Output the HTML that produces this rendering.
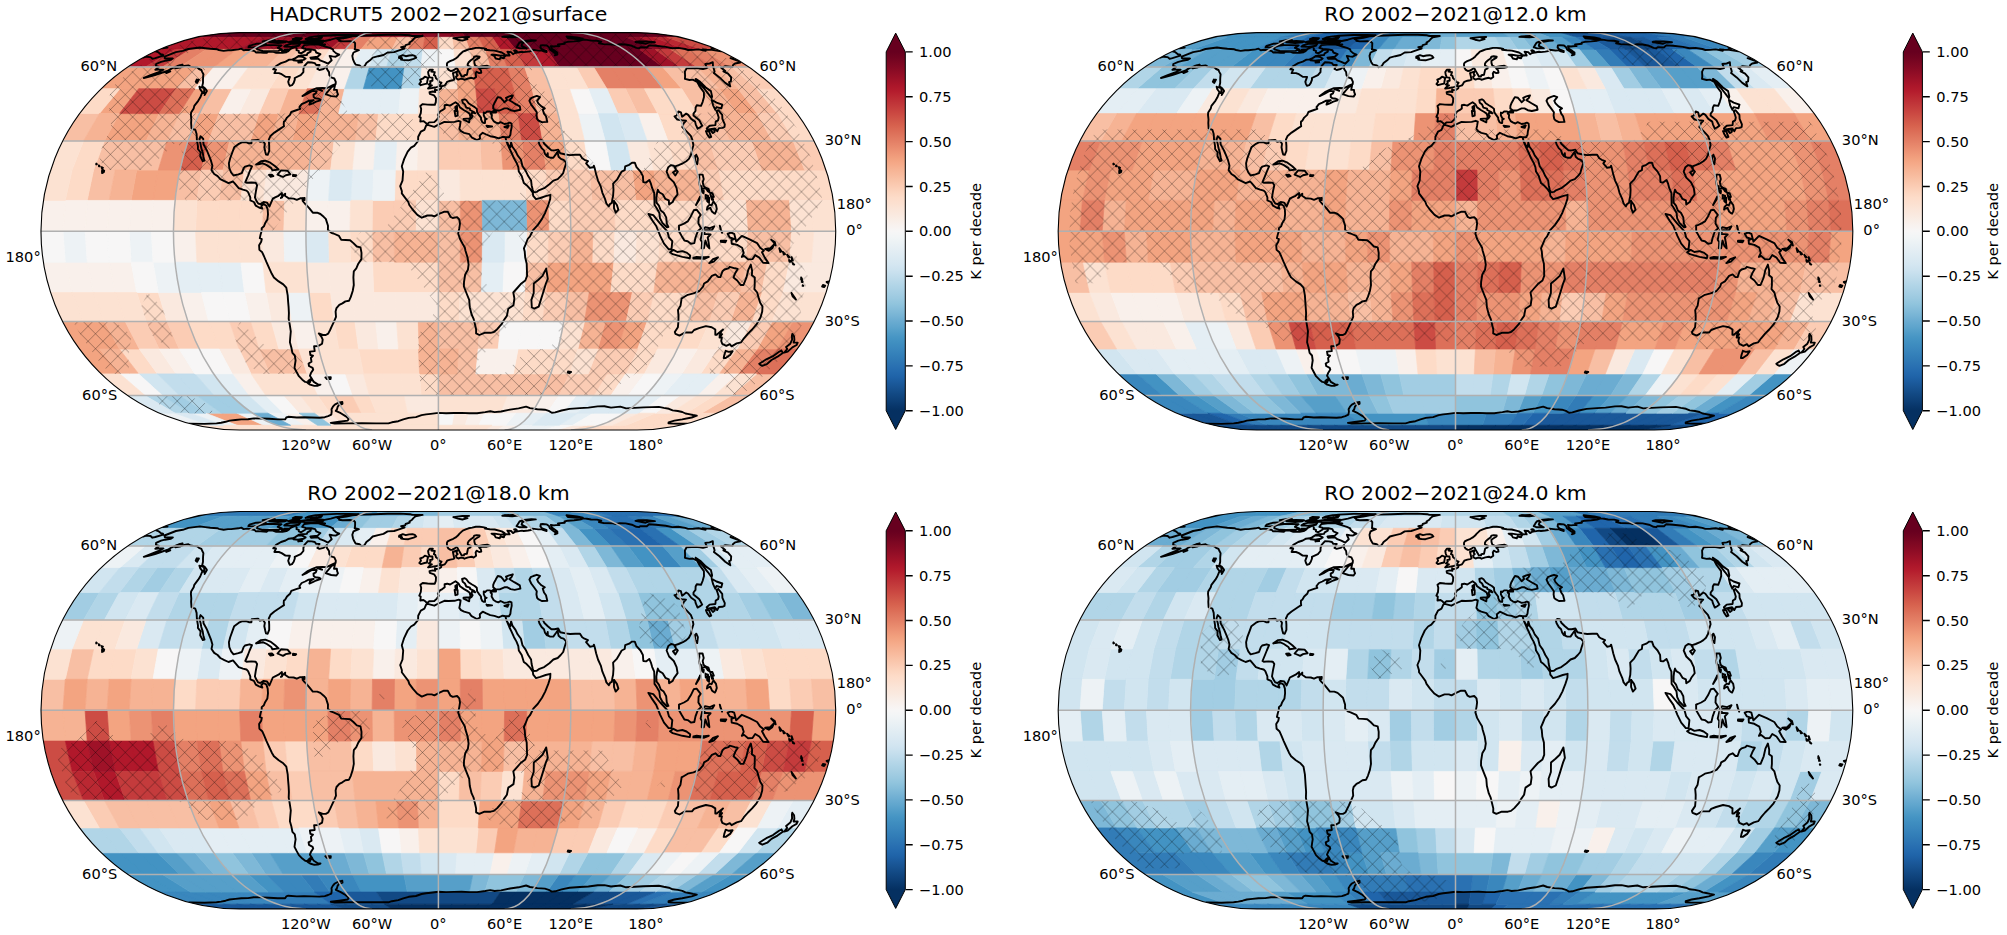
<!DOCTYPE html><html><head><meta charset="utf-8"><title>Temperature trends</title><style>html,body{margin:0;padding:0;background:#fff}svg{display:block}text{font-family:'DejaVu Sans','Liberation Sans',sans-serif;fill:#000}</style></head><body>
<svg width="2007" height="935" viewBox="0 0 2007 935">
<rect width="2007" height="935" fill="#fff"/>
<defs>
<pattern id="hxL" patternUnits="userSpaceOnUse" width="14.862" height="14.952" x="13.77" y="12.32"><path d="M-1.49 -1.5L16.35 16.45M-1.49 16.45L16.35 -1.5" stroke="#000" stroke-opacity="0.68" stroke-width="0.48" fill="none"/></pattern>
<pattern id="hxR" patternUnits="userSpaceOnUse" width="14.862" height="14.952" x="12.63" y="4.38"><path d="M-1.49 -1.5L16.35 16.45M-1.49 16.45L16.35 -1.5" stroke="#000" stroke-opacity="0.68" stroke-width="0.48" fill="none"/></pattern>
<linearGradient id="cb0" gradientUnits="userSpaceOnUse" x1="0" y1="32.6" x2="0" y2="430"><stop offset="0" stop-color="#67001f"/><stop offset="0.0486" stop-color="#67001f"/><stop offset="0.0627" stop-color="#700320"/><stop offset="0.0768" stop-color="#7c0722"/><stop offset="0.0909" stop-color="#870a24"/><stop offset="0.1050" stop-color="#930e26"/><stop offset="0.1192" stop-color="#9f1228"/><stop offset="0.1333" stop-color="#ab162a"/><stop offset="0.1474" stop-color="#b41c2d"/><stop offset="0.1615" stop-color="#ba2832"/><stop offset="0.1756" stop-color="#bf3338"/><stop offset="0.1897" stop-color="#c53e3d"/><stop offset="0.2038" stop-color="#cb4942"/><stop offset="0.2179" stop-color="#d05548"/><stop offset="0.2320" stop-color="#d6604d"/><stop offset="0.2461" stop-color="#db6b55"/><stop offset="0.2602" stop-color="#df765e"/><stop offset="0.2743" stop-color="#e48066"/><stop offset="0.2884" stop-color="#e98b6e"/><stop offset="0.3025" stop-color="#ee9677"/><stop offset="0.3166" stop-color="#f2a17f"/><stop offset="0.3307" stop-color="#f5aa89"/><stop offset="0.3448" stop-color="#f6b394"/><stop offset="0.3589" stop-color="#f8bb9e"/><stop offset="0.3731" stop-color="#f9c4a9"/><stop offset="0.3872" stop-color="#fbccb4"/><stop offset="0.4013" stop-color="#fcd5bf"/><stop offset="0.4154" stop-color="#fddcc9"/><stop offset="0.4295" stop-color="#fce0d0"/><stop offset="0.4436" stop-color="#fbe5d8"/><stop offset="0.4577" stop-color="#fae9df"/><stop offset="0.4718" stop-color="#f9eee7"/><stop offset="0.4859" stop-color="#f8f2ef"/><stop offset="0.5000" stop-color="#f7f6f6"/><stop offset="0.5141" stop-color="#f2f5f6"/><stop offset="0.5282" stop-color="#ecf2f5"/><stop offset="0.5423" stop-color="#e6eff4"/><stop offset="0.5564" stop-color="#e0ecf3"/><stop offset="0.5705" stop-color="#dae9f2"/><stop offset="0.5846" stop-color="#d4e6f1"/><stop offset="0.5987" stop-color="#cce2ef"/><stop offset="0.6128" stop-color="#c2ddec"/><stop offset="0.6269" stop-color="#b8d8e9"/><stop offset="0.6411" stop-color="#aed3e6"/><stop offset="0.6552" stop-color="#a5cee3"/><stop offset="0.6693" stop-color="#9bc9e0"/><stop offset="0.6834" stop-color="#90c4dd"/><stop offset="0.6975" stop-color="#84bcd9"/><stop offset="0.7116" stop-color="#78b4d5"/><stop offset="0.7257" stop-color="#6bacd1"/><stop offset="0.7398" stop-color="#5fa5cd"/><stop offset="0.7539" stop-color="#529dc8"/><stop offset="0.7680" stop-color="#4695c4"/><stop offset="0.7821" stop-color="#3f8ec0"/><stop offset="0.7962" stop-color="#3a87bd"/><stop offset="0.8103" stop-color="#3480b9"/><stop offset="0.8244" stop-color="#2f79b5"/><stop offset="0.8385" stop-color="#2a71b2"/><stop offset="0.8526" stop-color="#246aae"/><stop offset="0.8667" stop-color="#1f63a8"/><stop offset="0.8808" stop-color="#1b5a9c"/><stop offset="0.8950" stop-color="#175290"/><stop offset="0.9091" stop-color="#124984"/><stop offset="0.9232" stop-color="#0e4179"/><stop offset="0.9373" stop-color="#09386d"/><stop offset="0.9514" stop-color="#053061"/><stop offset="1" stop-color="#053061"/></linearGradient>
<linearGradient id="cb1" gradientUnits="userSpaceOnUse" x1="0" y1="32.6" x2="0" y2="430"><stop offset="0" stop-color="#67001f"/><stop offset="0.0486" stop-color="#67001f"/><stop offset="0.0627" stop-color="#700320"/><stop offset="0.0768" stop-color="#7c0722"/><stop offset="0.0909" stop-color="#870a24"/><stop offset="0.1050" stop-color="#930e26"/><stop offset="0.1192" stop-color="#9f1228"/><stop offset="0.1333" stop-color="#ab162a"/><stop offset="0.1474" stop-color="#b41c2d"/><stop offset="0.1615" stop-color="#ba2832"/><stop offset="0.1756" stop-color="#bf3338"/><stop offset="0.1897" stop-color="#c53e3d"/><stop offset="0.2038" stop-color="#cb4942"/><stop offset="0.2179" stop-color="#d05548"/><stop offset="0.2320" stop-color="#d6604d"/><stop offset="0.2461" stop-color="#db6b55"/><stop offset="0.2602" stop-color="#df765e"/><stop offset="0.2743" stop-color="#e48066"/><stop offset="0.2884" stop-color="#e98b6e"/><stop offset="0.3025" stop-color="#ee9677"/><stop offset="0.3166" stop-color="#f2a17f"/><stop offset="0.3307" stop-color="#f5aa89"/><stop offset="0.3448" stop-color="#f6b394"/><stop offset="0.3589" stop-color="#f8bb9e"/><stop offset="0.3731" stop-color="#f9c4a9"/><stop offset="0.3872" stop-color="#fbccb4"/><stop offset="0.4013" stop-color="#fcd5bf"/><stop offset="0.4154" stop-color="#fddcc9"/><stop offset="0.4295" stop-color="#fce0d0"/><stop offset="0.4436" stop-color="#fbe5d8"/><stop offset="0.4577" stop-color="#fae9df"/><stop offset="0.4718" stop-color="#f9eee7"/><stop offset="0.4859" stop-color="#f8f2ef"/><stop offset="0.5000" stop-color="#f7f6f6"/><stop offset="0.5141" stop-color="#f2f5f6"/><stop offset="0.5282" stop-color="#ecf2f5"/><stop offset="0.5423" stop-color="#e6eff4"/><stop offset="0.5564" stop-color="#e0ecf3"/><stop offset="0.5705" stop-color="#dae9f2"/><stop offset="0.5846" stop-color="#d4e6f1"/><stop offset="0.5987" stop-color="#cce2ef"/><stop offset="0.6128" stop-color="#c2ddec"/><stop offset="0.6269" stop-color="#b8d8e9"/><stop offset="0.6411" stop-color="#aed3e6"/><stop offset="0.6552" stop-color="#a5cee3"/><stop offset="0.6693" stop-color="#9bc9e0"/><stop offset="0.6834" stop-color="#90c4dd"/><stop offset="0.6975" stop-color="#84bcd9"/><stop offset="0.7116" stop-color="#78b4d5"/><stop offset="0.7257" stop-color="#6bacd1"/><stop offset="0.7398" stop-color="#5fa5cd"/><stop offset="0.7539" stop-color="#529dc8"/><stop offset="0.7680" stop-color="#4695c4"/><stop offset="0.7821" stop-color="#3f8ec0"/><stop offset="0.7962" stop-color="#3a87bd"/><stop offset="0.8103" stop-color="#3480b9"/><stop offset="0.8244" stop-color="#2f79b5"/><stop offset="0.8385" stop-color="#2a71b2"/><stop offset="0.8526" stop-color="#246aae"/><stop offset="0.8667" stop-color="#1f63a8"/><stop offset="0.8808" stop-color="#1b5a9c"/><stop offset="0.8950" stop-color="#175290"/><stop offset="0.9091" stop-color="#124984"/><stop offset="0.9232" stop-color="#0e4179"/><stop offset="0.9373" stop-color="#09386d"/><stop offset="0.9514" stop-color="#053061"/><stop offset="1" stop-color="#053061"/></linearGradient>
<linearGradient id="cb2" gradientUnits="userSpaceOnUse" x1="0" y1="511.5" x2="0" y2="908.9"><stop offset="0" stop-color="#67001f"/><stop offset="0.0486" stop-color="#67001f"/><stop offset="0.0627" stop-color="#700320"/><stop offset="0.0768" stop-color="#7c0722"/><stop offset="0.0909" stop-color="#870a24"/><stop offset="0.1050" stop-color="#930e26"/><stop offset="0.1192" stop-color="#9f1228"/><stop offset="0.1333" stop-color="#ab162a"/><stop offset="0.1474" stop-color="#b41c2d"/><stop offset="0.1615" stop-color="#ba2832"/><stop offset="0.1756" stop-color="#bf3338"/><stop offset="0.1897" stop-color="#c53e3d"/><stop offset="0.2038" stop-color="#cb4942"/><stop offset="0.2179" stop-color="#d05548"/><stop offset="0.2320" stop-color="#d6604d"/><stop offset="0.2461" stop-color="#db6b55"/><stop offset="0.2602" stop-color="#df765e"/><stop offset="0.2743" stop-color="#e48066"/><stop offset="0.2884" stop-color="#e98b6e"/><stop offset="0.3025" stop-color="#ee9677"/><stop offset="0.3166" stop-color="#f2a17f"/><stop offset="0.3307" stop-color="#f5aa89"/><stop offset="0.3448" stop-color="#f6b394"/><stop offset="0.3589" stop-color="#f8bb9e"/><stop offset="0.3731" stop-color="#f9c4a9"/><stop offset="0.3872" stop-color="#fbccb4"/><stop offset="0.4013" stop-color="#fcd5bf"/><stop offset="0.4154" stop-color="#fddcc9"/><stop offset="0.4295" stop-color="#fce0d0"/><stop offset="0.4436" stop-color="#fbe5d8"/><stop offset="0.4577" stop-color="#fae9df"/><stop offset="0.4718" stop-color="#f9eee7"/><stop offset="0.4859" stop-color="#f8f2ef"/><stop offset="0.5000" stop-color="#f7f6f6"/><stop offset="0.5141" stop-color="#f2f5f6"/><stop offset="0.5282" stop-color="#ecf2f5"/><stop offset="0.5423" stop-color="#e6eff4"/><stop offset="0.5564" stop-color="#e0ecf3"/><stop offset="0.5705" stop-color="#dae9f2"/><stop offset="0.5846" stop-color="#d4e6f1"/><stop offset="0.5987" stop-color="#cce2ef"/><stop offset="0.6128" stop-color="#c2ddec"/><stop offset="0.6269" stop-color="#b8d8e9"/><stop offset="0.6411" stop-color="#aed3e6"/><stop offset="0.6552" stop-color="#a5cee3"/><stop offset="0.6693" stop-color="#9bc9e0"/><stop offset="0.6834" stop-color="#90c4dd"/><stop offset="0.6975" stop-color="#84bcd9"/><stop offset="0.7116" stop-color="#78b4d5"/><stop offset="0.7257" stop-color="#6bacd1"/><stop offset="0.7398" stop-color="#5fa5cd"/><stop offset="0.7539" stop-color="#529dc8"/><stop offset="0.7680" stop-color="#4695c4"/><stop offset="0.7821" stop-color="#3f8ec0"/><stop offset="0.7962" stop-color="#3a87bd"/><stop offset="0.8103" stop-color="#3480b9"/><stop offset="0.8244" stop-color="#2f79b5"/><stop offset="0.8385" stop-color="#2a71b2"/><stop offset="0.8526" stop-color="#246aae"/><stop offset="0.8667" stop-color="#1f63a8"/><stop offset="0.8808" stop-color="#1b5a9c"/><stop offset="0.8950" stop-color="#175290"/><stop offset="0.9091" stop-color="#124984"/><stop offset="0.9232" stop-color="#0e4179"/><stop offset="0.9373" stop-color="#09386d"/><stop offset="0.9514" stop-color="#053061"/><stop offset="1" stop-color="#053061"/></linearGradient>
<linearGradient id="cb3" gradientUnits="userSpaceOnUse" x1="0" y1="511.5" x2="0" y2="908.9"><stop offset="0" stop-color="#67001f"/><stop offset="0.0486" stop-color="#67001f"/><stop offset="0.0627" stop-color="#700320"/><stop offset="0.0768" stop-color="#7c0722"/><stop offset="0.0909" stop-color="#870a24"/><stop offset="0.1050" stop-color="#930e26"/><stop offset="0.1192" stop-color="#9f1228"/><stop offset="0.1333" stop-color="#ab162a"/><stop offset="0.1474" stop-color="#b41c2d"/><stop offset="0.1615" stop-color="#ba2832"/><stop offset="0.1756" stop-color="#bf3338"/><stop offset="0.1897" stop-color="#c53e3d"/><stop offset="0.2038" stop-color="#cb4942"/><stop offset="0.2179" stop-color="#d05548"/><stop offset="0.2320" stop-color="#d6604d"/><stop offset="0.2461" stop-color="#db6b55"/><stop offset="0.2602" stop-color="#df765e"/><stop offset="0.2743" stop-color="#e48066"/><stop offset="0.2884" stop-color="#e98b6e"/><stop offset="0.3025" stop-color="#ee9677"/><stop offset="0.3166" stop-color="#f2a17f"/><stop offset="0.3307" stop-color="#f5aa89"/><stop offset="0.3448" stop-color="#f6b394"/><stop offset="0.3589" stop-color="#f8bb9e"/><stop offset="0.3731" stop-color="#f9c4a9"/><stop offset="0.3872" stop-color="#fbccb4"/><stop offset="0.4013" stop-color="#fcd5bf"/><stop offset="0.4154" stop-color="#fddcc9"/><stop offset="0.4295" stop-color="#fce0d0"/><stop offset="0.4436" stop-color="#fbe5d8"/><stop offset="0.4577" stop-color="#fae9df"/><stop offset="0.4718" stop-color="#f9eee7"/><stop offset="0.4859" stop-color="#f8f2ef"/><stop offset="0.5000" stop-color="#f7f6f6"/><stop offset="0.5141" stop-color="#f2f5f6"/><stop offset="0.5282" stop-color="#ecf2f5"/><stop offset="0.5423" stop-color="#e6eff4"/><stop offset="0.5564" stop-color="#e0ecf3"/><stop offset="0.5705" stop-color="#dae9f2"/><stop offset="0.5846" stop-color="#d4e6f1"/><stop offset="0.5987" stop-color="#cce2ef"/><stop offset="0.6128" stop-color="#c2ddec"/><stop offset="0.6269" stop-color="#b8d8e9"/><stop offset="0.6411" stop-color="#aed3e6"/><stop offset="0.6552" stop-color="#a5cee3"/><stop offset="0.6693" stop-color="#9bc9e0"/><stop offset="0.6834" stop-color="#90c4dd"/><stop offset="0.6975" stop-color="#84bcd9"/><stop offset="0.7116" stop-color="#78b4d5"/><stop offset="0.7257" stop-color="#6bacd1"/><stop offset="0.7398" stop-color="#5fa5cd"/><stop offset="0.7539" stop-color="#529dc8"/><stop offset="0.7680" stop-color="#4695c4"/><stop offset="0.7821" stop-color="#3f8ec0"/><stop offset="0.7962" stop-color="#3a87bd"/><stop offset="0.8103" stop-color="#3480b9"/><stop offset="0.8244" stop-color="#2f79b5"/><stop offset="0.8385" stop-color="#2a71b2"/><stop offset="0.8526" stop-color="#246aae"/><stop offset="0.8667" stop-color="#1f63a8"/><stop offset="0.8808" stop-color="#1b5a9c"/><stop offset="0.8950" stop-color="#175290"/><stop offset="0.9091" stop-color="#124984"/><stop offset="0.9232" stop-color="#0e4179"/><stop offset="0.9373" stop-color="#09386d"/><stop offset="0.9514" stop-color="#053061"/><stop offset="1" stop-color="#053061"/></linearGradient>
</defs>
<clipPath id="c0"><path d="M239.6 32.6L637.1 32.6A198.7 198.7 0 0 1 637.1 430L239.6 430A198.7 198.7 0 0 1 239.6 32.6Z"/></clipPath>
<g clip-path="url(#c0)">
<path fill="#67001f" stroke="#67001f" stroke-width="0.7" d="M236.3 30.6L250.7 30.6L210 37.3L192.6 37.3ZM250.7 30.6L261.7 30.6L223.5 37.3L210 37.3ZM261.7 30.6L272.7 30.6L236.9 37.3L223.5 37.3ZM272.7 30.6L283.8 30.6L250.3 37.3L236.9 37.3ZM283.8 30.6L294.8 30.6L263.8 37.3L250.3 37.3ZM294.8 30.6L305.9 30.6L277.2 37.3L263.8 37.3ZM305.9 30.6L316.9 30.6L290.6 37.3L277.2 37.3ZM316.9 30.6L327.9 30.6L304.1 37.3L290.6 37.3ZM327.9 30.6L339 30.6L317.5 37.3L304.1 37.3ZM339 30.6L350 30.6L330.9 37.3L317.5 37.3ZM350 30.6L361.1 30.6L344.3 37.3L330.9 37.3ZM361.1 30.6L372.1 30.6L357.8 37.3L344.3 37.3ZM460.4 30.6L471.5 30.6L478.6 37.3L465.2 37.3ZM471.5 30.6L482.5 30.6L492.1 37.3L478.6 37.3ZM482.5 30.6L493.6 30.6L505.5 37.3L492.1 37.3ZM493.6 30.6L504.6 30.6L518.9 37.3L505.5 37.3ZM504.6 30.6L515.6 30.6L532.4 37.3L518.9 37.3ZM515.6 30.6L526.7 30.6L545.8 37.3L532.4 37.3ZM526.7 30.6L537.7 30.6L559.2 37.3L545.8 37.3ZM537.7 30.6L548.8 30.6L572.6 37.3L559.2 37.3ZM548.8 30.6L559.8 30.6L586.1 37.3L572.6 37.3ZM559.8 30.6L570.8 30.6L599.5 37.3L586.1 37.3ZM570.8 30.6L581.9 30.6L612.9 37.3L599.5 37.3ZM581.9 30.6L592.9 30.6L626.4 37.3L612.9 37.3ZM592.9 30.6L604 30.6L639.8 37.3L626.4 37.3ZM604 30.6L615 30.6L653.2 37.3L639.8 37.3ZM615 30.6L626 30.6L666.7 37.3L653.2 37.3ZM626 30.6L640.4 30.6L684.1 37.3L666.7 37.3ZM505.5 37.3L518.9 37.3L531.3 49.4L515.8 49.4ZM518.9 37.3L532.4 37.3L546.8 49.4L531.3 49.4ZM532.4 37.3L545.8 37.3L562.3 49.4L546.8 49.4ZM545.8 37.3L559.2 37.3L577.7 49.4L562.3 49.4ZM559.2 37.3L572.6 37.3L593.2 49.4L577.7 49.4ZM572.6 37.3L586.1 37.3L608.7 49.4L593.2 49.4ZM586.1 37.3L599.5 37.3L624.2 49.4L608.7 49.4ZM599.5 37.3L612.9 37.3L639.7 49.4L624.2 49.4ZM612.9 37.3L626.4 37.3L655.2 49.4L639.7 49.4ZM546.8 49.4L562.3 49.4L576.3 67L559.1 67ZM562.3 49.4L577.7 49.4L593.6 67L576.3 67ZM577.7 49.4L593.2 49.4L610.8 67L593.6 67ZM593.2 49.4L608.7 49.4L628.1 67L610.8 67ZM608.7 49.4L624.2 49.4L645.3 67L628.1 67ZM624.2 49.4L639.7 49.4L662.6 67L645.3 67Z"/>
<path fill="#8a0b25" stroke="#8a0b25" stroke-width="0.7" d="M372.1 30.6L383.1 30.6L371.2 37.3L357.8 37.3ZM383.1 30.6L394.2 30.6L384.6 37.3L371.2 37.3ZM394.2 30.6L405.2 30.6L398.1 37.3L384.6 37.3ZM405.2 30.6L416.3 30.6L411.5 37.3L398.1 37.3ZM416.3 30.6L427.3 30.6L424.9 37.3L411.5 37.3ZM427.3 30.6L438.4 30.6L438.4 37.3L424.9 37.3ZM438.4 30.6L449.4 30.6L451.8 37.3L438.4 37.3ZM449.4 30.6L460.4 30.6L465.2 37.3L451.8 37.3ZM626.4 37.3L639.8 37.3L670.7 49.4L655.2 49.4Z"/>
<path fill="#b1182b" stroke="#b1182b" stroke-width="0.7" d="M192.6 37.3L210 37.3L175.1 49.4L154.9 49.4ZM210 37.3L223.5 37.3L190.5 49.4L175.1 49.4ZM223.5 37.3L236.9 37.3L206 49.4L190.5 49.4ZM236.9 37.3L250.3 37.3L221.5 49.4L206 49.4ZM250.3 37.3L263.8 37.3L237 49.4L221.5 49.4ZM492.1 37.3L505.5 37.3L515.8 49.4L500.3 49.4ZM639.8 37.3L653.2 37.3L686.2 49.4L670.7 49.4ZM154.9 49.4L175.1 49.4L145.1 67L122.7 67ZM531.3 49.4L546.8 49.4L559.1 67L541.8 67Z"/>
<path fill="#9f1228" stroke="#9f1228" stroke-width="0.7" d="M263.8 37.3L277.2 37.3L252.5 49.4L237 49.4ZM277.2 37.3L290.6 37.3L268 49.4L252.5 49.4ZM290.6 37.3L304.1 37.3L283.5 49.4L268 49.4ZM304.1 37.3L317.5 37.3L299 49.4L283.5 49.4ZM317.5 37.3L330.9 37.3L314.4 49.4L299 49.4ZM330.9 37.3L344.3 37.3L329.9 49.4L314.4 49.4ZM639.7 49.4L655.2 49.4L679.8 67L662.6 67Z"/>
<path fill="#c43b3c" stroke="#c43b3c" stroke-width="0.7" d="M344.3 37.3L357.8 37.3L345.4 49.4L329.9 49.4ZM175.1 49.4L190.5 49.4L162.4 67L145.1 67ZM515.8 49.4L531.3 49.4L541.8 67L524.6 67ZM655.2 49.4L670.7 49.4L697.1 67L679.8 67Z"/>
<path fill="#e48066" stroke="#e48066" stroke-width="0.7" d="M357.8 37.3L371.2 37.3L360.9 49.4L345.4 49.4ZM411.5 37.3L424.9 37.3L422.9 49.4L407.4 49.4ZM465.2 37.3L478.6 37.3L484.8 49.4L469.3 49.4ZM190.5 49.4L206 49.4L179.6 67L162.4 67ZM484.8 49.4L500.3 49.4L507.3 67L490.1 67ZM686.2 49.4L701.6 49.4L731.6 67L714.3 67ZM507.3 67L524.6 67L532 88.7L513.3 88.7ZM593.6 67L610.8 67L625.6 88.7L606.9 88.7ZM610.8 67L628.1 67L644.4 88.7L625.6 88.7ZM628.1 67L645.3 67L663.1 88.7L644.4 88.7ZM513.3 88.7L532 88.7L538 113.6L518.1 113.6ZM498.2 113.6L518.1 113.6L521.8 141L501 141ZM521.8 141L542.7 141L546.1 170.1L524.5 170.1ZM757.3 349L777.3 349L756.7 373.9L738 373.9Z"/>
<path fill="#f3a481" stroke="#f3a481" stroke-width="0.7" d="M371.2 37.3L384.6 37.3L376.4 49.4L360.9 49.4ZM384.6 37.3L398.1 37.3L391.9 49.4L376.4 49.4ZM237 49.4L252.5 49.4L231.4 67L214.1 67ZM122.7 67L145.1 67L120 88.7L95.6 88.7ZM145.1 67L162.4 67L138.7 88.7L120 88.7ZM162.4 67L179.6 67L157.4 88.7L138.7 88.7ZM179.6 67L196.9 67L176.1 88.7L157.4 88.7ZM455.6 67L472.8 67L475.8 88.7L457.1 88.7ZM645.3 67L662.6 67L681.8 88.7L663.1 88.7ZM120 88.7L138.7 88.7L119.4 113.6L99.4 113.6ZM194.9 88.7L213.6 88.7L199.1 113.6L179.2 113.6ZM457.1 88.7L475.8 88.7L478.2 113.6L458.3 113.6ZM719.3 88.7L738 88.7L757.3 113.6L737.4 113.6ZM119.4 113.6L139.3 113.6L125.2 141L104.4 141ZM139.3 113.6L159.2 113.6L146.1 141L125.2 141ZM199.1 113.6L219 113.6L208.7 141L187.9 141ZM258.9 113.6L278.9 113.6L271.4 141L250.5 141ZM298.8 113.6L318.7 113.6L313.1 141L292.2 141ZM542.7 141L563.6 141L567.6 170.1L546.1 170.1ZM136.7 170.1L158.3 170.1L153 200.4L131.1 200.4ZM158.3 170.1L179.8 170.1L175 200.4L153 200.4ZM632.3 170.1L653.8 170.1L657.8 200.4L635.9 200.4ZM548.1 262.2L570 262.2L567.6 292.5L546.1 292.5ZM570 262.2L592 262.2L589.2 292.5L567.6 292.5ZM592 262.2L613.9 262.2L610.7 292.5L589.2 292.5ZM56.3 321.6L83.5 321.6L99.4 349L73.5 349ZM83.5 321.6L104.4 321.6L119.4 349L99.4 349ZM626.2 321.6L647.1 321.6L637.7 349L617.8 349ZM772.3 321.6L793.2 321.6L777.3 349L757.3 349ZM73.5 349L99.4 349L120 373.9L95.6 373.9ZM206 413.2L221.5 413.2L250.3 425.3L236.9 425.3ZM221.5 413.2L237 413.2L263.8 425.3L250.3 425.3Z"/>
<path fill="#f8bfa4" stroke="#f8bfa4" stroke-width="0.7" d="M398.1 37.3L411.5 37.3L407.4 49.4L391.9 49.4ZM451.8 37.3L465.2 37.3L469.3 49.4L453.8 49.4ZM283.5 49.4L299 49.4L283.1 67L265.9 67ZM469.3 49.4L484.8 49.4L490.1 67L472.8 67ZM196.9 67L214.1 67L194.9 88.7L176.1 88.7ZM524.6 67L541.8 67L550.7 88.7L532 88.7ZM662.6 67L679.8 67L700.6 88.7L681.8 88.7ZM679.8 67L697.1 67L719.3 88.7L700.6 88.7ZM714.3 67L731.6 67L756.7 88.7L738 88.7ZM213.6 88.7L232.3 88.7L219 113.6L199.1 113.6ZM532 88.7L550.7 88.7L558 113.6L538 113.6ZM625.6 88.7L644.4 88.7L657.7 113.6L637.7 113.6ZM681.8 88.7L700.6 88.7L717.5 113.6L697.5 113.6ZM738 88.7L756.7 88.7L777.3 113.6L757.3 113.6ZM73.5 113.6L99.4 113.6L83.5 141L56.3 141ZM179.2 113.6L199.1 113.6L187.9 141L167 141ZM219 113.6L239 113.6L229.6 141L208.7 141ZM239 113.6L258.9 113.6L250.5 141L229.6 141ZM358.6 113.6L378.5 113.6L375.7 141L354.9 141ZM438.4 113.6L458.3 113.6L459.2 141L438.4 141ZM677.6 113.6L697.5 113.6L709.7 141L688.8 141ZM697.5 113.6L717.5 113.6L730.6 141L709.7 141ZM104.4 141L125.2 141L115.2 170.1L93.6 170.1ZM125.2 141L146.1 141L136.7 170.1L115.2 170.1ZM146.1 141L167 141L158.3 170.1L136.7 170.1ZM313.1 141L334 141L330.6 170.1L309.1 170.1ZM480.1 141L501 141L503 170.1L481.4 170.1ZM688.8 141L709.7 141L718.4 170.1L696.9 170.1ZM93.6 170.1L115.2 170.1L109.2 200.4L87.2 200.4ZM179.8 170.1L201.4 170.1L196.9 200.4L175 200.4ZM222.9 170.1L244.4 170.1L240.8 200.4L218.9 200.4ZM589.2 170.1L610.7 170.1L613.9 200.4L592 200.4ZM610.7 170.1L632.3 170.1L635.9 200.4L613.9 200.4ZM262.8 200.4L284.7 200.4L283.8 231.3L261.7 231.3ZM438.4 200.4L460.3 200.4L460.4 231.3L438.4 231.3ZM372.1 231.3L394.2 231.3L394.5 262.2L372.5 262.2ZM438.4 231.3L460.4 231.3L460.3 262.2L438.4 262.2ZM747.5 231.3L769.6 231.3L767.5 262.2L745.6 262.2ZM769.6 231.3L791.6 231.3L789.5 262.2L767.5 262.2ZM438.4 262.2L460.3 262.2L459.9 292.5L438.4 292.5ZM460.3 262.2L482.2 262.2L481.4 292.5L459.9 292.5ZM526.1 262.2L548.1 262.2L546.1 292.5L524.5 292.5ZM745.6 262.2L767.5 262.2L761.5 292.5L740 292.5ZM567.6 292.5L589.2 292.5L584.5 321.6L563.6 321.6ZM696.9 292.5L718.4 292.5L709.7 321.6L688.8 321.6ZM146.1 321.6L167 321.6L179.2 349L159.2 349ZM438.4 321.6L459.2 321.6L458.3 349L438.4 349ZM459.2 321.6L480.1 321.6L478.2 349L458.3 349ZM258.9 349L278.9 349L288.5 373.9L269.8 373.9ZM278.9 349L298.8 349L307.2 373.9L288.5 373.9ZM458.3 349L478.2 349L475.8 373.9L457.1 373.9ZM438.4 373.9L457.1 373.9L455.6 395.6L438.4 395.6ZM457.1 373.9L475.8 373.9L472.8 395.6L455.6 395.6ZM475.8 373.9L494.5 373.9L490.1 395.6L472.8 395.6ZM494.5 373.9L513.3 373.9L507.3 395.6L490.1 395.6ZM513.3 373.9L532 373.9L524.6 395.6L507.3 395.6ZM532 373.9L550.7 373.9L541.8 395.6L524.6 395.6ZM550.7 373.9L569.5 373.9L559.1 395.6L541.8 395.6ZM756.7 373.9L781.1 373.9L754 395.6L731.6 395.6ZM731.6 395.6L754 395.6L721.8 413.2L701.6 413.2Z"/>
<path fill="#d6604d" stroke="#d6604d" stroke-width="0.7" d="M424.9 37.3L438.4 37.3L438.4 49.4L422.9 49.4ZM478.6 37.3L492.1 37.3L500.3 49.4L484.8 49.4ZM500.3 49.4L515.8 49.4L524.6 67L507.3 67ZM472.8 67L490.1 67L494.5 88.7L475.8 88.7ZM490.1 67L507.3 67L513.3 88.7L494.5 88.7ZM494.5 88.7L513.3 88.7L518.1 113.6L498.2 113.6ZM187.9 141L208.7 141L201.4 170.1L179.8 170.1Z"/>
<path fill="#fddbc7" stroke="#fddbc7" stroke-width="0.7" d="M438.4 37.3L451.8 37.3L453.8 49.4L438.4 49.4ZM314.4 49.4L329.9 49.4L317.6 67L300.4 67ZM283.1 67L300.4 67L288.5 88.7L269.8 88.7ZM95.6 88.7L120 88.7L99.4 113.6L73.5 113.6ZM644.4 88.7L663.1 88.7L677.6 113.6L657.7 113.6ZM663.1 88.7L681.8 88.7L697.5 113.6L677.6 113.6ZM756.7 88.7L781.1 88.7L803.2 113.6L777.3 113.6ZM378.5 113.6L398.5 113.6L396.6 141L375.7 141ZM398.5 113.6L418.4 113.6L417.5 141L396.6 141ZM418.4 113.6L438.4 113.6L438.4 141L417.5 141ZM657.7 113.6L677.6 113.6L688.8 141L668 141ZM777.3 113.6L803.2 113.6L820.4 141L793.2 141ZM83.5 141L104.4 141L93.6 170.1L72.1 170.1ZM563.6 141L584.5 141L589.2 170.1L567.6 170.1ZM668 141L688.8 141L696.9 170.1L675.3 170.1ZM72.1 170.1L93.6 170.1L87.2 200.4L65.3 200.4ZM395.3 170.1L416.8 170.1L416.4 200.4L394.5 200.4ZM416.8 170.1L438.4 170.1L438.4 200.4L416.4 200.4ZM524.5 170.1L546.1 170.1L548.1 200.4L526.1 200.4ZM718.4 170.1L740 170.1L745.6 200.4L723.7 200.4ZM740 170.1L761.5 170.1L767.5 200.4L745.6 200.4ZM761.5 170.1L783.1 170.1L789.5 200.4L767.5 200.4ZM783.1 170.1L804.6 170.1L811.4 200.4L789.5 200.4ZM804.6 170.1L832.6 170.1L840 200.4L811.4 200.4ZM196.9 200.4L218.9 200.4L217.5 231.3L195.5 231.3ZM218.9 200.4L240.8 200.4L239.6 231.3L217.5 231.3ZM240.8 200.4L262.8 200.4L261.7 231.3L239.6 231.3ZM548.1 200.4L570 200.4L570.8 231.3L548.8 231.3ZM613.9 200.4L635.9 200.4L637.1 231.3L615 231.3ZM635.9 200.4L657.8 200.4L659.2 231.3L637.1 231.3ZM657.8 200.4L679.8 200.4L681.2 231.3L659.2 231.3ZM679.8 200.4L701.7 200.4L703.3 231.3L681.2 231.3ZM350 231.3L372.1 231.3L372.5 262.2L350.6 262.2ZM526.7 231.3L548.8 231.3L548.1 262.2L526.1 262.2ZM592.9 231.3L615 231.3L613.9 262.2L592 262.2ZM659.2 231.3L681.2 231.3L679.8 262.2L657.8 262.2ZM681.2 231.3L703.3 231.3L701.7 262.2L679.8 262.2ZM703.3 231.3L725.4 231.3L723.7 262.2L701.7 262.2ZM725.4 231.3L747.5 231.3L745.6 262.2L723.7 262.2ZM372.5 262.2L394.5 262.2L395.3 292.5L373.7 292.5ZM394.5 262.2L416.4 262.2L416.8 292.5L395.3 292.5ZM416.4 262.2L438.4 262.2L438.4 292.5L416.8 292.5ZM613.9 262.2L635.9 262.2L632.3 292.5L610.7 292.5ZM635.9 262.2L657.8 262.2L653.8 292.5L632.3 292.5ZM767.5 262.2L789.5 262.2L783.1 292.5L761.5 292.5ZM136.7 292.5L158.3 292.5L167 321.6L146.1 321.6ZM309.1 292.5L330.6 292.5L334 321.6L313.1 321.6ZM438.4 292.5L459.9 292.5L459.2 321.6L438.4 321.6ZM524.5 292.5L546.1 292.5L542.7 321.6L521.8 321.6ZM653.8 292.5L675.3 292.5L668 321.6L647.1 321.6ZM675.3 292.5L696.9 292.5L688.8 321.6L668 321.6ZM761.5 292.5L783.1 292.5L772.3 321.6L751.5 321.6ZM187.9 321.6L208.7 321.6L219 349L199.1 349ZM208.7 321.6L229.6 321.6L239 349L219 349ZM250.5 321.6L271.4 321.6L278.9 349L258.9 349ZM334 321.6L354.9 321.6L358.6 349L338.7 349ZM647.1 321.6L668 321.6L657.7 349L637.7 349ZM668 321.6L688.8 321.6L677.6 349L657.7 349ZM688.8 321.6L709.7 321.6L697.5 349L677.6 349ZM119.4 349L139.3 349L157.4 373.9L138.7 373.9ZM358.6 349L378.5 349L382.2 373.9L363.4 373.9ZM378.5 349L398.5 349L400.9 373.9L382.2 373.9ZM398.5 349L418.4 349L419.6 373.9L400.9 373.9ZM518.1 349L538 349L532 373.9L513.3 373.9ZM538 349L558 349L550.7 373.9L532 373.9ZM558 349L577.9 349L569.5 373.9L550.7 373.9ZM637.7 349L657.7 349L644.4 373.9L625.6 373.9ZM717.5 349L737.4 349L719.3 373.9L700.6 373.9ZM419.6 373.9L438.4 373.9L438.4 395.6L421.1 395.6ZM606.9 373.9L625.6 373.9L610.8 395.6L593.6 395.6ZM317.6 395.6L334.9 395.6L345.4 413.2L329.9 413.2ZM352.1 395.6L369.4 395.6L376.4 413.2L360.9 413.2ZM714.3 395.6L731.6 395.6L701.6 413.2L686.2 413.2ZM655.2 413.2L670.7 413.2L639.8 425.3L626.4 425.3ZM670.7 413.2L686.2 413.2L653.2 425.3L639.8 425.3ZM686.2 413.2L701.6 413.2L666.7 425.3L653.2 425.3ZM701.6 413.2L721.8 413.2L684.1 425.3L666.7 425.3ZM586.1 425.3L599.5 425.3L570.8 432L559.8 432ZM599.5 425.3L612.9 425.3L581.9 432L570.8 432ZM612.9 425.3L626.4 425.3L592.9 432L581.9 432ZM626.4 425.3L639.8 425.3L604 432L592.9 432ZM639.8 425.3L653.2 425.3L615 432L604 432ZM653.2 425.3L666.7 425.3L626 432L615 432ZM666.7 425.3L684.1 425.3L640.4 432L626 432Z"/>
<path fill="#ba2832" stroke="#ba2832" stroke-width="0.7" d="M653.2 37.3L666.7 37.3L701.6 49.4L686.2 49.4Z"/>
<path fill="#cc4c44" stroke="#cc4c44" stroke-width="0.7" d="M666.7 37.3L684.1 37.3L721.8 49.4L701.6 49.4ZM138.7 88.7L157.4 88.7L139.3 113.6L119.4 113.6ZM157.4 88.7L176.1 88.7L159.2 113.6L139.3 113.6ZM475.8 88.7L494.5 88.7L498.2 113.6L478.2 113.6ZM518.1 113.6L538 113.6L542.7 141L521.8 141Z"/>
<path fill="#ec9374" stroke="#ec9374" stroke-width="0.7" d="M206 49.4L221.5 49.4L196.9 67L179.6 67ZM221.5 49.4L237 49.4L214.1 67L196.9 67ZM701.6 49.4L721.8 49.4L754 67L731.6 67ZM167 141L187.9 141L179.8 170.1L158.3 170.1ZM208.7 141L229.6 141L222.9 170.1L201.4 170.1ZM501 141L521.8 141L524.5 170.1L503 170.1ZM460.3 200.4L482.2 200.4L482.5 231.3L460.4 231.3ZM526.1 200.4L548.1 200.4L548.8 231.3L526.7 231.3ZM460.4 231.3L482.5 231.3L482.2 262.2L460.3 262.2ZM589.2 292.5L610.7 292.5L605.3 321.6L584.5 321.6ZM610.7 292.5L632.3 292.5L626.2 321.6L605.3 321.6ZM605.3 321.6L626.2 321.6L617.8 349L597.8 349ZM793.2 321.6L820.4 321.6L803.2 349L777.3 349Z"/>
<path fill="#f6b394" stroke="#f6b394" stroke-width="0.7" d="M252.5 49.4L268 49.4L248.6 67L231.4 67ZM268 49.4L283.5 49.4L265.9 67L248.6 67ZM697.1 67L714.3 67L738 88.7L719.3 88.7ZM288.5 88.7L307.2 88.7L298.8 113.6L278.9 113.6ZM326 88.7L344.7 88.7L338.7 113.6L318.7 113.6ZM438.4 88.7L457.1 88.7L458.3 113.6L438.4 113.6ZM700.6 88.7L719.3 88.7L737.4 113.6L717.5 113.6ZM99.4 113.6L119.4 113.6L104.4 141L83.5 141ZM159.2 113.6L179.2 113.6L167 141L146.1 141ZM278.9 113.6L298.8 113.6L292.2 141L271.4 141ZM318.7 113.6L338.7 113.6L334 141L313.1 141ZM338.7 113.6L358.6 113.6L354.9 141L334 141ZM458.3 113.6L478.2 113.6L480.1 141L459.2 141ZM478.2 113.6L498.2 113.6L501 141L480.1 141ZM538 113.6L558 113.6L563.6 141L542.7 141ZM717.5 113.6L737.4 113.6L751.5 141L730.6 141ZM737.4 113.6L757.3 113.6L772.3 141L751.5 141ZM229.6 141L250.5 141L244.4 170.1L222.9 170.1ZM250.5 141L271.4 141L266 170.1L244.4 170.1ZM271.4 141L292.2 141L287.5 170.1L266 170.1ZM292.2 141L313.1 141L309.1 170.1L287.5 170.1ZM751.5 141L772.3 141L783.1 170.1L761.5 170.1ZM772.3 141L793.2 141L804.6 170.1L783.1 170.1ZM115.2 170.1L136.7 170.1L131.1 200.4L109.2 200.4ZM653.8 170.1L675.3 170.1L679.8 200.4L657.8 200.4ZM675.3 170.1L696.9 170.1L701.7 200.4L679.8 200.4ZM745.6 200.4L767.5 200.4L769.6 231.3L747.5 231.3ZM767.5 200.4L789.5 200.4L791.6 231.3L769.6 231.3ZM394.2 231.3L416.3 231.3L416.4 262.2L394.5 262.2ZM416.3 231.3L438.4 231.3L438.4 262.2L416.4 262.2ZM570.8 231.3L592.9 231.3L592 262.2L570 262.2ZM657.8 262.2L679.8 262.2L675.3 292.5L653.8 292.5ZM679.8 262.2L701.7 262.2L696.9 292.5L675.3 292.5ZM701.7 262.2L723.7 262.2L718.4 292.5L696.9 292.5ZM723.7 262.2L745.6 262.2L740 292.5L718.4 292.5ZM740 292.5L761.5 292.5L751.5 321.6L730.6 321.6ZM104.4 321.6L125.2 321.6L139.3 349L119.4 349ZM417.5 321.6L438.4 321.6L438.4 349L418.4 349ZM584.5 321.6L605.3 321.6L597.8 349L577.9 349ZM99.4 349L119.4 349L138.7 373.9L120 373.9ZM418.4 349L438.4 349L438.4 373.9L419.6 373.9ZM438.4 349L458.3 349L457.1 373.9L438.4 373.9ZM737.4 349L757.3 349L738 373.9L719.3 373.9Z"/>
<path fill="#fbccb4" stroke="#fbccb4" stroke-width="0.7" d="M299 49.4L314.4 49.4L300.4 67L283.1 67ZM576.3 67L593.6 67L606.9 88.7L588.2 88.7ZM731.6 67L754 67L781.1 88.7L756.7 88.7ZM269.8 88.7L288.5 88.7L278.9 113.6L258.9 113.6ZM606.9 88.7L625.6 88.7L637.7 113.6L617.8 113.6ZM757.3 113.6L777.3 113.6L793.2 141L772.3 141ZM438.4 141L459.2 141L459.9 170.1L438.4 170.1ZM459.2 141L480.1 141L481.4 170.1L459.9 170.1ZM709.7 141L730.6 141L740 170.1L718.4 170.1ZM730.6 141L751.5 141L761.5 170.1L740 170.1ZM793.2 141L820.4 141L832.6 170.1L804.6 170.1ZM201.4 170.1L222.9 170.1L218.9 200.4L196.9 200.4ZM546.1 170.1L567.6 170.1L570 200.4L548.1 200.4ZM567.6 170.1L589.2 170.1L592 200.4L570 200.4ZM696.9 170.1L718.4 170.1L723.7 200.4L701.7 200.4ZM372.5 200.4L394.5 200.4L394.2 231.3L372.1 231.3ZM394.5 200.4L416.4 200.4L416.3 231.3L394.2 231.3ZM570 200.4L592 200.4L592.9 231.3L570.8 231.3ZM592 200.4L613.9 200.4L615 231.3L592.9 231.3ZM548.8 231.3L570.8 231.3L570 262.2L548.1 262.2ZM546.1 292.5L567.6 292.5L563.6 321.6L542.7 321.6ZM632.3 292.5L653.8 292.5L647.1 321.6L626.2 321.6ZM718.4 292.5L740 292.5L730.6 321.6L709.7 321.6ZM125.2 321.6L146.1 321.6L159.2 349L139.3 349ZM167 321.6L187.9 321.6L199.1 349L179.2 349ZM229.6 321.6L250.5 321.6L258.9 349L239 349ZM480.1 321.6L501 321.6L498.2 349L478.2 349ZM751.5 321.6L772.3 321.6L757.3 349L737.4 349ZM239 349L258.9 349L269.8 373.9L251.1 373.9ZM597.8 349L617.8 349L606.9 373.9L588.2 373.9ZM617.8 349L637.7 349L625.6 373.9L606.9 373.9ZM569.5 373.9L588.2 373.9L576.3 395.6L559.1 395.6ZM588.2 373.9L606.9 373.9L593.6 395.6L576.3 395.6ZM334.9 395.6L352.1 395.6L360.9 413.2L345.4 413.2Z"/>
<path fill="#fae9df" stroke="#fae9df" stroke-width="0.7" d="M329.9 49.4L345.4 49.4L334.9 67L317.6 67ZM317.6 67L334.9 67L326 88.7L307.2 88.7ZM421.1 67L438.4 67L438.4 88.7L419.6 88.7ZM251.1 88.7L269.8 88.7L258.9 113.6L239 113.6ZM417.5 141L438.4 141L438.4 170.1L416.8 170.1ZM626.2 141L647.1 141L653.8 170.1L632.3 170.1ZM266 170.1L287.5 170.1L284.7 200.4L262.8 200.4ZM287.5 170.1L309.1 170.1L306.7 200.4L284.7 200.4ZM438.4 170.1L459.9 170.1L460.3 200.4L438.4 200.4ZM261.7 231.3L283.8 231.3L284.7 262.2L262.8 262.2ZM615 231.3L637.1 231.3L635.9 262.2L613.9 262.2ZM813.7 231.3L842.4 231.3L840 262.2L811.4 262.2ZM306.7 262.2L328.6 262.2L330.6 292.5L309.1 292.5ZM328.6 262.2L350.6 262.2L352.2 292.5L330.6 292.5ZM350.6 262.2L372.5 262.2L373.7 292.5L352.2 292.5ZM789.5 262.2L811.4 262.2L804.6 292.5L783.1 292.5ZM811.4 262.2L840 262.2L832.6 292.5L804.6 292.5ZM158.3 292.5L179.8 292.5L187.9 321.6L167 321.6ZM266 292.5L287.5 292.5L292.2 321.6L271.4 321.6ZM330.6 292.5L352.2 292.5L354.9 321.6L334 321.6ZM352.2 292.5L373.7 292.5L375.7 321.6L354.9 321.6ZM373.7 292.5L395.3 292.5L396.6 321.6L375.7 321.6ZM395.3 292.5L416.8 292.5L417.5 321.6L396.6 321.6ZM416.8 292.5L438.4 292.5L438.4 321.6L417.5 321.6ZM271.4 321.6L292.2 321.6L298.8 349L278.9 349ZM354.9 321.6L375.7 321.6L378.5 349L358.6 349ZM730.6 321.6L751.5 321.6L737.4 349L717.5 349ZM139.3 349L159.2 349L176.1 373.9L157.4 373.9ZM219 349L239 349L251.1 373.9L232.3 373.9ZM657.7 349L677.6 349L663.1 373.9L644.4 373.9ZM697.5 349L717.5 349L700.6 373.9L681.8 373.9ZM344.7 373.9L363.4 373.9L369.4 395.6L352.1 395.6ZM283.1 395.6L300.4 395.6L314.4 413.2L299 413.2ZM403.9 395.6L421.1 395.6L422.9 413.2L407.4 413.2ZM421.1 395.6L438.4 395.6L438.4 413.2L422.9 413.2ZM507.3 395.6L524.6 395.6L515.8 413.2L500.3 413.2ZM524.6 395.6L541.8 395.6L531.3 413.2L515.8 413.2ZM679.8 395.6L697.1 395.6L670.7 413.2L655.2 413.2ZM314.4 413.2L329.9 413.2L344.3 425.3L330.9 425.3ZM453.8 413.2L469.3 413.2L465.2 425.3L451.8 425.3ZM624.2 413.2L639.7 413.2L612.9 425.3L599.5 425.3ZM492.1 425.3L505.5 425.3L493.6 432L482.5 432ZM572.6 425.3L586.1 425.3L559.8 432L548.8 432Z"/>
<path fill="#f9f0eb" stroke="#f9f0eb" stroke-width="0.7" d="M345.4 49.4L360.9 49.4L352.1 67L334.9 67ZM214.1 67L231.4 67L213.6 88.7L194.9 88.7ZM231.4 67L248.6 67L232.3 88.7L213.6 88.7ZM334.9 67L352.1 67L344.7 88.7L326 88.7ZM232.3 88.7L251.1 88.7L239 113.6L219 113.6ZM637.7 113.6L657.7 113.6L668 141L647.1 141ZM354.9 141L375.7 141L373.7 170.1L352.2 170.1ZM396.6 141L417.5 141L416.8 170.1L395.3 170.1ZM36.7 200.4L65.3 200.4L63 231.3L34.3 231.3ZM65.3 200.4L87.2 200.4L85.1 231.3L63 231.3ZM87.2 200.4L109.2 200.4L107.1 231.3L85.1 231.3ZM109.2 200.4L131.1 200.4L129.2 231.3L107.1 231.3ZM131.1 200.4L153 200.4L151.3 231.3L129.2 231.3ZM153 200.4L175 200.4L173.4 231.3L151.3 231.3ZM306.7 200.4L328.6 200.4L327.9 231.3L305.9 231.3ZM328.6 200.4L350.6 200.4L350 231.3L327.9 231.3ZM173.4 231.3L195.5 231.3L196.9 262.2L175 262.2ZM36.7 262.2L65.3 262.2L72.1 292.5L44.1 292.5ZM65.3 262.2L87.2 262.2L93.6 292.5L72.1 292.5ZM87.2 262.2L109.2 262.2L115.2 292.5L93.6 292.5ZM109.2 262.2L131.1 262.2L136.7 292.5L115.2 292.5ZM179.8 292.5L201.4 292.5L208.7 321.6L187.9 321.6ZM244.4 292.5L266 292.5L271.4 321.6L250.5 321.6ZM292.2 321.6L313.1 321.6L318.7 349L298.8 349ZM375.7 321.6L396.6 321.6L398.5 349L378.5 349ZM159.2 349L179.2 349L194.9 373.9L176.1 373.9ZM478.2 349L498.2 349L494.5 373.9L475.8 373.9ZM498.2 349L518.1 349L513.3 373.9L494.5 373.9ZM677.6 349L697.5 349L681.8 373.9L663.1 373.9ZM232.3 373.9L251.1 373.9L265.9 395.6L248.6 395.6ZM307.2 373.9L326 373.9L334.9 395.6L317.6 395.6ZM625.6 373.9L644.4 373.9L628.1 395.6L610.8 395.6ZM719.3 373.9L738 373.9L714.3 395.6L697.1 395.6ZM541.8 395.6L559.1 395.6L546.8 413.2L531.3 413.2ZM283.5 413.2L299 413.2L317.5 425.3L304.1 425.3ZM469.3 413.2L484.8 413.2L478.6 425.3L465.2 425.3ZM505.5 425.3L518.9 425.3L504.6 432L493.6 432Z"/>
<path fill="#e4eef4" stroke="#e4eef4" stroke-width="0.7" d="M360.9 49.4L376.4 49.4L369.4 67L352.1 67ZM344.7 88.7L363.4 88.7L358.6 113.6L338.7 113.6ZM363.4 88.7L382.2 88.7L378.5 113.6L358.6 113.6ZM382.2 88.7L400.9 88.7L398.5 113.6L378.5 113.6ZM588.2 88.7L606.9 88.7L617.8 113.6L597.8 113.6ZM375.7 141L396.6 141L395.3 170.1L373.7 170.1ZM352.2 170.1L373.7 170.1L372.5 200.4L350.6 200.4ZM175 262.2L196.9 262.2L201.4 292.5L179.8 292.5ZM196.9 262.2L218.9 262.2L222.9 292.5L201.4 292.5ZM218.9 262.2L240.8 262.2L244.4 292.5L222.9 292.5ZM482.2 262.2L504.2 262.2L503 292.5L481.4 292.5ZM213.6 373.9L232.3 373.9L248.6 395.6L231.4 395.6ZM681.8 373.9L700.6 373.9L679.8 395.6L662.6 395.6ZM700.6 373.9L719.3 373.9L697.1 395.6L679.8 395.6ZM248.6 395.6L265.9 395.6L283.5 413.2L268 413.2ZM576.3 395.6L593.6 395.6L577.7 413.2L562.3 413.2ZM645.3 395.6L662.6 395.6L639.7 413.2L624.2 413.2ZM531.3 413.2L546.8 413.2L532.4 425.3L518.9 425.3ZM577.7 413.2L593.2 413.2L572.6 425.3L559.2 425.3Z"/>
<path fill="#d1e5f0" stroke="#d1e5f0" stroke-width="0.7" d="M376.4 49.4L391.9 49.4L386.6 67L369.4 67ZM597.8 113.6L617.8 113.6L626.2 141L605.3 141ZM605.3 141L626.2 141L632.3 170.1L610.7 170.1ZM138.7 373.9L157.4 373.9L179.6 395.6L162.4 395.6ZM194.9 373.9L213.6 373.9L231.4 395.6L214.1 395.6ZM231.4 395.6L248.6 395.6L268 413.2L252.5 413.2Z"/>
<path fill="#b1d5e7" stroke="#b1d5e7" stroke-width="0.7" d="M391.9 49.4L407.4 49.4L403.9 67L386.6 67ZM352.1 67L369.4 67L363.4 88.7L344.7 88.7ZM403.9 67L421.1 67L419.6 88.7L400.9 88.7ZM145.1 395.6L162.4 395.6L190.5 413.2L175.1 413.2ZM179.6 395.6L196.9 395.6L221.5 413.2L206 413.2Z"/>
<path fill="#c2ddec" stroke="#c2ddec" stroke-width="0.7" d="M407.4 49.4L422.9 49.4L421.1 67L403.9 67ZM157.4 373.9L176.1 373.9L196.9 395.6L179.6 395.6ZM176.1 373.9L194.9 373.9L214.1 395.6L196.9 395.6Z"/>
<path fill="#edf2f5" stroke="#edf2f5" stroke-width="0.7" d="M422.9 49.4L438.4 49.4L438.4 67L421.1 67ZM400.9 88.7L419.6 88.7L418.4 113.6L398.5 113.6ZM577.9 113.6L597.8 113.6L605.3 141L584.5 141ZM309.1 170.1L330.6 170.1L328.6 200.4L306.7 200.4ZM373.7 170.1L395.3 170.1L394.5 200.4L372.5 200.4ZM63 231.3L85.1 231.3L87.2 262.2L65.3 262.2ZM129.2 231.3L151.3 231.3L153 262.2L131.1 262.2ZM283.8 231.3L305.9 231.3L306.7 262.2L284.7 262.2ZM504.6 231.3L526.7 231.3L526.1 262.2L504.2 262.2ZM153 262.2L175 262.2L179.8 292.5L158.3 292.5ZM287.5 292.5L309.1 292.5L313.1 321.6L292.2 321.6ZM663.1 373.9L681.8 373.9L662.6 395.6L645.3 395.6ZM154.9 413.2L175.1 413.2L210 425.3L192.6 425.3ZM190.5 413.2L206 413.2L236.9 425.3L223.5 425.3ZM237 413.2L252.5 413.2L277.2 425.3L263.8 425.3ZM268 413.2L283.5 413.2L304.1 425.3L290.6 425.3ZM515.8 413.2L531.3 413.2L518.9 425.3L505.5 425.3ZM518.9 425.3L532.4 425.3L515.6 432L504.6 432ZM532.4 425.3L545.8 425.3L526.7 432L515.6 432ZM545.8 425.3L559.2 425.3L537.7 432L526.7 432Z"/>
<path fill="#f7f6f6" stroke="#f7f6f6" stroke-width="0.7" d="M438.4 49.4L453.8 49.4L455.6 67L438.4 67ZM569.5 88.7L588.2 88.7L597.8 113.6L577.9 113.6ZM584.5 141L605.3 141L610.7 170.1L589.2 170.1ZM34.3 231.3L63 231.3L65.3 262.2L36.7 262.2ZM85.1 231.3L107.1 231.3L109.2 262.2L87.2 262.2ZM107.1 231.3L129.2 231.3L131.1 262.2L109.2 262.2ZM151.3 231.3L173.4 231.3L175 262.2L153 262.2ZM131.1 262.2L153 262.2L158.3 292.5L136.7 292.5ZM240.8 262.2L262.8 262.2L266 292.5L244.4 292.5ZM504.2 262.2L526.1 262.2L524.5 292.5L503 292.5ZM201.4 292.5L222.9 292.5L229.6 321.6L208.7 321.6ZM222.9 292.5L244.4 292.5L250.5 321.6L229.6 321.6ZM501 321.6L521.8 321.6L518.1 349L498.2 349ZM521.8 321.6L542.7 321.6L538 349L518.1 349ZM542.7 321.6L563.6 321.6L558 349L538 349ZM179.2 349L199.1 349L213.6 373.9L194.9 373.9ZM199.1 349L219 349L232.3 373.9L213.6 373.9ZM120 373.9L138.7 373.9L162.4 395.6L145.1 395.6ZM326 373.9L344.7 373.9L352.1 395.6L334.9 395.6ZM644.4 373.9L663.1 373.9L645.3 395.6L628.1 395.6ZM265.9 395.6L283.1 395.6L299 413.2L283.5 413.2ZM559.1 395.6L576.3 395.6L562.3 413.2L546.8 413.2ZM662.6 395.6L679.8 395.6L655.2 413.2L639.7 413.2ZM438.4 413.2L453.8 413.2L451.8 425.3L438.4 425.3ZM484.8 413.2L500.3 413.2L492.1 425.3L478.6 425.3ZM500.3 413.2L515.8 413.2L505.5 425.3L492.1 425.3ZM593.2 413.2L608.7 413.2L586.1 425.3L572.6 425.3ZM608.7 413.2L624.2 413.2L599.5 425.3L586.1 425.3ZM559.2 425.3L572.6 425.3L548.8 432L537.7 432Z"/>
<path fill="#fce2d2" stroke="#fce2d2" stroke-width="0.7" d="M453.8 49.4L469.3 49.4L472.8 67L455.6 67ZM248.6 67L265.9 67L251.1 88.7L232.3 88.7ZM265.9 67L283.1 67L269.8 88.7L251.1 88.7ZM300.4 67L317.6 67L307.2 88.7L288.5 88.7ZM438.4 67L455.6 67L457.1 88.7L438.4 88.7ZM541.8 67L559.1 67L569.5 88.7L550.7 88.7ZM559.1 67L576.3 67L588.2 88.7L569.5 88.7ZM419.6 88.7L438.4 88.7L438.4 113.6L418.4 113.6ZM550.7 88.7L569.5 88.7L577.9 113.6L558 113.6ZM558 113.6L577.9 113.6L584.5 141L563.6 141ZM56.3 141L83.5 141L72.1 170.1L44.1 170.1ZM334 141L354.9 141L352.2 170.1L330.6 170.1ZM647.1 141L668 141L675.3 170.1L653.8 170.1ZM44.1 170.1L72.1 170.1L65.3 200.4L36.7 200.4ZM244.4 170.1L266 170.1L262.8 200.4L240.8 200.4ZM459.9 170.1L481.4 170.1L482.2 200.4L460.3 200.4ZM481.4 170.1L503 170.1L504.2 200.4L482.2 200.4ZM503 170.1L524.5 170.1L526.1 200.4L504.2 200.4ZM175 200.4L196.9 200.4L195.5 231.3L173.4 231.3ZM284.7 200.4L306.7 200.4L305.9 231.3L283.8 231.3ZM350.6 200.4L372.5 200.4L372.1 231.3L350 231.3ZM416.4 200.4L438.4 200.4L438.4 231.3L416.3 231.3ZM701.7 200.4L723.7 200.4L725.4 231.3L703.3 231.3ZM723.7 200.4L745.6 200.4L747.5 231.3L725.4 231.3ZM789.5 200.4L811.4 200.4L813.7 231.3L791.6 231.3ZM811.4 200.4L840 200.4L842.4 231.3L813.7 231.3ZM195.5 231.3L217.5 231.3L218.9 262.2L196.9 262.2ZM217.5 231.3L239.6 231.3L240.8 262.2L218.9 262.2ZM239.6 231.3L261.7 231.3L262.8 262.2L240.8 262.2ZM327.9 231.3L350 231.3L350.6 262.2L328.6 262.2ZM637.1 231.3L659.2 231.3L657.8 262.2L635.9 262.2ZM791.6 231.3L813.7 231.3L811.4 262.2L789.5 262.2ZM262.8 262.2L284.7 262.2L287.5 292.5L266 292.5ZM284.7 262.2L306.7 262.2L309.1 292.5L287.5 292.5ZM44.1 292.5L72.1 292.5L83.5 321.6L56.3 321.6ZM72.1 292.5L93.6 292.5L104.4 321.6L83.5 321.6ZM93.6 292.5L115.2 292.5L125.2 321.6L104.4 321.6ZM115.2 292.5L136.7 292.5L146.1 321.6L125.2 321.6ZM459.9 292.5L481.4 292.5L480.1 321.6L459.2 321.6ZM481.4 292.5L503 292.5L501 321.6L480.1 321.6ZM503 292.5L524.5 292.5L521.8 321.6L501 321.6ZM783.1 292.5L804.6 292.5L793.2 321.6L772.3 321.6ZM804.6 292.5L832.6 292.5L820.4 321.6L793.2 321.6ZM313.1 321.6L334 321.6L338.7 349L318.7 349ZM396.6 321.6L417.5 321.6L418.4 349L398.5 349ZM563.6 321.6L584.5 321.6L577.9 349L558 349ZM709.7 321.6L730.6 321.6L717.5 349L697.5 349ZM298.8 349L318.7 349L326 373.9L307.2 373.9ZM318.7 349L338.7 349L344.7 373.9L326 373.9ZM338.7 349L358.6 349L363.4 373.9L344.7 373.9ZM577.9 349L597.8 349L588.2 373.9L569.5 373.9ZM95.6 373.9L120 373.9L145.1 395.6L122.7 395.6ZM251.1 373.9L269.8 373.9L283.1 395.6L265.9 395.6ZM269.8 373.9L288.5 373.9L300.4 395.6L283.1 395.6ZM288.5 373.9L307.2 373.9L317.6 395.6L300.4 395.6ZM363.4 373.9L382.2 373.9L386.6 395.6L369.4 395.6ZM382.2 373.9L400.9 373.9L403.9 395.6L386.6 395.6ZM400.9 373.9L419.6 373.9L421.1 395.6L403.9 395.6ZM738 373.9L756.7 373.9L731.6 395.6L714.3 395.6ZM300.4 395.6L317.6 395.6L329.9 413.2L314.4 413.2ZM369.4 395.6L386.6 395.6L391.9 413.2L376.4 413.2ZM386.6 395.6L403.9 395.6L407.4 413.2L391.9 413.2ZM438.4 395.6L455.6 395.6L453.8 413.2L438.4 413.2ZM455.6 395.6L472.8 395.6L469.3 413.2L453.8 413.2ZM472.8 395.6L490.1 395.6L484.8 413.2L469.3 413.2ZM490.1 395.6L507.3 395.6L500.3 413.2L484.8 413.2ZM697.1 395.6L714.3 395.6L686.2 413.2L670.7 413.2ZM329.9 413.2L345.4 413.2L357.8 425.3L344.3 425.3ZM345.4 413.2L360.9 413.2L371.2 425.3L357.8 425.3ZM360.9 413.2L376.4 413.2L384.6 425.3L371.2 425.3ZM376.4 413.2L391.9 413.2L398.1 425.3L384.6 425.3ZM391.9 413.2L407.4 413.2L411.5 425.3L398.1 425.3ZM407.4 413.2L422.9 413.2L424.9 425.3L411.5 425.3ZM422.9 413.2L438.4 413.2L438.4 425.3L424.9 425.3ZM639.7 413.2L655.2 413.2L626.4 425.3L612.9 425.3ZM192.6 425.3L210 425.3L250.7 432L236.3 432ZM210 425.3L223.5 425.3L261.7 432L250.7 432ZM223.5 425.3L236.9 425.3L272.7 432L261.7 432ZM236.9 425.3L250.3 425.3L283.8 432L272.7 432ZM250.3 425.3L263.8 425.3L294.8 432L283.8 432ZM263.8 425.3L277.2 425.3L305.9 432L294.8 432ZM277.2 425.3L290.6 425.3L316.9 432L305.9 432ZM290.6 425.3L304.1 425.3L327.9 432L316.9 432ZM304.1 425.3L317.5 425.3L339 432L327.9 432ZM317.5 425.3L330.9 425.3L350 432L339 432ZM330.9 425.3L344.3 425.3L361.1 432L350 432ZM344.3 425.3L357.8 425.3L372.1 432L361.1 432ZM357.8 425.3L371.2 425.3L383.1 432L372.1 432ZM371.2 425.3L384.6 425.3L394.2 432L383.1 432ZM384.6 425.3L398.1 425.3L405.2 432L394.2 432ZM398.1 425.3L411.5 425.3L416.3 432L405.2 432ZM411.5 425.3L424.9 425.3L427.3 432L416.3 432ZM424.9 425.3L438.4 425.3L438.4 432L427.3 432ZM438.4 425.3L451.8 425.3L449.4 432L438.4 432ZM451.8 425.3L465.2 425.3L460.4 432L449.4 432ZM465.2 425.3L478.6 425.3L471.5 432L460.4 432ZM478.6 425.3L492.1 425.3L482.5 432L471.5 432Z"/>
<path fill="#dd7059" stroke="#dd7059" stroke-width="0.7" d="M670.7 49.4L686.2 49.4L714.3 67L697.1 67ZM176.1 88.7L194.9 88.7L179.2 113.6L159.2 113.6ZM307.2 88.7L326 88.7L318.7 113.6L298.8 113.6ZM777.3 349L803.2 349L781.1 373.9L756.7 373.9Z"/>
<path fill="#4393c3" stroke="#4393c3" stroke-width="0.7" d="M369.4 67L386.6 67L382.2 88.7L363.4 88.7ZM386.6 67L403.9 67L400.9 88.7L382.2 88.7Z"/>
<path fill="#dae9f2" stroke="#dae9f2" stroke-width="0.7" d="M617.8 113.6L637.7 113.6L647.1 141L626.2 141ZM330.6 170.1L352.2 170.1L350.6 200.4L328.6 200.4ZM305.9 231.3L327.9 231.3L328.6 262.2L306.7 262.2ZM482.5 231.3L504.6 231.3L504.2 262.2L482.2 262.2ZM122.7 395.6L145.1 395.6L175.1 413.2L154.9 413.2ZM593.6 395.6L610.8 395.6L593.2 413.2L577.7 413.2ZM610.8 395.6L628.1 395.6L608.7 413.2L593.2 413.2ZM628.1 395.6L645.3 395.6L624.2 413.2L608.7 413.2ZM175.1 413.2L190.5 413.2L223.5 425.3L210 425.3ZM546.8 413.2L562.3 413.2L545.8 425.3L532.4 425.3ZM562.3 413.2L577.7 413.2L559.2 425.3L545.8 425.3Z"/>
<path fill="#7eb8d7" stroke="#7eb8d7" stroke-width="0.7" d="M482.2 200.4L504.2 200.4L504.6 231.3L482.5 231.3ZM504.2 200.4L526.1 200.4L526.7 231.3L504.6 231.3Z"/>
<path fill="#a2cde3" stroke="#a2cde3" stroke-width="0.7" d="M162.4 395.6L179.6 395.6L206 413.2L190.5 413.2ZM196.9 395.6L214.1 395.6L237 413.2L221.5 413.2ZM214.1 395.6L231.4 395.6L252.5 413.2L237 413.2Z"/>
<path fill="#6bacd1" stroke="#6bacd1" stroke-width="0.7" d="M252.5 413.2L268 413.2L290.6 425.3L277.2 425.3Z"/>
<path fill="#90c4dd" stroke="#90c4dd" stroke-width="0.7" d="M299 413.2L314.4 413.2L330.9 425.3L317.5 425.3Z"/>
<path fill="url(#hxL)" fill-rule="evenodd" d="M223.5 33.8L235.7 33.8L248 33.8L260.3 33.8L272.6 33.8L284.9 33.8L297.1 33.8L309.4 33.8L321.7 33.8L334 33.8L346.3 33.8L358.5 33.8L364.7 33.8L351.4 42.6L337.7 49.4L322.2 49.4L306.7 49.4L291.2 49.4L275.7 49.4L260.2 49.4L244.8 49.4L229.3 49.4L213.8 49.4L198.3 49.4L175.9 57.6L171 67L188.2 67L205.5 67L204 77.4L186.6 100.8L189.1 113.6L209.1 113.6L229 113.6L249 113.6L268.9 113.6L288.8 113.6L302.8 100.8L316.6 88.7L335.3 88.7L341.5 100.8L348.6 113.6L368.6 113.6L388.5 113.6L408.4 113.6L417.9 127L407 141L386.2 141L365.3 141L344.4 141L332.1 155.4L319.9 170.1L307.7 185.2L295.7 200.4L284 215.8L272.7 231.3L262 215.8L251.8 200.4L229.9 200.4L207.9 200.4L186 200.4L177 185.2L183.4 155.4L177.4 141L162.2 155.4L147.5 170.1L126 170.1L104.4 170.1L98.5 155.4L111.3 127L109.4 113.6L109.1 100.8L110.6 88.7L122.9 77.4L151.3 57.6L184.6 42.6L223.5 33.8ZM377 33.8L383.1 33.8L395.4 33.8L407.7 33.8L419.9 33.8L432.2 33.8L444.5 33.8L456.8 33.8L469 33.8L481.3 33.8L493.6 33.8L505.9 33.8L518.2 33.8L530.4 33.8L542.7 33.8L555 33.8L567.3 33.8L579.6 33.8L591.8 33.8L604.1 33.8L616.4 33.8L628.7 33.8L641 33.8L653.2 33.8L692.1 42.6L725.4 57.6L753.8 77.4L777.3 100.8L796 127L810.1 155.4L819.5 185.2L822.4 200.4L813.1 215.8L802.7 231.3L791.1 246.8L800.5 262.2L808.6 277.4L799.5 307.2L803.7 321.6L796 335.6L777.3 361.8L753.8 385.2L740.2 395.6L723 395.6L726.7 385.2L728.7 373.9L709.9 373.9L709.5 361.8L724.5 335.6L720.2 321.6L699.3 321.6L678.4 321.6L663.2 335.6L651.4 361.8L635 373.9L618.6 385.2L602.2 395.6L585 395.6L567.7 395.6L550.5 395.6L533.2 395.6L516 395.6L498.7 395.6L481.5 395.6L464.2 395.6L447 395.6L429.7 395.6L420.3 385.2L419 361.8L417.9 335.6L427.9 321.6L438.4 307.2L427.6 292.5L416.6 277.4L405.4 262.2L383.5 262.2L361.5 262.2L350.2 246.8L361.1 231.3L383.1 231.3L394.3 215.8L405.4 200.4L416.6 185.2L427.6 170.1L438.4 185.2L449.3 200.4L471.3 200.4L493.2 200.4L515.2 200.4L525.5 185.2L513.8 170.1L502.1 155.4L490.5 141L469.7 141L448.8 141L438.4 127L438.4 100.8L438.4 77.4L447 67L464.2 67L471.2 57.6L461.6 49.4L446.1 49.4L438.4 57.6L429.7 67L420.3 77.4L410.3 88.7L391.5 88.7L372.8 88.7L366.3 77.4L372.7 57.6L368.7 49.4L365.9 42.6L377 33.8ZM533.2 67L528.5 77.4L541.4 88.7L554.6 100.8L561 127L574 141L587.1 155.4L599.9 170.1L621.5 170.1L643 170.1L650.8 155.4L657.5 141L678.4 141L683.6 127L687.6 113.6L707.5 113.6L709.5 100.8L690.7 77.4L671.2 67L654 67L636.7 67L619.5 67L602.2 67L585 67L567.7 67L550.5 67L533.2 67ZM493.6 231.3L482.4 246.8L481.9 277.4L492.2 292.5L513.8 292.5L525.5 277.4L526.5 246.8L515.6 231.3L493.6 231.3ZM511.4 321.6L499.7 335.6L488.2 349L477.1 361.8L485.2 373.9L503.9 373.9L515.8 361.8L528.1 349L548 349L561 335.6L553.2 321.6L532.3 321.6L511.4 321.6ZM140.9 307.2L147.5 292.5L162.2 307.2L172.6 335.6L169.2 349L152.2 335.6L140.9 307.2ZM80.7 335.6L73 321.6L93.9 321.6L114.8 321.6L131.8 335.6L129.3 349L128.5 361.8L129.3 373.9L110.6 373.9L99.4 361.8L80.7 335.6ZM234 335.6L240 321.6L254.4 335.6L268.9 349L288.8 349L302.8 361.8L297.9 373.9L279.2 373.9L260.4 373.9L244.7 361.8L234 335.6ZM159.5 405L153.7 395.6L171 395.6L188.2 395.6L208.7 405L213.8 413.2L198.3 413.2L182.8 413.2L159.5 405Z"/>
<path fill="none" stroke="#000" stroke-width="1.9" stroke-linejoin="round" stroke-linecap="round" d="M164.5 56.6L175.9 52.1L182.8 50.9L188.4 49L199.9 47.5L205.3 48.2L210.3 48.8L217.2 49.3L218.9 50L223.6 50.9L228 50.2L231.1 50.2L238.6 49.4L241.3 48.7L243.6 50.2L247.4 49.7L251.1 50.3L254.7 51.1L255.9 52.5L257.9 52.2L263.7 52.7L266.6 52.9L268.2 51.6L272.8 51.7L276.2 52.9L282.5 52.9L286.4 52.2L289.5 50.2L289.7 49.4L295.7 46.5L296.7 48.7L296.5 50.2L298.8 50.9L298.8 52.5L301.1 53.4L305.1 50.9L306.4 49.7L310.9 49.9L310.6 51.7L307.5 53.4L306.8 55L302.5 55.4L298.8 55.9L294.9 58.5L292.5 59.4L288.8 59.8L285.6 61.6L281 63.1L276.1 66L273.2 69.4L276 69.6L274.4 73.1L278.9 73.1L281.7 74.2L285.5 76.7L289.9 76.9L288.2 81.8L288.9 84.1L289.8 85.9L292 85.2L293.7 82.9L294.8 79.6L294.7 78L300.7 75.2L303.4 72.1L303.4 69L304.4 66L307.9 62.2L311.8 62.5L314.8 63.1L316.2 65L319.6 65L317.4 69L319.4 70L323.4 69L327 66.2L326.9 69L329 72.1L329.3 75.2L331.1 77.4L334.3 78.5L335.8 81.8L335.6 84.1L332.8 85.2L328.2 87.5L326.1 88.2L322.5 88L316.8 88.2L312.4 89.9L307.7 92.2L302.5 96.1L307.1 93.9L312 91.1L316.7 91.1L315.8 93.4L313.5 94.7L313.7 97.1L315.2 98.3L318.9 98.8L320.6 99.6L320.4 100.3L316.1 101.6L312.7 103.3L309.4 104.6L310.1 102.1L313.7 100.1L308.6 100.8L305.1 102.6L301.7 104.1L299.4 107.1L300.2 108.9L296.9 110L291.3 112L290 114.9L287 117.6L285.1 120.8L283.9 121.6L283.7 124.3L284 126.2L281.1 128.1L278.1 130.1L274.4 132.6L270.5 135.9L268.8 139.6L269.2 145.8L269.2 151L267.7 154.8L266 154.5L265.3 151.9L264.3 147.3L264.9 143.8L263 141L260.1 141.8L258.1 139.9L254.9 140.1L251.7 140.4L251.4 143.3L248.9 143.3L246 142.1L241.8 142.4L238.9 143.8L234.2 147.3L232.3 152.5L230.2 158.3L228.9 163.3L229.3 168.1L231.1 172.5L233.5 175.5L238.4 174.3L241.8 173.1L243.7 168.1L245 166.6L249.5 165.4L252 166.3L249.6 171.6L247.9 176.1L245.3 182.1L246.5 182.8L251.4 182.5L255.7 182.8L257.1 185.2L255.9 191.3L254.9 197.4L256.2 200.4L258.2 203.5L260.3 204.1L263.6 202L267 202.6L268.4 204.7L269.4 206.6L272.8 198.6L275.1 197.4L278.5 195.8L281.9 193.1L282.1 197.4L280.9 198L285.2 193.7L285 195.8L288.6 198.3L293.6 198.6L296.8 199.8L300.2 198.3L302.4 198.3L302.7 201L304.8 203.5L306.4 205L309.6 208.7L312.8 212.7L317.2 212.7L320.4 214L323.7 216.8L325.8 218.9L328 225.7L327.9 229.8L331.3 232.8L333.5 233.5L339 235.9L341.2 239.7L345.7 240L350.1 240.3L353.4 243.1L356.8 246.5L360.5 247.4L361.5 252.9L361.4 259.1L358.3 263.7L356.3 268.3L353.8 271.3L353.4 277.4L353.8 285L352.7 291L350.8 296.9L349 300.8L345.4 301.4L342.4 303.4L339.3 304.9L336.5 308.1L335.6 311.6L336 316.8L334 321.6L331.6 326.7L330.1 330L328.2 333.6L325.8 335L322.8 335L318.8 333.4L321.5 336.9L322.7 339.6L322.1 343.7L318 346.1L314.1 346.3L314.7 351.1L309.9 351.6L310.4 355L313 355.7L310.9 358L311.5 361.8L308.6 363.5L309 366L312.6 367.9L313.2 369.6L311.1 372.7L309.9 375.8L312.2 379.2L310.4 379.2L308.3 380.8L309.3 382.6L305.2 381.9L302.3 379.7L298.9 376.2L296.3 371.5L294.5 367.9L295 364.3L295.6 360.5L294.8 355.5L292.4 352.9L291.4 347.7L289.9 342.3L290.2 338.3L290.8 331.4L289.7 324.4L288.7 318.8L288.9 313L288.6 307.2L288.1 301.4L287.7 295.4L286.3 287.7L283.3 284.4L278.7 281.4L273.9 277.4L271.8 273.8L269.4 268.6L266.5 262.2L263.9 256L262.2 252.3L259.4 249.9L259.1 245.2L261.2 241.8L261.8 239L259.8 238.1L260.6 234.4L261.7 230.7L261.7 228.2L263.9 226.3L265.1 223.3L267.4 219.5L268 214.3L267.7 209.7L266.4 205.7L263.6 204.1L261.3 206L262.3 208.7L259 207.5L255.8 205.7L253.9 202L250.3 200.4L250.3 197.4L248.1 192.2L246.5 190.6L242.9 189.7L238.7 188.2L234.9 183.7L233 181.5L228.5 183.1L224.4 181.2L220.3 179.1L217.6 176.1L214.2 174L211.5 170.1L212.4 165.7L210.9 160.4L208.9 155.4L207.1 151L205.6 148.1L203.5 144.4L203.2 138.7L200.5 136.2L199.4 139.6L200.5 143.8L201.3 148.1L202.7 152.5L203.5 157.4L204.5 160.7L202.8 161.2L200.2 156.3L200.6 152.5L197.9 149L198 146.7L196.9 140.1L196.6 134L195.3 129.8L191.5 128.4L191.1 123L191.3 119.5L190.9 114.9L191.1 112.6L193.7 108.4L194.3 105.9L198.2 100.8L200.2 97.6L202.2 92.7L205.1 93L204.6 95.1L206.9 91.1L206.2 89.9L204.7 88L202.2 86.4L203 82.9L203 79.6L203.1 77.4L203.4 74.2L202.3 72.1L201.4 70L199 69L197.3 67.4L193.4 67L190.4 66.6L188.4 65.4L184.3 66L179.8 67.6L175.3 68.4L179 65.4L182.6 64.6L177.4 66L171.9 68.4L168.5 70.4L161 73.1L155 75.2L148.7 76.9L143.8 78L150.6 75.2L158.7 72.1L163.4 69.6L159 69.6L155.3 69.8L158.9 67L155.9 66L156.1 64L161.1 61.8L165 60.8L170.9 59.8L172.8 58.5L169.5 58.5L164.9 58.3L164.5 56.6M312.6 380.1L313.8 381.9L318.2 384.6L320.5 384.6L317.8 385.7L314.3 385.9L310.1 384.6L307.5 383L309.9 382.4L311 379.9L312.6 380.1M325.4 377.4L330.8 377.2L330.6 379L326.9 379L325.4 377.4M337.4 39L346.3 37.7L352.5 36.4L360.5 35.7L374 35.3L387.6 34.8L400.4 34.7L410 35.3L412.2 36L422.6 36L415.5 37.3L413.4 39.2L412.1 40.8L409.4 42.6L409.7 43.8L405.6 45.1L405.1 46.5L401.1 47.2L404.5 48.7L402 49.4L397.6 50.9L394.1 52.1L387.6 52.5L383.5 55L378.2 56.2L372.7 57.6L370 60.3L366.4 63.1L364.4 66.4L361.5 67.2L359.6 65.4L355.6 64.6L354.2 62.2L353 59.4L352.3 55.9L353.5 52.5L358.9 50.2L354.7 49.4L355 47.9L355.1 45.8L355.1 43.2L354.1 42L350 41.1L342.6 41.4L339.1 40.8L339.1 39.7L337.4 39M399.2 56.7L402.8 55.2L405.8 56.2L409.2 55.5L412.5 55.2L414.8 55.9L416.2 57.6L413.6 58.8L408.4 60.3L404.2 60.1L401 59.6L402.1 58.5L398.9 57.8L401.5 57.3L399.2 56.7M328 63.7L324.1 61.8L320 60.3L318 58.5L311.1 58.8L310.4 57.6L317.6 56.7L320.4 54.2L316.2 52.5L315.2 50.2L311.4 49.4L305.7 49L302.2 47.9L304.2 45.1L312.9 44.2L318.5 44.5L321.8 45.4L325.1 46.5L329.8 47.9L333 49.4L333.3 50.9L336.2 53.4L339.3 54.7L335.6 56.7L332.5 56.4L329.6 55.9L331.7 60.3L328 63.7M257.1 49.4L262.8 50.9L268.8 51.1L278.4 50.9L281.9 49.4L277.7 47.9L281.5 45.4L274.4 45.1L267 45.1L261.3 45.8L257.5 47.2L257.1 49.4M248.4 47.2L254 47.5L258.7 46.5L266.2 44.7L265.6 43.4L256.1 43.8L249.3 45.8L248.4 47.2M310.7 40.8L318.7 40.3L324.5 41L330.8 39.7L336 38.2L345.1 36.9L353.2 36L358.6 35.3L349.1 35L336.4 35L321.5 35.7L316.9 36.4L320.2 37.3L321 38.2L313.6 39.2L310.7 40.8M300.2 42L304.2 43.1L312.8 43.2L321.9 42.9L323.4 41.8L316.9 41.4L307.5 41L300.2 42M269.2 42.3L278 43.1L285.1 42.3L286.9 41.4L279 41L271.2 41.4L269.2 42.3M284.3 46.5L291.3 46.9L298.8 45.8L300.2 43.8L291.3 43.8L286.3 45.1L284.3 46.5M305.6 39L316.9 38.9L322.1 37L315.5 36.4L309 37.5L305.6 39M293.4 60.3L297.9 60.8L303.6 59.9L305.6 58.5L302.1 56.7L298.3 56.4L294.9 58.5L293.4 60.3M325.5 94.2L331.2 96.1L336.4 96.6L338 94.4L337.1 92.2L336.9 89.9L334 89.9L335 85.2L331.6 87.1L327.9 91.5L325.5 94.2M199.4 86.8L204 88.2L204.4 92.5L202.1 91.8L200.1 89.2L199.4 86.8M196.7 79.6L198.9 79.6L197.1 82.9L195.7 81.8L196.7 79.6M166.5 71.4L170.3 71.4L166.3 73.1L166.5 71.4M256.1 164.5L261 161.2L265.3 160.7L270.3 162.7L275.2 166.3L278.6 169.5L272.4 170.4L271.2 168.1L266.8 165.1L262.8 163.3L258.3 164.2L256.1 164.5M277.5 174.6L281 170.4L287.5 170.7L290.5 174.3L285.8 175.2L283 177L277.5 174.6M269 174.9L271.9 174.6L273.4 176.1L270.5 176.7L269 174.9M293 174.9L296.2 175.2L295.5 176.1L292.9 176.1L293 174.9M302.8 198.3L304.6 198L304.5 200.1L302.7 200.1L302.8 198.3M102.4 169.5L104.2 170.7L103.8 172.2L102.1 173.1L102 171L102.4 169.5M101.6 167.2L102.9 167.8L101.9 168.3L101.6 167.2M98.9 165.4L99.7 166.3L98.9 166.3L98.9 165.4M96.3 163.6L96.9 164.2L96.2 164.5L96.3 163.6M427 124.3L425.6 122.7L423.4 121.1L420.3 121.6L420.7 117.6L419.3 116.8L420.8 113.1L421.2 108.9L420.3 105.9L422.7 104.1L427.6 104.6L431.5 104.8L434.8 104.8L435.8 102.1L436 98.3L434.1 95.4L429.8 93.9L429.5 92.2L432.7 91.5L435.3 92L435 89.4L436.5 90.1L438.7 89.9L441.2 88.2L441.5 86.4L444.8 85.4L446.1 83.6L447.1 81.8L450.2 80.7L452.9 80.2L454.3 79.6L453.6 76.3L452.9 73.1L455.6 72.1L457 71.6L456.7 74.2L457.7 75.2L456 76.7L456.4 78.5L458.3 79.6L461 78.7L463.4 79.1L464.4 79.8L468.2 78.5L471.7 77.8L473.7 78.7L476.1 76.9L475.6 73.5L476.6 71.8L479.1 73.1L481.3 72.7L480.9 70.4L479.2 68.6L481.7 68L486.8 67.8L490.1 67L487.2 65.8L483 66.2L478.1 67.2L475.2 65.6L474.4 63.1L474.3 60.8L476.5 59.4L479.4 57.6L479.6 56.6L476.6 56.2L474.2 56.7L473.5 58.5L470.8 60.3L468.7 62.2L467.8 64L467.8 65.6L470.8 67L470.5 68.4L468 69.6L467.5 72.1L466.9 74.8L464.3 75.2L463.9 76.5L461.7 76.5L460.6 74.6L458.6 71L457.5 69L456.5 68L454.9 69.4L452.4 70.8L450.6 71L448.3 69.6L447 67L446.9 64L447.6 62.5L450.1 61.2L453.3 59.9L455.7 58.5L457.9 56.7L459.3 55L461.4 53L462.8 51.7L465.7 50.5L468.6 49.4L472.2 48.7L475.8 47.9L479.6 47.9L482.8 48.2L486.2 49L484.9 49.7L489.8 50.3L494.7 50.6L501.8 52.5L504.6 54.2L504.3 55.4L500.8 55.7L494.7 54.7L491.5 54.7L494.5 56.2L495.7 58.5L499.7 59.4L500.4 57.6L503.9 58.3L504.4 56.7L506.2 55.2L509.6 55.5L508.8 53.8L507.4 51.7L511.1 52.1L513 54.2L514.8 53L517.7 52.5L521.9 51.7L523.7 52.1L528.1 51.6L532.4 50.9L532.3 49.7L538.3 50.5L541.2 50.2L543.6 51.3L546.6 52.1L546.5 50.9L542.1 49.4L540.4 47.5L540.7 45.4L542.7 45.1L546.8 45.5L549 47.2L549.9 49.4L553.4 52.1L556.6 54.2L554.8 55.4L557.4 54.5L557.3 52.5L555.1 50.9L551.8 48.7L550.9 46.1L553.9 46.5L555.8 46.2L559.4 46.1L558 44.5L564.8 43.8L564.5 42.6L567.7 41.8L574.1 41.4L580 40.7L583.6 39.5L586.9 39.9L591.1 40.6L597 40.7L601.3 41.7L598.9 43.2L603.5 44.1L613 44.5L615.7 45.1L619.9 44.2L625.6 44.5L631.9 45.8L636.4 47.9L639.2 48.2L640.5 47.2L646.8 47.4L648.2 46.1L649 45.4L655.9 45.8L665.7 46.9L672.2 48.2L678.5 47.9L685.2 49L688.1 50L693.3 49.9L698.5 49.4L705.6 50.9L702.4 49.4L706.9 49.7L711.9 49.9L721.2 51.3M155.5 51.3L158.2 52.2L160.8 54.2L163 54.7L163.3 55.7L155.3 58.1L152.4 58.8L150.6 57.1L146.3 56.7L143.1 57.6M733.6 57.6L732.7 58.5L730.5 58.1L738.7 61.2L740.3 62.5L735 63.5L733.1 65L732.4 67L725.3 66.2L723.2 67.2L720.9 67.4L725.2 71L723.4 71.4L728 73.7L731.2 77.4L730.9 81.4L729.1 82.2L730.3 86.4L725.2 82.9L719.5 77.4L713.9 73.1L714.6 71.4L713 66L712.8 62.2L709.6 63.5L705.3 64L707 68L703 69L696.6 68L686.6 68.4L684.9 71.6L685.1 76.3L684.9 78.9L689.5 80L692.7 79.6L697.1 81.8L699.6 86.4L703.9 92.2L704 97.1L702.6 102.1L701 105.9L696.8 105.3L695.6 107.6L695.5 111L693.5 113.6L693.5 115.5L699.3 120.3L702.2 125.7L700.1 127.3L697.6 128.7L695.7 124.3L695.1 121.6L691.2 118.9L688.2 114.9L686.2 113.6L682.9 116.3L682.1 116.8L680.9 112.3L678.5 111.5L676.6 115.7L674.5 116.3L677.3 119.5L681.7 120.3L686 120.8L683.9 123L682.2 127L686.3 131.2L690.8 135.9L692.3 139.6L693.4 145.3L691.9 150.4L691 154.8L688.9 158.9L686.3 161.2L682.9 163.3L678.6 165.1L675.2 166.3L675.8 169.2L673.8 165.7L671.1 165.1L668.3 167.2L666.6 171.6L669.1 177.6L673.8 182.1L676.6 188.2L677.6 194.3L674.1 198.9L672.7 202L669.1 204.4L668.8 200.4L665.4 198.9L662.7 194.3L659.2 192.2L657.8 189.7L657.1 192.8L656.4 197.4L656.5 202.6L658.9 205.7L660.8 210.6L663.7 212.7L666.2 217.4L666.8 223.6L668.4 227L666.9 227.3L662.4 222.9L660 218.3L659.3 212.7L656.1 207.2L654.5 205L654.4 198.9L654.2 192.8L652.2 188.2L650.9 183.7L649.3 180L646 182.5L643.3 182.1L642.9 176.1L640.5 171.6L636.5 167.2L634.8 162.7L632 162.7L629.2 164.8L625.2 166.3L624.7 170.1L621.7 171.6L619.1 176.1L617 179.7L613.1 183.7L613.5 189.7L613.1 195.8L612.3 199.5L611.9 202.9L610.2 203.8L608.8 206.3L606.4 203.5L605 198.9L602.4 192.8L600.8 186.7L598 180.6L596.2 174.6L594.8 168.6L593.9 165.7L593.1 167.2L589.9 167.8L586.1 163.3L588 161.2L584.5 159.8L582.2 158.3L580 154.8L575.3 154.8L570 155.1L565.7 154.5L560.2 153.3L558.2 149.6L554.5 150.4L551.4 150.4L547.8 147.3L544.2 143.8L542.6 140.4L540.1 140.1L538.6 141.6L539.4 144.4L541.6 148.1L544 150.4L545 153.9L546.8 156.3L547.7 153.1L547.9 156.8L550.2 157.7L553.3 157.7L556.1 153.9L557.5 151.9L558.6 156.8L560.9 158.9L563.6 159.8L566.3 162.7L564.6 168.1L563.2 173.1L560.7 176.1L557.7 179.1L553.4 180.6L549.4 184.3L544.2 188.2L538.8 190.3L536.7 191.9L533.5 192.2L532.7 189.7L531.6 185.2L531.1 180.6L528.2 176.1L525.6 170.7L522.5 166.3L520.9 159.8L517.6 155.4L515.5 151L512.4 146.7L511.1 142.4L510.6 146.1L510.3 147.3L508.7 145.3L506.4 141.3L505.4 137.3L509 137.3L510.4 134.8L510.8 131.2L511.7 127L511.5 123.5L509.8 122.7L507.4 123.5L504.4 124L500.6 122.1L498.3 123.5L495.5 122.4L493.6 121.1L491.6 117.6L491.9 114.9L490.6 113.6L492.1 112.6L496 112.6L496 110.7L493.8 110.7L491 112.3L490 111.5L487 111.5L485.2 113.1L483.7 112.6L483.8 115.5L485.2 118.4L486.7 118.9L485.1 119.5L485 123L483.8 123L482.3 122.1L481.1 119.5L481 117.6L478.9 114.9L477.1 112.3L476.8 108.9L474.7 107.1L471.6 105.3L468.6 103.3L466.4 100.3L464.8 99.3L462.1 100.1L462.7 102.8L464.9 104.6L466.3 107.6L469.9 108.7L470 110L474.1 112L475.2 113.4L472.2 112.3L471.5 114.4L472.6 116.3L471.5 118.1L470 119.2L470.4 116.5L469.5 113.6L467.2 112L464.1 110.2L460 107.4L458.5 104.6L455.5 102.3L453 103.8L450.1 105.6L447.2 104.8L444.6 105.3L444.7 108.4L442.3 110.2L439.9 111.5L437.8 114.9L438.8 116.8L436.9 119.7L434.3 122.1L429.2 122.4L427 124.3M495.8 110.5L499.7 110.5L504.4 108.4L507.4 108.4L510.6 110.2L514.7 111L520.4 109.7L519.8 106.4L514.3 103.3L511.1 101.3L509.3 100.1L511.5 98.3L512.8 95.4L509.2 96.4L506 97.8L507 100.1L504.4 102.3L503 100.3L500.8 97.8L497.8 97.1L496.3 99.6L495.7 100.8L494.3 103.3L493.2 105.9L493.2 108.4L495.8 110.5M538.3 120.3L541.7 122.1L547.3 121.9L546 116.3L544 113.6L542.8 109.7L544.8 108.4L541.4 106.4L538.3 103.3L537.1 100.8L540 97.1L536.8 95.9L533.3 97.1L530.7 98.3L529.4 100.8L531.2 104.6L534 108.4L536.8 112.3L536.4 115.5L537.1 118.9L538.3 120.3M505.4 137.3L502.7 136.8L498.7 138.4L494.4 137L490.2 136.2L486.3 134.5L482.7 132.8L479.8 135.4L480 138.7L476.9 140.1L471.6 137.3L469.4 134.2L464.1 132.8L461 131.2L459.3 129L460 125.7L460.6 121.6L458.6 120.8L454.6 121.9L448.5 122.1L444.4 121.9L438.4 124.6L434.3 126.8L427.6 124.9L426.1 125.7L424.4 129.8L420.8 131.7L418.2 136.8L418.1 141L414.2 145.8L411 147.6L407.7 151.6L404.2 158.9L401.8 166.3L403.2 171.6L402.5 180.6L400.2 186.1L401.9 191.3L401.8 193.4L404.8 197.4L408.3 202L409.3 205L413 210L417.4 214.9L421.8 217.7L427.3 215.5L431.7 215.5L434.4 216.4L439.5 213.7L443.9 211.8L447.8 211.8L450.5 216.8L452.7 218L457.1 217.1L459.3 219.5L460 223.6L459.3 228.2L458.2 233.5L460 239L462.6 243.7L464.8 247.4L465.4 250.5L467.6 257.6L468.6 264.6L467.9 269.8L465.2 274.4L464 282L463.9 286.5L466.8 294L469.2 299.9L469.8 307.2L471.6 314.5L473.6 318.8L475.3 325.8L476.1 329.5L476.1 333.4L479.3 335L484.5 332.8L490.7 332.8L493.9 332L497.2 329.2L501.8 323.9L503.8 320.2L506.9 315.9L508 310.1L508.3 308.7L513.5 305.2L514.4 298.4L513.3 292.5L517.3 288L520.7 284.1L525.3 280.5L527.1 275.9L526.9 269.8L526.7 263.7L525.2 257.6L524.7 251.4L523.9 248.3L525.5 244.6L527.7 239L530 236.3L533.3 229.8L537.7 225.1L542 218.9L545.2 212.7L548.3 205L550.2 198.9L550.4 194.9L545.7 196.1L540.3 198L536 199.2L533.2 195.8L532.8 192.8L530 188.8L526.6 185.2L523.8 183.1L521.7 176.1L518.8 171.6L518.3 167.2L516.5 162.7L514 158.3L511.4 152.5L509.3 148.1L506.4 141.3M546.2 268.6L547.8 278.9L545.9 283.5L542.7 294L538.7 306.6L534.2 308.7L531.8 307.2L531.4 299.9L533.7 293.1L533.8 283.5L538.4 279.8L542.5 275.9L546.2 268.6M428.1 88.5L431.8 88L436.5 87.1L440.8 85.9L439.8 85.2L441.5 82.7L438.9 81.8L438.4 80.2L436 78.3L435.3 75.9L433.9 75.2L434.8 72.1L431.3 71.6L432.8 69.8L429.6 69.8L428.1 72.1L428.5 74.6L429.7 77.4L432.4 77.6L432.5 80.7L430.1 81.1L430.6 82.9L428.7 84.5L431.9 85.4L430 86.4L428.1 88.5M426.9 83.6L427.4 80.7L428.1 78L424.9 76.7L423 78.5L420.2 79.6L421 81.8L419.3 84.1L420.8 85.2L424.5 84.1L426.9 83.6M463.5 118.9L469.5 118.4L469.2 122.4L463.6 119.7L463.5 118.9M454.6 111L457.6 111L457.6 115.7L455.4 116.3L454.6 111M455.3 107.1L457 105.9L457.1 109.7L455.5 109.2L455.3 107.1M486.5 125.7L492.1 126.5L487.4 127L486.5 125.7M504.4 127L508.7 125.4L507.5 127.9L504.4 127M516.6 47.2L519.7 48.4L526.6 48.4L521.6 45.8L522.1 43.8L524.7 42L532 40.8L535.8 40.5L531.3 40.3L523.7 41L519.5 42.6L518.3 44.5L516.6 47.2M453.4 38.2L457.9 39.7L462.4 40.6L467.5 39.2L464.1 37.7L469.1 37L462.4 37.1L453.4 38.2M568 38.2L576.6 39L582.8 38.7L577.1 37.5L566.5 36.4L568 38.2M635.5 42L645.6 43.8L648.6 42.6L654.9 42.2L647 41.4L638.4 41.4L635.5 42M711.4 47.9L711.9 47.2M164.8 47.2L167.5 47.6L162.3 48.2M714.4 48.2L711.4 47.9M695.7 78.9L700.2 81.8L705.8 87.5L710.9 91.1L712.1 96.4L711.6 98.3L708 93.4L703.3 87.5L695.7 78.9M715.2 109.7L713.1 105.3L711.7 99.8L716.5 102.6L722.3 104.6L721.3 108.4L716.5 107.1L715.2 109.7M718.3 110.2L722.2 114.9L722.4 118.9L724.8 124.3L724.5 127L722.4 127.9L718.9 128.1L717.2 131.2L714.9 128.4L710.2 129.2L707.3 129.8L706.7 128.4L709.6 125.7L715.4 125.1L715.7 121.6L718.1 120.3L718.7 117.6L717.5 113.6L716.5 111L718.3 110.2M705.9 131.2L708.9 131.2L711.2 136.8L709.5 137.6L707 134L705.9 131.2M710.5 130.1L714.3 129.2L714.7 131.7L712.9 133.1L710.5 130.1M696.3 154.8L697.9 158.3L697.2 164.2L695.2 161.2L695.1 156L696.3 154.8M673 172.5L676.4 170.1L677.8 171.6L675.3 175.5L673 172.5M614 201L616.9 205L618.4 209.7L615.7 212.7L614 208.1L614 201M699.1 174.6L702.6 174.6L703.7 179.1L702.7 182.1L703.5 185.8L705.5 187.6L708.5 188.8L709.7 192.5L707.8 191.3L706.1 188.5L703.9 188.5L701.6 188.8L701.4 186.4L699.7 185.2L698.9 181.5L699.4 178.2L699.1 174.6M701.3 190L703.8 191L703.5 193.4L702 191.9L701.3 190M710.2 192.8L712.4 193.1L713.8 196.8L712.3 197.4L710.8 195.5L710.2 192.8M710.9 196.1L712.3 197.1L713.1 199.8L712 199.8L710.9 196.1M706.9 198L709.1 197.7L709 202.9L707.3 201.4L706.9 198M705.5 194.9L708 195.8L707.2 198.9L705.7 198.6L705.5 194.9M706.9 209.7L707.4 206.9L709.6 204.7L711.6 205.3L713.4 201.4L716 205L716.8 209L715.9 211.8L714.9 213.7L713.8 213.1L711.9 211.5L710.3 207.8L708 208.7L706.9 209.7M696 205L700.2 196.4L699.4 199.5L696 205M648.4 214L653.3 215.2L660.2 223.6L667.3 231.3L669 237.5L672.3 241.2L671.5 249.2L668.6 249.2L664 243.7L660.2 235.9L656.2 226L652.4 220.5L648.4 214M670 252.3L673.4 249.9L677.3 252L682.4 251.1L686.5 252.6L690.2 255.4L689.8 258.2L682.4 256.9L677 255.4L672.7 254.2L670 252.3M679 225.7L680.5 225.1L684 223.6L687.7 221.4L690.8 216.4L693.8 210.3L696.6 209.7L700.7 214.9L698.6 218L698.4 223.6L701.1 228.2L697.8 231.3L695.5 237.5L694.3 243.1L690.9 243.7L687.7 241.2L684.4 240.6L681.6 235.9L679 231.3L679 225.7M702.9 229.8L705.1 227.3L709.9 228.2L714.3 226.3L712.1 230.1L705.5 230.1L703.7 234.1L706.6 234.1L710.6 234.4L707.7 237.5L708.6 242.1L709.4 248.3L707.4 246.2L705.4 240.6L703.9 248.3L701.7 248.3L702 242.1L700.6 239.7L702.9 229.8M727.6 233.8L730.9 232.5L734.2 233.8L736.2 241.5L741.9 235.9L749.6 239.3L757.1 243.1L760.2 247.7L763.9 250.5L762 252.3L764.8 257.6L768.5 263.1L763.1 262.8L759.3 257.6L755.2 255.1L752.5 259.1L748.1 259.4L744.1 256L741.8 256.9L743.7 252.9L742.1 247.7L737.2 244.9L731.7 243.7L731.4 240L734.1 239L729.7 237.5L727.6 233.8M709.3 263.1L713 259.1L718 257.3L713.8 261.6L709.3 263.1M693.4 257.6L696.7 256.9L700 257.3L704.4 257.3L708.8 256.9L704.2 258.8L698.8 258.5L693.3 258.5L693.4 257.6M719.8 225.7L721 229.8L722.1 232.8L720.5 228.8L719.8 225.7M720.8 240.6L726.3 240.6L725.2 242.4L720.8 241.8L720.8 240.6M765.2 248.9L770.1 248.3L774.1 244.3L772.3 248.3L768.8 250.8L765.2 248.9M771.2 239.7L774.8 242.1L775.7 245.5L773.7 242.4L771.2 239.7M779.3 248.3L781.5 251.4L780.3 252L779.3 248.3M783 252L785 254.2L783.8 254.5L783 252M787.1 254.8L789.7 257.3L788.6 257.6L787.1 254.8M789.1 260L791.3 261.6L789.5 261.9L789.1 260M791.7 257.3L792.8 260.6L792 260L791.7 257.3M792.7 263.1L794.2 264.6L793.1 264.3L792.7 263.1M801.2 277.4L802.1 279.2L801.1 279.5L801.2 277.4M802 280.5L802.7 282L801.9 282L802 280.5M802.8 285.3L803.3 285.9L802.6 285.9L802.8 285.3M791.5 293.1L795.2 298.4L795.9 299.6L792.6 296.3L791.5 293.1M823 285L825.2 285.6L824.1 287.1L822.1 286.5L823 285M826.6 282L829.2 281.4L827.5 282.9L826.6 282M681.6 298.4L682.8 297.8L687.8 294.8L693.5 293.4L699.4 291L703.1 286.5L704.1 283.5L707.7 281.4L711.9 275.9L715.4 274.4L718.3 277.1L720.4 277.1L722.5 271.3L724.5 269.5L728.4 268.3L729.7 266.8L734.9 268.3L737.7 268.9L735.3 272.9L733.5 277.4L737.2 280.5L740.6 285L743.5 285L746.5 277.4L748.3 269.8L750.8 264.6L752.1 270.7L751.9 275.3L754.8 277.4L754.7 285L754.4 289.2L757.2 292.5L758.8 298.4L760.2 302.8L762.5 306.6L762.2 311.6L760.6 317.3L756.5 324.4L752.1 329.5L748 333.6L743.9 338.3L741.1 342.3L736.7 343.4L731.6 346.3L729.8 344.2L726.3 345.8L722.3 343.9L721.2 341L721.9 337.5L719.5 337.5L722.1 334.2L719.5 336.1L721.3 331.4L723 329.5L716.7 334.7L715.3 334.7L715.3 329.5L711.7 327.2L705.9 326.1L699 328.1L694.1 330L692 332.5L684.8 332.5L679.5 335.6L675.5 333.9L674.8 332L677.9 327.2L678.4 321.6L678.5 315.9L678 310.1L680.5 305.8L681.6 298.4M725.7 350.8L728.7 351.9L732.6 351.3L730.1 355L725.7 358L723.7 358L724.3 355L725.7 350.8M792.3 333.9L794.1 336.4L794.4 339.9L793.6 342.6L797.7 342.6L796.6 345L792.4 347.4L787.7 351.6L784.2 352.6L787.2 349L786.1 347.1L790.3 343.7L792.1 339.6L791.9 335.6L792.3 333.9M781.5 350.6L782.8 352.9L777.5 356.7L771.5 360L767.3 363.8L762.3 365.8L760.3 364.8L759.2 363.8L766.3 359.3L773 356.2L779.4 351.6L781.5 350.6M568.1 371.5L571.1 372L569.4 373.2L567.7 372.7L568.1 371.5M189.5 423.6L204.5 423.9L216.5 423.4L221.1 422.7L225.6 421.8L229.6 420.6L235.4 420L241.3 419.4L248 419.2L253.8 418.4L261.4 418.5L269.3 418.8L277.8 419.4L285.1 419.4L286.3 417.5L288.3 416.8L296.8 417.5L303.9 417.2L311.7 417.5L319.5 417.7L324.8 417.2L328.1 416.1L331.3 414.7L331.7 411.7L331.5 409.2L332.9 406.7L334.8 404.6L338.6 402.7L342.3 401.9L342.5 403.8L339.1 405L337.7 406.7L337 409.2L335.8 410.9L340.8 413.2L345.5 416.1L348.7 418.8L347.7 420.6L339.1 421.8L330.8 422.9L334.7 423.6L348.2 423.4L361.9 423.2L376 423.4L388.4 423.4L391.9 422.3L398.3 421.2L403.3 419.4L408.7 417.9L415.9 417.1L421.6 415.1L426.1 414.4L430.7 413.9L438.4 412.9L446.1 413.2L453.9 413L461.6 412.9L469.3 413.2L477.1 413.2L485.2 412.1L490.3 411.2L494.6 412.1L501.1 411.5L510 409.6L518.6 408.4L526.1 406.6L530 408.1L537.3 409.2L544.9 409.7L548.7 410.9L551.8 412.7L555.2 412.4L561.6 410.5L569.5 408.9L579.9 408.1L588.4 407.6L597.7 406.4L604.4 406.2L611 407.6L620.3 406.6L626.1 408.4L634.8 407.9L643.5 407.4L652.1 407.1L658.8 406.9L663.8 407.9L668.9 408.8L672.6 410.4L677.8 411L682.3 412L685.5 413.5L688.9 414.1L693.1 415L696.8 415.7L691.7 417.5L682.2 419.4L674.4 420.6L668.6 422.3L668.5 423.4L673.3 423.6L679.9 423.7L686.8 423.7M262.6 41.4L267.8 41.6L275 40.3L271.8 39.8L262.6 41.4M288.2 42.2L296.9 42.2L299.3 40.8L294.1 40.6L288.2 42.2M298.1 42.8L302.2 42.9L303.6 42.1L299.4 42L298.1 42.8M282 51.3L288.1 51.4L289.3 49.7L284.6 49.7L282 51.3M292.8 39.2L300.7 39.4L301.9 38.2L295.5 38L292.8 39.2M318.5 44.5L323.3 45.4L325.1 44.5L320.6 43.9L318.5 44.5M298.3 62.5L302 62.2L301.8 61.2L299 61.6L298.3 62.5M317.4 89.2L321.6 90.6L322.1 90.8L318.4 88.9L317.4 89.2M502.3 36.9L512.2 37.3L518 36.7L513 36L504.4 36.4L502.3 36.9M514.4 50.9L516.9 51.3L515.5 50.2L514.1 50.5L514.4 50.9"/>
<path fill="none" stroke="#b0b0b0" stroke-width="1.5" d="M127.9 395.6L748.8 395.6M62.6 321.6L814.1 321.6M40.9 231.3L835.8 231.3M62.6 141L814.1 141M127.9 67L748.8 67M305.9 32.6A132.5 198.7 0 0 0 305.9 430M372.1 32.6A66.2 198.7 0 0 0 372.1 430M504.6 32.6A66.2 198.7 0 0 1 504.6 430M570.8 32.6A132.5 198.7 0 0 1 570.8 430M438.4 32.6L438.4 430"/>
</g>
<path fill="none" stroke="#000" stroke-width="1.1" d="M239.6 32.6L637.1 32.6A198.7 198.7 0 0 1 637.1 430L239.6 430A198.7 198.7 0 0 1 239.6 32.6Z"/>
<path fill="url(#cb0)" stroke="#000" stroke-width="1" stroke-linejoin="miter" d="M886.2 51.9L895.7 33.1L905.3 51.9L905.3 410.7L895.7 429.5L886.2 410.7Z"/>
<path stroke="#000" stroke-width="1.4" fill="none" d="M905.8 51.9h6.9M905.8 96.8h6.9M905.8 141.6h6.9M905.8 186.5h6.9M905.8 231.3h6.9M905.8 276.2h6.9M905.8 321h6.9M905.8 365.9h6.9M905.8 410.7h6.9"/>
<text transform="translate(981.25 231.3) rotate(-90) scale(1.053 1)" font-size="13.89" text-anchor="middle">K per decade</text>
<text transform="translate(438.35 20.7) scale(1.053 1)" font-size="19.44" text-anchor="middle">HADCRUT5 2002−2021@surface</text>
<text transform="translate(305.87 450) scale(1.053 1)" font-size="13.89" text-anchor="middle">120°W</text>
<text transform="translate(372.11 450) scale(1.053 1)" font-size="13.89" text-anchor="middle">60°W</text>
<text transform="translate(438.35 450) scale(1.053 1)" font-size="13.89" text-anchor="middle">0°</text>
<text transform="translate(504.59 450) scale(1.053 1)" font-size="13.89" text-anchor="middle">60°E</text>
<text transform="translate(570.83 450) scale(1.053 1)" font-size="13.89" text-anchor="middle">120°E</text>
<text transform="translate(645.9 450) scale(1.053 1)" font-size="13.89" text-anchor="middle">180°</text>
<text transform="translate(759.43 71.27) scale(1.053 1)" font-size="13.89" text-anchor="start">60°N</text>
<text transform="translate(117.27 71.27) scale(1.053 1)" font-size="13.89" text-anchor="end">60°N</text>
<text transform="translate(824.7 145.29) scale(1.053 1)" font-size="13.89" text-anchor="start">30°N</text>
<text transform="translate(824.7 325.91) scale(1.053 1)" font-size="13.89" text-anchor="start">30°S</text>
<text transform="translate(759.43 399.93) scale(1.053 1)" font-size="13.89" text-anchor="start">60°S</text>
<text transform="translate(117.27 399.93) scale(1.053 1)" font-size="13.89" text-anchor="end">60°S</text>
<text transform="translate(846.2 235.2) scale(1.053 1)" font-size="13.89" text-anchor="start">0°</text>
<text transform="translate(836.7 208.7) scale(1.053 1)" font-size="13.89" text-anchor="start">180°</text>
<text transform="translate(40.7 262) scale(1.053 1)" font-size="13.89" text-anchor="end">180°</text>
<text transform="translate(919.05 57) scale(1.053 1)" font-size="13.89" text-anchor="start">1.00</text>
<text transform="translate(919.05 101.85) scale(1.053 1)" font-size="13.89" text-anchor="start">0.75</text>
<text transform="translate(919.05 146.7) scale(1.053 1)" font-size="13.89" text-anchor="start">0.50</text>
<text transform="translate(919.05 191.55) scale(1.053 1)" font-size="13.89" text-anchor="start">0.25</text>
<text transform="translate(919.05 236.4) scale(1.053 1)" font-size="13.89" text-anchor="start">0.00</text>
<text transform="translate(919.05 281.25) scale(1.053 1)" font-size="13.89" text-anchor="start">−0.25</text>
<text transform="translate(919.05 326.1) scale(1.053 1)" font-size="13.89" text-anchor="start">−0.50</text>
<text transform="translate(919.05 370.95) scale(1.053 1)" font-size="13.89" text-anchor="start">−0.75</text>
<text transform="translate(919.05 415.8) scale(1.053 1)" font-size="13.89" text-anchor="start">−1.00</text>
<clipPath id="c1"><path d="M1256.8 32.6L1654.2 32.6A198.7 198.7 0 0 1 1654.2 430L1256.8 430A198.7 198.7 0 0 1 1256.8 32.6Z"/></clipPath>
<g clip-path="url(#c1)">
<path fill="#4393c3" stroke="#4393c3" stroke-width="0.7" d="M1253.5 30.6L1267.8 30.6L1227.2 37.3L1209.7 37.3ZM1267.8 30.6L1278.9 30.6L1240.6 37.3L1227.2 37.3ZM1278.9 30.6L1289.9 30.6L1254.1 37.3L1240.6 37.3ZM1289.9 30.6L1300.9 30.6L1267.5 37.3L1254.1 37.3ZM1300.9 30.6L1312 30.6L1280.9 37.3L1267.5 37.3ZM1400.3 30.6L1411.3 30.6L1401.8 37.3L1388.4 37.3ZM1411.3 30.6L1422.4 30.6L1415.2 37.3L1401.8 37.3ZM1422.4 30.6L1433.4 30.6L1428.6 37.3L1415.2 37.3ZM1532.8 30.6L1543.8 30.6L1562.9 37.3L1549.5 37.3ZM1543.8 30.6L1554.9 30.6L1576.4 37.3L1562.9 37.3ZM1227.2 37.3L1240.6 37.3L1207.7 49.4L1192.2 49.4ZM1240.6 37.3L1254.1 37.3L1223.2 49.4L1207.7 49.4ZM1254.1 37.3L1267.5 37.3L1238.7 49.4L1223.2 49.4ZM1267.5 37.3L1280.9 37.3L1254.2 49.4L1238.7 49.4ZM1254.2 49.4L1269.6 49.4L1248.5 67L1231.3 67ZM1137.1 373.9L1155.8 373.9L1179.5 395.6L1162.3 395.6ZM1773.9 373.9L1798.2 373.9L1771.2 395.6L1748.7 395.6ZM1179.5 395.6L1196.8 395.6L1223.2 413.2L1207.7 413.2ZM1541.7 395.6L1559 395.6L1548.4 413.2L1532.9 413.2ZM1593.5 395.6L1610.7 395.6L1594.9 413.2L1579.4 413.2ZM1731.5 395.6L1748.7 395.6L1718.8 413.2L1703.3 413.2ZM1347.1 413.2L1362.6 413.2L1374.9 425.3L1361.5 425.3ZM1362.6 413.2L1378.1 413.2L1388.4 425.3L1374.9 425.3ZM1378.1 413.2L1393.5 413.2L1401.8 425.3L1388.4 425.3ZM1393.5 413.2L1409 413.2L1415.2 425.3L1401.8 425.3ZM1409 413.2L1424.5 413.2L1428.6 425.3L1415.2 425.3Z"/>
<path fill="#327cb7" stroke="#327cb7" stroke-width="0.7" d="M1312 30.6L1323 30.6L1294.3 37.3L1280.9 37.3ZM1323 30.6L1334.1 30.6L1307.8 37.3L1294.3 37.3ZM1389.3 30.6L1400.3 30.6L1388.4 37.3L1374.9 37.3ZM1632.1 30.6L1643.2 30.6L1683.8 37.3L1670.4 37.3ZM1643.2 30.6L1657.5 30.6L1701.3 37.3L1683.8 37.3ZM1294.3 37.3L1307.8 37.3L1285.1 49.4L1269.6 49.4ZM1670.4 37.3L1683.8 37.3L1718.8 49.4L1703.3 49.4ZM1300.6 49.4L1316.1 49.4L1300.3 67L1283 67ZM1594.9 49.4L1610.4 49.4L1628 67L1610.7 67ZM1576.2 395.6L1593.5 395.6L1579.4 413.2L1563.9 413.2ZM1223.2 413.2L1238.7 413.2L1267.5 425.3L1254.1 425.3ZM1486.5 413.2L1502 413.2L1495.8 425.3L1482.4 425.3ZM1502 413.2L1517.5 413.2L1509.2 425.3L1495.8 425.3Z"/>
<path fill="#2065ab" stroke="#2065ab" stroke-width="0.7" d="M1334.1 30.6L1345.1 30.6L1321.2 37.3L1307.8 37.3ZM1345.1 30.6L1356.1 30.6L1334.6 37.3L1321.2 37.3ZM1356.1 30.6L1367.2 30.6L1348.1 37.3L1334.6 37.3ZM1367.2 30.6L1378.2 30.6L1361.5 37.3L1348.1 37.3ZM1378.2 30.6L1389.3 30.6L1374.9 37.3L1361.5 37.3ZM1599 30.6L1610.1 30.6L1643.5 37.3L1630.1 37.3ZM1610.1 30.6L1621.1 30.6L1656.9 37.3L1643.5 37.3ZM1621.1 30.6L1632.1 30.6L1670.4 37.3L1656.9 37.3ZM1307.8 37.3L1321.2 37.3L1300.6 49.4L1285.1 49.4ZM1361.5 37.3L1374.9 37.3L1362.6 49.4L1347.1 49.4ZM1643.5 37.3L1656.9 37.3L1687.8 49.4L1672.3 49.4ZM1610.4 49.4L1625.9 49.4L1645.2 67L1628 67ZM1656.8 49.4L1672.3 49.4L1697 67L1679.7 67ZM1207.7 413.2L1223.2 413.2L1254.1 425.3L1240.6 425.3ZM1532.9 413.2L1548.4 413.2L1536.1 425.3L1522.6 425.3ZM1703.3 413.2L1718.8 413.2L1683.8 425.3L1670.4 425.3ZM1718.8 413.2L1738.9 413.2L1701.3 425.3L1683.8 425.3Z"/>
<path fill="#6bacd1" stroke="#6bacd1" stroke-width="0.7" d="M1433.4 30.6L1444.5 30.6L1442.1 37.3L1428.6 37.3ZM1444.5 30.6L1455.5 30.6L1455.5 37.3L1442.1 37.3ZM1499.7 30.6L1510.7 30.6L1522.6 37.3L1509.2 37.3ZM1510.7 30.6L1521.7 30.6L1536.1 37.3L1522.6 37.3ZM1521.7 30.6L1532.8 30.6L1549.5 37.3L1536.1 37.3ZM1401.8 37.3L1415.2 37.3L1409 49.4L1393.5 49.4ZM1415.2 37.3L1428.6 37.3L1424.5 49.4L1409 49.4ZM1536.1 37.3L1549.5 37.3L1563.9 49.4L1548.4 49.4ZM1192.2 49.4L1207.7 49.4L1179.5 67L1162.3 67ZM1687.8 49.4L1703.3 49.4L1731.5 67L1714.2 67ZM1645.2 67L1662.5 67L1680.2 88.7L1661.5 88.7ZM1343.1 373.9L1361.9 373.9L1369.3 395.6L1352 395.6ZM1586.6 373.9L1605.3 373.9L1593.5 395.6L1576.2 395.6ZM1605.3 373.9L1624.1 373.9L1610.7 395.6L1593.5 395.6ZM1283 395.6L1300.3 395.6L1316.1 413.2L1300.6 413.2ZM1334.8 395.6L1352 395.6L1362.6 413.2L1347.1 413.2ZM1628 395.6L1645.2 395.6L1625.9 413.2L1610.4 413.2ZM1714.2 395.6L1731.5 395.6L1703.3 413.2L1687.8 413.2Z"/>
<path fill="#569fc9" stroke="#569fc9" stroke-width="0.7" d="M1455.5 30.6L1466.5 30.6L1468.9 37.3L1455.5 37.3ZM1466.5 30.6L1477.6 30.6L1482.4 37.3L1468.9 37.3ZM1477.6 30.6L1488.6 30.6L1495.8 37.3L1482.4 37.3ZM1488.6 30.6L1499.7 30.6L1509.2 37.3L1495.8 37.3ZM1209.7 37.3L1227.2 37.3L1192.2 49.4L1172.1 49.4ZM1388.4 37.3L1401.8 37.3L1393.5 49.4L1378.1 49.4ZM1549.5 37.3L1562.9 37.3L1579.4 49.4L1563.9 49.4ZM1207.7 49.4L1223.2 49.4L1196.8 67L1179.5 67ZM1223.2 49.4L1238.7 49.4L1214 67L1196.8 67ZM1238.7 49.4L1254.2 49.4L1231.3 67L1214 67ZM1579.4 49.4L1594.9 49.4L1610.7 67L1593.5 67ZM1662.5 67L1679.7 67L1699 88.7L1680.2 88.7ZM1679.7 67L1697 67L1717.7 88.7L1699 88.7ZM1196.8 395.6L1214 395.6L1238.7 413.2L1223.2 413.2ZM1300.3 395.6L1317.5 395.6L1331.6 413.2L1316.1 413.2ZM1317.5 395.6L1334.8 395.6L1347.1 413.2L1331.6 413.2ZM1524.5 395.6L1541.7 395.6L1532.9 413.2L1517.5 413.2ZM1610.7 395.6L1628 395.6L1610.4 413.2L1594.9 413.2Z"/>
<path fill="#1a5899" stroke="#1a5899" stroke-width="0.7" d="M1554.9 30.6L1565.9 30.6L1589.8 37.3L1576.4 37.3ZM1565.9 30.6L1576.9 30.6L1603.2 37.3L1589.8 37.3ZM1576.9 30.6L1588 30.6L1616.7 37.3L1603.2 37.3ZM1588 30.6L1599 30.6L1630.1 37.3L1616.7 37.3ZM1321.2 37.3L1334.6 37.3L1316.1 49.4L1300.6 49.4ZM1334.6 37.3L1348.1 37.3L1331.6 49.4L1316.1 49.4ZM1348.1 37.3L1361.5 37.3L1347.1 49.4L1331.6 49.4ZM1589.8 37.3L1603.2 37.3L1625.9 49.4L1610.4 49.4ZM1630.1 37.3L1643.5 37.3L1672.3 49.4L1656.8 49.4ZM1625.9 49.4L1641.4 49.4L1662.5 67L1645.2 67ZM1641.4 49.4L1656.8 49.4L1679.7 67L1662.5 67ZM1172.1 413.2L1192.2 413.2L1227.2 425.3L1209.7 425.3ZM1192.2 413.2L1207.7 413.2L1240.6 425.3L1227.2 425.3ZM1548.4 413.2L1563.9 413.2L1549.5 425.3L1536.1 425.3ZM1563.9 413.2L1579.4 413.2L1562.9 425.3L1549.5 425.3ZM1579.4 413.2L1594.9 413.2L1576.4 425.3L1562.9 425.3ZM1594.9 413.2L1610.4 413.2L1589.8 425.3L1576.4 425.3ZM1610.4 413.2L1625.9 413.2L1603.2 425.3L1589.8 425.3ZM1625.9 413.2L1641.4 413.2L1616.7 425.3L1603.2 425.3ZM1641.4 413.2L1656.8 413.2L1630.1 425.3L1616.7 425.3ZM1656.8 413.2L1672.3 413.2L1643.5 425.3L1630.1 425.3ZM1672.3 413.2L1687.8 413.2L1656.9 425.3L1643.5 425.3ZM1687.8 413.2L1703.3 413.2L1670.4 425.3L1656.9 425.3Z"/>
<path fill="#3a87bd" stroke="#3a87bd" stroke-width="0.7" d="M1280.9 37.3L1294.3 37.3L1269.6 49.4L1254.2 49.4ZM1374.9 37.3L1388.4 37.3L1378.1 49.4L1362.6 49.4ZM1562.9 37.3L1576.4 37.3L1594.9 49.4L1579.4 49.4ZM1683.8 37.3L1701.3 37.3L1738.9 49.4L1718.8 49.4ZM1269.6 49.4L1285.1 49.4L1265.8 67L1248.5 67ZM1285.1 49.4L1300.6 49.4L1283 67L1265.8 67ZM1347.1 49.4L1362.6 49.4L1352 67L1334.8 67ZM1672.3 49.4L1687.8 49.4L1714.2 67L1697 67ZM1112.8 373.9L1137.1 373.9L1162.3 395.6L1139.8 395.6ZM1139.8 395.6L1162.3 395.6L1192.2 413.2L1172.1 413.2ZM1162.3 395.6L1179.5 395.6L1207.7 413.2L1192.2 413.2ZM1559 395.6L1576.2 395.6L1563.9 413.2L1548.4 413.2ZM1748.7 395.6L1771.2 395.6L1738.9 413.2L1718.8 413.2ZM1238.7 413.2L1254.2 413.2L1280.9 425.3L1267.5 425.3ZM1254.2 413.2L1269.6 413.2L1294.3 425.3L1280.9 425.3ZM1269.6 413.2L1285.1 413.2L1307.8 425.3L1294.3 425.3ZM1285.1 413.2L1300.6 413.2L1321.2 425.3L1307.8 425.3ZM1300.6 413.2L1316.1 413.2L1334.6 425.3L1321.2 425.3ZM1316.1 413.2L1331.6 413.2L1348.1 425.3L1334.6 425.3ZM1331.6 413.2L1347.1 413.2L1361.5 425.3L1348.1 425.3ZM1424.5 413.2L1440 413.2L1442.1 425.3L1428.6 425.3ZM1440 413.2L1455.5 413.2L1455.5 425.3L1442.1 425.3ZM1455.5 413.2L1471 413.2L1468.9 425.3L1455.5 425.3ZM1471 413.2L1486.5 413.2L1482.4 425.3L1468.9 425.3Z"/>
<path fill="#7eb8d7" stroke="#7eb8d7" stroke-width="0.7" d="M1428.6 37.3L1442.1 37.3L1440 49.4L1424.5 49.4ZM1522.6 37.3L1536.1 37.3L1548.4 49.4L1532.9 49.4ZM1172.1 49.4L1192.2 49.4L1162.3 67L1139.8 67ZM1362.6 49.4L1378.1 49.4L1369.3 67L1352 67ZM1628 67L1645.2 67L1661.5 88.7L1642.8 88.7ZM1697 67L1714.2 67L1736.4 88.7L1717.7 88.7ZM1155.8 373.9L1174.6 373.9L1196.8 395.6L1179.5 395.6ZM1305.7 373.9L1324.4 373.9L1334.8 395.6L1317.5 395.6ZM1324.4 373.9L1343.1 373.9L1352 395.6L1334.8 395.6ZM1361.9 373.9L1380.6 373.9L1386.5 395.6L1369.3 395.6ZM1567.9 373.9L1586.6 373.9L1576.2 395.6L1559 395.6ZM1624.1 373.9L1642.8 373.9L1628 395.6L1610.7 395.6ZM1214 395.6L1231.3 395.6L1254.2 413.2L1238.7 413.2ZM1265.8 395.6L1283 395.6L1300.6 413.2L1285.1 413.2ZM1352 395.6L1369.3 395.6L1378.1 413.2L1362.6 413.2ZM1507.2 395.6L1524.5 395.6L1517.5 413.2L1502 413.2ZM1645.2 395.6L1662.5 395.6L1641.4 413.2L1625.9 413.2Z"/>
<path fill="#90c4dd" stroke="#90c4dd" stroke-width="0.7" d="M1442.1 37.3L1455.5 37.3L1455.5 49.4L1440 49.4ZM1509.2 37.3L1522.6 37.3L1532.9 49.4L1517.5 49.4ZM1703.3 49.4L1718.8 49.4L1748.7 67L1731.5 67ZM1162.3 67L1179.5 67L1155.8 88.7L1137.1 88.7ZM1179.5 67L1196.8 67L1174.6 88.7L1155.8 88.7ZM1286.9 373.9L1305.7 373.9L1317.5 395.6L1300.3 395.6ZM1380.6 373.9L1399.3 373.9L1403.8 395.6L1386.5 395.6ZM1549.1 373.9L1567.9 373.9L1559 395.6L1541.7 395.6ZM1231.3 395.6L1248.5 395.6L1269.6 413.2L1254.2 413.2ZM1248.5 395.6L1265.8 395.6L1285.1 413.2L1269.6 413.2ZM1369.3 395.6L1386.5 395.6L1393.5 413.2L1378.1 413.2ZM1455.5 395.6L1472.7 395.6L1471 413.2L1455.5 413.2ZM1472.7 395.6L1490 395.6L1486.5 413.2L1471 413.2ZM1490 395.6L1507.2 395.6L1502 413.2L1486.5 413.2ZM1662.5 395.6L1679.7 395.6L1656.8 413.2L1641.4 413.2ZM1697 395.6L1714.2 395.6L1687.8 413.2L1672.3 413.2Z"/>
<path fill="#b1d5e7" stroke="#b1d5e7" stroke-width="0.7" d="M1455.5 37.3L1468.9 37.3L1471 49.4L1455.5 49.4ZM1468.9 37.3L1482.4 37.3L1486.5 49.4L1471 49.4ZM1482.4 37.3L1495.8 37.3L1502 49.4L1486.5 49.4ZM1139.8 67L1162.3 67L1137.1 88.7L1112.8 88.7ZM1265.8 67L1283 67L1268.2 88.7L1249.5 88.7ZM1283 67L1300.3 67L1286.9 88.7L1268.2 88.7ZM1300.3 67L1317.5 67L1305.7 88.7L1286.9 88.7ZM1193.3 373.9L1212 373.9L1231.3 395.6L1214 395.6ZM1249.5 373.9L1268.2 373.9L1283 395.6L1265.8 395.6ZM1493 373.9L1511.7 373.9L1507.2 395.6L1490 395.6ZM1530.4 373.9L1549.1 373.9L1541.7 395.6L1524.5 395.6ZM1642.8 373.9L1661.5 373.9L1645.2 395.6L1628 395.6Z"/>
<path fill="#a2cde3" stroke="#a2cde3" stroke-width="0.7" d="M1495.8 37.3L1509.2 37.3L1517.5 49.4L1502 49.4ZM1563.9 49.4L1579.4 49.4L1593.5 67L1576.2 67ZM1718.8 49.4L1738.9 49.4L1771.2 67L1748.7 67ZM1196.8 67L1214 67L1193.3 88.7L1174.6 88.7ZM1610.7 67L1628 67L1642.8 88.7L1624.1 88.7ZM1174.6 373.9L1193.3 373.9L1214 395.6L1196.8 395.6ZM1268.2 373.9L1286.9 373.9L1300.3 395.6L1283 395.6ZM1399.3 373.9L1418 373.9L1421 395.6L1403.8 395.6ZM1418 373.9L1436.8 373.9L1438.3 395.6L1421 395.6ZM1436.8 373.9L1455.5 373.9L1455.5 395.6L1438.3 395.6ZM1755.2 373.9L1773.9 373.9L1748.7 395.6L1731.5 395.6ZM1386.5 395.6L1403.8 395.6L1409 413.2L1393.5 413.2ZM1403.8 395.6L1421 395.6L1424.5 413.2L1409 413.2ZM1421 395.6L1438.3 395.6L1440 413.2L1424.5 413.2ZM1438.3 395.6L1455.5 395.6L1455.5 413.2L1440 413.2ZM1679.7 395.6L1697 395.6L1672.3 413.2L1656.8 413.2Z"/>
<path fill="#2a71b2" stroke="#2a71b2" stroke-width="0.7" d="M1576.4 37.3L1589.8 37.3L1610.4 49.4L1594.9 49.4ZM1656.9 37.3L1670.4 37.3L1703.3 49.4L1687.8 49.4ZM1316.1 49.4L1331.6 49.4L1317.5 67L1300.3 67ZM1331.6 49.4L1347.1 49.4L1334.8 67L1317.5 67ZM1517.5 413.2L1532.9 413.2L1522.6 425.3L1509.2 425.3Z"/>
<path fill="#124984" stroke="#124984" stroke-width="0.7" d="M1603.2 37.3L1616.7 37.3L1641.4 49.4L1625.9 49.4ZM1616.7 37.3L1630.1 37.3L1656.8 49.4L1641.4 49.4ZM1209.7 425.3L1227.2 425.3L1267.8 432L1253.5 432ZM1227.2 425.3L1240.6 425.3L1278.9 432L1267.8 432ZM1240.6 425.3L1254.1 425.3L1289.9 432L1278.9 432ZM1254.1 425.3L1267.5 425.3L1300.9 432L1289.9 432ZM1267.5 425.3L1280.9 425.3L1312 432L1300.9 432ZM1280.9 425.3L1294.3 425.3L1323 432L1312 432ZM1294.3 425.3L1307.8 425.3L1334.1 432L1323 432ZM1307.8 425.3L1321.2 425.3L1345.1 432L1334.1 432ZM1321.2 425.3L1334.6 425.3L1356.1 432L1345.1 432ZM1334.6 425.3L1348.1 425.3L1367.2 432L1356.1 432ZM1348.1 425.3L1361.5 425.3L1378.2 432L1367.2 432ZM1361.5 425.3L1374.9 425.3L1389.3 432L1378.2 432ZM1374.9 425.3L1388.4 425.3L1400.3 432L1389.3 432ZM1388.4 425.3L1401.8 425.3L1411.3 432L1400.3 432ZM1401.8 425.3L1415.2 425.3L1422.4 432L1411.3 432ZM1415.2 425.3L1428.6 425.3L1433.4 432L1422.4 432ZM1428.6 425.3L1442.1 425.3L1444.5 432L1433.4 432ZM1442.1 425.3L1455.5 425.3L1455.5 432L1444.5 432ZM1670.4 425.3L1683.8 425.3L1643.2 432L1632.1 432ZM1683.8 425.3L1701.3 425.3L1657.5 432L1643.2 432Z"/>
<path fill="#c2ddec" stroke="#c2ddec" stroke-width="0.7" d="M1378.1 49.4L1393.5 49.4L1386.5 67L1369.3 67ZM1214 67L1231.3 67L1212 88.7L1193.3 88.7ZM1317.5 67L1334.8 67L1324.4 88.7L1305.7 88.7ZM1714.2 67L1731.5 67L1755.2 88.7L1736.4 88.7ZM1212 373.9L1230.8 373.9L1248.5 395.6L1231.3 395.6ZM1230.8 373.9L1249.5 373.9L1265.8 395.6L1248.5 395.6ZM1455.5 373.9L1474.2 373.9L1472.7 395.6L1455.5 395.6ZM1474.2 373.9L1493 373.9L1490 395.6L1472.7 395.6Z"/>
<path fill="#d1e5f0" stroke="#d1e5f0" stroke-width="0.7" d="M1393.5 49.4L1409 49.4L1403.8 67L1386.5 67ZM1548.4 49.4L1563.9 49.4L1576.2 67L1559 67ZM1231.3 67L1248.5 67L1230.8 88.7L1212 88.7ZM1248.5 67L1265.8 67L1249.5 88.7L1230.8 88.7ZM1090.7 349L1116.6 349L1137.1 373.9L1112.8 373.9ZM1511.7 373.9L1530.4 373.9L1524.5 395.6L1507.2 395.6Z"/>
<path fill="#dae9f2" stroke="#dae9f2" stroke-width="0.7" d="M1409 49.4L1424.5 49.4L1421 67L1403.8 67ZM1532.9 49.4L1548.4 49.4L1559 67L1541.7 67ZM1334.8 67L1352 67L1343.1 88.7L1324.4 88.7ZM1593.5 67L1610.7 67L1624.1 88.7L1605.3 88.7ZM1731.5 67L1748.7 67L1773.9 88.7L1755.2 88.7ZM1155.8 88.7L1174.6 88.7L1156.4 113.6L1136.5 113.6ZM1174.6 88.7L1193.3 88.7L1176.4 113.6L1156.4 113.6ZM1605.3 88.7L1624.1 88.7L1634.9 113.6L1615 113.6ZM1624.1 88.7L1642.8 88.7L1654.9 113.6L1634.9 113.6ZM1642.8 88.7L1661.5 88.7L1674.8 113.6L1654.9 113.6ZM1680.2 88.7L1699 88.7L1714.7 113.6L1694.7 113.6ZM1116.6 349L1136.5 349L1155.8 373.9L1137.1 373.9ZM1136.5 349L1156.4 349L1174.6 373.9L1155.8 373.9ZM1236.2 349L1256.1 349L1268.2 373.9L1249.5 373.9ZM1256.1 349L1276.1 349L1286.9 373.9L1268.2 373.9ZM1634.9 349L1654.9 349L1642.8 373.9L1624.1 373.9Z"/>
<path fill="#e4eef4" stroke="#e4eef4" stroke-width="0.7" d="M1424.5 49.4L1440 49.4L1438.3 67L1421 67ZM1440 49.4L1455.5 49.4L1455.5 67L1438.3 67ZM1517.5 49.4L1532.9 49.4L1541.7 67L1524.5 67ZM1748.7 67L1771.2 67L1798.2 88.7L1773.9 88.7ZM1112.8 88.7L1137.1 88.7L1116.6 113.6L1090.7 113.6ZM1137.1 88.7L1155.8 88.7L1136.5 113.6L1116.6 113.6ZM1567.9 88.7L1586.6 88.7L1595.1 113.6L1575.1 113.6ZM1586.6 88.7L1605.3 88.7L1615 113.6L1595.1 113.6ZM1661.5 88.7L1680.2 88.7L1694.7 113.6L1674.8 113.6ZM1699 88.7L1717.7 88.7L1734.6 113.6L1714.7 113.6ZM1184.1 321.6L1205 321.6L1216.3 349L1196.3 349ZM1156.4 349L1176.4 349L1193.3 373.9L1174.6 373.9ZM1176.4 349L1196.3 349L1212 373.9L1193.3 373.9ZM1196.3 349L1216.3 349L1230.8 373.9L1212 373.9ZM1216.3 349L1236.2 349L1249.5 373.9L1230.8 373.9ZM1736.4 373.9L1755.2 373.9L1731.5 395.6L1714.2 395.6Z"/>
<path fill="#f7f6f6" stroke="#f7f6f6" stroke-width="0.7" d="M1455.5 49.4L1471 49.4L1472.7 67L1455.5 67ZM1502 49.4L1517.5 49.4L1524.5 67L1507.2 67ZM1507.2 67L1524.5 67L1530.4 88.7L1511.7 88.7ZM1541.7 67L1559 67L1567.9 88.7L1549.1 88.7ZM1549.1 88.7L1567.9 88.7L1575.1 113.6L1555.2 113.6ZM1315.9 349L1335.9 349L1343.1 373.9L1324.4 373.9ZM1335.9 349L1355.8 349L1361.9 373.9L1343.1 373.9ZM1654.9 349L1674.8 349L1661.5 373.9L1642.8 373.9Z"/>
<path fill="#fae9df" stroke="#fae9df" stroke-width="0.7" d="M1471 49.4L1486.5 49.4L1490 67L1472.7 67ZM1486.5 49.4L1502 49.4L1507.2 67L1490 67ZM1386.5 67L1403.8 67L1399.3 88.7L1380.6 88.7ZM1472.7 67L1490 67L1493 88.7L1474.2 88.7ZM1576.2 67L1593.5 67L1605.3 88.7L1586.6 88.7ZM1212 88.7L1230.8 88.7L1216.3 113.6L1196.3 113.6ZM1249.5 88.7L1268.2 88.7L1256.1 113.6L1236.2 113.6ZM1343.1 88.7L1361.9 88.7L1355.8 113.6L1335.9 113.6ZM1530.4 88.7L1549.1 88.7L1555.2 113.6L1535.2 113.6ZM1089.2 292.5L1110.8 292.5L1121.5 321.6L1100.6 321.6ZM1175.4 292.5L1197 292.5L1205 321.6L1184.1 321.6ZM1121.5 321.6L1142.4 321.6L1156.4 349L1136.5 349ZM1142.4 321.6L1163.3 321.6L1176.4 349L1156.4 349ZM1225.9 321.6L1246.8 321.6L1256.1 349L1236.2 349ZM1615 349L1634.9 349L1624.1 373.9L1605.3 373.9Z"/>
<path fill="#edf2f5" stroke="#edf2f5" stroke-width="0.7" d="M1352 67L1369.3 67L1361.9 88.7L1343.1 88.7ZM1524.5 67L1541.7 67L1549.1 88.7L1530.4 88.7ZM1193.3 88.7L1212 88.7L1196.3 113.6L1176.4 113.6ZM1205 321.6L1225.9 321.6L1236.2 349L1216.3 349ZM1276.1 349L1296 349L1305.7 373.9L1286.9 373.9ZM1355.8 349L1375.8 349L1380.6 373.9L1361.9 373.9ZM1375.8 349L1395.7 349L1399.3 373.9L1380.6 373.9ZM1794.4 349L1820.3 349L1798.2 373.9L1773.9 373.9ZM1661.5 373.9L1680.2 373.9L1662.5 395.6L1645.2 395.6Z"/>
<path fill="#f9f0eb" stroke="#f9f0eb" stroke-width="0.7" d="M1369.3 67L1386.5 67L1380.6 88.7L1361.9 88.7ZM1490 67L1507.2 67L1511.7 88.7L1493 88.7ZM1268.2 88.7L1286.9 88.7L1276.1 113.6L1256.1 113.6ZM1286.9 88.7L1305.7 88.7L1296 113.6L1276.1 113.6ZM1305.7 88.7L1324.4 88.7L1315.9 113.6L1296 113.6ZM1324.4 88.7L1343.1 88.7L1335.9 113.6L1315.9 113.6ZM1717.7 88.7L1736.4 88.7L1754.6 113.6L1734.6 113.6ZM1773.9 88.7L1798.2 88.7L1820.3 113.6L1794.4 113.6ZM1110.8 292.5L1132.3 292.5L1142.4 321.6L1121.5 321.6ZM1132.3 292.5L1153.9 292.5L1163.3 321.6L1142.4 321.6ZM1153.9 292.5L1175.4 292.5L1184.1 321.6L1163.3 321.6ZM1163.3 321.6L1184.1 321.6L1196.3 349L1176.4 349ZM1296 349L1315.9 349L1324.4 373.9L1305.7 373.9ZM1395.7 349L1415.6 349L1418 373.9L1399.3 373.9Z"/>
<path fill="#fce2d2" stroke="#fce2d2" stroke-width="0.7" d="M1403.8 67L1421 67L1418 88.7L1399.3 88.7ZM1559 67L1576.2 67L1586.6 88.7L1567.9 88.7ZM1230.8 88.7L1249.5 88.7L1236.2 113.6L1216.3 113.6ZM1361.9 88.7L1380.6 88.7L1375.8 113.6L1355.8 113.6ZM1380.6 88.7L1399.3 88.7L1395.7 113.6L1375.8 113.6ZM1399.3 88.7L1418 88.7L1415.6 113.6L1395.7 113.6ZM1511.7 88.7L1530.4 88.7L1535.2 113.6L1515.3 113.6ZM1736.4 88.7L1755.2 88.7L1774.5 113.6L1754.6 113.6ZM1755.2 88.7L1773.9 88.7L1794.4 113.6L1774.5 113.6ZM1296 113.6L1315.9 113.6L1309.4 141L1288.5 141ZM1315.9 113.6L1335.9 113.6L1330.3 141L1309.4 141ZM1335.9 113.6L1355.8 113.6L1351.1 141L1330.3 141ZM1355.8 113.6L1375.8 113.6L1372 141L1351.1 141ZM1309.4 141L1330.3 141L1326.2 170.1L1304.7 170.1ZM1330.3 141L1351.1 141L1347.8 170.1L1326.2 170.1ZM1082.4 262.2L1104.4 262.2L1110.8 292.5L1089.2 292.5ZM1061.2 292.5L1089.2 292.5L1100.6 321.6L1073.5 321.6ZM1197 292.5L1218.5 292.5L1225.9 321.6L1205 321.6ZM1800.2 292.5L1821.8 292.5L1810.4 321.6L1789.5 321.6ZM1821.8 292.5L1849.8 292.5L1837.5 321.6L1810.4 321.6ZM1100.6 321.6L1121.5 321.6L1136.5 349L1116.6 349ZM1435.6 349L1455.5 349L1455.5 373.9L1436.8 373.9ZM1455.5 349L1475.4 349L1474.2 373.9L1455.5 373.9ZM1674.8 349L1694.7 349L1680.2 373.9L1661.5 373.9ZM1774.5 349L1794.4 349L1773.9 373.9L1755.2 373.9ZM1680.2 373.9L1699 373.9L1679.7 395.6L1662.5 395.6ZM1717.7 373.9L1736.4 373.9L1714.2 395.6L1697 395.6Z"/>
<path fill="#fddbc7" stroke="#fddbc7" stroke-width="0.7" d="M1421 67L1438.3 67L1436.8 88.7L1418 88.7ZM1438.3 67L1455.5 67L1455.5 88.7L1436.8 88.7ZM1455.5 67L1472.7 67L1474.2 88.7L1455.5 88.7ZM1418 88.7L1436.8 88.7L1435.6 113.6L1415.6 113.6ZM1493 88.7L1511.7 88.7L1515.3 113.6L1495.4 113.6ZM1276.1 113.6L1296 113.6L1288.5 141L1267.6 141ZM1375.8 113.6L1395.7 113.6L1392.9 141L1372 141ZM1395.7 113.6L1415.6 113.6L1413.8 141L1392.9 141ZM1288.5 141L1309.4 141L1304.7 170.1L1283.1 170.1ZM1351.1 141L1372 141L1369.3 170.1L1347.8 170.1ZM1104.4 262.2L1126.3 262.2L1132.3 292.5L1110.8 292.5ZM1126.3 262.2L1148.2 262.2L1153.9 292.5L1132.3 292.5ZM1148.2 262.2L1170.2 262.2L1175.4 292.5L1153.9 292.5ZM1218.5 292.5L1240.1 292.5L1246.8 321.6L1225.9 321.6ZM1415.6 349L1435.6 349L1436.8 373.9L1418 373.9ZM1699 373.9L1717.7 373.9L1697 395.6L1679.7 395.6Z"/>
<path fill="#f6b394" stroke="#f6b394" stroke-width="0.7" d="M1436.8 88.7L1455.5 88.7L1455.5 113.6L1435.6 113.6ZM1116.6 113.6L1136.5 113.6L1121.5 141L1100.6 141ZM1495.4 113.6L1515.3 113.6L1518.1 141L1497.2 141ZM1575.1 113.6L1595.1 113.6L1601.6 141L1580.7 141ZM1615 113.6L1634.9 113.6L1643.4 141L1622.5 141ZM1205 141L1225.9 141L1218.5 170.1L1197 170.1ZM1225.9 141L1246.8 141L1240.1 170.1L1218.5 170.1ZM1153.9 170.1L1175.4 170.1L1170.2 200.4L1148.2 200.4ZM1175.4 170.1L1197 170.1L1192.1 200.4L1170.2 200.4ZM1240.1 170.1L1261.6 170.1L1258 200.4L1236 200.4ZM1261.6 170.1L1283.1 170.1L1279.9 200.4L1258 200.4ZM1283.1 170.1L1304.7 170.1L1301.9 200.4L1279.9 200.4ZM1304.7 170.1L1326.2 170.1L1323.8 200.4L1301.9 200.4ZM1347.8 170.1L1369.3 170.1L1367.7 200.4L1345.8 200.4ZM1369.3 170.1L1390.9 170.1L1389.7 200.4L1367.7 200.4ZM1104.4 200.4L1126.3 200.4L1124.3 231.3L1102.2 231.3ZM1214.1 200.4L1236 200.4L1234.7 231.3L1212.6 231.3ZM1279.9 200.4L1301.9 200.4L1300.9 231.3L1278.9 231.3ZM1301.9 200.4L1323.8 200.4L1323 231.3L1300.9 231.3ZM1345.8 200.4L1367.7 200.4L1367.2 231.3L1345.1 231.3ZM1367.7 200.4L1389.7 200.4L1389.3 231.3L1367.2 231.3ZM1455.5 200.4L1477.4 200.4L1477.6 231.3L1455.5 231.3ZM1565.2 200.4L1587.2 200.4L1588 231.3L1565.9 231.3ZM1124.3 231.3L1146.4 231.3L1148.2 262.2L1126.3 262.2ZM1190.5 231.3L1212.6 231.3L1214.1 262.2L1192.1 262.2ZM1212.6 231.3L1234.7 231.3L1236 262.2L1214.1 262.2ZM1300.9 231.3L1323 231.3L1323.8 262.2L1301.9 262.2ZM1323 231.3L1345.1 231.3L1345.8 262.2L1323.8 262.2ZM1389.3 231.3L1411.3 231.3L1411.6 262.2L1389.7 262.2ZM1411.3 231.3L1433.4 231.3L1433.6 262.2L1411.6 262.2ZM1543.8 231.3L1565.9 231.3L1565.2 262.2L1543.3 262.2ZM1279.9 262.2L1301.9 262.2L1304.7 292.5L1283.1 292.5ZM1345.8 262.2L1367.7 262.2L1369.3 292.5L1347.8 292.5ZM1367.7 262.2L1389.7 262.2L1390.9 292.5L1369.3 292.5ZM1740.8 262.2L1762.8 262.2L1757.1 292.5L1735.6 292.5ZM1762.8 262.2L1784.7 262.2L1778.7 292.5L1757.1 292.5ZM1784.7 262.2L1806.6 262.2L1800.2 292.5L1778.7 292.5ZM1304.7 292.5L1326.2 292.5L1330.3 321.6L1309.4 321.6ZM1326.2 292.5L1347.8 292.5L1351.1 321.6L1330.3 321.6ZM1369.3 292.5L1390.9 292.5L1392.9 321.6L1372 321.6ZM1541.7 292.5L1563.2 292.5L1559.9 321.6L1539 321.6ZM1757.1 292.5L1778.7 292.5L1768.6 321.6L1747.7 321.6ZM1789.5 321.6L1810.4 321.6L1794.4 349L1774.5 349ZM1495.4 349L1515.3 349L1511.7 373.9L1493 373.9Z"/>
<path fill="#fbccb4" stroke="#fbccb4" stroke-width="0.7" d="M1455.5 88.7L1474.2 88.7L1475.4 113.6L1455.5 113.6ZM1474.2 88.7L1493 88.7L1495.4 113.6L1475.4 113.6ZM1267.6 141L1288.5 141L1283.1 170.1L1261.6 170.1ZM1170.2 262.2L1192.1 262.2L1197 292.5L1175.4 292.5ZM1563.2 292.5L1584.8 292.5L1580.7 321.6L1559.9 321.6ZM1073.5 321.6L1100.6 321.6L1116.6 349L1090.7 349ZM1246.8 321.6L1267.6 321.6L1276.1 349L1256.1 349ZM1810.4 321.6L1837.5 321.6L1820.3 349L1794.4 349Z"/>
<path fill="#f8bfa4" stroke="#f8bfa4" stroke-width="0.7" d="M1090.7 113.6L1116.6 113.6L1100.6 141L1073.5 141ZM1256.1 113.6L1276.1 113.6L1267.6 141L1246.8 141ZM1455.5 113.6L1475.4 113.6L1476.4 141L1455.5 141ZM1475.4 113.6L1495.4 113.6L1497.2 141L1476.4 141ZM1595.1 113.6L1615 113.6L1622.5 141L1601.6 141ZM1246.8 141L1267.6 141L1261.6 170.1L1240.1 170.1ZM1372 141L1392.9 141L1390.9 170.1L1369.3 170.1ZM1053.9 262.2L1082.4 262.2L1089.2 292.5L1061.2 292.5ZM1192.1 262.2L1214.1 262.2L1218.5 292.5L1197 292.5ZM1214.1 262.2L1236 262.2L1240.1 292.5L1218.5 292.5ZM1236 262.2L1258 262.2L1261.6 292.5L1240.1 292.5ZM1258 262.2L1279.9 262.2L1283.1 292.5L1261.6 292.5ZM1806.6 262.2L1828.6 262.2L1821.8 292.5L1800.2 292.5ZM1828.6 262.2L1857.1 262.2L1849.8 292.5L1821.8 292.5ZM1240.1 292.5L1261.6 292.5L1267.6 321.6L1246.8 321.6ZM1347.8 292.5L1369.3 292.5L1372 321.6L1351.1 321.6ZM1584.8 292.5L1606.3 292.5L1601.6 321.6L1580.7 321.6ZM1778.7 292.5L1800.2 292.5L1789.5 321.6L1768.6 321.6ZM1475.4 349L1495.4 349L1493 373.9L1474.2 373.9ZM1595.1 349L1615 349L1605.3 373.9L1586.6 373.9ZM1694.7 349L1714.7 349L1699 373.9L1680.2 373.9ZM1754.6 349L1774.5 349L1755.2 373.9L1736.4 373.9Z"/>
<path fill="#f3a481" stroke="#f3a481" stroke-width="0.7" d="M1136.5 113.6L1156.4 113.6L1142.4 141L1121.5 141ZM1156.4 113.6L1176.4 113.6L1163.3 141L1142.4 141ZM1176.4 113.6L1196.3 113.6L1184.1 141L1163.3 141ZM1196.3 113.6L1216.3 113.6L1205 141L1184.1 141ZM1216.3 113.6L1236.2 113.6L1225.9 141L1205 141ZM1236.2 113.6L1256.1 113.6L1246.8 141L1225.9 141ZM1515.3 113.6L1535.2 113.6L1539 141L1518.1 141ZM1535.2 113.6L1555.2 113.6L1559.9 141L1539 141ZM1555.2 113.6L1575.1 113.6L1580.7 141L1559.9 141ZM1634.9 113.6L1654.9 113.6L1664.2 141L1643.4 141ZM1654.9 113.6L1674.8 113.6L1685.1 141L1664.2 141ZM1674.8 113.6L1694.7 113.6L1706 141L1685.1 141ZM1694.7 113.6L1714.7 113.6L1726.9 141L1706 141ZM1714.7 113.6L1734.6 113.6L1747.7 141L1726.9 141ZM1734.6 113.6L1754.6 113.6L1768.6 141L1747.7 141ZM1794.4 113.6L1820.3 113.6L1837.5 141L1810.4 141ZM1142.4 141L1163.3 141L1153.9 170.1L1132.3 170.1ZM1163.3 141L1184.1 141L1175.4 170.1L1153.9 170.1ZM1184.1 141L1205 141L1197 170.1L1175.4 170.1ZM1726.9 141L1747.7 141L1757.1 170.1L1735.6 170.1ZM1747.7 141L1768.6 141L1778.7 170.1L1757.1 170.1ZM1768.6 141L1789.5 141L1800.2 170.1L1778.7 170.1ZM1061.2 170.1L1089.2 170.1L1082.4 200.4L1053.9 200.4ZM1110.8 170.1L1132.3 170.1L1126.3 200.4L1104.4 200.4ZM1132.3 170.1L1153.9 170.1L1148.2 200.4L1126.3 200.4ZM1197 170.1L1218.5 170.1L1214.1 200.4L1192.1 200.4ZM1218.5 170.1L1240.1 170.1L1236 200.4L1214.1 200.4ZM1326.2 170.1L1347.8 170.1L1345.8 200.4L1323.8 200.4ZM1390.9 170.1L1412.4 170.1L1411.6 200.4L1389.7 200.4ZM1714 170.1L1735.6 170.1L1740.8 200.4L1718.9 200.4ZM1735.6 170.1L1757.1 170.1L1762.8 200.4L1740.8 200.4ZM1757.1 170.1L1778.7 170.1L1784.7 200.4L1762.8 200.4ZM1778.7 170.1L1800.2 170.1L1806.6 200.4L1784.7 200.4ZM1053.9 200.4L1082.4 200.4L1080.1 231.3L1051.4 231.3ZM1126.3 200.4L1148.2 200.4L1146.4 231.3L1124.3 231.3ZM1148.2 200.4L1170.2 200.4L1168.5 231.3L1146.4 231.3ZM1170.2 200.4L1192.1 200.4L1190.5 231.3L1168.5 231.3ZM1192.1 200.4L1214.1 200.4L1212.6 231.3L1190.5 231.3ZM1236 200.4L1258 200.4L1256.8 231.3L1234.7 231.3ZM1258 200.4L1279.9 200.4L1278.9 231.3L1256.8 231.3ZM1323.8 200.4L1345.8 200.4L1345.1 231.3L1323 231.3ZM1411.6 200.4L1433.6 200.4L1433.4 231.3L1411.3 231.3ZM1433.6 200.4L1455.5 200.4L1455.5 231.3L1433.4 231.3ZM1718.9 200.4L1740.8 200.4L1742.5 231.3L1720.5 231.3ZM1740.8 200.4L1762.8 200.4L1764.6 231.3L1742.5 231.3ZM1762.8 200.4L1784.7 200.4L1786.7 231.3L1764.6 231.3ZM1051.4 231.3L1080.1 231.3L1082.4 262.2L1053.9 262.2ZM1080.1 231.3L1102.2 231.3L1104.4 262.2L1082.4 262.2ZM1146.4 231.3L1168.5 231.3L1170.2 262.2L1148.2 262.2ZM1168.5 231.3L1190.5 231.3L1192.1 262.2L1170.2 262.2ZM1234.7 231.3L1256.8 231.3L1258 262.2L1236 262.2ZM1256.8 231.3L1278.9 231.3L1279.9 262.2L1258 262.2ZM1278.9 231.3L1300.9 231.3L1301.9 262.2L1279.9 262.2ZM1345.1 231.3L1367.2 231.3L1367.7 262.2L1345.8 262.2ZM1433.4 231.3L1455.5 231.3L1455.5 262.2L1433.6 262.2ZM1477.6 231.3L1499.7 231.3L1499.4 262.2L1477.4 262.2ZM1499.7 231.3L1521.7 231.3L1521.3 262.2L1499.4 262.2ZM1521.7 231.3L1543.8 231.3L1543.3 262.2L1521.3 262.2ZM1565.9 231.3L1588 231.3L1587.2 262.2L1565.2 262.2ZM1588 231.3L1610.1 231.3L1609.1 262.2L1587.2 262.2ZM1610.1 231.3L1632.1 231.3L1631.1 262.2L1609.1 262.2ZM1830.9 231.3L1859.6 231.3L1857.1 262.2L1828.6 262.2ZM1301.9 262.2L1323.8 262.2L1326.2 292.5L1304.7 292.5ZM1323.8 262.2L1345.8 262.2L1347.8 292.5L1326.2 292.5ZM1389.7 262.2L1411.6 262.2L1412.4 292.5L1390.9 292.5ZM1261.6 292.5L1283.1 292.5L1288.5 321.6L1267.6 321.6ZM1283.1 292.5L1304.7 292.5L1309.4 321.6L1288.5 321.6ZM1520.1 292.5L1541.7 292.5L1539 321.6L1518.1 321.6ZM1606.3 292.5L1627.9 292.5L1622.5 321.6L1601.6 321.6ZM1735.6 292.5L1757.1 292.5L1747.7 321.6L1726.9 321.6ZM1622.5 321.6L1643.4 321.6L1634.9 349L1615 349ZM1643.4 321.6L1664.2 321.6L1654.9 349L1634.9 349ZM1685.1 321.6L1706 321.6L1694.7 349L1674.8 349ZM1706 321.6L1726.9 321.6L1714.7 349L1694.7 349ZM1726.9 321.6L1747.7 321.6L1734.6 349L1714.7 349ZM1747.7 321.6L1768.6 321.6L1754.6 349L1734.6 349ZM1768.6 321.6L1789.5 321.6L1774.5 349L1754.6 349ZM1575.1 349L1595.1 349L1586.6 373.9L1567.9 373.9Z"/>
<path fill="#ec9374" stroke="#ec9374" stroke-width="0.7" d="M1415.6 113.6L1435.6 113.6L1434.6 141L1413.8 141ZM1754.6 113.6L1774.5 113.6L1789.5 141L1768.6 141ZM1774.5 113.6L1794.4 113.6L1810.4 141L1789.5 141ZM1100.6 141L1121.5 141L1110.8 170.1L1089.2 170.1ZM1121.5 141L1142.4 141L1132.3 170.1L1110.8 170.1ZM1392.9 141L1413.8 141L1412.4 170.1L1390.9 170.1ZM1413.8 141L1434.6 141L1434 170.1L1412.4 170.1ZM1580.7 141L1601.6 141L1606.3 170.1L1584.8 170.1ZM1601.6 141L1622.5 141L1627.9 170.1L1606.3 170.1ZM1789.5 141L1810.4 141L1821.8 170.1L1800.2 170.1ZM1089.2 170.1L1110.8 170.1L1104.4 200.4L1082.4 200.4ZM1498.6 170.1L1520.1 170.1L1521.3 200.4L1499.4 200.4ZM1584.8 170.1L1606.3 170.1L1609.1 200.4L1587.2 200.4ZM1606.3 170.1L1627.9 170.1L1631.1 200.4L1609.1 200.4ZM1692.5 170.1L1714 170.1L1718.9 200.4L1696.9 200.4ZM1800.2 170.1L1821.8 170.1L1828.6 200.4L1806.6 200.4ZM1389.7 200.4L1411.6 200.4L1411.3 231.3L1389.3 231.3ZM1477.4 200.4L1499.4 200.4L1499.7 231.3L1477.6 231.3ZM1499.4 200.4L1521.3 200.4L1521.7 231.3L1499.7 231.3ZM1521.3 200.4L1543.3 200.4L1543.8 231.3L1521.7 231.3ZM1543.3 200.4L1565.2 200.4L1565.9 231.3L1543.8 231.3ZM1587.2 200.4L1609.1 200.4L1610.1 231.3L1588 231.3ZM1609.1 200.4L1631.1 200.4L1632.1 231.3L1610.1 231.3ZM1631.1 200.4L1653 200.4L1654.2 231.3L1632.1 231.3ZM1653 200.4L1675 200.4L1676.3 231.3L1654.2 231.3ZM1675 200.4L1696.9 200.4L1698.4 231.3L1676.3 231.3ZM1696.9 200.4L1718.9 200.4L1720.5 231.3L1698.4 231.3ZM1784.7 200.4L1806.6 200.4L1808.8 231.3L1786.7 231.3ZM1102.2 231.3L1124.3 231.3L1126.3 262.2L1104.4 262.2ZM1367.2 231.3L1389.3 231.3L1389.7 262.2L1367.7 262.2ZM1455.5 231.3L1477.6 231.3L1477.4 262.2L1455.5 262.2ZM1632.1 231.3L1654.2 231.3L1653 262.2L1631.1 262.2ZM1654.2 231.3L1676.3 231.3L1675 262.2L1653 262.2ZM1676.3 231.3L1698.4 231.3L1696.9 262.2L1675 262.2ZM1698.4 231.3L1720.5 231.3L1718.9 262.2L1696.9 262.2ZM1720.5 231.3L1742.5 231.3L1740.8 262.2L1718.9 262.2ZM1742.5 231.3L1764.6 231.3L1762.8 262.2L1740.8 262.2ZM1764.6 231.3L1786.7 231.3L1784.7 262.2L1762.8 262.2ZM1786.7 231.3L1808.8 231.3L1806.6 262.2L1784.7 262.2ZM1521.3 262.2L1543.3 262.2L1541.7 292.5L1520.1 292.5ZM1543.3 262.2L1565.2 262.2L1563.2 292.5L1541.7 292.5ZM1718.9 262.2L1740.8 262.2L1735.6 292.5L1714 292.5ZM1390.9 292.5L1412.4 292.5L1413.8 321.6L1392.9 321.6ZM1477 292.5L1498.6 292.5L1497.2 321.6L1476.4 321.6ZM1498.6 292.5L1520.1 292.5L1518.1 321.6L1497.2 321.6ZM1627.9 292.5L1649.4 292.5L1643.4 321.6L1622.5 321.6ZM1649.4 292.5L1670.9 292.5L1664.2 321.6L1643.4 321.6ZM1670.9 292.5L1692.5 292.5L1685.1 321.6L1664.2 321.6ZM1692.5 292.5L1714 292.5L1706 321.6L1685.1 321.6ZM1714 292.5L1735.6 292.5L1726.9 321.6L1706 321.6ZM1267.6 321.6L1288.5 321.6L1296 349L1276.1 349ZM1559.9 321.6L1580.7 321.6L1575.1 349L1555.2 349ZM1664.2 321.6L1685.1 321.6L1674.8 349L1654.9 349ZM1515.3 349L1535.2 349L1530.4 373.9L1511.7 373.9ZM1714.7 349L1734.6 349L1717.7 373.9L1699 373.9ZM1734.6 349L1754.6 349L1736.4 373.9L1717.7 373.9Z"/>
<path fill="#e48066" stroke="#e48066" stroke-width="0.7" d="M1435.6 113.6L1455.5 113.6L1455.5 141L1434.6 141ZM1073.5 141L1100.6 141L1089.2 170.1L1061.2 170.1ZM1434.6 141L1455.5 141L1455.5 170.1L1434 170.1ZM1455.5 141L1476.4 141L1477 170.1L1455.5 170.1ZM1476.4 141L1497.2 141L1498.6 170.1L1477 170.1ZM1497.2 141L1518.1 141L1520.1 170.1L1498.6 170.1ZM1622.5 141L1643.4 141L1649.4 170.1L1627.9 170.1ZM1706 141L1726.9 141L1735.6 170.1L1714 170.1ZM1810.4 141L1837.5 141L1849.8 170.1L1821.8 170.1ZM1412.4 170.1L1434 170.1L1433.6 200.4L1411.6 200.4ZM1434 170.1L1455.5 170.1L1455.5 200.4L1433.6 200.4ZM1477 170.1L1498.6 170.1L1499.4 200.4L1477.4 200.4ZM1563.2 170.1L1584.8 170.1L1587.2 200.4L1565.2 200.4ZM1627.9 170.1L1649.4 170.1L1653 200.4L1631.1 200.4ZM1649.4 170.1L1670.9 170.1L1675 200.4L1653 200.4ZM1821.8 170.1L1849.8 170.1L1857.1 200.4L1828.6 200.4ZM1082.4 200.4L1104.4 200.4L1102.2 231.3L1080.1 231.3ZM1806.6 200.4L1828.6 200.4L1830.9 231.3L1808.8 231.3ZM1808.8 231.3L1830.9 231.3L1828.6 262.2L1806.6 262.2ZM1411.6 262.2L1433.6 262.2L1434 292.5L1412.4 292.5ZM1455.5 262.2L1477.4 262.2L1477 292.5L1455.5 292.5ZM1565.2 262.2L1587.2 262.2L1584.8 292.5L1563.2 292.5ZM1587.2 262.2L1609.1 262.2L1606.3 292.5L1584.8 292.5ZM1609.1 262.2L1631.1 262.2L1627.9 292.5L1606.3 292.5ZM1631.1 262.2L1653 262.2L1649.4 292.5L1627.9 292.5ZM1653 262.2L1675 262.2L1670.9 292.5L1649.4 292.5ZM1675 262.2L1696.9 262.2L1692.5 292.5L1670.9 292.5ZM1696.9 262.2L1718.9 262.2L1714 292.5L1692.5 292.5ZM1455.5 292.5L1477 292.5L1476.4 321.6L1455.5 321.6ZM1455.5 321.6L1476.4 321.6L1475.4 349L1455.5 349ZM1539 321.6L1559.9 321.6L1555.2 349L1535.2 349ZM1580.7 321.6L1601.6 321.6L1595.1 349L1575.1 349ZM1601.6 321.6L1622.5 321.6L1615 349L1595.1 349ZM1535.2 349L1555.2 349L1549.1 373.9L1530.4 373.9ZM1555.2 349L1575.1 349L1567.9 373.9L1549.1 373.9Z"/>
<path fill="#dd7059" stroke="#dd7059" stroke-width="0.7" d="M1518.1 141L1539 141L1541.7 170.1L1520.1 170.1ZM1559.9 141L1580.7 141L1584.8 170.1L1563.2 170.1ZM1643.4 141L1664.2 141L1670.9 170.1L1649.4 170.1ZM1685.1 141L1706 141L1714 170.1L1692.5 170.1ZM1520.1 170.1L1541.7 170.1L1543.3 200.4L1521.3 200.4ZM1541.7 170.1L1563.2 170.1L1565.2 200.4L1543.3 200.4ZM1670.9 170.1L1692.5 170.1L1696.9 200.4L1675 200.4ZM1828.6 200.4L1857.1 200.4L1859.6 231.3L1830.9 231.3ZM1477.4 262.2L1499.4 262.2L1498.6 292.5L1477 292.5ZM1412.4 292.5L1434 292.5L1434.6 321.6L1413.8 321.6ZM1351.1 321.6L1372 321.6L1375.8 349L1355.8 349ZM1372 321.6L1392.9 321.6L1395.7 349L1375.8 349ZM1392.9 321.6L1413.8 321.6L1415.6 349L1395.7 349ZM1434.6 321.6L1455.5 321.6L1455.5 349L1435.6 349ZM1476.4 321.6L1497.2 321.6L1495.4 349L1475.4 349ZM1518.1 321.6L1539 321.6L1535.2 349L1515.3 349Z"/>
<path fill="#d6604d" stroke="#d6604d" stroke-width="0.7" d="M1539 141L1559.9 141L1563.2 170.1L1541.7 170.1ZM1664.2 141L1685.1 141L1692.5 170.1L1670.9 170.1ZM1433.6 262.2L1455.5 262.2L1455.5 292.5L1434 292.5ZM1499.4 262.2L1521.3 262.2L1520.1 292.5L1498.6 292.5ZM1434 292.5L1455.5 292.5L1455.5 321.6L1434.6 321.6ZM1309.4 321.6L1330.3 321.6L1335.9 349L1315.9 349ZM1330.3 321.6L1351.1 321.6L1355.8 349L1335.9 349ZM1497.2 321.6L1518.1 321.6L1515.3 349L1495.4 349Z"/>
<path fill="#c43b3c" stroke="#c43b3c" stroke-width="0.7" d="M1455.5 170.1L1477 170.1L1477.4 200.4L1455.5 200.4Z"/>
<path fill="#cc4c44" stroke="#cc4c44" stroke-width="0.7" d="M1288.5 321.6L1309.4 321.6L1315.9 349L1296 349ZM1413.8 321.6L1434.6 321.6L1435.6 349L1415.6 349Z"/>
<path fill="#053061" stroke="#053061" stroke-width="0.7" d="M1455.5 425.3L1468.9 425.3L1466.5 432L1455.5 432ZM1468.9 425.3L1482.4 425.3L1477.6 432L1466.5 432ZM1482.4 425.3L1495.8 425.3L1488.6 432L1477.6 432ZM1495.8 425.3L1509.2 425.3L1499.7 432L1488.6 432ZM1509.2 425.3L1522.6 425.3L1510.7 432L1499.7 432ZM1522.6 425.3L1536.1 425.3L1521.7 432L1510.7 432ZM1536.1 425.3L1549.5 425.3L1532.8 432L1521.7 432ZM1549.5 425.3L1562.9 425.3L1543.8 432L1532.8 432ZM1562.9 425.3L1576.4 425.3L1554.9 432L1543.8 432ZM1576.4 425.3L1589.8 425.3L1565.9 432L1554.9 432ZM1589.8 425.3L1603.2 425.3L1576.9 432L1565.9 432ZM1603.2 425.3L1616.7 425.3L1588 432L1576.9 432ZM1616.7 425.3L1630.1 425.3L1599 432L1588 432ZM1630.1 425.3L1643.5 425.3L1610.1 432L1599 432ZM1643.5 425.3L1656.9 425.3L1621.1 432L1610.1 432ZM1656.9 425.3L1670.4 425.3L1632.1 432L1621.1 432Z"/>
<path fill="url(#hxR)" fill-rule="evenodd" d="M1619.4 42.6L1617.6 40.3L1631.7 40.3L1645.8 40.3L1659.9 40.3L1668.5 42.6L1671.4 45L1685.2 57.6L1688.4 67L1671.1 67L1653.9 67L1636.6 67L1619.5 57.6L1618.1 49.4L1619.4 42.6ZM1426.7 127L1445.5 113.6L1463.9 127L1465.8 129.5L1486.3 129.5L1506.8 129.5L1527.3 129.5L1547.9 129.5L1570.3 141L1591.2 141L1612.1 141L1632.9 141L1645.7 127L1647.9 121.8L1668.2 121.8L1688.4 121.8L1708.7 121.8L1728.9 121.8L1749.2 121.8L1769.4 121.8L1789.7 121.8L1809.9 121.8L1813.2 127L1827.3 155.4L1836.6 185.2L1841.3 215.8L1841.3 246.8L1836.6 277.4L1832.5 292.5L1810.1 307.2L1816.3 330.2L1813.2 335.6L1809.9 340.8L1789.7 340.8L1764.5 349L1744.6 349L1724.6 349L1704.7 349L1688.4 340.8L1668.2 340.8L1647.9 340.8L1627.6 340.8L1607.4 340.8L1587.1 340.8L1565.8 361.8L1560.7 366.6L1541.6 366.6L1522.4 366.6L1519.5 361.8L1505.3 349L1485.4 349L1465.5 349L1445.4 340.8L1425.1 340.8L1404.9 340.8L1384.6 340.8L1364.4 340.8L1344.1 340.8L1323.9 340.8L1303.6 340.8L1283.4 340.8L1277.8 335.6L1257.2 321.6L1233.9 312.8L1228.3 307.2L1207.7 292.5L1186.2 292.5L1172.4 277.4L1159.2 262.2L1137.3 262.2L1115.3 262.2L1100.4 277.4L1097.5 283.3L1075.8 283.3L1074.4 277.4L1069.7 246.8L1069.7 215.8L1074.4 185.2L1083.7 155.4L1096.3 129.5L1116.9 129.5L1137.4 129.5L1157.9 129.5L1178.4 129.5L1199 129.5L1219.5 129.5L1240 129.5L1260.5 129.5L1276.1 149.8L1279 155.4L1293.9 170.1L1315.5 170.1L1337 170.1L1358.5 170.1L1377 155.4L1381.6 149.8L1403.3 141L1424.7 129.5L1426.7 127Z"/>
<path fill="none" stroke="#000" stroke-width="1.9" stroke-linejoin="round" stroke-linecap="round" d="M1181.7 56.6L1193.1 52.1L1200 50.9L1205.5 49L1217 47.5L1222.4 48.2L1227.4 48.8L1234.3 49.3L1236.1 50L1240.7 50.9L1245.1 50.2L1248.3 50.2L1255.7 49.4L1258.5 48.7L1260.7 50.2L1264.5 49.7L1268.3 50.3L1271.9 51.1L1273.1 52.5L1275.1 52.2L1280.8 52.7L1283.8 52.9L1285.4 51.6L1289.9 51.7L1293.3 52.9L1299.7 52.9L1303.6 52.2L1306.7 50.2L1306.8 49.4L1312.8 46.5L1313.9 48.7L1313.7 50.2L1316 50.9L1315.9 52.5L1318.3 53.4L1322.2 50.9L1323.5 49.7L1328 49.9L1327.8 51.7L1324.7 53.4L1324 55L1319.6 55.4L1316 55.9L1312 58.5L1309.6 59.4L1306 59.8L1302.8 61.6L1298.2 63.1L1293.3 66L1290.3 69.4L1293.2 69.6L1291.6 73.1L1296 73.1L1298.9 74.2L1302.7 76.7L1307.1 76.9L1305.3 81.8L1306 84.1L1307 85.9L1309.2 85.2L1310.8 82.9L1312 79.6L1311.9 78L1317.9 75.2L1320.5 72.1L1320.6 69L1321.6 66L1325 62.2L1329 62.5L1332 63.1L1333.3 65L1336.8 65L1334.5 69L1336.6 70L1340.6 69L1344.1 66.2L1344.1 69L1346.1 72.1L1346.5 75.2L1348.3 77.4L1351.4 78.5L1352.9 81.8L1352.7 84.1L1349.9 85.2L1345.4 87.5L1343.3 88.2L1339.6 88L1333.9 88.2L1329.6 89.9L1324.9 92.2L1319.7 96.1L1324.3 93.9L1329.1 91.1L1333.8 91.1L1333 93.4L1330.7 94.7L1330.8 97.1L1332.3 98.3L1336 98.8L1337.7 99.6L1337.5 100.3L1333.3 101.6L1329.8 103.3L1326.5 104.6L1327.3 102.1L1330.8 100.1L1325.7 100.8L1322.3 102.6L1318.9 104.1L1316.5 107.1L1317.3 108.9L1314 110L1308.4 112L1307.2 114.9L1304.2 117.6L1302.3 120.8L1301 121.6L1300.9 124.3L1301.2 126.2L1298.2 128.1L1295.3 130.1L1291.6 132.6L1287.6 135.9L1285.9 139.6L1286.4 145.8L1286.4 151L1284.8 154.8L1283.2 154.5L1282.4 151.9L1281.5 147.3L1282 143.8L1280.2 141L1277.2 141.8L1275.2 139.9L1272 140.1L1268.8 140.4L1268.5 143.3L1266 143.3L1263.2 142.1L1258.9 142.4L1256 143.8L1251.4 147.3L1249.5 152.5L1247.3 158.3L1246.1 163.3L1246.5 168.1L1248.3 172.5L1250.6 175.5L1255.5 174.3L1259 173.1L1260.9 168.1L1262.2 166.6L1266.7 165.4L1269.1 166.3L1266.8 171.6L1265 176.1L1262.5 182.1L1263.7 182.8L1268.5 182.5L1272.8 182.8L1274.3 185.2L1273 191.3L1272 197.4L1273.3 200.4L1275.3 203.5L1277.5 204.1L1280.7 202L1284.2 202.6L1285.6 204.7L1286.6 206.6L1289.9 198.6L1292.2 197.4L1295.6 195.8L1299.1 193.1L1299.2 197.4L1298.1 198L1302.3 193.7L1302.2 195.8L1305.7 198.3L1310.8 198.6L1314 199.8L1317.4 198.3L1319.6 198.3L1319.8 201L1321.9 203.5L1323.6 205L1326.7 208.7L1329.9 212.7L1334.3 212.7L1337.6 214L1340.8 216.8L1343 218.9L1345.1 225.7L1345.1 229.8L1348.4 232.8L1350.6 233.5L1356.2 235.9L1358.4 239.7L1362.8 240L1367.2 240.3L1370.6 243.1L1373.9 246.5L1377.7 247.4L1378.7 252.9L1378.6 259.1L1375.4 263.7L1373.4 268.3L1370.9 271.3L1370.6 277.4L1371 285L1369.9 291L1367.9 296.9L1366.1 300.8L1362.5 301.4L1359.5 303.4L1356.5 304.9L1353.6 308.1L1352.8 311.6L1353.2 316.8L1351.1 321.6L1348.8 326.7L1347.2 330L1345.4 333.6L1343 335L1339.9 335L1335.9 333.4L1338.7 336.9L1339.8 339.6L1339.3 343.7L1335.2 346.1L1331.2 346.3L1331.8 351.1L1327 351.6L1327.6 355L1330.1 355.7L1328.1 358L1328.6 361.8L1325.7 363.5L1326.2 366L1329.7 367.9L1330.3 369.6L1328.3 372.7L1327 375.8L1329.4 379.2L1327.5 379.2L1325.5 380.8L1326.5 382.6L1322.3 381.9L1319.5 379.7L1316 376.2L1313.5 371.5L1311.6 367.9L1312.1 364.3L1312.7 360.5L1312 355.5L1309.6 352.9L1308.6 347.7L1307.1 342.3L1307.4 338.3L1308 331.4L1306.8 324.4L1305.9 318.8L1306.1 313L1305.7 307.2L1305.3 301.4L1304.9 295.4L1303.5 287.7L1300.5 284.4L1295.8 281.4L1291.1 277.4L1289 273.8L1286.6 268.6L1283.7 262.2L1281.1 256L1279.4 252.3L1276.6 249.9L1276.2 245.2L1278.3 241.8L1278.9 239L1276.9 238.1L1277.8 234.4L1278.9 230.7L1278.9 228.2L1281.1 226.3L1282.2 223.3L1284.5 219.5L1285.1 214.3L1284.9 209.7L1283.6 205.7L1280.8 204.1L1278.5 206L1279.4 208.7L1276.2 207.5L1273 205.7L1271 202L1267.4 200.4L1267.4 197.4L1265.3 192.2L1263.7 190.6L1260.1 189.7L1255.9 188.2L1252.1 183.7L1250.2 181.5L1245.6 183.1L1241.5 181.2L1237.5 179.1L1234.7 176.1L1231.4 174L1228.6 170.1L1229.5 165.7L1228.1 160.4L1226.1 155.4L1224.2 151L1222.7 148.1L1220.6 144.4L1220.4 138.7L1217.7 136.2L1216.5 139.6L1217.7 143.8L1218.5 148.1L1219.8 152.5L1220.7 157.4L1221.6 160.7L1220 161.2L1217.4 156.3L1217.7 152.5L1215.1 149L1215.1 146.7L1214.1 140.1L1213.7 134L1212.4 129.8L1208.6 128.4L1208.3 123L1208.5 119.5L1208 114.9L1208.2 112.6L1210.8 108.4L1211.4 105.9L1215.4 100.8L1217.3 97.6L1219.3 92.7L1222.2 93L1221.7 95.1L1224.1 91.1L1223.4 89.9L1221.9 88L1219.4 86.4L1220.2 82.9L1220.2 79.6L1220.3 77.4L1220.6 74.2L1219.4 72.1L1218.5 70L1216.1 69L1214.4 67.4L1210.6 67L1207.6 66.6L1205.6 65.4L1201.4 66L1196.9 67.6L1192.5 68.4L1196.2 65.4L1199.7 64.6L1194.6 66L1189 68.4L1185.7 70.4L1178.2 73.1L1172.2 75.2L1165.8 76.9L1161 78L1167.7 75.2L1175.8 72.1L1180.6 69.6L1176.2 69.6L1172.4 69.8L1176.1 67L1173.1 66L1173.3 64L1178.3 61.8L1182.2 60.8L1188 59.8L1190 58.5L1186.7 58.5L1182 58.3L1181.7 56.6M1329.8 380.1L1330.9 381.9L1335.4 384.6L1337.7 384.6L1334.9 385.7L1331.4 385.9L1327.2 384.6L1324.7 383L1327.1 382.4L1328.2 379.9L1329.8 380.1M1342.5 377.4L1348 377.2L1347.7 379L1344 379L1342.5 377.4M1354.6 39L1363.4 37.7L1369.7 36.4L1377.6 35.7L1391.2 35.3L1404.8 34.8L1417.6 34.7L1427.2 35.3L1429.3 36L1439.8 36L1432.7 37.3L1430.5 39.2L1429.3 40.8L1426.5 42.6L1426.8 43.8L1422.7 45.1L1422.3 46.5L1418.3 47.2L1421.6 48.7L1419.1 49.4L1414.7 50.9L1411.2 52.1L1404.7 52.5L1400.6 55L1395.3 56.2L1389.9 57.6L1387.2 60.3L1383.6 63.1L1381.5 66.4L1378.7 67.2L1376.8 65.4L1372.8 64.6L1371.3 62.2L1370.1 59.4L1369.5 55.9L1370.6 52.5L1376 50.2L1371.9 49.4L1372.1 47.9L1372.2 45.8L1372.3 43.2L1371.3 42L1367.2 41.1L1359.8 41.4L1356.2 40.8L1356.3 39.7L1354.6 39M1416.3 56.7L1420 55.2L1423 56.2L1426.4 55.5L1429.7 55.2L1432 55.9L1433.4 57.6L1430.7 58.8L1425.5 60.3L1421.4 60.1L1418.2 59.6L1419.2 58.5L1416.1 57.8L1418.7 57.3L1416.3 56.7M1345.2 63.7L1341.3 61.8L1337.2 60.3L1335.1 58.5L1328.2 58.8L1327.5 57.6L1334.8 56.7L1337.6 54.2L1333.4 52.5L1332.4 50.2L1328.5 49.4L1322.8 49L1319.4 47.9L1321.4 45.1L1330 44.2L1335.6 44.5L1339 45.4L1342.2 46.5L1346.9 47.9L1350.2 49.4L1350.5 50.9L1353.4 53.4L1356.5 54.7L1352.7 56.7L1349.7 56.4L1346.8 55.9L1348.8 60.3L1345.2 63.7M1274.3 49.4L1279.9 50.9L1286 51.1L1295.6 50.9L1299.1 49.4L1294.9 47.9L1298.6 45.4L1291.6 45.1L1284.1 45.1L1278.5 45.8L1274.6 47.2L1274.3 49.4M1265.5 47.2L1271.1 47.5L1275.8 46.5L1283.3 44.7L1282.7 43.4L1273.2 43.8L1266.5 45.8L1265.5 47.2M1327.8 40.8L1335.8 40.3L1341.7 41L1347.9 39.7L1353.1 38.2L1362.3 36.9L1370.4 36L1375.7 35.3L1366.3 35L1353.5 35L1338.7 35.7L1334 36.4L1337.3 37.3L1338.1 38.2L1330.7 39.2L1327.8 40.8M1317.3 42L1321.4 43.1L1329.9 43.2L1339 42.9L1340.5 41.8L1334 41.4L1324.6 41L1317.3 42M1286.4 42.3L1295.1 43.1L1302.3 42.3L1304 41.4L1296.2 41L1288.3 41.4L1286.4 42.3M1301.5 46.5L1308.5 46.9L1316 45.8L1317.3 43.8L1308.5 43.8L1303.5 45.1L1301.5 46.5M1322.8 39L1334 38.9L1339.2 37L1332.7 36.4L1326.2 37.5L1322.8 39M1310.5 60.3L1315.1 60.8L1320.8 59.9L1322.7 58.5L1319.3 56.7L1315.5 56.4L1312 58.5L1310.5 60.3M1342.6 94.2L1348.4 96.1L1353.6 96.6L1355.1 94.4L1354.2 92.2L1354 89.9L1351.2 89.9L1352.1 85.2L1348.7 87.1L1345 91.5L1342.6 94.2M1216.6 86.8L1221.2 88.2L1221.6 92.5L1219.2 91.8L1217.3 89.2L1216.6 86.8M1213.8 79.6L1216 79.6L1214.3 82.9L1212.8 81.8L1213.8 79.6M1183.6 71.4L1187.5 71.4L1183.5 73.1L1183.6 71.4M1273.3 164.5L1278.1 161.2L1282.5 160.7L1287.5 162.7L1292.3 166.3L1295.7 169.5L1289.6 170.4L1288.4 168.1L1283.9 165.1L1279.9 163.3L1275.5 164.2L1273.3 164.5M1294.6 174.6L1298.2 170.4L1304.6 170.7L1307.6 174.3L1303 175.2L1300.2 177L1294.6 174.6M1286.2 174.9L1289 174.6L1290.6 176.1L1287.7 176.7L1286.2 174.9M1310.2 174.9L1313.4 175.2L1312.6 176.1L1310 176.1L1310.2 174.9M1320 198.3L1321.8 198L1321.6 200.1L1319.9 200.1L1320 198.3M1119.6 169.5L1121.4 170.7L1121 172.2L1119.2 173.1L1119.2 171L1119.6 169.5M1118.8 167.2L1120.1 167.8L1119.1 168.3L1118.8 167.2M1116.1 165.4L1116.9 166.3L1116 166.3L1116.1 165.4M1113.4 163.6L1114.1 164.2L1113.4 164.5L1113.4 163.6M1444.1 124.3L1442.7 122.7L1440.5 121.1L1437.5 121.6L1437.8 117.6L1436.4 116.8L1438 113.1L1438.3 108.9L1437.5 105.9L1439.9 104.1L1444.8 104.6L1448.7 104.8L1452 104.8L1453 102.1L1453.2 98.3L1451.3 95.4L1446.9 93.9L1446.6 92.2L1449.8 91.5L1452.5 92L1452.1 89.4L1453.6 90.1L1455.9 89.9L1458.3 88.2L1458.7 86.4L1462 85.4L1463.2 83.6L1464.3 81.8L1467.4 80.7L1470.1 80.2L1471.5 79.6L1470.8 76.3L1470 73.1L1472.8 72.1L1474.2 71.6L1473.8 74.2L1474.8 75.2L1473.1 76.7L1473.6 78.5L1475.5 79.6L1478.1 78.7L1480.5 79.1L1481.5 79.8L1485.4 78.5L1488.9 77.8L1490.8 78.7L1493.3 76.9L1492.8 73.5L1493.8 71.8L1496.3 73.1L1498.5 72.7L1498.1 70.4L1496.3 68.6L1498.8 68L1504 67.8L1507.2 67L1504.4 65.8L1500.2 66.2L1495.2 67.2L1492.3 65.6L1491.5 63.1L1491.4 60.8L1493.6 59.4L1496.5 57.6L1496.7 56.6L1493.7 56.2L1491.4 56.7L1490.6 58.5L1488 60.3L1485.8 62.2L1484.9 64L1485 65.6L1487.9 67L1487.6 68.4L1485.2 69.6L1484.6 72.1L1484 74.8L1481.4 75.2L1481 76.5L1478.9 76.5L1477.8 74.6L1475.7 71L1474.7 69L1473.7 68L1472.1 69.4L1469.5 70.8L1467.8 71L1465.5 69.6L1464.1 67L1464 64L1464.8 62.5L1467.2 61.2L1470.5 59.9L1472.8 58.5L1475.1 56.7L1476.5 55L1478.6 53L1479.9 51.7L1482.8 50.5L1485.7 49.4L1489.4 48.7L1493 47.9L1496.8 47.9L1500 48.2L1503.3 49L1502.1 49.7L1507 50.3L1511.8 50.6L1519 52.5L1521.8 54.2L1521.5 55.4L1517.9 55.7L1511.9 54.7L1508.6 54.7L1511.6 56.2L1512.9 58.5L1516.8 59.4L1517.5 57.6L1521.1 58.3L1521.6 56.7L1523.3 55.2L1526.7 55.5L1525.9 53.8L1524.6 51.7L1528.2 52.1L1530.1 54.2L1531.9 53L1534.8 52.5L1539.1 51.7L1540.9 52.1L1545.3 51.6L1549.6 50.9L1549.4 49.7L1555.5 50.5L1558.3 50.2L1560.8 51.3L1563.8 52.1L1563.7 50.9L1559.3 49.4L1557.6 47.5L1557.9 45.4L1559.8 45.1L1564 45.5L1566.1 47.2L1567 49.4L1570.6 52.1L1573.8 54.2L1571.9 55.4L1574.5 54.5L1574.5 52.5L1572.3 50.9L1568.9 48.7L1568 46.1L1571 46.5L1573 46.2L1576.6 46.1L1575.1 44.5L1581.9 43.8L1581.6 42.6L1584.9 41.8L1591.3 41.4L1597.1 40.7L1600.8 39.5L1604.1 39.9L1608.2 40.6L1614.1 40.7L1618.4 41.7L1616.1 43.2L1620.6 44.1L1630.2 44.5L1632.8 45.1L1637.1 44.2L1642.7 44.5L1649 45.8L1653.6 47.9L1656.4 48.2L1657.6 47.2L1664 47.4L1665.3 46.1L1666.2 45.4L1673 45.8L1682.9 46.9L1689.3 48.2L1695.6 47.9L1702.4 49L1705.3 50L1710.4 49.9L1715.7 49.4L1722.8 50.9L1719.6 49.4L1724.1 49.7L1729.1 49.9L1738.4 51.3M1172.6 51.3L1175.4 52.2L1177.9 54.2L1180.2 54.7L1180.4 55.7L1172.4 58.1L1169.6 58.8L1167.7 57.1L1163.5 56.7L1160.2 57.6M1750.8 57.6L1749.9 58.5L1747.6 58.1L1755.8 61.2L1757.5 62.5L1752.2 63.5L1750.2 65L1749.6 67L1742.5 66.2L1740.4 67.2L1738 67.4L1742.4 71L1740.6 71.4L1745.1 73.7L1748.4 77.4L1748.1 81.4L1746.2 82.2L1747.4 86.4L1742.3 82.9L1736.7 77.4L1731.1 73.1L1731.8 71.4L1730.2 66L1729.9 62.2L1726.7 63.5L1722.4 64L1724.1 68L1720.1 69L1713.7 68L1703.8 68.4L1702.1 71.6L1702.3 76.3L1702 78.9L1706.6 80L1709.9 79.6L1714.3 81.8L1716.7 86.4L1721.1 92.2L1721.2 97.1L1719.7 102.1L1718.2 105.9L1714 105.3L1712.8 107.6L1712.7 111L1710.7 113.6L1710.6 115.5L1716.4 120.3L1719.4 125.7L1717.2 127.3L1714.8 128.7L1712.9 124.3L1712.2 121.6L1708.3 118.9L1705.4 114.9L1703.3 113.6L1700 116.3L1699.3 116.8L1698.1 112.3L1695.7 111.5L1693.8 115.7L1691.6 116.3L1694.5 119.5L1698.9 120.3L1703.2 120.8L1701.1 123L1699.3 127L1703.5 131.2L1707.9 135.9L1709.5 139.6L1710.6 145.3L1709 150.4L1708.1 154.8L1706 158.9L1703.4 161.2L1700.1 163.3L1695.7 165.1L1692.3 166.3L1693 169.2L1690.9 165.7L1688.2 165.1L1685.4 167.2L1683.7 171.6L1686.3 177.6L1690.9 182.1L1693.8 188.2L1694.7 194.3L1691.3 198.9L1689.8 202L1686.3 204.4L1685.9 200.4L1682.5 198.9L1679.8 194.3L1676.3 192.2L1675 189.7L1674.2 192.8L1673.6 197.4L1673.6 202.6L1676 205.7L1677.9 210.6L1680.9 212.7L1683.3 217.4L1683.9 223.6L1685.6 227L1684 227.3L1679.5 222.9L1677.2 218.3L1676.5 212.7L1673.3 207.2L1671.6 205L1671.5 198.9L1671.4 192.8L1669.3 188.2L1668.1 183.7L1666.5 180L1663.1 182.5L1660.5 182.1L1660.1 176.1L1657.6 171.6L1653.6 167.2L1652 162.7L1649.2 162.7L1646.3 164.8L1642.3 166.3L1641.9 170.1L1638.9 171.6L1636.2 176.1L1634.1 179.7L1630.2 183.7L1630.6 189.7L1630.3 195.8L1629.5 199.5L1629 202.9L1627.3 203.8L1625.9 206.3L1623.6 203.5L1622.2 198.9L1619.5 192.8L1617.9 186.7L1615.1 180.6L1613.3 174.6L1611.9 168.6L1611.1 165.7L1610.2 167.2L1607.1 167.8L1603.3 163.3L1605.1 161.2L1601.7 159.8L1599.3 158.3L1597.1 154.8L1592.4 154.8L1587.2 155.1L1582.8 154.5L1577.4 153.3L1575.4 149.6L1571.7 150.4L1568.5 150.4L1564.9 147.3L1561.3 143.8L1559.8 140.4L1557.3 140.1L1555.8 141.6L1556.6 144.4L1558.7 148.1L1561.1 150.4L1562.2 153.9L1563.9 156.3L1564.8 153.1L1565.1 156.8L1567.3 157.7L1570.5 157.7L1573.2 153.9L1574.6 151.9L1575.7 156.8L1578.1 158.9L1580.8 159.8L1583.5 162.7L1581.7 168.1L1580.3 173.1L1577.8 176.1L1574.8 179.1L1570.6 180.6L1566.5 184.3L1561.3 188.2L1556 190.3L1553.9 191.9L1550.6 192.2L1549.8 189.7L1548.7 185.2L1548.2 180.6L1545.3 176.1L1542.8 170.7L1539.7 166.3L1538.1 159.8L1534.7 155.4L1532.7 151L1529.5 146.7L1528.3 142.4L1527.8 146.1L1527.5 147.3L1525.8 145.3L1523.6 141.3L1522.6 137.3L1526.1 137.3L1527.5 134.8L1527.9 131.2L1528.9 127L1528.6 123.5L1526.9 122.7L1524.6 123.5L1521.6 124L1517.7 122.1L1515.4 123.5L1512.7 122.4L1510.7 121.1L1508.8 117.6L1509.1 114.9L1507.7 113.6L1509.2 112.6L1513.2 112.6L1513.2 110.7L1511 110.7L1508.2 112.3L1507.1 111.5L1504.1 111.5L1502.3 113.1L1500.9 112.6L1500.9 115.5L1502.4 118.4L1503.8 118.9L1502.3 119.5L1502.2 123L1501 123L1499.5 122.1L1498.3 119.5L1498.1 117.6L1496.1 114.9L1494.3 112.3L1494 108.9L1491.9 107.1L1488.8 105.3L1485.7 103.3L1483.5 100.3L1481.9 99.3L1479.3 100.1L1479.8 102.8L1482.1 104.6L1483.4 107.6L1487.1 108.7L1487.2 110L1491.3 112L1492.4 113.4L1489.3 112.3L1488.6 114.4L1489.8 116.3L1488.7 118.1L1487.1 119.2L1487.6 116.5L1486.6 113.6L1484.3 112L1481.2 110.2L1477.1 107.4L1475.6 104.6L1472.6 102.3L1470.1 103.8L1467.3 105.6L1464.3 104.8L1461.8 105.3L1461.8 108.4L1459.5 110.2L1457.1 111.5L1454.9 114.9L1455.9 116.8L1454.1 119.7L1451.4 122.1L1446.4 122.4L1444.1 124.3M1512.9 110.5L1516.9 110.5L1521.6 108.4L1524.5 108.4L1527.8 110.2L1531.8 111L1537.6 109.7L1536.9 106.4L1531.5 103.3L1528.2 101.3L1526.4 100.1L1528.6 98.3L1530 95.4L1526.3 96.4L1523.2 97.8L1524.1 100.1L1521.6 102.3L1520.1 100.3L1518 97.8L1515 97.1L1513.4 99.6L1512.8 100.8L1511.4 103.3L1510.4 105.9L1510.3 108.4L1512.9 110.5M1555.5 120.3L1558.9 122.1L1564.5 121.9L1563.1 116.3L1561.2 113.6L1559.9 109.7L1562 108.4L1558.5 106.4L1555.5 103.3L1554.3 100.8L1557.2 97.1L1554 95.9L1550.5 97.1L1547.9 98.3L1546.5 100.8L1548.3 104.6L1551.1 108.4L1553.9 112.3L1553.6 115.5L1554.2 118.9L1555.5 120.3M1522.6 137.3L1519.8 136.8L1515.8 138.4L1511.6 137L1507.3 136.2L1503.5 134.5L1499.9 132.8L1496.9 135.4L1497.1 138.7L1494.1 140.1L1488.7 137.3L1486.5 134.2L1481.3 132.8L1478.1 131.2L1476.4 129L1477.1 125.7L1477.8 121.6L1475.7 120.8L1471.7 121.9L1465.6 122.1L1461.6 121.9L1455.5 124.6L1451.4 126.8L1444.7 124.9L1443.3 125.7L1441.5 129.8L1438 131.7L1435.4 136.8L1435.3 141L1431.3 145.8L1428.1 147.6L1424.8 151.6L1421.4 158.9L1419 166.3L1420.3 171.6L1419.7 180.6L1417.4 186.1L1419 191.3L1419 193.4L1422 197.4L1425.4 202L1426.5 205L1430.2 210L1434.6 214.9L1439 217.7L1444.5 215.5L1448.9 215.5L1451.5 216.4L1456.6 213.7L1461 211.8L1465 211.8L1467.6 216.8L1469.8 218L1474.2 217.1L1476.5 219.5L1477.1 223.6L1476.5 228.2L1475.4 233.5L1477.1 239L1479.8 243.7L1482 247.4L1482.6 250.5L1484.7 257.6L1485.8 264.6L1485 269.8L1482.3 274.4L1481.1 282L1481 286.5L1483.9 294L1486.3 299.9L1486.9 307.2L1488.8 314.5L1490.7 318.8L1492.4 325.8L1493.3 329.5L1493.2 333.4L1496.4 335L1501.7 332.8L1507.9 332.8L1511 332L1514.3 329.2L1519 323.9L1521 320.2L1524.1 315.9L1525.2 310.1L1525.5 308.7L1530.7 305.2L1531.6 298.4L1530.5 292.5L1534.4 288L1537.9 284.1L1542.5 280.5L1544.2 275.9L1544.1 269.8L1543.9 263.7L1542.3 257.6L1541.8 251.4L1541 248.3L1542.6 244.6L1544.9 239L1547.1 236.3L1550.4 229.8L1554.8 225.1L1559.2 218.9L1562.4 212.7L1565.4 205L1567.4 198.9L1567.6 194.9L1562.8 196.1L1557.4 198L1553.1 199.2L1550.3 195.8L1550 192.8L1547.2 188.8L1543.7 185.2L1541 183.1L1538.8 176.1L1536 171.6L1535.4 167.2L1533.6 162.7L1531.1 158.3L1528.6 152.5L1526.5 148.1L1523.6 141.3M1563.4 268.6L1564.9 278.9L1563.1 283.5L1559.9 294L1555.8 306.6L1551.4 308.7L1549 307.2L1548.6 299.9L1550.9 293.1L1551 283.5L1555.5 279.8L1559.7 275.9L1563.4 268.6M1445.2 88.5L1449 88L1453.6 87.1L1457.9 85.9L1457 85.2L1458.6 82.7L1456 81.8L1455.5 80.2L1453.1 78.3L1452.5 75.9L1451 75.2L1452 72.1L1448.5 71.6L1449.9 69.8L1446.8 69.8L1445.3 72.1L1445.7 74.6L1446.8 77.4L1449.5 77.6L1449.7 80.7L1447.3 81.1L1447.8 82.9L1445.9 84.5L1449 85.4L1447.1 86.4L1445.2 88.5M1444.1 83.6L1444.6 80.7L1445.2 78L1442 76.7L1440.1 78.5L1437.3 79.6L1438.1 81.8L1436.5 84.1L1437.9 85.2L1441.7 84.1L1444.1 83.6M1480.7 118.9L1486.7 118.4L1486.3 122.4L1480.7 119.7L1480.7 118.9M1471.8 111L1474.7 111L1474.7 115.7L1472.5 116.3L1471.8 111M1472.4 107.1L1474.1 105.9L1474.3 109.7L1472.7 109.2L1472.4 107.1M1503.6 125.7L1509.2 126.5L1504.6 127L1503.6 125.7M1521.5 127L1525.8 125.4L1524.7 127.9L1521.5 127M1533.8 47.2L1536.9 48.4L1543.8 48.4L1538.8 45.8L1539.3 43.8L1541.9 42L1549.1 40.8L1552.9 40.5L1548.4 40.3L1540.9 41L1536.7 42.6L1535.4 44.5L1533.8 47.2M1470.5 38.2L1475.1 39.7L1479.5 40.6L1484.6 39.2L1481.2 37.7L1486.2 37L1479.6 37.1L1470.5 38.2M1585.2 38.2L1593.7 39L1600 38.7L1594.3 37.5L1583.6 36.4L1585.2 38.2M1652.7 42L1662.8 43.8L1665.7 42.6L1672 42.2L1664.1 41.4L1655.6 41.4L1652.7 42M1728.5 47.9L1729.1 47.2M1181.9 47.2L1184.7 47.6L1179.5 48.2M1731.5 48.2L1728.5 47.9M1712.9 78.9L1717.4 81.8L1722.9 87.5L1728.1 91.1L1729.3 96.4L1728.8 98.3L1725.2 93.4L1720.5 87.5L1712.9 78.9M1732.3 109.7L1730.2 105.3L1728.9 99.8L1733.6 102.6L1739.5 104.6L1738.4 108.4L1733.7 107.1L1732.3 109.7M1735.4 110.2L1739.4 114.9L1739.6 118.9L1741.9 124.3L1741.7 127L1739.6 127.9L1736 128.1L1734.3 131.2L1732.1 128.4L1727.3 129.2L1724.5 129.8L1723.9 128.4L1726.7 125.7L1732.6 125.1L1732.9 121.6L1735.2 120.3L1735.8 117.6L1734.6 113.6L1733.7 111L1735.4 110.2M1723 131.2L1726.1 131.2L1728.4 136.8L1726.6 137.6L1724.2 134L1723 131.2M1727.7 130.1L1731.4 129.2L1731.9 131.7L1730 133.1L1727.7 130.1M1713.4 154.8L1715 158.3L1714.4 164.2L1712.4 161.2L1712.3 156L1713.4 154.8M1690.1 172.5L1693.6 170.1L1694.9 171.6L1692.4 175.5L1690.1 172.5M1631.1 201L1634 205L1635.6 209.7L1632.9 212.7L1631.1 208.1L1631.1 201M1716.3 174.6L1719.7 174.6L1720.8 179.1L1719.8 182.1L1720.6 185.8L1722.7 187.6L1725.7 188.8L1726.9 192.5L1725 191.3L1723.3 188.5L1721.1 188.5L1718.7 188.8L1718.6 186.4L1716.8 185.2L1716 181.5L1716.5 178.2L1716.3 174.6M1718.5 190L1721 191L1720.7 193.4L1719.1 191.9L1718.5 190M1727.4 192.8L1729.6 193.1L1730.9 196.8L1729.5 197.4L1727.9 195.5L1727.4 192.8M1728 196.1L1729.4 197.1L1730.2 199.8L1729.1 199.8L1728 196.1M1724.1 198L1726.2 197.7L1726.1 202.9L1724.4 201.4L1724.1 198M1722.6 194.9L1725.1 195.8L1724.4 198.9L1722.8 198.6L1722.6 194.9M1724.1 209.7L1724.5 206.9L1726.8 204.7L1728.8 205.3L1730.6 201.4L1733.2 205L1733.9 209L1733 211.8L1732.1 213.7L1730.9 213.1L1729.1 211.5L1727.5 207.8L1725.1 208.7L1724.1 209.7M1713.1 205L1717.3 196.4L1716.6 199.5L1713.1 205M1665.5 214L1670.4 215.2L1677.3 223.6L1684.5 231.3L1686.2 237.5L1689.4 241.2L1688.6 249.2L1685.8 249.2L1681.2 243.7L1677.4 235.9L1673.4 226L1669.5 220.5L1665.5 214M1687.1 252.3L1690.6 249.9L1694.4 252L1699.5 251.1L1703.6 252.6L1707.4 255.4L1706.9 258.2L1699.6 256.9L1694.2 255.4L1689.9 254.2L1687.1 252.3M1696.1 225.7L1697.7 225.1L1701.2 223.6L1704.9 221.4L1708 216.4L1710.9 210.3L1713.7 209.7L1717.8 214.9L1715.8 218L1715.5 223.6L1718.2 228.2L1714.9 231.3L1712.7 237.5L1711.4 243.1L1708.1 243.7L1704.9 241.2L1701.6 240.6L1698.8 235.9L1696.2 231.3L1696.1 225.7M1720 229.8L1722.2 227.3L1727.1 228.2L1731.5 226.3L1729.3 230.1L1722.7 230.1L1720.9 234.1L1723.8 234.1L1727.7 234.4L1724.8 237.5L1725.8 242.1L1726.6 248.3L1724.5 246.2L1722.5 240.6L1721.1 248.3L1718.9 248.3L1719.2 242.1L1717.7 239.7L1720 229.8M1744.7 233.8L1748.1 232.5L1751.4 233.8L1753.4 241.5L1759.1 235.9L1766.7 239.3L1774.3 243.1L1777.3 247.7L1781.1 250.5L1779.2 252.3L1782 257.6L1785.7 263.1L1780.2 262.8L1776.5 257.6L1772.3 255.1L1769.7 259.1L1765.3 259.4L1761.2 256L1758.9 256.9L1760.8 252.9L1759.3 247.7L1754.3 244.9L1748.9 243.7L1748.6 240L1751.3 239L1746.9 237.5L1744.7 233.8M1726.4 263.1L1730.2 259.1L1735.2 257.3L1731 261.6L1726.4 263.1M1710.5 257.6L1713.9 256.9L1717.1 257.3L1721.5 257.3L1726 256.9L1721.4 258.8L1715.9 258.5L1710.4 258.5L1710.5 257.6M1737 225.7L1738.1 229.8L1739.2 232.8L1737.7 228.8L1737 225.7M1738 240.6L1743.5 240.6L1742.3 242.4L1737.9 241.8L1738 240.6M1782.3 248.9L1787.2 248.3L1791.2 244.3L1789.4 248.3L1785.9 250.8L1782.3 248.9M1788.3 239.7L1792 242.1L1792.9 245.5L1790.9 242.4L1788.3 239.7M1796.5 248.3L1798.6 251.4L1797.5 252L1796.5 248.3M1800.1 252L1802.1 254.2L1801 254.5L1800.1 252M1804.3 254.8L1806.8 257.3L1805.7 257.6L1804.3 254.8M1806.3 260L1808.5 261.6L1806.7 261.9L1806.3 260M1808.8 257.3L1809.9 260.6L1809.1 260L1808.8 257.3M1809.8 263.1L1811.3 264.6L1810.3 264.3L1809.8 263.1M1818.3 277.4L1819.2 279.2L1818.3 279.5L1818.3 277.4M1819.2 280.5L1819.9 282L1819 282L1819.2 280.5M1819.9 285.3L1820.4 285.9L1819.8 285.9L1819.9 285.3M1808.7 293.1L1812.3 298.4L1813 299.6L1809.8 296.3L1808.7 293.1M1840.1 285L1842.4 285.6L1841.3 287.1L1839.3 286.5L1840.1 285M1843.8 282L1846.3 281.4L1844.6 282.9L1843.8 282M1698.8 298.4L1700 297.8L1704.9 294.8L1710.6 293.4L1716.5 291L1720.2 286.5L1721.2 283.5L1724.9 281.4L1729.1 275.9L1732.6 274.4L1735.4 277.1L1737.6 277.1L1739.6 271.3L1741.6 269.5L1745.5 268.3L1746.8 266.8L1752.1 268.3L1754.8 268.9L1752.5 272.9L1750.6 277.4L1754.4 280.5L1757.8 285L1760.6 285L1763.7 277.4L1765.4 269.8L1767.9 264.6L1769.2 270.7L1769.1 275.3L1771.9 277.4L1771.9 285L1771.5 289.2L1774.4 292.5L1775.9 298.4L1777.3 302.8L1779.7 306.6L1779.4 311.6L1777.7 317.3L1773.6 324.4L1769.2 329.5L1765.1 333.6L1761.1 338.3L1758.2 342.3L1753.8 343.4L1748.7 346.3L1746.9 344.2L1743.4 345.8L1739.4 343.9L1738.3 341L1739.1 337.5L1736.6 337.5L1739.2 334.2L1736.7 336.1L1738.4 331.4L1740.1 329.5L1733.9 334.7L1732.4 334.7L1732.5 329.5L1728.9 327.2L1723.1 326.1L1716.1 328.1L1711.2 330L1709.2 332.5L1702 332.5L1696.7 335.6L1692.6 333.9L1691.9 332L1695.1 327.2L1695.6 321.6L1695.7 315.9L1695.2 310.1L1697.6 305.8L1698.8 298.4M1742.9 350.8L1745.8 351.9L1749.7 351.3L1747.2 355L1742.8 358L1740.9 358L1741.5 355L1742.9 350.8M1809.5 333.9L1811.3 336.4L1811.5 339.9L1810.8 342.6L1814.8 342.6L1813.8 345L1809.5 347.4L1804.9 351.6L1801.3 352.6L1804.4 349L1803.3 347.1L1807.4 343.7L1809.3 339.6L1809.1 335.6L1809.5 333.9M1798.7 350.6L1799.9 352.9L1794.6 356.7L1788.7 360L1784.4 363.8L1779.5 365.8L1777.4 364.8L1776.3 363.8L1783.5 359.3L1790.1 356.2L1796.5 351.6L1798.7 350.6M1585.3 371.5L1588.3 372L1586.5 373.2L1584.8 372.7L1585.3 371.5M1206.7 423.6L1221.6 423.9L1233.6 423.4L1238.3 422.7L1242.7 421.8L1246.8 420.6L1252.5 420L1258.4 419.4L1265.2 419.2L1271 418.4L1278.6 418.5L1286.4 418.8L1294.9 419.4L1302.2 419.4L1303.5 417.5L1305.5 416.8L1313.9 417.5L1321 417.2L1328.8 417.5L1336.6 417.7L1341.9 417.2L1345.3 416.1L1348.4 414.7L1348.9 411.7L1348.6 409.2L1350 406.7L1351.9 404.6L1355.7 402.7L1359.5 401.9L1359.6 403.8L1356.3 405L1354.9 406.7L1354.2 409.2L1353 410.9L1357.9 413.2L1362.6 416.1L1365.8 418.8L1364.8 420.6L1356.2 421.8L1347.9 422.9L1351.8 423.6L1365.4 423.4L1379 423.2L1393.1 423.4L1405.6 423.4L1409 422.3L1415.5 421.2L1420.5 419.4L1425.8 417.9L1433.1 417.1L1438.7 415.1L1443.2 414.4L1447.8 413.9L1455.5 412.9L1463.2 413.2L1471 413L1478.8 412.9L1486.5 413.2L1494.2 413.2L1502.4 412.1L1507.4 411.2L1511.7 412.1L1518.3 411.5L1527.1 409.6L1535.7 408.4L1543.2 406.6L1547.2 408.1L1554.4 409.2L1562 409.7L1565.9 410.9L1569 412.7L1572.4 412.4L1578.8 410.5L1586.6 408.9L1597 408.1L1605.6 407.6L1614.9 406.4L1621.6 406.2L1628.2 407.6L1637.4 406.6L1643.2 408.4L1651.9 407.9L1660.7 407.4L1669.2 407.1L1675.9 406.9L1680.9 407.9L1686 408.8L1689.7 410.4L1694.9 411L1699.5 412L1702.7 413.5L1706.1 414.1L1710.3 415L1714 415.7L1708.8 417.5L1699.3 419.4L1691.6 420.6L1685.7 422.3L1685.7 423.4L1690.5 423.6L1697 423.7L1703.9 423.7M1279.7 41.4L1285 41.6L1292.2 40.3L1289 39.8L1279.7 41.4M1305.4 42.2L1314 42.2L1316.5 40.8L1311.2 40.6L1305.4 42.2M1315.2 42.8L1319.4 42.9L1320.7 42.1L1316.6 42L1315.2 42.8M1299.1 51.3L1305.3 51.4L1306.5 49.7L1301.8 49.7L1299.1 51.3M1309.9 39.2L1317.8 39.4L1319 38.2L1312.6 38L1309.9 39.2M1335.6 44.5L1340.4 45.4L1342.3 44.5L1337.7 43.9L1335.6 44.5M1315.5 62.5L1319.1 62.2L1319 61.2L1316.2 61.6L1315.5 62.5M1334.5 89.2L1338.7 90.6L1339.2 90.8L1335.5 88.9L1334.5 89.2M1519.4 36.9L1529.4 37.3L1535.1 36.7L1530.1 36L1521.5 36.4L1519.4 36.9M1531.5 50.9L1534.1 51.3L1532.6 50.2L1531.3 50.5L1531.5 50.9"/>
<path fill="none" stroke="#b0b0b0" stroke-width="1.5" d="M1145 395.6L1766 395.6M1079.8 321.6L1831.2 321.6M1058 231.3L1853 231.3M1079.8 141L1831.2 141M1145 67L1766 67M1323 32.6A132.5 198.7 0 0 0 1323 430M1389.3 32.6A66.2 198.7 0 0 0 1389.3 430M1521.7 32.6A66.2 198.7 0 0 1 1521.7 430M1588 32.6A132.5 198.7 0 0 1 1588 430M1455.5 32.6L1455.5 430"/>
</g>
<path fill="none" stroke="#000" stroke-width="1.1" d="M1256.8 32.6L1654.2 32.6A198.7 198.7 0 0 1 1654.2 430L1256.8 430A198.7 198.7 0 0 1 1256.8 32.6Z"/>
<path fill="url(#cb1)" stroke="#000" stroke-width="1" stroke-linejoin="miter" d="M1903.3 51.9L1912.8 33.1L1922.4 51.9L1922.4 410.7L1912.8 429.5L1903.3 410.7Z"/>
<path stroke="#000" stroke-width="1.4" fill="none" d="M1922.9 51.9h6.9M1922.9 96.8h6.9M1922.9 141.6h6.9M1922.9 186.5h6.9M1922.9 231.3h6.9M1922.9 276.2h6.9M1922.9 321h6.9M1922.9 365.9h6.9M1922.9 410.7h6.9"/>
<text transform="translate(1998.4 231.3) rotate(-90) scale(1.053 1)" font-size="13.89" text-anchor="middle">K per decade</text>
<text transform="translate(1455.5 20.7) scale(1.053 1)" font-size="19.44" text-anchor="middle">RO 2002−2021@12.0 km</text>
<text transform="translate(1323.02 450) scale(1.053 1)" font-size="13.89" text-anchor="middle">120°W</text>
<text transform="translate(1389.26 450) scale(1.053 1)" font-size="13.89" text-anchor="middle">60°W</text>
<text transform="translate(1455.5 450) scale(1.053 1)" font-size="13.89" text-anchor="middle">0°</text>
<text transform="translate(1521.74 450) scale(1.053 1)" font-size="13.89" text-anchor="middle">60°E</text>
<text transform="translate(1587.98 450) scale(1.053 1)" font-size="13.89" text-anchor="middle">120°E</text>
<text transform="translate(1663.05 450) scale(1.053 1)" font-size="13.89" text-anchor="middle">180°</text>
<text transform="translate(1776.58 71.27) scale(1.053 1)" font-size="13.89" text-anchor="start">60°N</text>
<text transform="translate(1134.42 71.27) scale(1.053 1)" font-size="13.89" text-anchor="end">60°N</text>
<text transform="translate(1841.85 145.29) scale(1.053 1)" font-size="13.89" text-anchor="start">30°N</text>
<text transform="translate(1841.85 325.91) scale(1.053 1)" font-size="13.89" text-anchor="start">30°S</text>
<text transform="translate(1776.58 399.93) scale(1.053 1)" font-size="13.89" text-anchor="start">60°S</text>
<text transform="translate(1134.42 399.93) scale(1.053 1)" font-size="13.89" text-anchor="end">60°S</text>
<text transform="translate(1863.35 235.2) scale(1.053 1)" font-size="13.89" text-anchor="start">0°</text>
<text transform="translate(1853.85 208.7) scale(1.053 1)" font-size="13.89" text-anchor="start">180°</text>
<text transform="translate(1057.85 262) scale(1.053 1)" font-size="13.89" text-anchor="end">180°</text>
<text transform="translate(1936.2 57) scale(1.053 1)" font-size="13.89" text-anchor="start">1.00</text>
<text transform="translate(1936.2 101.85) scale(1.053 1)" font-size="13.89" text-anchor="start">0.75</text>
<text transform="translate(1936.2 146.7) scale(1.053 1)" font-size="13.89" text-anchor="start">0.50</text>
<text transform="translate(1936.2 191.55) scale(1.053 1)" font-size="13.89" text-anchor="start">0.25</text>
<text transform="translate(1936.2 236.4) scale(1.053 1)" font-size="13.89" text-anchor="start">0.00</text>
<text transform="translate(1936.2 281.25) scale(1.053 1)" font-size="13.89" text-anchor="start">−0.25</text>
<text transform="translate(1936.2 326.1) scale(1.053 1)" font-size="13.89" text-anchor="start">−0.50</text>
<text transform="translate(1936.2 370.95) scale(1.053 1)" font-size="13.89" text-anchor="start">−0.75</text>
<text transform="translate(1936.2 415.8) scale(1.053 1)" font-size="13.89" text-anchor="start">−1.00</text>
<clipPath id="c2"><path d="M239.6 511.5L637.1 511.5A198.7 198.7 0 0 1 637.1 908.9L239.6 908.9A198.7 198.7 0 0 1 239.6 511.5Z"/></clipPath>
<g clip-path="url(#c2)">
<path fill="#327cb7" stroke="#327cb7" stroke-width="0.7" d="M236.3 509.5L250.7 509.5L210 516.2L192.6 516.2ZM250.7 509.5L261.7 509.5L223.5 516.2L210 516.2ZM261.7 509.5L272.7 509.5L236.9 516.2L223.5 516.2ZM272.7 509.5L283.8 509.5L250.3 516.2L236.9 516.2ZM283.8 509.5L294.8 509.5L263.8 516.2L250.3 516.2ZM294.8 509.5L305.9 509.5L277.2 516.2L263.8 516.2ZM305.9 509.5L316.9 509.5L290.6 516.2L277.2 516.2ZM586.1 516.2L599.5 516.2L624.2 528.3L608.7 528.3ZM626.4 516.2L639.8 516.2L670.7 528.3L655.2 528.3ZM593.2 528.3L608.7 528.3L628.1 545.9L610.8 545.9ZM300.4 874.5L317.6 874.5L329.9 892.1L314.4 892.1ZM252.5 892.1L268 892.1L290.6 904.2L277.2 904.2ZM268 892.1L283.5 892.1L304.1 904.2L290.6 904.2ZM283.5 892.1L299 892.1L317.5 904.2L304.1 904.2ZM299 892.1L314.4 892.1L330.9 904.2L317.5 904.2ZM670.7 892.1L686.2 892.1L653.2 904.2L639.8 904.2ZM686.2 892.1L701.6 892.1L666.7 904.2L653.2 904.2Z"/>
<path fill="#4393c3" stroke="#4393c3" stroke-width="0.7" d="M316.9 509.5L327.9 509.5L304.1 516.2L290.6 516.2ZM327.9 509.5L339 509.5L317.5 516.2L304.1 516.2ZM339 509.5L350 509.5L330.9 516.2L317.5 516.2ZM350 509.5L361.1 509.5L344.3 516.2L330.9 516.2ZM361.1 509.5L372.1 509.5L357.8 516.2L344.3 516.2ZM372.1 509.5L383.1 509.5L371.2 516.2L357.8 516.2ZM192.6 516.2L210 516.2L175.1 528.3L154.9 528.3ZM210 516.2L223.5 516.2L190.5 528.3L175.1 528.3ZM290.6 516.2L304.1 516.2L283.5 528.3L268 528.3ZM304.1 516.2L317.5 516.2L299 528.3L283.5 528.3ZM317.5 516.2L330.9 516.2L314.4 528.3L299 528.3ZM330.9 516.2L344.3 516.2L329.9 528.3L314.4 528.3ZM577.7 528.3L593.2 528.3L610.8 545.9L593.6 545.9ZM655.2 528.3L670.7 528.3L697.1 545.9L679.8 545.9ZM628.1 545.9L645.3 545.9L663.1 567.6L644.4 567.6ZM95.6 852.8L120 852.8L145.1 874.5L122.7 874.5ZM120 852.8L138.7 852.8L162.4 874.5L145.1 874.5ZM138.7 852.8L157.4 852.8L179.6 874.5L162.4 874.5ZM122.7 874.5L145.1 874.5L175.1 892.1L154.9 892.1ZM145.1 874.5L162.4 874.5L190.5 892.1L175.1 892.1ZM248.6 874.5L265.9 874.5L283.5 892.1L268 892.1ZM352.1 874.5L369.4 874.5L376.4 892.1L360.9 892.1ZM369.4 874.5L386.6 874.5L391.9 892.1L376.4 892.1ZM386.6 874.5L403.9 874.5L407.4 892.1L391.9 892.1ZM576.3 874.5L593.6 874.5L577.7 892.1L562.3 892.1ZM731.6 874.5L754 874.5L721.8 892.1L701.6 892.1Z"/>
<path fill="#6bacd1" stroke="#6bacd1" stroke-width="0.7" d="M383.1 509.5L394.2 509.5L384.6 516.2L371.2 516.2ZM394.2 509.5L405.2 509.5L398.1 516.2L384.6 516.2ZM405.2 509.5L416.3 509.5L411.5 516.2L398.1 516.2ZM344.3 516.2L357.8 516.2L345.4 528.3L329.9 528.3ZM666.7 516.2L684.1 516.2L721.8 528.3L701.6 528.3ZM647.1 619.9L668 619.9L675.3 649L653.8 649ZM176.1 852.8L194.9 852.8L214.1 874.5L196.9 874.5ZM251.1 852.8L269.8 852.8L283.1 874.5L265.9 874.5ZM326 852.8L344.7 852.8L352.1 874.5L334.9 874.5ZM610.8 874.5L628.1 874.5L608.7 892.1L593.2 892.1Z"/>
<path fill="#7eb8d7" stroke="#7eb8d7" stroke-width="0.7" d="M416.3 509.5L427.3 509.5L424.9 516.2L411.5 516.2ZM427.3 509.5L438.4 509.5L438.4 516.2L424.9 516.2ZM493.6 509.5L504.6 509.5L518.9 516.2L505.5 516.2ZM504.6 509.5L515.6 509.5L532.4 516.2L518.9 516.2ZM515.6 509.5L526.7 509.5L545.8 516.2L532.4 516.2ZM526.7 509.5L537.7 509.5L559.2 516.2L545.8 516.2ZM545.8 516.2L559.2 516.2L577.7 528.3L562.3 528.3ZM562.3 528.3L577.7 528.3L593.6 545.9L576.3 545.9ZM670.7 528.3L686.2 528.3L714.3 545.9L697.1 545.9ZM593.6 545.9L610.8 545.9L625.6 567.6L606.9 567.6ZM777.3 592.5L803.2 592.5L820.4 619.9L793.2 619.9ZM194.9 852.8L213.6 852.8L231.4 874.5L214.1 874.5ZM232.3 852.8L251.1 852.8L265.9 874.5L248.6 874.5ZM344.7 852.8L363.4 852.8L369.4 874.5L352.1 874.5ZM738 852.8L756.7 852.8L731.6 874.5L714.3 874.5ZM472.8 874.5L490.1 874.5L484.8 892.1L469.3 892.1ZM524.6 874.5L541.8 874.5L531.3 892.1L515.8 892.1ZM697.1 874.5L714.3 874.5L686.2 892.1L670.7 892.1Z"/>
<path fill="#a2cde3" stroke="#a2cde3" stroke-width="0.7" d="M438.4 509.5L449.4 509.5L451.8 516.2L438.4 516.2ZM449.4 509.5L460.4 509.5L465.2 516.2L451.8 516.2ZM460.4 509.5L471.5 509.5L478.6 516.2L465.2 516.2ZM471.5 509.5L482.5 509.5L492.1 516.2L478.6 516.2ZM482.5 509.5L493.6 509.5L505.5 516.2L492.1 516.2ZM371.2 516.2L384.6 516.2L376.4 528.3L360.9 528.3ZM384.6 516.2L398.1 516.2L391.9 528.3L376.4 528.3ZM532.4 516.2L545.8 516.2L562.3 528.3L546.8 528.3ZM221.5 528.3L237 528.3L214.1 545.9L196.9 545.9ZM237 528.3L252.5 528.3L231.4 545.9L214.1 545.9ZM252.5 528.3L268 528.3L248.6 545.9L231.4 545.9ZM268 528.3L283.5 528.3L265.9 545.9L248.6 545.9ZM314.4 528.3L329.9 528.3L317.6 545.9L300.4 545.9ZM686.2 528.3L701.6 528.3L731.6 545.9L714.3 545.9ZM679.8 545.9L697.1 545.9L719.3 567.6L700.6 567.6ZM157.4 567.6L176.1 567.6L159.2 592.5L139.3 592.5ZM73.5 592.5L99.4 592.5L83.5 619.9L56.3 619.9ZM677.6 592.5L697.5 592.5L709.7 619.9L688.8 619.9ZM737.4 592.5L757.3 592.5L772.3 619.9L751.5 619.9ZM521.8 619.9L542.7 619.9L546.1 649L524.5 649ZM668 619.9L688.8 619.9L696.9 649L675.3 649ZM645.3 874.5L662.6 874.5L639.7 892.1L624.2 892.1ZM679.8 874.5L697.1 874.5L670.7 892.1L655.2 892.1Z"/>
<path fill="#3a87bd" stroke="#3a87bd" stroke-width="0.7" d="M537.7 509.5L548.8 509.5L572.6 516.2L559.2 516.2ZM548.8 509.5L559.8 509.5L586.1 516.2L572.6 516.2ZM559.8 509.5L570.8 509.5L599.5 516.2L586.1 516.2ZM570.8 509.5L581.9 509.5L612.9 516.2L599.5 516.2ZM572.6 516.2L586.1 516.2L608.7 528.3L593.2 528.3ZM639.8 516.2L653.2 516.2L686.2 528.3L670.7 528.3ZM645.3 545.9L662.6 545.9L681.8 567.6L663.1 567.6ZM265.9 874.5L283.1 874.5L299 892.1L283.5 892.1ZM283.1 874.5L300.4 874.5L314.4 892.1L299 892.1ZM317.6 874.5L334.9 874.5L345.4 892.1L329.9 892.1ZM334.9 874.5L352.1 874.5L360.9 892.1L345.4 892.1ZM559.1 874.5L576.3 874.5L562.3 892.1L546.8 892.1ZM154.9 892.1L175.1 892.1L210 904.2L192.6 904.2ZM175.1 892.1L190.5 892.1L223.5 904.2L210 904.2ZM190.5 892.1L206 892.1L236.9 904.2L223.5 904.2ZM206 892.1L221.5 892.1L250.3 904.2L236.9 904.2ZM221.5 892.1L237 892.1L263.8 904.2L250.3 904.2ZM237 892.1L252.5 892.1L277.2 904.2L263.8 904.2ZM701.6 892.1L721.8 892.1L684.1 904.2L666.7 904.2Z"/>
<path fill="#2a71b2" stroke="#2a71b2" stroke-width="0.7" d="M581.9 509.5L592.9 509.5L626.4 516.2L612.9 516.2ZM592.9 509.5L604 509.5L639.8 516.2L626.4 516.2ZM604 509.5L615 509.5L653.2 516.2L639.8 516.2ZM615 509.5L626 509.5L666.7 516.2L653.2 516.2ZM626 509.5L640.4 509.5L684.1 516.2L666.7 516.2ZM599.5 516.2L612.9 516.2L639.7 528.3L624.2 528.3ZM612.9 516.2L626.4 516.2L655.2 528.3L639.7 528.3ZM608.7 528.3L624.2 528.3L645.3 545.9L628.1 545.9ZM639.7 528.3L655.2 528.3L679.8 545.9L662.6 545.9ZM655.2 892.1L670.7 892.1L639.8 904.2L626.4 904.2Z"/>
<path fill="#569fc9" stroke="#569fc9" stroke-width="0.7" d="M223.5 516.2L236.9 516.2L206 528.3L190.5 528.3ZM236.9 516.2L250.3 516.2L221.5 528.3L206 528.3ZM250.3 516.2L263.8 516.2L237 528.3L221.5 528.3ZM263.8 516.2L277.2 516.2L252.5 528.3L237 528.3ZM277.2 516.2L290.6 516.2L268 528.3L252.5 528.3ZM559.2 516.2L572.6 516.2L593.2 528.3L577.7 528.3ZM653.2 516.2L666.7 516.2L701.6 528.3L686.2 528.3ZM610.8 545.9L628.1 545.9L644.4 567.6L625.6 567.6ZM662.6 545.9L679.8 545.9L700.6 567.6L681.8 567.6ZM157.4 852.8L176.1 852.8L196.9 874.5L179.6 874.5ZM269.8 852.8L288.5 852.8L300.4 874.5L283.1 874.5ZM288.5 852.8L307.2 852.8L317.6 874.5L300.4 874.5ZM307.2 852.8L326 852.8L334.9 874.5L317.6 874.5ZM756.7 852.8L781.1 852.8L754 874.5L731.6 874.5ZM162.4 874.5L179.6 874.5L206 892.1L190.5 892.1ZM179.6 874.5L196.9 874.5L221.5 892.1L206 892.1ZM196.9 874.5L214.1 874.5L237 892.1L221.5 892.1ZM214.1 874.5L231.4 874.5L252.5 892.1L237 892.1ZM231.4 874.5L248.6 874.5L268 892.1L252.5 892.1ZM403.9 874.5L421.1 874.5L422.9 892.1L407.4 892.1ZM421.1 874.5L438.4 874.5L438.4 892.1L422.9 892.1ZM438.4 874.5L455.6 874.5L453.8 892.1L438.4 892.1ZM455.6 874.5L472.8 874.5L469.3 892.1L453.8 892.1ZM541.8 874.5L559.1 874.5L546.8 892.1L531.3 892.1ZM593.6 874.5L610.8 874.5L593.2 892.1L577.7 892.1ZM714.3 874.5L731.6 874.5L701.6 892.1L686.2 892.1Z"/>
<path fill="#90c4dd" stroke="#90c4dd" stroke-width="0.7" d="M357.8 516.2L371.2 516.2L360.9 528.3L345.4 528.3ZM283.5 528.3L299 528.3L283.1 545.9L265.9 545.9ZM299 528.3L314.4 528.3L300.4 545.9L283.1 545.9ZM637.7 592.5L657.7 592.5L668 619.9L647.1 619.9ZM657.7 592.5L677.6 592.5L688.8 619.9L668 619.9ZM757.3 592.5L777.3 592.5L793.2 619.9L772.3 619.9ZM626.2 619.9L647.1 619.9L653.8 649L632.3 649ZM213.6 852.8L232.3 852.8L248.6 874.5L231.4 874.5ZM363.4 852.8L382.2 852.8L386.6 874.5L369.4 874.5ZM588.2 852.8L606.9 852.8L593.6 874.5L576.3 874.5ZM606.9 852.8L625.6 852.8L610.8 874.5L593.6 874.5ZM490.1 874.5L507.3 874.5L500.3 892.1L484.8 892.1ZM507.3 874.5L524.6 874.5L515.8 892.1L500.3 892.1ZM628.1 874.5L645.3 874.5L624.2 892.1L608.7 892.1Z"/>
<path fill="#b1d5e7" stroke="#b1d5e7" stroke-width="0.7" d="M398.1 516.2L411.5 516.2L407.4 528.3L391.9 528.3ZM518.9 516.2L532.4 516.2L546.8 528.3L531.3 528.3ZM154.9 528.3L175.1 528.3L145.1 545.9L122.7 545.9ZM175.1 528.3L190.5 528.3L162.4 545.9L145.1 545.9ZM190.5 528.3L206 528.3L179.6 545.9L162.4 545.9ZM206 528.3L221.5 528.3L196.9 545.9L179.6 545.9ZM701.6 528.3L721.8 528.3L754 545.9L731.6 545.9ZM576.3 545.9L593.6 545.9L606.9 567.6L588.2 567.6ZM138.7 567.6L157.4 567.6L139.3 592.5L119.4 592.5ZM176.1 567.6L194.9 567.6L179.2 592.5L159.2 592.5ZM513.3 567.6L532 567.6L538 592.5L518.1 592.5ZM625.6 567.6L644.4 567.6L657.7 592.5L637.7 592.5ZM644.4 567.6L663.1 567.6L677.6 592.5L657.7 592.5ZM663.1 567.6L681.8 567.6L697.5 592.5L677.6 592.5ZM681.8 567.6L700.6 567.6L717.5 592.5L697.5 592.5ZM99.4 592.5L119.4 592.5L104.4 619.9L83.5 619.9ZM179.2 592.5L199.1 592.5L187.9 619.9L167 619.9ZM199.1 592.5L219 592.5L208.7 619.9L187.9 619.9ZM219 592.5L239 592.5L229.6 619.9L208.7 619.9ZM498.2 592.5L518.1 592.5L521.8 619.9L501 619.9ZM518.1 592.5L538 592.5L542.7 619.9L521.8 619.9ZM617.8 592.5L637.7 592.5L647.1 619.9L626.2 619.9ZM697.5 592.5L717.5 592.5L730.6 619.9L709.7 619.9ZM717.5 592.5L737.4 592.5L751.5 619.9L730.6 619.9ZM208.7 619.9L229.6 619.9L222.9 649L201.4 649ZM542.7 619.9L563.6 619.9L567.6 649L546.1 649ZM605.3 619.9L626.2 619.9L632.3 649L610.7 649ZM73.5 827.9L99.4 827.9L120 852.8L95.6 852.8ZM99.4 827.9L119.4 827.9L138.7 852.8L120 852.8ZM777.3 827.9L803.2 827.9L781.1 852.8L756.7 852.8ZM382.2 852.8L400.9 852.8L403.9 874.5L386.6 874.5ZM569.5 852.8L588.2 852.8L576.3 874.5L559.1 874.5ZM625.6 852.8L644.4 852.8L628.1 874.5L610.8 874.5ZM662.6 874.5L679.8 874.5L655.2 892.1L639.7 892.1Z"/>
<path fill="#d1e5f0" stroke="#d1e5f0" stroke-width="0.7" d="M411.5 516.2L424.9 516.2L422.9 528.3L407.4 528.3ZM492.1 516.2L505.5 516.2L515.8 528.3L500.3 528.3ZM196.9 545.9L214.1 545.9L194.9 567.6L176.1 567.6ZM697.1 545.9L714.3 545.9L738 567.6L719.3 567.6ZM95.6 567.6L120 567.6L99.4 592.5L73.5 592.5ZM194.9 567.6L213.6 567.6L199.1 592.5L179.2 592.5ZM119.4 592.5L139.3 592.5L125.2 619.9L104.4 619.9ZM298.8 592.5L318.7 592.5L313.1 619.9L292.2 619.9ZM478.2 592.5L498.2 592.5L501 619.9L480.1 619.9ZM597.8 592.5L617.8 592.5L626.2 619.9L605.3 619.9ZM187.9 619.9L208.7 619.9L201.4 649L179.8 649ZM229.6 619.9L250.5 619.9L244.4 649L222.9 649ZM501 619.9L521.8 619.9L524.5 649L503 649ZM709.7 619.9L730.6 619.9L740 649L718.4 649ZM730.6 619.9L751.5 619.9L761.5 649L740 649ZM751.5 619.9L772.3 619.9L783.1 649L761.5 649ZM139.3 827.9L159.2 827.9L176.1 852.8L157.4 852.8ZM757.3 827.9L777.3 827.9L756.7 852.8L738 852.8ZM419.6 852.8L438.4 852.8L438.4 874.5L421.1 874.5ZM550.7 852.8L569.5 852.8L559.1 874.5L541.8 874.5Z"/>
<path fill="#dae9f2" stroke="#dae9f2" stroke-width="0.7" d="M424.9 516.2L438.4 516.2L438.4 528.3L422.9 528.3ZM451.8 516.2L465.2 516.2L469.3 528.3L453.8 528.3ZM465.2 516.2L478.6 516.2L484.8 528.3L469.3 528.3ZM478.6 516.2L492.1 516.2L500.3 528.3L484.8 528.3ZM345.4 528.3L360.9 528.3L352.1 545.9L334.9 545.9ZM145.1 545.9L162.4 545.9L138.7 567.6L120 567.6ZM214.1 545.9L231.4 545.9L213.6 567.6L194.9 567.6ZM559.1 545.9L576.3 545.9L588.2 567.6L569.5 567.6ZM213.6 567.6L232.3 567.6L219 592.5L199.1 592.5ZM232.3 567.6L251.1 567.6L239 592.5L219 592.5ZM269.8 567.6L288.5 567.6L278.9 592.5L258.9 592.5ZM475.8 567.6L494.5 567.6L498.2 592.5L478.2 592.5ZM550.7 567.6L569.5 567.6L577.9 592.5L558 592.5ZM588.2 567.6L606.9 567.6L617.8 592.5L597.8 592.5ZM719.3 567.6L738 567.6L757.3 592.5L737.4 592.5ZM139.3 592.5L159.2 592.5L146.1 619.9L125.2 619.9ZM318.7 592.5L338.7 592.5L334 619.9L313.1 619.9ZM338.7 592.5L358.6 592.5L354.9 619.9L334 619.9ZM358.6 592.5L378.5 592.5L375.7 619.9L354.9 619.9ZM378.5 592.5L398.5 592.5L396.6 619.9L375.7 619.9ZM458.3 592.5L478.2 592.5L480.1 619.9L459.2 619.9ZM558 592.5L577.9 592.5L584.5 619.9L563.6 619.9ZM146.1 619.9L167 619.9L158.3 649L136.7 649ZM772.3 619.9L793.2 619.9L804.6 649L783.1 649ZM793.2 619.9L820.4 619.9L832.6 649L804.6 649ZM201.4 649L222.9 649L218.9 679.3L196.9 679.3ZM159.2 827.9L179.2 827.9L194.9 852.8L176.1 852.8ZM179.2 827.9L199.1 827.9L213.6 852.8L194.9 852.8ZM358.6 827.9L378.5 827.9L382.2 852.8L363.4 852.8ZM438.4 852.8L457.1 852.8L455.6 874.5L438.4 874.5ZM644.4 852.8L663.1 852.8L645.3 874.5L628.1 874.5Z"/>
<path fill="#e4eef4" stroke="#e4eef4" stroke-width="0.7" d="M438.4 516.2L451.8 516.2L453.8 528.3L438.4 528.3ZM360.9 528.3L376.4 528.3L369.4 545.9L352.1 545.9ZM531.3 528.3L546.8 528.3L559.1 545.9L541.8 545.9ZM231.4 545.9L248.6 545.9L232.3 567.6L213.6 567.6ZM248.6 545.9L265.9 545.9L251.1 567.6L232.3 567.6ZM265.9 545.9L283.1 545.9L269.8 567.6L251.1 567.6ZM541.8 545.9L559.1 545.9L569.5 567.6L550.7 567.6ZM714.3 545.9L731.6 545.9L756.7 567.6L738 567.6ZM731.6 545.9L754 545.9L781.1 567.6L756.7 567.6ZM251.1 567.6L269.8 567.6L258.9 592.5L239 592.5ZM288.5 567.6L307.2 567.6L298.8 592.5L278.9 592.5ZM569.5 567.6L588.2 567.6L597.8 592.5L577.9 592.5ZM738 567.6L756.7 567.6L777.3 592.5L757.3 592.5ZM398.5 592.5L418.4 592.5L417.5 619.9L396.6 619.9ZM438.4 592.5L458.3 592.5L459.2 619.9L438.4 619.9ZM577.9 592.5L597.8 592.5L605.3 619.9L584.5 619.9ZM250.5 619.9L271.4 619.9L266 649L244.4 649ZM396.6 619.9L417.5 619.9L416.8 649L395.3 649ZM653.8 649L675.3 649L679.8 679.3L657.8 679.3ZM675.3 649L696.9 649L701.7 679.3L679.8 679.3ZM793.2 800.5L820.4 800.5L803.2 827.9L777.3 827.9ZM199.1 827.9L219 827.9L232.3 852.8L213.6 852.8ZM219 827.9L239 827.9L251.1 852.8L232.3 852.8ZM239 827.9L258.9 827.9L269.8 852.8L251.1 852.8ZM258.9 827.9L278.9 827.9L288.5 852.8L269.8 852.8ZM278.9 827.9L298.8 827.9L307.2 852.8L288.5 852.8ZM338.7 827.9L358.6 827.9L363.4 852.8L344.7 852.8ZM457.1 852.8L475.8 852.8L472.8 874.5L455.6 874.5ZM475.8 852.8L494.5 852.8L490.1 874.5L472.8 874.5ZM532 852.8L550.7 852.8L541.8 874.5L524.6 874.5Z"/>
<path fill="#c2ddec" stroke="#c2ddec" stroke-width="0.7" d="M505.5 516.2L518.9 516.2L531.3 528.3L515.8 528.3ZM329.9 528.3L345.4 528.3L334.9 545.9L317.6 545.9ZM546.8 528.3L562.3 528.3L576.3 545.9L559.1 545.9ZM162.4 545.9L179.6 545.9L157.4 567.6L138.7 567.6ZM179.6 545.9L196.9 545.9L176.1 567.6L157.4 567.6ZM120 567.6L138.7 567.6L119.4 592.5L99.4 592.5ZM494.5 567.6L513.3 567.6L518.1 592.5L498.2 592.5ZM532 567.6L550.7 567.6L558 592.5L538 592.5ZM606.9 567.6L625.6 567.6L637.7 592.5L617.8 592.5ZM700.6 567.6L719.3 567.6L737.4 592.5L717.5 592.5ZM159.2 592.5L179.2 592.5L167 619.9L146.1 619.9ZM239 592.5L258.9 592.5L250.5 619.9L229.6 619.9ZM258.9 592.5L278.9 592.5L271.4 619.9L250.5 619.9ZM278.9 592.5L298.8 592.5L292.2 619.9L271.4 619.9ZM538 592.5L558 592.5L563.6 619.9L542.7 619.9ZM167 619.9L187.9 619.9L179.8 649L158.3 649ZM563.6 619.9L584.5 619.9L589.2 649L567.6 649ZM584.5 619.9L605.3 619.9L610.7 649L589.2 649ZM688.8 619.9L709.7 619.9L718.4 649L696.9 649ZM119.4 827.9L139.3 827.9L157.4 852.8L138.7 852.8ZM400.9 852.8L419.6 852.8L421.1 874.5L403.9 874.5ZM719.3 852.8L738 852.8L714.3 874.5L697.1 874.5Z"/>
<path fill="#f9f0eb" stroke="#f9f0eb" stroke-width="0.7" d="M376.4 528.3L391.9 528.3L386.6 545.9L369.4 545.9ZM507.3 545.9L524.6 545.9L532 567.6L513.3 567.6ZM363.4 567.6L382.2 567.6L378.5 592.5L358.6 592.5ZM438.4 567.6L457.1 567.6L458.3 592.5L438.4 592.5ZM292.2 619.9L313.1 619.9L309.1 649L287.5 649ZM313.1 619.9L334 619.9L330.6 649L309.1 649ZM334 619.9L354.9 619.9L352.2 649L330.6 649ZM354.9 619.9L375.7 619.9L373.7 649L352.2 649ZM373.7 649L395.3 649L394.5 679.3L372.5 679.3ZM610.7 649L632.3 649L635.9 679.3L613.9 679.3ZM398.5 827.9L418.4 827.9L419.6 852.8L400.9 852.8ZM637.7 827.9L657.7 827.9L644.4 852.8L625.6 852.8ZM494.5 852.8L513.3 852.8L507.3 874.5L490.1 874.5Z"/>
<path fill="#fddbc7" stroke="#fddbc7" stroke-width="0.7" d="M391.9 528.3L407.4 528.3L403.9 545.9L386.6 545.9ZM352.1 545.9L369.4 545.9L363.4 567.6L344.7 567.6ZM369.4 545.9L386.6 545.9L382.2 567.6L363.4 567.6ZM421.1 545.9L438.4 545.9L438.4 567.6L419.6 567.6ZM93.6 649L115.2 649L109.2 679.3L87.2 679.3ZM115.2 649L136.7 649L131.1 679.3L109.2 679.3ZM287.5 649L309.1 649L306.7 679.3L284.7 679.3ZM330.6 649L352.2 649L350.6 679.3L328.6 679.3ZM459.9 649L481.4 649L482.2 679.3L460.3 679.3ZM761.5 649L783.1 649L789.5 679.3L767.5 679.3ZM783.1 649L804.6 649L811.4 679.3L789.5 679.3ZM804.6 649L832.6 649L840 679.3L811.4 679.3ZM175 679.3L196.9 679.3L195.5 710.2L173.4 710.2ZM767.5 679.3L789.5 679.3L791.6 710.2L769.6 710.2ZM284.7 741.1L306.7 741.1L309.1 771.4L287.5 771.4ZM350.6 741.1L372.5 741.1L373.7 771.4L352.2 771.4ZM438.4 771.4L459.9 771.4L459.2 800.5L438.4 800.5ZM271.4 800.5L292.2 800.5L298.8 827.9L278.9 827.9ZM292.2 800.5L313.1 800.5L318.7 827.9L298.8 827.9ZM438.4 800.5L459.2 800.5L458.3 827.9L438.4 827.9ZM459.2 800.5L480.1 800.5L478.2 827.9L458.3 827.9ZM626.2 800.5L647.1 800.5L637.7 827.9L617.8 827.9ZM647.1 800.5L668 800.5L657.7 827.9L637.7 827.9ZM657.7 827.9L677.6 827.9L663.1 852.8L644.4 852.8ZM717.5 827.9L737.4 827.9L719.3 852.8L700.6 852.8Z"/>
<path fill="#fbccb4" stroke="#fbccb4" stroke-width="0.7" d="M407.4 528.3L422.9 528.3L421.1 545.9L403.9 545.9ZM422.9 528.3L438.4 528.3L438.4 545.9L421.1 545.9ZM469.3 528.3L484.8 528.3L490.1 545.9L472.8 545.9ZM403.9 545.9L421.1 545.9L419.6 567.6L400.9 567.6ZM455.6 545.9L472.8 545.9L475.8 567.6L457.1 567.6ZM196.9 679.3L218.9 679.3L217.5 710.2L195.5 710.2ZM218.9 679.3L240.8 679.3L239.6 710.2L217.5 710.2ZM789.5 679.3L811.4 679.3L813.7 710.2L791.6 710.2ZM262.8 741.1L284.7 741.1L287.5 771.4L266 771.4ZM287.5 771.4L309.1 771.4L313.1 800.5L292.2 800.5ZM481.4 771.4L503 771.4L501 800.5L480.1 800.5ZM83.5 800.5L104.4 800.5L119.4 827.9L99.4 827.9ZM250.5 800.5L271.4 800.5L278.9 827.9L258.9 827.9ZM313.1 800.5L334 800.5L338.7 827.9L318.7 827.9ZM605.3 800.5L626.2 800.5L617.8 827.9L597.8 827.9ZM668 800.5L688.8 800.5L677.6 827.9L657.7 827.9ZM478.2 827.9L498.2 827.9L494.5 852.8L475.8 852.8ZM558 827.9L577.9 827.9L569.5 852.8L550.7 852.8ZM577.9 827.9L597.8 827.9L588.2 852.8L569.5 852.8Z"/>
<path fill="#f8bfa4" stroke="#f8bfa4" stroke-width="0.7" d="M438.4 528.3L453.8 528.3L455.6 545.9L438.4 545.9ZM453.8 528.3L469.3 528.3L472.8 545.9L455.6 545.9ZM438.4 545.9L455.6 545.9L457.1 567.6L438.4 567.6ZM72.1 649L93.6 649L87.2 679.3L65.3 679.3ZM36.7 679.3L65.3 679.3L63 710.2L34.3 710.2ZM570 679.3L592 679.3L592.9 710.2L570.8 710.2ZM592 679.3L613.9 679.3L615 710.2L592.9 710.2ZM811.4 679.3L840 679.3L842.4 710.2L813.7 710.2ZM306.7 741.1L328.6 741.1L330.6 771.4L309.1 771.4ZM328.6 741.1L350.6 741.1L352.2 771.4L330.6 771.4ZM504.2 741.1L526.1 741.1L524.5 771.4L503 771.4ZM592 741.1L613.9 741.1L610.7 771.4L589.2 771.4ZM613.9 741.1L635.9 741.1L632.3 771.4L610.7 771.4ZM266 771.4L287.5 771.4L292.2 800.5L271.4 800.5ZM309.1 771.4L330.6 771.4L334 800.5L313.1 800.5ZM330.6 771.4L352.2 771.4L354.9 800.5L334 800.5ZM459.9 771.4L481.4 771.4L480.1 800.5L459.2 800.5ZM104.4 800.5L125.2 800.5L139.3 827.9L119.4 827.9ZM125.2 800.5L146.1 800.5L159.2 827.9L139.3 827.9ZM146.1 800.5L167 800.5L179.2 827.9L159.2 827.9ZM167 800.5L187.9 800.5L199.1 827.9L179.2 827.9ZM229.6 800.5L250.5 800.5L258.9 827.9L239 827.9ZM334 800.5L354.9 800.5L358.6 827.9L338.7 827.9ZM688.8 800.5L709.7 800.5L697.5 827.9L677.6 827.9ZM730.6 800.5L751.5 800.5L737.4 827.9L717.5 827.9ZM677.6 827.9L697.5 827.9L681.8 852.8L663.1 852.8ZM697.5 827.9L717.5 827.9L700.6 852.8L681.8 852.8Z"/>
<path fill="#fce2d2" stroke="#fce2d2" stroke-width="0.7" d="M484.8 528.3L500.3 528.3L507.3 545.9L490.1 545.9ZM334.9 545.9L352.1 545.9L344.7 567.6L326 567.6ZM472.8 545.9L490.1 545.9L494.5 567.6L475.8 567.6ZM382.2 567.6L400.9 567.6L398.5 592.5L378.5 592.5ZM83.5 619.9L104.4 619.9L93.6 649L72.1 649ZM104.4 619.9L125.2 619.9L115.2 649L93.6 649ZM44.1 649L72.1 649L65.3 679.3L36.7 679.3ZM136.7 649L158.3 649L153 679.3L131.1 679.3ZM266 649L287.5 649L284.7 679.3L262.8 679.3ZM352.2 649L373.7 649L372.5 679.3L350.6 679.3ZM416.8 649L438.4 649L438.4 679.3L416.4 679.3ZM481.4 649L503 649L504.2 679.3L482.2 679.3ZM740 649L761.5 649L767.5 679.3L745.6 679.3ZM394.5 741.1L416.4 741.1L416.8 771.4L395.3 771.4ZM503 771.4L524.5 771.4L521.8 800.5L501 800.5ZM56.3 800.5L83.5 800.5L99.4 827.9L73.5 827.9ZM751.5 800.5L772.3 800.5L757.3 827.9L737.4 827.9ZM418.4 827.9L438.4 827.9L438.4 852.8L419.6 852.8ZM438.4 827.9L458.3 827.9L457.1 852.8L438.4 852.8ZM458.3 827.9L478.2 827.9L475.8 852.8L457.1 852.8Z"/>
<path fill="#fae9df" stroke="#fae9df" stroke-width="0.7" d="M500.3 528.3L515.8 528.3L524.6 545.9L507.3 545.9ZM317.6 545.9L334.9 545.9L326 567.6L307.2 567.6ZM490.1 545.9L507.3 545.9L513.3 567.6L494.5 567.6ZM400.9 567.6L419.6 567.6L418.4 592.5L398.5 592.5ZM419.6 567.6L438.4 567.6L438.4 592.5L418.4 592.5ZM125.2 619.9L146.1 619.9L136.7 649L115.2 649ZM417.5 619.9L438.4 619.9L438.4 649L416.8 649ZM244.4 649L266 649L262.8 679.3L240.8 679.3ZM395.3 649L416.8 649L416.4 679.3L394.5 679.3ZM503 649L524.5 649L526.1 679.3L504.2 679.3ZM524.5 649L546.1 649L548.1 679.3L526.1 679.3ZM546.1 649L567.6 649L570 679.3L548.1 679.3ZM567.6 649L589.2 649L592 679.3L570 679.3ZM589.2 649L610.7 649L613.9 679.3L592 679.3ZM718.4 649L740 649L745.6 679.3L723.7 679.3ZM372.5 741.1L394.5 741.1L395.3 771.4L373.7 771.4ZM597.8 827.9L617.8 827.9L606.9 852.8L588.2 852.8Z"/>
<path fill="#f7f6f6" stroke="#f7f6f6" stroke-width="0.7" d="M515.8 528.3L531.3 528.3L541.8 545.9L524.6 545.9ZM300.4 545.9L317.6 545.9L307.2 567.6L288.5 567.6ZM524.6 545.9L541.8 545.9L550.7 567.6L532 567.6ZM344.7 567.6L363.4 567.6L358.6 592.5L338.7 592.5ZM457.1 567.6L475.8 567.6L478.2 592.5L458.3 592.5ZM271.4 619.9L292.2 619.9L287.5 649L266 649ZM375.7 619.9L396.6 619.9L395.3 649L373.7 649ZM459.2 619.9L480.1 619.9L481.4 649L459.9 649ZM158.3 649L179.8 649L175 679.3L153 679.3ZM632.3 649L653.8 649L657.8 679.3L635.9 679.3ZM378.5 827.9L398.5 827.9L400.9 852.8L382.2 852.8ZM617.8 827.9L637.7 827.9L625.6 852.8L606.9 852.8ZM737.4 827.9L757.3 827.9L738 852.8L719.3 852.8ZM681.8 852.8L700.6 852.8L679.8 874.5L662.6 874.5Z"/>
<path fill="#2065ab" stroke="#2065ab" stroke-width="0.7" d="M624.2 528.3L639.7 528.3L662.6 545.9L645.3 545.9ZM314.4 892.1L329.9 892.1L344.3 904.2L330.9 904.2ZM329.9 892.1L345.4 892.1L357.8 904.2L344.3 904.2Z"/>
<path fill="#edf2f5" stroke="#edf2f5" stroke-width="0.7" d="M122.7 545.9L145.1 545.9L120 567.6L95.6 567.6ZM283.1 545.9L300.4 545.9L288.5 567.6L269.8 567.6ZM307.2 567.6L326 567.6L318.7 592.5L298.8 592.5ZM326 567.6L344.7 567.6L338.7 592.5L318.7 592.5ZM756.7 567.6L781.1 567.6L803.2 592.5L777.3 592.5ZM418.4 592.5L438.4 592.5L438.4 619.9L417.5 619.9ZM56.3 619.9L83.5 619.9L72.1 649L44.1 649ZM438.4 619.9L459.2 619.9L459.9 649L438.4 649ZM480.1 619.9L501 619.9L503 649L481.4 649ZM179.8 649L201.4 649L196.9 679.3L175 679.3ZM222.9 649L244.4 649L240.8 679.3L218.9 679.3ZM696.9 649L718.4 649L723.7 679.3L701.7 679.3ZM772.3 800.5L793.2 800.5L777.3 827.9L757.3 827.9ZM298.8 827.9L318.7 827.9L326 852.8L307.2 852.8ZM318.7 827.9L338.7 827.9L344.7 852.8L326 852.8ZM513.3 852.8L532 852.8L524.6 874.5L507.3 874.5ZM663.1 852.8L681.8 852.8L662.6 874.5L645.3 874.5ZM700.6 852.8L719.3 852.8L697.1 874.5L679.8 874.5Z"/>
<path fill="#f6b394" stroke="#f6b394" stroke-width="0.7" d="M386.6 545.9L403.9 545.9L400.9 567.6L382.2 567.6ZM309.1 649L330.6 649L328.6 679.3L306.7 679.3ZM87.2 679.3L109.2 679.3L107.1 710.2L85.1 710.2ZM131.1 679.3L153 679.3L151.3 710.2L129.2 710.2ZM153 679.3L175 679.3L173.4 710.2L151.3 710.2ZM240.8 679.3L262.8 679.3L261.7 710.2L239.6 710.2ZM306.7 679.3L328.6 679.3L327.9 710.2L305.9 710.2ZM350.6 679.3L372.5 679.3L372.1 710.2L350 710.2ZM613.9 679.3L635.9 679.3L637.1 710.2L615 710.2ZM657.8 679.3L679.8 679.3L681.2 710.2L659.2 710.2ZM701.7 679.3L723.7 679.3L725.4 710.2L703.3 710.2ZM723.7 679.3L745.6 679.3L747.5 710.2L725.4 710.2ZM34.3 710.2L63 710.2L65.3 741.1L36.7 741.1ZM63 710.2L85.1 710.2L87.2 741.1L65.3 741.1ZM372.1 710.2L394.2 710.2L394.5 741.1L372.5 741.1ZM240.8 741.1L262.8 741.1L266 771.4L244.4 771.4ZM416.4 741.1L438.4 741.1L438.4 771.4L416.8 771.4ZM438.4 741.1L460.3 741.1L459.9 771.4L438.4 771.4ZM460.3 741.1L482.2 741.1L481.4 771.4L459.9 771.4ZM526.1 741.1L548.1 741.1L546.1 771.4L524.5 771.4ZM548.1 741.1L570 741.1L567.6 771.4L546.1 771.4ZM570 741.1L592 741.1L589.2 771.4L567.6 771.4ZM635.9 741.1L657.8 741.1L653.8 771.4L632.3 771.4ZM352.2 771.4L373.7 771.4L375.7 800.5L354.9 800.5ZM373.7 771.4L395.3 771.4L396.6 800.5L375.7 800.5ZM395.3 771.4L416.8 771.4L417.5 800.5L396.6 800.5ZM416.8 771.4L438.4 771.4L438.4 800.5L417.5 800.5ZM524.5 771.4L546.1 771.4L542.7 800.5L521.8 800.5ZM610.7 771.4L632.3 771.4L626.2 800.5L605.3 800.5ZM632.3 771.4L653.8 771.4L647.1 800.5L626.2 800.5ZM187.9 800.5L208.7 800.5L219 827.9L199.1 827.9ZM354.9 800.5L375.7 800.5L378.5 827.9L358.6 827.9ZM417.5 800.5L438.4 800.5L438.4 827.9L418.4 827.9ZM584.5 800.5L605.3 800.5L597.8 827.9L577.9 827.9ZM709.7 800.5L730.6 800.5L717.5 827.9L697.5 827.9ZM518.1 827.9L538 827.9L532 852.8L513.3 852.8ZM538 827.9L558 827.9L550.7 852.8L532 852.8Z"/>
<path fill="#f3a481" stroke="#f3a481" stroke-width="0.7" d="M438.4 649L459.9 649L460.3 679.3L438.4 679.3ZM65.3 679.3L87.2 679.3L85.1 710.2L63 710.2ZM109.2 679.3L131.1 679.3L129.2 710.2L107.1 710.2ZM262.8 679.3L284.7 679.3L283.8 710.2L261.7 710.2ZM328.6 679.3L350.6 679.3L350 710.2L327.9 710.2ZM394.5 679.3L416.4 679.3L416.3 710.2L394.2 710.2ZM438.4 679.3L460.3 679.3L460.4 710.2L438.4 710.2ZM482.2 679.3L504.2 679.3L504.6 710.2L482.5 710.2ZM504.2 679.3L526.1 679.3L526.7 710.2L504.6 710.2ZM526.1 679.3L548.1 679.3L548.8 710.2L526.7 710.2ZM548.1 679.3L570 679.3L570.8 710.2L548.8 710.2ZM679.8 679.3L701.7 679.3L703.3 710.2L681.2 710.2ZM745.6 679.3L767.5 679.3L769.6 710.2L747.5 710.2ZM107.1 710.2L129.2 710.2L131.1 741.1L109.2 741.1ZM173.4 710.2L195.5 710.2L196.9 741.1L175 741.1ZM195.5 710.2L217.5 710.2L218.9 741.1L196.9 741.1ZM217.5 710.2L239.6 710.2L240.8 741.1L218.9 741.1ZM261.7 710.2L283.8 710.2L284.7 741.1L262.8 741.1ZM283.8 710.2L305.9 710.2L306.7 741.1L284.7 741.1ZM305.9 710.2L327.9 710.2L328.6 741.1L306.7 741.1ZM460.4 710.2L482.5 710.2L482.2 741.1L460.3 741.1ZM482.5 710.2L504.6 710.2L504.2 741.1L482.2 741.1ZM526.7 710.2L548.8 710.2L548.1 741.1L526.1 741.1ZM548.8 710.2L570.8 710.2L570 741.1L548.1 741.1ZM570.8 710.2L592.9 710.2L592 741.1L570 741.1ZM592.9 710.2L615 710.2L613.9 741.1L592 741.1ZM813.7 710.2L842.4 710.2L840 741.1L811.4 741.1ZM482.2 741.1L504.2 741.1L503 771.4L481.4 771.4ZM657.8 741.1L679.8 741.1L675.3 771.4L653.8 771.4ZM679.8 741.1L701.7 741.1L696.9 771.4L675.3 771.4ZM244.4 771.4L266 771.4L271.4 800.5L250.5 800.5ZM589.2 771.4L610.7 771.4L605.3 800.5L584.5 800.5ZM653.8 771.4L675.3 771.4L668 800.5L647.1 800.5ZM208.7 800.5L229.6 800.5L239 827.9L219 827.9ZM375.7 800.5L396.6 800.5L398.5 827.9L378.5 827.9ZM480.1 800.5L501 800.5L498.2 827.9L478.2 827.9ZM501 800.5L521.8 800.5L518.1 827.9L498.2 827.9ZM563.6 800.5L584.5 800.5L577.9 827.9L558 827.9ZM498.2 827.9L518.1 827.9L513.3 852.8L494.5 852.8Z"/>
<path fill="#ec9374" stroke="#ec9374" stroke-width="0.7" d="M284.7 679.3L306.7 679.3L305.9 710.2L283.8 710.2ZM416.4 679.3L438.4 679.3L438.4 710.2L416.3 710.2ZM635.9 679.3L657.8 679.3L659.2 710.2L637.1 710.2ZM129.2 710.2L151.3 710.2L153 741.1L131.1 741.1ZM350 710.2L372.1 710.2L372.5 741.1L350.6 741.1ZM394.2 710.2L416.3 710.2L416.4 741.1L394.5 741.1ZM416.3 710.2L438.4 710.2L438.4 741.1L416.4 741.1ZM615 710.2L637.1 710.2L635.9 741.1L613.9 741.1ZM659.2 710.2L681.2 710.2L679.8 741.1L657.8 741.1ZM681.2 710.2L703.3 710.2L701.7 741.1L679.8 741.1ZM703.3 710.2L725.4 710.2L723.7 741.1L701.7 741.1ZM725.4 710.2L747.5 710.2L745.6 741.1L723.7 741.1ZM747.5 710.2L769.6 710.2L767.5 741.1L745.6 741.1ZM769.6 710.2L791.6 710.2L789.5 741.1L767.5 741.1ZM218.9 741.1L240.8 741.1L244.4 771.4L222.9 771.4ZM546.1 771.4L567.6 771.4L563.6 800.5L542.7 800.5ZM567.6 771.4L589.2 771.4L584.5 800.5L563.6 800.5ZM675.3 771.4L696.9 771.4L688.8 800.5L668 800.5ZM783.1 771.4L804.6 771.4L793.2 800.5L772.3 800.5ZM804.6 771.4L832.6 771.4L820.4 800.5L793.2 800.5ZM396.6 800.5L417.5 800.5L418.4 827.9L398.5 827.9Z"/>
<path fill="#e48066" stroke="#e48066" stroke-width="0.7" d="M372.5 679.3L394.5 679.3L394.2 710.2L372.1 710.2ZM460.3 679.3L482.2 679.3L482.5 710.2L460.4 710.2ZM151.3 710.2L173.4 710.2L175 741.1L153 741.1ZM239.6 710.2L261.7 710.2L262.8 741.1L240.8 741.1ZM327.9 710.2L350 710.2L350.6 741.1L328.6 741.1ZM438.4 710.2L460.4 710.2L460.3 741.1L438.4 741.1ZM637.1 710.2L659.2 710.2L657.8 741.1L635.9 741.1ZM175 741.1L196.9 741.1L201.4 771.4L179.8 771.4ZM761.5 771.4L783.1 771.4L772.3 800.5L751.5 800.5Z"/>
<path fill="#cc4c44" stroke="#cc4c44" stroke-width="0.7" d="M85.1 710.2L107.1 710.2L109.2 741.1L87.2 741.1ZM36.7 741.1L65.3 741.1L72.1 771.4L44.1 771.4ZM153 741.1L175 741.1L179.8 771.4L158.3 771.4ZM767.5 741.1L789.5 741.1L783.1 771.4L761.5 771.4ZM44.1 771.4L72.1 771.4L83.5 800.5L56.3 800.5ZM158.3 771.4L179.8 771.4L187.9 800.5L167 800.5Z"/>
<path fill="#dd7059" stroke="#dd7059" stroke-width="0.7" d="M504.6 710.2L526.7 710.2L526.1 741.1L504.2 741.1ZM196.9 741.1L218.9 741.1L222.9 771.4L201.4 771.4ZM701.7 741.1L723.7 741.1L718.4 771.4L696.9 771.4ZM723.7 741.1L745.6 741.1L740 771.4L718.4 771.4ZM179.8 771.4L201.4 771.4L208.7 800.5L187.9 800.5ZM222.9 771.4L244.4 771.4L250.5 800.5L229.6 800.5ZM696.9 771.4L718.4 771.4L709.7 800.5L688.8 800.5ZM521.8 800.5L542.7 800.5L538 827.9L518.1 827.9ZM542.7 800.5L563.6 800.5L558 827.9L538 827.9Z"/>
<path fill="#d6604d" stroke="#d6604d" stroke-width="0.7" d="M791.6 710.2L813.7 710.2L811.4 741.1L789.5 741.1ZM745.6 741.1L767.5 741.1L761.5 771.4L740 771.4ZM811.4 741.1L840 741.1L832.6 771.4L804.6 771.4ZM201.4 771.4L222.9 771.4L229.6 800.5L208.7 800.5ZM718.4 771.4L740 771.4L730.6 800.5L709.7 800.5ZM740 771.4L761.5 771.4L751.5 800.5L730.6 800.5Z"/>
<path fill="#b1182b" stroke="#b1182b" stroke-width="0.7" d="M65.3 741.1L87.2 741.1L93.6 771.4L72.1 771.4ZM109.2 741.1L131.1 741.1L136.7 771.4L115.2 771.4ZM131.1 741.1L153 741.1L158.3 771.4L136.7 771.4ZM93.6 771.4L115.2 771.4L125.2 800.5L104.4 800.5Z"/>
<path fill="#9f1228" stroke="#9f1228" stroke-width="0.7" d="M87.2 741.1L109.2 741.1L115.2 771.4L93.6 771.4Z"/>
<path fill="#c43b3c" stroke="#c43b3c" stroke-width="0.7" d="M789.5 741.1L811.4 741.1L804.6 771.4L783.1 771.4ZM115.2 771.4L136.7 771.4L146.1 800.5L125.2 800.5ZM136.7 771.4L158.3 771.4L167 800.5L146.1 800.5Z"/>
<path fill="#ba2832" stroke="#ba2832" stroke-width="0.7" d="M72.1 771.4L93.6 771.4L104.4 800.5L83.5 800.5Z"/>
<path fill="#1a5899" stroke="#1a5899" stroke-width="0.7" d="M345.4 892.1L360.9 892.1L371.2 904.2L357.8 904.2ZM360.9 892.1L376.4 892.1L384.6 904.2L371.2 904.2ZM624.2 892.1L639.7 892.1L612.9 904.2L599.5 904.2ZM639.7 892.1L655.2 892.1L626.4 904.2L612.9 904.2ZM192.6 904.2L210 904.2L250.7 910.9L236.3 910.9ZM210 904.2L223.5 904.2L261.7 910.9L250.7 910.9ZM223.5 904.2L236.9 904.2L272.7 910.9L261.7 910.9ZM236.9 904.2L250.3 904.2L283.8 910.9L272.7 910.9ZM250.3 904.2L263.8 904.2L294.8 910.9L283.8 910.9ZM263.8 904.2L277.2 904.2L305.9 910.9L294.8 910.9ZM277.2 904.2L290.6 904.2L316.9 910.9L305.9 910.9ZM290.6 904.2L304.1 904.2L327.9 910.9L316.9 910.9ZM304.1 904.2L317.5 904.2L339 910.9L327.9 910.9ZM317.5 904.2L330.9 904.2L350 910.9L339 910.9ZM666.7 904.2L684.1 904.2L640.4 910.9L626 910.9Z"/>
<path fill="#124984" stroke="#124984" stroke-width="0.7" d="M376.4 892.1L391.9 892.1L398.1 904.2L384.6 904.2ZM391.9 892.1L407.4 892.1L411.5 904.2L398.1 904.2ZM407.4 892.1L422.9 892.1L424.9 904.2L411.5 904.2ZM422.9 892.1L438.4 892.1L438.4 904.2L424.9 904.2ZM438.4 892.1L453.8 892.1L451.8 904.2L438.4 904.2ZM453.8 892.1L469.3 892.1L465.2 904.2L451.8 904.2ZM469.3 892.1L484.8 892.1L478.6 904.2L465.2 904.2ZM484.8 892.1L500.3 892.1L492.1 904.2L478.6 904.2ZM593.2 892.1L608.7 892.1L586.1 904.2L572.6 904.2ZM608.7 892.1L624.2 892.1L599.5 904.2L586.1 904.2ZM330.9 904.2L344.3 904.2L361.1 910.9L350 910.9ZM344.3 904.2L357.8 904.2L372.1 910.9L361.1 910.9ZM357.8 904.2L371.2 904.2L383.1 910.9L372.1 910.9ZM371.2 904.2L384.6 904.2L394.2 910.9L383.1 910.9ZM612.9 904.2L626.4 904.2L592.9 910.9L581.9 910.9ZM626.4 904.2L639.8 904.2L604 910.9L592.9 910.9ZM639.8 904.2L653.2 904.2L615 910.9L604 910.9ZM653.2 904.2L666.7 904.2L626 910.9L615 910.9Z"/>
<path fill="#053061" stroke="#053061" stroke-width="0.7" d="M500.3 892.1L515.8 892.1L505.5 904.2L492.1 904.2ZM515.8 892.1L531.3 892.1L518.9 904.2L505.5 904.2ZM531.3 892.1L546.8 892.1L532.4 904.2L518.9 904.2ZM546.8 892.1L562.3 892.1L545.8 904.2L532.4 904.2ZM562.3 892.1L577.7 892.1L559.2 904.2L545.8 904.2ZM577.7 892.1L593.2 892.1L572.6 904.2L559.2 904.2ZM384.6 904.2L398.1 904.2L405.2 910.9L394.2 910.9ZM398.1 904.2L411.5 904.2L416.3 910.9L405.2 910.9ZM411.5 904.2L424.9 904.2L427.3 910.9L416.3 910.9ZM424.9 904.2L438.4 904.2L438.4 910.9L427.3 910.9ZM438.4 904.2L451.8 904.2L449.4 910.9L438.4 910.9ZM451.8 904.2L465.2 904.2L460.4 910.9L449.4 910.9ZM465.2 904.2L478.6 904.2L471.5 910.9L460.4 910.9ZM478.6 904.2L492.1 904.2L482.5 910.9L471.5 910.9ZM492.1 904.2L505.5 904.2L493.6 910.9L482.5 910.9ZM505.5 904.2L518.9 904.2L504.6 910.9L493.6 910.9ZM518.9 904.2L532.4 904.2L515.6 910.9L504.6 910.9ZM532.4 904.2L545.8 904.2L526.7 910.9L515.6 910.9ZM545.8 904.2L559.2 904.2L537.7 910.9L526.7 910.9ZM559.2 904.2L572.6 904.2L548.8 910.9L537.7 910.9ZM572.6 904.2L586.1 904.2L559.8 910.9L548.8 910.9ZM586.1 904.2L599.5 904.2L570.8 910.9L559.8 910.9ZM599.5 904.2L612.9 904.2L581.9 910.9L570.8 910.9Z"/>
<path fill="url(#hxL)" fill-rule="evenodd" d="M642.7 605.9L647.7 592.5L671.3 600.7L677.4 605.9L686.8 634.3L684.1 640L664.6 649L641.3 640L636 634.3L638.9 628.7L642.7 605.9ZM379 694.7L383.3 688.8L387.5 694.7L383.2 700.7L379 694.7ZM467.2 694.7L471.4 688.8L475.7 694.7L475.7 725.7L493.2 741.1L504.5 725.7L515.6 710.2L526.5 725.7L536.7 750.4L558.5 750.4L580.4 750.4L602.2 750.4L605.9 756.3L620 780.4L623 786.1L617.8 791.7L595.6 814.5L590.2 819.7L570 819.7L548 827.9L528.1 827.9L508.1 827.9L489 819.7L485.5 814.5L489.9 809.1L511.4 800.5L529.8 786.1L514.3 762.2L492.2 771.4L470.7 771.4L453.1 786.1L448.9 791.7L432.1 814.5L428.2 819.7L408 819.7L387.7 819.7L383.3 814.5L386.8 809.1L402.4 786.1L406.3 780.4L416.6 756.3L405.3 731.6L401 725.7L405.2 719.7L427.3 710.2L449.4 710.2L467.2 694.7ZM92.4 725.7L96.3 719.7L100.9 725.7L120.1 741.1L142.1 741.1L158.5 725.7L162.5 719.7L167 725.7L186 741.1L207.9 741.1L229.9 741.1L252.6 750.4L257.4 756.3L278.1 780.4L283.1 786.1L280 791.7L260.9 800.5L248.1 814.5L245.9 819.7L225.7 819.7L205.4 819.7L199.3 814.5L177.4 800.5L156.5 800.5L135.7 800.5L114.8 800.5L93.9 800.5L69 791.7L66.6 786.1L57.2 756.3L55.9 750.4L76.2 741.1L92.4 725.7ZM312.8 725.7L317 719.7L339 710.2L361.1 710.2L372.2 725.7L361.5 741.1L339.6 741.1L322.8 756.3L319 762.2L314.3 756.3L312.8 725.7ZM643.5 725.7L648 719.7L652.1 725.7L647.5 731.6L643.5 725.7ZM699.7 756.3L712.7 741.1L734.6 741.1L756.6 741.1L778.5 741.1L800.5 741.1L822.4 741.1L819.5 756.3L815.4 771.4L793 786.1L786.6 791.7L765.5 791.7L741 800.5L720.2 800.5L699.3 800.5L693.3 786.1L699.7 756.3ZM657.3 786.1L662.7 780.4L665.5 786.1L660 791.7L657.3 786.1Z"/>
<path fill="none" stroke="#000" stroke-width="1.9" stroke-linejoin="round" stroke-linecap="round" d="M164.5 535.5L175.9 531L182.8 529.8L188.4 527.9L199.9 526.4L205.3 527.1L210.3 527.7L217.2 528.2L218.9 528.9L223.6 529.8L228 529.1L231.1 529.1L238.6 528.3L241.3 527.6L243.6 529.1L247.4 528.6L251.1 529.2L254.7 530L255.9 531.4L257.9 531.1L263.7 531.6L266.6 531.8L268.2 530.5L272.8 530.6L276.2 531.8L282.5 531.8L286.4 531.1L289.5 529.1L289.7 528.3L295.7 525.4L296.7 527.6L296.5 529.1L298.8 529.8L298.8 531.4L301.1 532.3L305.1 529.8L306.4 528.6L310.9 528.8L310.6 530.6L307.5 532.3L306.8 533.9L302.5 534.3L298.8 534.8L294.9 537.4L292.5 538.3L288.8 538.7L285.6 540.5L281 542L276.1 544.9L273.2 548.3L276 548.5L274.4 552L278.9 552L281.7 553.1L285.5 555.6L289.9 555.8L288.2 560.7L288.9 563L289.8 564.8L292 564.1L293.7 561.8L294.8 558.5L294.7 556.9L300.7 554.1L303.4 551L303.4 547.9L304.4 544.9L307.9 541.1L311.8 541.4L314.8 542L316.2 543.9L319.6 543.9L317.4 547.9L319.4 548.9L323.4 547.9L327 545.1L326.9 547.9L329 551L329.3 554.1L331.1 556.3L334.3 557.4L335.8 560.7L335.6 563L332.8 564.1L328.2 566.4L326.1 567.1L322.5 566.9L316.8 567.1L312.4 568.8L307.7 571.1L302.5 575L307.1 572.8L312 570L316.7 570L315.8 572.3L313.5 573.6L313.7 576L315.2 577.2L318.9 577.7L320.6 578.5L320.4 579.2L316.1 580.5L312.7 582.2L309.4 583.5L310.1 581L313.7 579L308.6 579.7L305.1 581.5L301.7 583L299.4 586L300.2 587.8L296.9 588.9L291.3 590.9L290 593.8L287 596.5L285.1 599.7L283.9 600.5L283.7 603.2L284 605.1L281.1 607L278.1 609L274.4 611.5L270.5 614.8L268.8 618.5L269.2 624.7L269.2 629.9L267.7 633.7L266 633.4L265.3 630.8L264.3 626.2L264.9 622.7L263 619.9L260.1 620.7L258.1 618.8L254.9 619L251.7 619.3L251.4 622.2L248.9 622.2L246 621L241.8 621.3L238.9 622.7L234.2 626.2L232.3 631.4L230.2 637.2L228.9 642.2L229.3 647L231.1 651.4L233.5 654.4L238.4 653.2L241.8 652L243.7 647L245 645.5L249.5 644.3L252 645.2L249.6 650.5L247.9 655L245.3 661L246.5 661.7L251.4 661.4L255.7 661.7L257.1 664.1L255.9 670.2L254.9 676.3L256.2 679.3L258.2 682.4L260.3 683L263.6 680.9L267 681.5L268.4 683.6L269.4 685.5L272.8 677.5L275.1 676.3L278.5 674.7L281.9 672L282.1 676.3L280.9 676.9L285.2 672.6L285 674.7L288.6 677.2L293.6 677.5L296.8 678.7L300.2 677.2L302.4 677.2L302.7 679.9L304.8 682.4L306.4 683.9L309.6 687.6L312.8 691.6L317.2 691.6L320.4 692.9L323.7 695.7L325.8 697.8L328 704.6L327.9 708.7L331.3 711.7L333.5 712.4L339 714.8L341.2 718.6L345.7 718.9L350.1 719.2L353.4 722L356.8 725.4L360.5 726.3L361.5 731.8L361.4 738L358.3 742.6L356.3 747.2L353.8 750.2L353.4 756.3L353.8 763.9L352.7 769.9L350.8 775.8L349 779.7L345.4 780.3L342.4 782.3L339.3 783.8L336.5 787L335.6 790.5L336 795.7L334 800.5L331.6 805.6L330.1 808.9L328.2 812.5L325.8 813.9L322.8 813.9L318.8 812.3L321.5 815.8L322.7 818.5L322.1 822.6L318 825L314.1 825.2L314.7 830L309.9 830.5L310.4 833.9L313 834.6L310.9 836.9L311.5 840.7L308.6 842.4L309 844.9L312.6 846.8L313.2 848.5L311.1 851.6L309.9 854.7L312.2 858.1L310.4 858.1L308.3 859.7L309.3 861.5L305.2 860.8L302.3 858.6L298.9 855.1L296.3 850.4L294.5 846.8L295 843.2L295.6 839.4L294.8 834.4L292.4 831.8L291.4 826.6L289.9 821.2L290.2 817.2L290.8 810.3L289.7 803.3L288.7 797.7L288.9 791.9L288.6 786.1L288.1 780.3L287.7 774.3L286.3 766.6L283.3 763.3L278.7 760.3L273.9 756.3L271.8 752.7L269.4 747.5L266.5 741.1L263.9 734.9L262.2 731.2L259.4 728.8L259.1 724.1L261.2 720.7L261.8 717.9L259.8 717L260.6 713.3L261.7 709.6L261.7 707.1L263.9 705.2L265.1 702.2L267.4 698.4L268 693.2L267.7 688.6L266.4 684.6L263.6 683L261.3 684.9L262.3 687.6L259 686.4L255.8 684.6L253.9 680.9L250.3 679.3L250.3 676.3L248.1 671.1L246.5 669.5L242.9 668.6L238.7 667.1L234.9 662.6L233 660.4L228.5 662L224.4 660.1L220.3 658L217.6 655L214.2 652.9L211.5 649L212.4 644.6L210.9 639.3L208.9 634.3L207.1 629.9L205.6 627L203.5 623.3L203.2 617.6L200.5 615.1L199.4 618.5L200.5 622.7L201.3 627L202.7 631.4L203.5 636.3L204.5 639.6L202.8 640.1L200.2 635.2L200.6 631.4L197.9 627.9L198 625.6L196.9 619L196.6 612.9L195.3 608.7L191.5 607.3L191.1 601.9L191.3 598.4L190.9 593.8L191.1 591.5L193.7 587.3L194.3 584.8L198.2 579.7L200.2 576.5L202.2 571.6L205.1 571.9L204.6 574L206.9 570L206.2 568.8L204.7 566.9L202.2 565.3L203 561.8L203 558.5L203.1 556.3L203.4 553.1L202.3 551L201.4 548.9L199 547.9L197.3 546.3L193.4 545.9L190.4 545.5L188.4 544.3L184.3 544.9L179.8 546.5L175.3 547.3L179 544.3L182.6 543.5L177.4 544.9L171.9 547.3L168.5 549.3L161 552L155 554.1L148.7 555.8L143.8 556.9L150.6 554.1L158.7 551L163.4 548.5L159 548.5L155.3 548.7L158.9 545.9L155.9 544.9L156.1 542.9L161.1 540.7L165 539.7L170.9 538.7L172.8 537.4L169.5 537.4L164.9 537.2L164.5 535.5M312.6 859L313.8 860.8L318.2 863.5L320.5 863.5L317.8 864.6L314.3 864.8L310.1 863.5L307.5 861.9L309.9 861.3L311 858.8L312.6 859M325.4 856.3L330.8 856.1L330.6 857.9L326.9 857.9L325.4 856.3M337.4 517.9L346.3 516.6L352.5 515.3L360.5 514.6L374 514.2L387.6 513.7L400.4 513.6L410 514.2L412.2 514.9L422.6 514.9L415.5 516.2L413.4 518.1L412.1 519.7L409.4 521.5L409.7 522.7L405.6 524L405.1 525.4L401.1 526.1L404.5 527.6L402 528.3L397.6 529.8L394.1 531L387.6 531.4L383.5 533.9L378.2 535.1L372.7 536.5L370 539.2L366.4 542L364.4 545.3L361.5 546.1L359.6 544.3L355.6 543.5L354.2 541.1L353 538.3L352.3 534.8L353.5 531.4L358.9 529.1L354.7 528.3L355 526.8L355.1 524.7L355.1 522.1L354.1 520.9L350 520L342.6 520.3L339.1 519.7L339.1 518.6L337.4 517.9M399.2 535.6L402.8 534.1L405.8 535.1L409.2 534.4L412.5 534.1L414.8 534.8L416.2 536.5L413.6 537.7L408.4 539.2L404.2 539L401 538.5L402.1 537.4L398.9 536.7L401.5 536.2L399.2 535.6M328 542.6L324.1 540.7L320 539.2L318 537.4L311.1 537.7L310.4 536.5L317.6 535.6L320.4 533.1L316.2 531.4L315.2 529.1L311.4 528.3L305.7 527.9L302.2 526.8L304.2 524L312.9 523.1L318.5 523.4L321.8 524.3L325.1 525.4L329.8 526.8L333 528.3L333.3 529.8L336.2 532.3L339.3 533.6L335.6 535.6L332.5 535.3L329.6 534.8L331.7 539.2L328 542.6M257.1 528.3L262.8 529.8L268.8 530L278.4 529.8L281.9 528.3L277.7 526.8L281.5 524.3L274.4 524L267 524L261.3 524.7L257.5 526.1L257.1 528.3M248.4 526.1L254 526.4L258.7 525.4L266.2 523.6L265.6 522.3L256.1 522.7L249.3 524.7L248.4 526.1M310.7 519.7L318.7 519.2L324.5 519.9L330.8 518.6L336 517.1L345.1 515.8L353.2 514.9L358.6 514.2L349.1 513.9L336.4 513.9L321.5 514.6L316.9 515.3L320.2 516.2L321 517.1L313.6 518.1L310.7 519.7M300.2 520.9L304.2 522L312.8 522.1L321.9 521.8L323.4 520.7L316.9 520.3L307.5 519.9L300.2 520.9M269.2 521.2L278 522L285.1 521.2L286.9 520.3L279 519.9L271.2 520.3L269.2 521.2M284.3 525.4L291.3 525.8L298.8 524.7L300.2 522.7L291.3 522.7L286.3 524L284.3 525.4M305.6 517.9L316.9 517.8L322.1 515.9L315.5 515.3L309 516.4L305.6 517.9M293.4 539.2L297.9 539.7L303.6 538.8L305.6 537.4L302.1 535.6L298.3 535.3L294.9 537.4L293.4 539.2M325.5 573.1L331.2 575L336.4 575.5L338 573.3L337.1 571.1L336.9 568.8L334 568.8L335 564.1L331.6 566L327.9 570.4L325.5 573.1M199.4 565.7L204 567.1L204.4 571.4L202.1 570.7L200.1 568.1L199.4 565.7M196.7 558.5L198.9 558.5L197.1 561.8L195.7 560.7L196.7 558.5M166.5 550.3L170.3 550.3L166.3 552L166.5 550.3M256.1 643.4L261 640.1L265.3 639.6L270.3 641.6L275.2 645.2L278.6 648.4L272.4 649.3L271.2 647L266.8 644L262.8 642.2L258.3 643.1L256.1 643.4M277.5 653.5L281 649.3L287.5 649.6L290.5 653.2L285.8 654.1L283 655.9L277.5 653.5M269 653.8L271.9 653.5L273.4 655L270.5 655.6L269 653.8M293 653.8L296.2 654.1L295.5 655L292.9 655L293 653.8M302.8 677.2L304.6 676.9L304.5 679L302.7 679L302.8 677.2M102.4 648.4L104.2 649.6L103.8 651.1L102.1 652L102 649.9L102.4 648.4M101.6 646.1L102.9 646.7L101.9 647.2L101.6 646.1M98.9 644.3L99.7 645.2L98.9 645.2L98.9 644.3M96.3 642.5L96.9 643.1L96.2 643.4L96.3 642.5M427 603.2L425.6 601.6L423.4 600L420.3 600.5L420.7 596.5L419.3 595.7L420.8 592L421.2 587.8L420.3 584.8L422.7 583L427.6 583.5L431.5 583.7L434.8 583.7L435.8 581L436 577.2L434.1 574.3L429.8 572.8L429.5 571.1L432.7 570.4L435.3 570.9L435 568.3L436.5 569L438.7 568.8L441.2 567.1L441.5 565.3L444.8 564.3L446.1 562.5L447.1 560.7L450.2 559.6L452.9 559.1L454.3 558.5L453.6 555.2L452.9 552L455.6 551L457 550.5L456.7 553.1L457.7 554.1L456 555.6L456.4 557.4L458.3 558.5L461 557.6L463.4 558L464.4 558.7L468.2 557.4L471.7 556.7L473.7 557.6L476.1 555.8L475.6 552.4L476.6 550.7L479.1 552L481.3 551.6L480.9 549.3L479.2 547.5L481.7 546.9L486.8 546.7L490.1 545.9L487.2 544.7L483 545.1L478.1 546.1L475.2 544.5L474.4 542L474.3 539.7L476.5 538.3L479.4 536.5L479.6 535.5L476.6 535.1L474.2 535.6L473.5 537.4L470.8 539.2L468.7 541.1L467.8 542.9L467.8 544.5L470.8 545.9L470.5 547.3L468 548.5L467.5 551L466.9 553.7L464.3 554.1L463.9 555.4L461.7 555.4L460.6 553.5L458.6 549.9L457.5 547.9L456.5 546.9L454.9 548.3L452.4 549.7L450.6 549.9L448.3 548.5L447 545.9L446.9 542.9L447.6 541.4L450.1 540.1L453.3 538.8L455.7 537.4L457.9 535.6L459.3 533.9L461.4 531.9L462.8 530.6L465.7 529.4L468.6 528.3L472.2 527.6L475.8 526.8L479.6 526.8L482.8 527.1L486.2 527.9L484.9 528.6L489.8 529.2L494.7 529.5L501.8 531.4L504.6 533.1L504.3 534.3L500.8 534.6L494.7 533.6L491.5 533.6L494.5 535.1L495.7 537.4L499.7 538.3L500.4 536.5L503.9 537.2L504.4 535.6L506.2 534.1L509.6 534.4L508.8 532.7L507.4 530.6L511.1 531L513 533.1L514.8 531.9L517.7 531.4L521.9 530.6L523.7 531L528.1 530.5L532.4 529.8L532.3 528.6L538.3 529.4L541.2 529.1L543.6 530.2L546.6 531L546.5 529.8L542.1 528.3L540.4 526.4L540.7 524.3L542.7 524L546.8 524.4L549 526.1L549.9 528.3L553.4 531L556.6 533.1L554.8 534.3L557.4 533.4L557.3 531.4L555.1 529.8L551.8 527.6L550.9 525L553.9 525.4L555.8 525.1L559.4 525L558 523.4L564.8 522.7L564.5 521.5L567.7 520.7L574.1 520.3L580 519.6L583.6 518.4L586.9 518.8L591.1 519.5L597 519.6L601.3 520.6L598.9 522.1L603.5 523L613 523.4L615.7 524L619.9 523.1L625.6 523.4L631.9 524.7L636.4 526.8L639.2 527.1L640.5 526.1L646.8 526.3L648.2 525L649 524.3L655.9 524.7L665.7 525.8L672.2 527.1L678.5 526.8L685.2 527.9L688.1 528.9L693.3 528.8L698.5 528.3L705.6 529.8L702.4 528.3L706.9 528.6L711.9 528.8L721.2 530.2M155.5 530.2L158.2 531.1L160.8 533.1L163 533.6L163.3 534.6L155.3 537L152.4 537.7L150.6 536L146.3 535.6L143.1 536.5M733.6 536.5L732.7 537.4L730.5 537L738.7 540.1L740.3 541.4L735 542.4L733.1 543.9L732.4 545.9L725.3 545.1L723.2 546.1L720.9 546.3L725.2 549.9L723.4 550.3L728 552.6L731.2 556.3L730.9 560.3L729.1 561.1L730.3 565.3L725.2 561.8L719.5 556.3L713.9 552L714.6 550.3L713 544.9L712.8 541.1L709.6 542.4L705.3 542.9L707 546.9L703 547.9L696.6 546.9L686.6 547.3L684.9 550.5L685.1 555.2L684.9 557.8L689.5 558.9L692.7 558.5L697.1 560.7L699.6 565.3L703.9 571.1L704 576L702.6 581L701 584.8L696.8 584.2L695.6 586.5L695.5 589.9L693.5 592.5L693.5 594.4L699.3 599.2L702.2 604.6L700.1 606.2L697.6 607.6L695.7 603.2L695.1 600.5L691.2 597.8L688.2 593.8L686.2 592.5L682.9 595.2L682.1 595.7L680.9 591.2L678.5 590.4L676.6 594.6L674.5 595.2L677.3 598.4L681.7 599.2L686 599.7L683.9 601.9L682.2 605.9L686.3 610.1L690.8 614.8L692.3 618.5L693.4 624.2L691.9 629.3L691 633.7L688.9 637.8L686.3 640.1L682.9 642.2L678.6 644L675.2 645.2L675.8 648.1L673.8 644.6L671.1 644L668.3 646.1L666.6 650.5L669.1 656.5L673.8 661L676.6 667.1L677.6 673.2L674.1 677.8L672.7 680.9L669.1 683.3L668.8 679.3L665.4 677.8L662.7 673.2L659.2 671.1L657.8 668.6L657.1 671.7L656.4 676.3L656.5 681.5L658.9 684.6L660.8 689.5L663.7 691.6L666.2 696.3L666.8 702.5L668.4 705.9L666.9 706.2L662.4 701.8L660 697.2L659.3 691.6L656.1 686.1L654.5 683.9L654.4 677.8L654.2 671.7L652.2 667.1L650.9 662.6L649.3 658.9L646 661.4L643.3 661L642.9 655L640.5 650.5L636.5 646.1L634.8 641.6L632 641.6L629.2 643.7L625.2 645.2L624.7 649L621.7 650.5L619.1 655L617 658.6L613.1 662.6L613.5 668.6L613.1 674.7L612.3 678.4L611.9 681.8L610.2 682.7L608.8 685.2L606.4 682.4L605 677.8L602.4 671.7L600.8 665.6L598 659.5L596.2 653.5L594.8 647.5L593.9 644.6L593.1 646.1L589.9 646.7L586.1 642.2L588 640.1L584.5 638.7L582.2 637.2L580 633.7L575.3 633.7L570 634L565.7 633.4L560.2 632.2L558.2 628.5L554.5 629.3L551.4 629.3L547.8 626.2L544.2 622.7L542.6 619.3L540.1 619L538.6 620.5L539.4 623.3L541.6 627L544 629.3L545 632.8L546.8 635.2L547.7 632L547.9 635.7L550.2 636.6L553.3 636.6L556.1 632.8L557.5 630.8L558.6 635.7L560.9 637.8L563.6 638.7L566.3 641.6L564.6 647L563.2 652L560.7 655L557.7 658L553.4 659.5L549.4 663.2L544.2 667.1L538.8 669.2L536.7 670.8L533.5 671.1L532.7 668.6L531.6 664.1L531.1 659.5L528.2 655L525.6 649.6L522.5 645.2L520.9 638.7L517.6 634.3L515.5 629.9L512.4 625.6L511.1 621.3L510.6 625L510.3 626.2L508.7 624.2L506.4 620.2L505.4 616.2L509 616.2L510.4 613.7L510.8 610.1L511.7 605.9L511.5 602.4L509.8 601.6L507.4 602.4L504.4 602.9L500.6 601L498.3 602.4L495.5 601.3L493.6 600L491.6 596.5L491.9 593.8L490.6 592.5L492.1 591.5L496 591.5L496 589.6L493.8 589.6L491 591.2L490 590.4L487 590.4L485.2 592L483.7 591.5L483.8 594.4L485.2 597.3L486.7 597.8L485.1 598.4L485 601.9L483.8 601.9L482.3 601L481.1 598.4L481 596.5L478.9 593.8L477.1 591.2L476.8 587.8L474.7 586L471.6 584.2L468.6 582.2L466.4 579.2L464.8 578.2L462.1 579L462.7 581.7L464.9 583.5L466.3 586.5L469.9 587.6L470 588.9L474.1 590.9L475.2 592.3L472.2 591.2L471.5 593.3L472.6 595.2L471.5 597L470 598.1L470.4 595.4L469.5 592.5L467.2 590.9L464.1 589.1L460 586.3L458.5 583.5L455.5 581.2L453 582.7L450.1 584.5L447.2 583.7L444.6 584.2L444.7 587.3L442.3 589.1L439.9 590.4L437.8 593.8L438.8 595.7L436.9 598.6L434.3 601L429.2 601.3L427 603.2M495.8 589.4L499.7 589.4L504.4 587.3L507.4 587.3L510.6 589.1L514.7 589.9L520.4 588.6L519.8 585.3L514.3 582.2L511.1 580.2L509.3 579L511.5 577.2L512.8 574.3L509.2 575.3L506 576.7L507 579L504.4 581.2L503 579.2L500.8 576.7L497.8 576L496.3 578.5L495.7 579.7L494.3 582.2L493.2 584.8L493.2 587.3L495.8 589.4M538.3 599.2L541.7 601L547.3 600.8L546 595.2L544 592.5L542.8 588.6L544.8 587.3L541.4 585.3L538.3 582.2L537.1 579.7L540 576L536.8 574.8L533.3 576L530.7 577.2L529.4 579.7L531.2 583.5L534 587.3L536.8 591.2L536.4 594.4L537.1 597.8L538.3 599.2M505.4 616.2L502.7 615.7L498.7 617.3L494.4 615.9L490.2 615.1L486.3 613.4L482.7 611.7L479.8 614.3L480 617.6L476.9 619L471.6 616.2L469.4 613.1L464.1 611.7L461 610.1L459.3 607.9L460 604.6L460.6 600.5L458.6 599.7L454.6 600.8L448.5 601L444.4 600.8L438.4 603.5L434.3 605.7L427.6 603.8L426.1 604.6L424.4 608.7L420.8 610.6L418.2 615.7L418.1 619.9L414.2 624.7L411 626.5L407.7 630.5L404.2 637.8L401.8 645.2L403.2 650.5L402.5 659.5L400.2 665L401.9 670.2L401.8 672.3L404.8 676.3L408.3 680.9L409.3 683.9L413 688.9L417.4 693.8L421.8 696.6L427.3 694.4L431.7 694.4L434.4 695.3L439.5 692.6L443.9 690.7L447.8 690.7L450.5 695.7L452.7 696.9L457.1 696L459.3 698.4L460 702.5L459.3 707.1L458.2 712.4L460 717.9L462.6 722.6L464.8 726.3L465.4 729.4L467.6 736.5L468.6 743.5L467.9 748.7L465.2 753.3L464 760.9L463.9 765.4L466.8 772.9L469.2 778.8L469.8 786.1L471.6 793.4L473.6 797.7L475.3 804.7L476.1 808.4L476.1 812.3L479.3 813.9L484.5 811.7L490.7 811.7L493.9 810.9L497.2 808.1L501.8 802.8L503.8 799.1L506.9 794.8L508 789L508.3 787.6L513.5 784.1L514.4 777.3L513.3 771.4L517.3 766.9L520.7 763L525.3 759.4L527.1 754.8L526.9 748.7L526.7 742.6L525.2 736.5L524.7 730.3L523.9 727.2L525.5 723.5L527.7 717.9L530 715.2L533.3 708.7L537.7 704L542 697.8L545.2 691.6L548.3 683.9L550.2 677.8L550.4 673.8L545.7 675L540.3 676.9L536 678.1L533.2 674.7L532.8 671.7L530 667.7L526.6 664.1L523.8 662L521.7 655L518.8 650.5L518.3 646.1L516.5 641.6L514 637.2L511.4 631.4L509.3 627L506.4 620.2M546.2 747.5L547.8 757.8L545.9 762.4L542.7 772.9L538.7 785.5L534.2 787.6L531.8 786.1L531.4 778.8L533.7 772L533.8 762.4L538.4 758.7L542.5 754.8L546.2 747.5M428.1 567.4L431.8 566.9L436.5 566L440.8 564.8L439.8 564.1L441.5 561.6L438.9 560.7L438.4 559.1L436 557.2L435.3 554.8L433.9 554.1L434.8 551L431.3 550.5L432.8 548.7L429.6 548.7L428.1 551L428.5 553.5L429.7 556.3L432.4 556.5L432.5 559.6L430.1 560L430.6 561.8L428.7 563.4L431.9 564.3L430 565.3L428.1 567.4M426.9 562.5L427.4 559.6L428.1 556.9L424.9 555.6L423 557.4L420.2 558.5L421 560.7L419.3 563L420.8 564.1L424.5 563L426.9 562.5M463.5 597.8L469.5 597.3L469.2 601.3L463.6 598.6L463.5 597.8M454.6 589.9L457.6 589.9L457.6 594.6L455.4 595.2L454.6 589.9M455.3 586L457 584.8L457.1 588.6L455.5 588.1L455.3 586M486.5 604.6L492.1 605.4L487.4 605.9L486.5 604.6M504.4 605.9L508.7 604.3L507.5 606.8L504.4 605.9M516.6 526.1L519.7 527.3L526.6 527.3L521.6 524.7L522.1 522.7L524.7 520.9L532 519.7L535.8 519.4L531.3 519.2L523.7 519.9L519.5 521.5L518.3 523.4L516.6 526.1M453.4 517.1L457.9 518.6L462.4 519.5L467.5 518.1L464.1 516.6L469.1 515.9L462.4 516L453.4 517.1M568 517.1L576.6 517.9L582.8 517.6L577.1 516.4L566.5 515.3L568 517.1M635.5 520.9L645.6 522.7L648.6 521.5L654.9 521.1L647 520.3L638.4 520.3L635.5 520.9M711.4 526.8L711.9 526.1M164.8 526.1L167.5 526.5L162.3 527.1M714.4 527.1L711.4 526.8M695.7 557.8L700.2 560.7L705.8 566.4L710.9 570L712.1 575.3L711.6 577.2L708 572.3L703.3 566.4L695.7 557.8M715.2 588.6L713.1 584.2L711.7 578.7L716.5 581.5L722.3 583.5L721.3 587.3L716.5 586L715.2 588.6M718.3 589.1L722.2 593.8L722.4 597.8L724.8 603.2L724.5 605.9L722.4 606.8L718.9 607L717.2 610.1L714.9 607.3L710.2 608.1L707.3 608.7L706.7 607.3L709.6 604.6L715.4 604L715.7 600.5L718.1 599.2L718.7 596.5L717.5 592.5L716.5 589.9L718.3 589.1M705.9 610.1L708.9 610.1L711.2 615.7L709.5 616.5L707 612.9L705.9 610.1M710.5 609L714.3 608.1L714.7 610.6L712.9 612L710.5 609M696.3 633.7L697.9 637.2L697.2 643.1L695.2 640.1L695.1 634.9L696.3 633.7M673 651.4L676.4 649L677.8 650.5L675.3 654.4L673 651.4M614 679.9L616.9 683.9L618.4 688.6L615.7 691.6L614 687L614 679.9M699.1 653.5L702.6 653.5L703.7 658L702.7 661L703.5 664.7L705.5 666.5L708.5 667.7L709.7 671.4L707.8 670.2L706.1 667.4L703.9 667.4L701.6 667.7L701.4 665.3L699.7 664.1L698.9 660.4L699.4 657.1L699.1 653.5M701.3 668.9L703.8 669.9L703.5 672.3L702 670.8L701.3 668.9M710.2 671.7L712.4 672L713.8 675.7L712.3 676.3L710.8 674.4L710.2 671.7M710.9 675L712.3 676L713.1 678.7L712 678.7L710.9 675M706.9 676.9L709.1 676.6L709 681.8L707.3 680.3L706.9 676.9M705.5 673.8L708 674.7L707.2 677.8L705.7 677.5L705.5 673.8M706.9 688.6L707.4 685.8L709.6 683.6L711.6 684.2L713.4 680.3L716 683.9L716.8 687.9L715.9 690.7L714.9 692.6L713.8 692L711.9 690.4L710.3 686.7L708 687.6L706.9 688.6M696 683.9L700.2 675.3L699.4 678.4L696 683.9M648.4 692.9L653.3 694.1L660.2 702.5L667.3 710.2L669 716.4L672.3 720.1L671.5 728.1L668.6 728.1L664 722.6L660.2 714.8L656.2 704.9L652.4 699.4L648.4 692.9M670 731.2L673.4 728.8L677.3 730.9L682.4 730L686.5 731.5L690.2 734.3L689.8 737.1L682.4 735.8L677 734.3L672.7 733.1L670 731.2M679 704.6L680.5 704L684 702.5L687.7 700.3L690.8 695.3L693.8 689.2L696.6 688.6L700.7 693.8L698.6 696.9L698.4 702.5L701.1 707.1L697.8 710.2L695.5 716.4L694.3 722L690.9 722.6L687.7 720.1L684.4 719.5L681.6 714.8L679 710.2L679 704.6M702.9 708.7L705.1 706.2L709.9 707.1L714.3 705.2L712.1 709L705.5 709L703.7 713L706.6 713L710.6 713.3L707.7 716.4L708.6 721L709.4 727.2L707.4 725.1L705.4 719.5L703.9 727.2L701.7 727.2L702 721L700.6 718.6L702.9 708.7M727.6 712.7L730.9 711.4L734.2 712.7L736.2 720.4L741.9 714.8L749.6 718.2L757.1 722L760.2 726.6L763.9 729.4L762 731.2L764.8 736.5L768.5 742L763.1 741.7L759.3 736.5L755.2 734L752.5 738L748.1 738.3L744.1 734.9L741.8 735.8L743.7 731.8L742.1 726.6L737.2 723.8L731.7 722.6L731.4 718.9L734.1 717.9L729.7 716.4L727.6 712.7M709.3 742L713 738L718 736.2L713.8 740.5L709.3 742M693.4 736.5L696.7 735.8L700 736.2L704.4 736.2L708.8 735.8L704.2 737.7L698.8 737.4L693.3 737.4L693.4 736.5M719.8 704.6L721 708.7L722.1 711.7L720.5 707.7L719.8 704.6M720.8 719.5L726.3 719.5L725.2 721.3L720.8 720.7L720.8 719.5M765.2 727.8L770.1 727.2L774.1 723.2L772.3 727.2L768.8 729.7L765.2 727.8M771.2 718.6L774.8 721L775.7 724.4L773.7 721.3L771.2 718.6M779.3 727.2L781.5 730.3L780.3 730.9L779.3 727.2M783 730.9L785 733.1L783.8 733.4L783 730.9M787.1 733.7L789.7 736.2L788.6 736.5L787.1 733.7M789.1 738.9L791.3 740.5L789.5 740.8L789.1 738.9M791.7 736.2L792.8 739.5L792 738.9L791.7 736.2M792.7 742L794.2 743.5L793.1 743.2L792.7 742M801.2 756.3L802.1 758.1L801.1 758.4L801.2 756.3M802 759.4L802.7 760.9L801.9 760.9L802 759.4M802.8 764.2L803.3 764.8L802.6 764.8L802.8 764.2M791.5 772L795.2 777.3L795.9 778.5L792.6 775.2L791.5 772M823 763.9L825.2 764.5L824.1 766L822.1 765.4L823 763.9M826.6 760.9L829.2 760.3L827.5 761.8L826.6 760.9M681.6 777.3L682.8 776.7L687.8 773.7L693.5 772.3L699.4 769.9L703.1 765.4L704.1 762.4L707.7 760.3L711.9 754.8L715.4 753.3L718.3 756L720.4 756L722.5 750.2L724.5 748.4L728.4 747.2L729.7 745.7L734.9 747.2L737.7 747.8L735.3 751.8L733.5 756.3L737.2 759.4L740.6 763.9L743.5 763.9L746.5 756.3L748.3 748.7L750.8 743.5L752.1 749.6L751.9 754.2L754.8 756.3L754.7 763.9L754.4 768.1L757.2 771.4L758.8 777.3L760.2 781.7L762.5 785.5L762.2 790.5L760.6 796.2L756.5 803.3L752.1 808.4L748 812.5L743.9 817.2L741.1 821.2L736.7 822.3L731.6 825.2L729.8 823.1L726.3 824.7L722.3 822.8L721.2 819.9L721.9 816.4L719.5 816.4L722.1 813.1L719.5 815L721.3 810.3L723 808.4L716.7 813.6L715.3 813.6L715.3 808.4L711.7 806.1L705.9 805L699 807L694.1 808.9L692 811.4L684.8 811.4L679.5 814.5L675.5 812.8L674.8 810.9L677.9 806.1L678.4 800.5L678.5 794.8L678 789L680.5 784.7L681.6 777.3M725.7 829.7L728.7 830.8L732.6 830.2L730.1 833.9L725.7 836.9L723.7 836.9L724.3 833.9L725.7 829.7M792.3 812.8L794.1 815.3L794.4 818.8L793.6 821.5L797.7 821.5L796.6 823.9L792.4 826.3L787.7 830.5L784.2 831.5L787.2 827.9L786.1 826L790.3 822.6L792.1 818.5L791.9 814.5L792.3 812.8M781.5 829.5L782.8 831.8L777.5 835.6L771.5 838.9L767.3 842.7L762.3 844.7L760.3 843.7L759.2 842.7L766.3 838.2L773 835.1L779.4 830.5L781.5 829.5M568.1 850.4L571.1 850.9L569.4 852.1L567.7 851.6L568.1 850.4M189.5 902.5L204.5 902.8L216.5 902.3L221.1 901.6L225.6 900.7L229.6 899.5L235.4 898.9L241.3 898.3L248 898.1L253.8 897.3L261.4 897.4L269.3 897.7L277.8 898.3L285.1 898.3L286.3 896.4L288.3 895.7L296.8 896.4L303.9 896.1L311.7 896.4L319.5 896.6L324.8 896.1L328.1 895L331.3 893.6L331.7 890.6L331.5 888.1L332.9 885.6L334.8 883.5L338.6 881.6L342.3 880.8L342.5 882.7L339.1 883.9L337.7 885.6L337 888.1L335.8 889.8L340.8 892.1L345.5 895L348.7 897.7L347.7 899.5L339.1 900.7L330.8 901.8L334.7 902.5L348.2 902.3L361.9 902.1L376 902.3L388.4 902.3L391.9 901.2L398.3 900.1L403.3 898.3L408.7 896.8L415.9 896L421.6 894L426.1 893.3L430.7 892.8L438.4 891.8L446.1 892.1L453.9 891.9L461.6 891.8L469.3 892.1L477.1 892.1L485.2 891L490.3 890.1L494.6 891L501.1 890.4L510 888.5L518.6 887.3L526.1 885.5L530 887L537.3 888.1L544.9 888.6L548.7 889.8L551.8 891.6L555.2 891.3L561.6 889.4L569.5 887.8L579.9 887L588.4 886.5L597.7 885.3L604.4 885.1L611 886.5L620.3 885.5L626.1 887.3L634.8 886.8L643.5 886.3L652.1 886L658.8 885.8L663.8 886.8L668.9 887.7L672.6 889.3L677.8 889.9L682.3 890.9L685.5 892.4L688.9 893L693.1 893.9L696.8 894.6L691.7 896.4L682.2 898.3L674.4 899.5L668.6 901.2L668.5 902.3L673.3 902.5L679.9 902.6L686.8 902.6M262.6 520.3L267.8 520.5L275 519.2L271.8 518.7L262.6 520.3M288.2 521.1L296.9 521.1L299.3 519.7L294.1 519.5L288.2 521.1M298.1 521.7L302.2 521.8L303.6 521L299.4 520.9L298.1 521.7M282 530.2L288.1 530.3L289.3 528.6L284.6 528.6L282 530.2M292.8 518.1L300.7 518.3L301.9 517.1L295.5 516.9L292.8 518.1M318.5 523.4L323.3 524.3L325.1 523.4L320.6 522.8L318.5 523.4M298.3 541.4L302 541.1L301.8 540.1L299 540.5L298.3 541.4M317.4 568.1L321.6 569.5L322.1 569.7L318.4 567.8L317.4 568.1M502.3 515.8L512.2 516.2L518 515.6L513 514.9L504.4 515.3L502.3 515.8M514.4 529.8L516.9 530.2L515.5 529.1L514.1 529.4L514.4 529.8"/>
<path fill="none" stroke="#b0b0b0" stroke-width="1.5" d="M127.9 874.5L748.8 874.5M62.6 800.5L814.1 800.5M40.9 710.2L835.8 710.2M62.6 619.9L814.1 619.9M127.9 545.9L748.8 545.9M305.9 511.5A132.5 198.7 0 0 0 305.9 908.9M372.1 511.5A66.2 198.7 0 0 0 372.1 908.9M504.6 511.5A66.2 198.7 0 0 1 504.6 908.9M570.8 511.5A132.5 198.7 0 0 1 570.8 908.9M438.4 511.5L438.4 908.9"/>
</g>
<path fill="none" stroke="#000" stroke-width="1.1" d="M239.6 511.5L637.1 511.5A198.7 198.7 0 0 1 637.1 908.9L239.6 908.9A198.7 198.7 0 0 1 239.6 511.5Z"/>
<path fill="url(#cb2)" stroke="#000" stroke-width="1" stroke-linejoin="miter" d="M886.2 530.8L895.7 512L905.3 530.8L905.3 889.6L895.7 908.4L886.2 889.6Z"/>
<path stroke="#000" stroke-width="1.4" fill="none" d="M905.8 530.8h6.9M905.8 575.7h6.9M905.8 620.5h6.9M905.8 665.4h6.9M905.8 710.2h6.9M905.8 755.1h6.9M905.8 799.9h6.9M905.8 844.8h6.9M905.8 889.6h6.9"/>
<text transform="translate(981.25 710.2) rotate(-90) scale(1.053 1)" font-size="13.89" text-anchor="middle">K per decade</text>
<text transform="translate(438.35 499.6) scale(1.053 1)" font-size="19.44" text-anchor="middle">RO 2002−2021@18.0 km</text>
<text transform="translate(305.87 928.9) scale(1.053 1)" font-size="13.89" text-anchor="middle">120°W</text>
<text transform="translate(372.11 928.9) scale(1.053 1)" font-size="13.89" text-anchor="middle">60°W</text>
<text transform="translate(438.35 928.9) scale(1.053 1)" font-size="13.89" text-anchor="middle">0°</text>
<text transform="translate(504.59 928.9) scale(1.053 1)" font-size="13.89" text-anchor="middle">60°E</text>
<text transform="translate(570.83 928.9) scale(1.053 1)" font-size="13.89" text-anchor="middle">120°E</text>
<text transform="translate(645.9 928.9) scale(1.053 1)" font-size="13.89" text-anchor="middle">180°</text>
<text transform="translate(759.43 550.17) scale(1.053 1)" font-size="13.89" text-anchor="start">60°N</text>
<text transform="translate(117.27 550.17) scale(1.053 1)" font-size="13.89" text-anchor="end">60°N</text>
<text transform="translate(824.7 624.19) scale(1.053 1)" font-size="13.89" text-anchor="start">30°N</text>
<text transform="translate(824.7 804.81) scale(1.053 1)" font-size="13.89" text-anchor="start">30°S</text>
<text transform="translate(759.43 878.83) scale(1.053 1)" font-size="13.89" text-anchor="start">60°S</text>
<text transform="translate(117.27 878.83) scale(1.053 1)" font-size="13.89" text-anchor="end">60°S</text>
<text transform="translate(846.2 714.1) scale(1.053 1)" font-size="13.89" text-anchor="start">0°</text>
<text transform="translate(836.7 687.6) scale(1.053 1)" font-size="13.89" text-anchor="start">180°</text>
<text transform="translate(40.7 740.9) scale(1.053 1)" font-size="13.89" text-anchor="end">180°</text>
<text transform="translate(919.05 535.9) scale(1.053 1)" font-size="13.89" text-anchor="start">1.00</text>
<text transform="translate(919.05 580.75) scale(1.053 1)" font-size="13.89" text-anchor="start">0.75</text>
<text transform="translate(919.05 625.6) scale(1.053 1)" font-size="13.89" text-anchor="start">0.50</text>
<text transform="translate(919.05 670.45) scale(1.053 1)" font-size="13.89" text-anchor="start">0.25</text>
<text transform="translate(919.05 715.3) scale(1.053 1)" font-size="13.89" text-anchor="start">0.00</text>
<text transform="translate(919.05 760.15) scale(1.053 1)" font-size="13.89" text-anchor="start">−0.25</text>
<text transform="translate(919.05 805) scale(1.053 1)" font-size="13.89" text-anchor="start">−0.50</text>
<text transform="translate(919.05 849.85) scale(1.053 1)" font-size="13.89" text-anchor="start">−0.75</text>
<text transform="translate(919.05 894.7) scale(1.053 1)" font-size="13.89" text-anchor="start">−1.00</text>
<clipPath id="c3"><path d="M1256.8 511.5L1654.2 511.5A198.7 198.7 0 0 1 1654.2 908.9L1256.8 908.9A198.7 198.7 0 0 1 1256.8 511.5Z"/></clipPath>
<g clip-path="url(#c3)">
<path fill="#4393c3" stroke="#4393c3" stroke-width="0.7" d="M1253.5 509.5L1267.8 509.5L1227.2 516.2L1209.7 516.2ZM1267.8 509.5L1278.9 509.5L1240.6 516.2L1227.2 516.2ZM1278.9 509.5L1289.9 509.5L1254.1 516.2L1240.6 516.2ZM1289.9 509.5L1300.9 509.5L1267.5 516.2L1254.1 516.2ZM1300.9 509.5L1312 509.5L1280.9 516.2L1267.5 516.2ZM1209.7 516.2L1227.2 516.2L1192.2 528.3L1172.1 528.3ZM1227.2 516.2L1240.6 516.2L1207.7 528.3L1192.2 528.3ZM1670.4 516.2L1683.8 516.2L1718.8 528.3L1703.3 528.3ZM1672.3 528.3L1687.8 528.3L1714.2 545.9L1697 545.9ZM1576.2 545.9L1593.5 545.9L1605.3 567.6L1586.6 567.6ZM1645.2 545.9L1662.5 545.9L1680.2 567.6L1661.5 567.6ZM1136.5 827.9L1156.4 827.9L1174.6 852.8L1155.8 852.8ZM1156.4 827.9L1176.4 827.9L1193.3 852.8L1174.6 852.8ZM1296 827.9L1315.9 827.9L1324.4 852.8L1305.7 852.8ZM1794.4 827.9L1820.3 827.9L1798.2 852.8L1773.9 852.8ZM1212 852.8L1230.8 852.8L1248.5 874.5L1231.3 874.5ZM1249.5 852.8L1268.2 852.8L1283 874.5L1265.8 874.5ZM1343.1 852.8L1361.9 852.8L1369.3 874.5L1352 874.5ZM1139.8 874.5L1162.3 874.5L1192.2 892.1L1172.1 892.1ZM1317.5 874.5L1334.8 874.5L1347.1 892.1L1331.6 892.1ZM1576.2 874.5L1593.5 874.5L1579.4 892.1L1563.9 892.1ZM1731.5 874.5L1748.7 874.5L1718.8 892.1L1703.3 892.1ZM1172.1 892.1L1192.2 892.1L1227.2 904.2L1209.7 904.2ZM1285.1 892.1L1300.6 892.1L1321.2 904.2L1307.8 904.2ZM1300.6 892.1L1316.1 892.1L1334.6 904.2L1321.2 904.2ZM1316.1 892.1L1331.6 892.1L1348.1 904.2L1334.6 904.2ZM1594.9 892.1L1610.4 892.1L1589.8 904.2L1576.4 904.2ZM1610.4 892.1L1625.9 892.1L1603.2 904.2L1589.8 904.2ZM1625.9 892.1L1641.4 892.1L1616.7 904.2L1603.2 904.2ZM1641.4 892.1L1656.8 892.1L1630.1 904.2L1616.7 904.2ZM1656.8 892.1L1672.3 892.1L1643.5 904.2L1630.1 904.2ZM1672.3 892.1L1687.8 892.1L1656.9 904.2L1643.5 904.2Z"/>
<path fill="#7eb8d7" stroke="#7eb8d7" stroke-width="0.7" d="M1312 509.5L1323 509.5L1294.3 516.2L1280.9 516.2ZM1323 509.5L1334.1 509.5L1307.8 516.2L1294.3 516.2ZM1334.1 509.5L1345.1 509.5L1321.2 516.2L1307.8 516.2ZM1345.1 509.5L1356.1 509.5L1334.6 516.2L1321.2 516.2ZM1356.1 509.5L1367.2 509.5L1348.1 516.2L1334.6 516.2ZM1267.5 516.2L1280.9 516.2L1254.2 528.3L1238.7 528.3ZM1536.1 516.2L1549.5 516.2L1563.9 528.3L1548.4 528.3ZM1207.7 528.3L1223.2 528.3L1196.8 545.9L1179.5 545.9ZM1718.8 528.3L1738.9 528.3L1771.2 545.9L1748.7 545.9ZM1541.7 545.9L1559 545.9L1567.9 567.6L1549.1 567.6ZM1511.7 567.6L1530.4 567.6L1535.2 592.5L1515.3 592.5ZM1605.3 567.6L1624.1 567.6L1634.9 592.5L1615 592.5ZM1073.5 800.5L1100.6 800.5L1116.6 827.9L1090.7 827.9ZM1810.4 800.5L1837.5 800.5L1820.3 827.9L1794.4 827.9ZM1196.3 827.9L1216.3 827.9L1230.8 852.8L1212 852.8ZM1216.3 827.9L1236.2 827.9L1249.5 852.8L1230.8 852.8ZM1236.2 827.9L1256.1 827.9L1268.2 852.8L1249.5 852.8ZM1418 852.8L1436.8 852.8L1438.3 874.5L1421 874.5ZM1493 852.8L1511.7 852.8L1507.2 874.5L1490 874.5ZM1736.4 852.8L1755.2 852.8L1731.5 874.5L1714.2 874.5ZM1214 874.5L1231.3 874.5L1254.2 892.1L1238.7 892.1ZM1265.8 874.5L1283 874.5L1300.6 892.1L1285.1 892.1ZM1541.7 874.5L1559 874.5L1548.4 892.1L1532.9 892.1ZM1593.5 874.5L1610.7 874.5L1594.9 892.1L1579.4 892.1Z"/>
<path fill="#a2cde3" stroke="#a2cde3" stroke-width="0.7" d="M1367.2 509.5L1378.2 509.5L1361.5 516.2L1348.1 516.2ZM1378.2 509.5L1389.3 509.5L1374.9 516.2L1361.5 516.2ZM1389.3 509.5L1400.3 509.5L1388.4 516.2L1374.9 516.2ZM1400.3 509.5L1411.3 509.5L1401.8 516.2L1388.4 516.2ZM1294.3 516.2L1307.8 516.2L1285.1 528.3L1269.6 528.3ZM1522.6 516.2L1536.1 516.2L1548.4 528.3L1532.9 528.3ZM1238.7 528.3L1254.2 528.3L1231.3 545.9L1214 545.9ZM1532.9 528.3L1548.4 528.3L1559 545.9L1541.7 545.9ZM1179.5 545.9L1196.8 545.9L1174.6 567.6L1155.8 567.6ZM1196.8 545.9L1214 545.9L1193.3 567.6L1174.6 567.6ZM1524.5 545.9L1541.7 545.9L1549.1 567.6L1530.4 567.6ZM1697 545.9L1714.2 545.9L1736.4 567.6L1717.7 567.6ZM1174.6 567.6L1193.3 567.6L1176.4 592.5L1156.4 592.5ZM1193.3 567.6L1212 567.6L1196.3 592.5L1176.4 592.5ZM1268.2 567.6L1286.9 567.6L1276.1 592.5L1256.1 592.5ZM1493 567.6L1511.7 567.6L1515.3 592.5L1495.4 592.5ZM1661.5 567.6L1680.2 567.6L1694.7 592.5L1674.8 592.5ZM1335.9 592.5L1355.8 592.5L1351.1 619.9L1330.3 619.9ZM1355.8 592.5L1375.8 592.5L1372 619.9L1351.1 619.9ZM1395.7 592.5L1415.6 592.5L1413.8 619.9L1392.9 619.9ZM1495.4 592.5L1515.3 592.5L1518.1 619.9L1497.2 619.9ZM1674.8 592.5L1694.7 592.5L1706 619.9L1685.1 619.9ZM1455.5 619.9L1476.4 619.9L1477 649L1455.5 649ZM1218.5 649L1240.1 649L1236 679.3L1214.1 679.3ZM1434 649L1455.5 649L1455.5 679.3L1433.6 679.3ZM1520.1 649L1541.7 649L1543.3 679.3L1521.3 679.3ZM1192.1 679.3L1214.1 679.3L1212.6 710.2L1190.5 710.2ZM1214.1 679.3L1236 679.3L1234.7 710.2L1212.6 710.2ZM1190.5 710.2L1212.6 710.2L1214.1 741.1L1192.1 741.1ZM1389.3 710.2L1411.3 710.2L1411.6 741.1L1389.7 741.1ZM1433.4 710.2L1455.5 710.2L1455.5 741.1L1433.6 741.1ZM1800.2 771.4L1821.8 771.4L1810.4 800.5L1789.5 800.5ZM1121.5 800.5L1142.4 800.5L1156.4 827.9L1136.5 827.9ZM1184.1 800.5L1205 800.5L1216.3 827.9L1196.3 827.9ZM1267.6 800.5L1288.5 800.5L1296 827.9L1276.1 827.9ZM1330.3 800.5L1351.1 800.5L1355.8 827.9L1335.9 827.9ZM1415.6 827.9L1435.6 827.9L1436.8 852.8L1418 852.8ZM1754.6 827.9L1774.5 827.9L1755.2 852.8L1736.4 852.8ZM1530.4 852.8L1549.1 852.8L1541.7 874.5L1524.5 874.5ZM1586.6 852.8L1605.3 852.8L1593.5 874.5L1576.2 874.5ZM1605.3 852.8L1624.1 852.8L1610.7 874.5L1593.5 874.5ZM1610.7 874.5L1628 874.5L1610.4 892.1L1594.9 892.1ZM1679.7 874.5L1697 874.5L1672.3 892.1L1656.8 892.1Z"/>
<path fill="#b1d5e7" stroke="#b1d5e7" stroke-width="0.7" d="M1411.3 509.5L1422.4 509.5L1415.2 516.2L1401.8 516.2ZM1422.4 509.5L1433.4 509.5L1428.6 516.2L1415.2 516.2ZM1433.4 509.5L1444.5 509.5L1442.1 516.2L1428.6 516.2ZM1444.5 509.5L1455.5 509.5L1455.5 516.2L1442.1 516.2ZM1455.5 509.5L1466.5 509.5L1468.9 516.2L1455.5 516.2ZM1466.5 509.5L1477.6 509.5L1482.4 516.2L1468.9 516.2ZM1477.6 509.5L1488.6 509.5L1495.8 516.2L1482.4 516.2ZM1488.6 509.5L1499.7 509.5L1509.2 516.2L1495.8 516.2ZM1307.8 516.2L1321.2 516.2L1300.6 528.3L1285.1 528.3ZM1321.2 516.2L1334.6 516.2L1316.1 528.3L1300.6 528.3ZM1334.6 516.2L1348.1 516.2L1331.6 528.3L1316.1 528.3ZM1348.1 516.2L1361.5 516.2L1347.1 528.3L1331.6 528.3ZM1509.2 516.2L1522.6 516.2L1532.9 528.3L1517.5 528.3ZM1254.2 528.3L1269.6 528.3L1248.5 545.9L1231.3 545.9ZM1162.3 545.9L1179.5 545.9L1155.8 567.6L1137.1 567.6ZM1214 545.9L1231.3 545.9L1212 567.6L1193.3 567.6ZM1714.2 545.9L1731.5 545.9L1755.2 567.6L1736.4 567.6ZM1155.8 567.6L1174.6 567.6L1156.4 592.5L1136.5 592.5ZM1212 567.6L1230.8 567.6L1216.3 592.5L1196.3 592.5ZM1230.8 567.6L1249.5 567.6L1236.2 592.5L1216.3 592.5ZM1249.5 567.6L1268.2 567.6L1256.1 592.5L1236.2 592.5ZM1474.2 567.6L1493 567.6L1495.4 592.5L1475.4 592.5ZM1680.2 567.6L1699 567.6L1714.7 592.5L1694.7 592.5ZM1699 567.6L1717.7 567.6L1734.6 592.5L1714.7 592.5ZM1090.7 592.5L1116.6 592.5L1100.6 619.9L1073.5 619.9ZM1116.6 592.5L1136.5 592.5L1121.5 619.9L1100.6 619.9ZM1156.4 592.5L1176.4 592.5L1163.3 619.9L1142.4 619.9ZM1216.3 592.5L1236.2 592.5L1225.9 619.9L1205 619.9ZM1236.2 592.5L1256.1 592.5L1246.8 619.9L1225.9 619.9ZM1415.6 592.5L1435.6 592.5L1434.6 619.9L1413.8 619.9ZM1515.3 592.5L1535.2 592.5L1539 619.9L1518.1 619.9ZM1615 592.5L1634.9 592.5L1643.4 619.9L1622.5 619.9ZM1634.9 592.5L1654.9 592.5L1664.2 619.9L1643.4 619.9ZM1654.9 592.5L1674.8 592.5L1685.1 619.9L1664.2 619.9ZM1694.7 592.5L1714.7 592.5L1726.9 619.9L1706 619.9ZM1184.1 619.9L1205 619.9L1197 649L1175.4 649ZM1205 619.9L1225.9 619.9L1218.5 649L1197 649ZM1413.8 619.9L1434.6 619.9L1434 649L1412.4 649ZM1497.2 619.9L1518.1 619.9L1520.1 649L1498.6 649ZM1518.1 619.9L1539 619.9L1541.7 649L1520.1 649ZM1539 619.9L1559.9 619.9L1563.2 649L1541.7 649ZM1175.4 649L1197 649L1192.1 679.3L1170.2 679.3ZM1197 649L1218.5 649L1214.1 679.3L1192.1 679.3ZM1347.8 649L1369.3 649L1367.7 679.3L1345.8 679.3ZM1390.9 649L1412.4 649L1411.6 679.3L1389.7 679.3ZM1477 649L1498.6 649L1499.4 679.3L1477.4 679.3ZM1498.6 649L1520.1 649L1521.3 679.3L1499.4 679.3ZM1541.7 649L1563.2 649L1565.2 679.3L1543.3 679.3ZM1563.2 649L1584.8 649L1587.2 679.3L1565.2 679.3ZM1714 649L1735.6 649L1740.8 679.3L1718.9 679.3ZM1236 679.3L1258 679.3L1256.8 710.2L1234.7 710.2ZM1258 679.3L1279.9 679.3L1278.9 710.2L1256.8 710.2ZM1279.9 679.3L1301.9 679.3L1300.9 710.2L1278.9 710.2ZM1080.1 710.2L1102.2 710.2L1104.4 741.1L1082.4 741.1ZM1234.7 710.2L1256.8 710.2L1258 741.1L1236 741.1ZM1455.5 710.2L1477.6 710.2L1477.4 741.1L1455.5 741.1ZM1565.9 710.2L1588 710.2L1587.2 741.1L1565.2 741.1ZM1786.7 710.2L1808.8 710.2L1806.6 741.1L1784.7 741.1ZM1258 741.1L1279.9 741.1L1283.1 771.4L1261.6 771.4ZM1389.7 741.1L1411.6 741.1L1412.4 771.4L1390.9 771.4ZM1653 741.1L1675 741.1L1670.9 771.4L1649.4 771.4ZM1740.8 741.1L1762.8 741.1L1757.1 771.4L1735.6 771.4ZM1142.4 800.5L1163.3 800.5L1176.4 827.9L1156.4 827.9ZM1163.3 800.5L1184.1 800.5L1196.3 827.9L1176.4 827.9ZM1246.8 800.5L1267.6 800.5L1276.1 827.9L1256.1 827.9ZM1747.7 800.5L1768.6 800.5L1754.6 827.9L1734.6 827.9ZM1768.6 800.5L1789.5 800.5L1774.5 827.9L1754.6 827.9ZM1624.1 852.8L1642.8 852.8L1628 874.5L1610.7 874.5ZM1717.7 852.8L1736.4 852.8L1714.2 874.5L1697 874.5ZM1628 874.5L1645.2 874.5L1625.9 892.1L1610.4 892.1ZM1645.2 874.5L1662.5 874.5L1641.4 892.1L1625.9 892.1ZM1662.5 874.5L1679.7 874.5L1656.8 892.1L1641.4 892.1Z"/>
<path fill="#90c4dd" stroke="#90c4dd" stroke-width="0.7" d="M1499.7 509.5L1510.7 509.5L1522.6 516.2L1509.2 516.2ZM1510.7 509.5L1521.7 509.5L1536.1 516.2L1522.6 516.2ZM1521.7 509.5L1532.8 509.5L1549.5 516.2L1536.1 516.2ZM1280.9 516.2L1294.3 516.2L1269.6 528.3L1254.2 528.3ZM1223.2 528.3L1238.7 528.3L1214 545.9L1196.8 545.9ZM1679.7 545.9L1697 545.9L1717.7 567.6L1699 567.6ZM1624.1 567.6L1642.8 567.6L1654.9 592.5L1634.9 592.5ZM1642.8 567.6L1661.5 567.6L1674.8 592.5L1654.9 592.5ZM1375.8 592.5L1395.7 592.5L1392.9 619.9L1372 619.9ZM1475.4 592.5L1495.4 592.5L1497.2 619.9L1476.4 619.9ZM1476.4 619.9L1497.2 619.9L1498.6 649L1477 649ZM1369.3 649L1390.9 649L1389.7 679.3L1367.7 679.3ZM1100.6 800.5L1121.5 800.5L1136.5 827.9L1116.6 827.9ZM1288.5 800.5L1309.4 800.5L1315.9 827.9L1296 827.9ZM1309.4 800.5L1330.3 800.5L1335.9 827.9L1315.9 827.9ZM1789.5 800.5L1810.4 800.5L1794.4 827.9L1774.5 827.9ZM1395.7 827.9L1415.6 827.9L1418 852.8L1399.3 852.8ZM1436.8 852.8L1455.5 852.8L1455.5 874.5L1438.3 874.5ZM1455.5 852.8L1474.2 852.8L1472.7 874.5L1455.5 874.5ZM1474.2 852.8L1493 852.8L1490 874.5L1472.7 874.5ZM1549.1 852.8L1567.9 852.8L1559 874.5L1541.7 874.5ZM1567.9 852.8L1586.6 852.8L1576.2 874.5L1559 874.5ZM1231.3 874.5L1248.5 874.5L1269.6 892.1L1254.2 892.1ZM1248.5 874.5L1265.8 874.5L1285.1 892.1L1269.6 892.1ZM1697 874.5L1714.2 874.5L1687.8 892.1L1672.3 892.1Z"/>
<path fill="#569fc9" stroke="#569fc9" stroke-width="0.7" d="M1532.8 509.5L1543.8 509.5L1562.9 516.2L1549.5 516.2ZM1543.8 509.5L1554.9 509.5L1576.4 516.2L1562.9 516.2ZM1554.9 509.5L1565.9 509.5L1589.8 516.2L1576.4 516.2ZM1240.6 516.2L1254.1 516.2L1223.2 528.3L1207.7 528.3ZM1549.5 516.2L1562.9 516.2L1579.4 528.3L1563.9 528.3ZM1683.8 516.2L1701.3 516.2L1738.9 528.3L1718.8 528.3ZM1687.8 528.3L1703.3 528.3L1731.5 545.9L1714.2 545.9ZM1559 545.9L1576.2 545.9L1586.6 567.6L1567.9 567.6ZM1549.1 567.6L1567.9 567.6L1575.1 592.5L1555.2 592.5ZM1276.1 827.9L1296 827.9L1305.7 852.8L1286.9 852.8ZM1355.8 827.9L1375.8 827.9L1380.6 852.8L1361.9 852.8ZM1375.8 827.9L1395.7 827.9L1399.3 852.8L1380.6 852.8ZM1774.5 827.9L1794.4 827.9L1773.9 852.8L1755.2 852.8ZM1230.8 852.8L1249.5 852.8L1265.8 874.5L1248.5 874.5ZM1361.9 852.8L1380.6 852.8L1386.5 874.5L1369.3 874.5ZM1162.3 874.5L1179.5 874.5L1207.7 892.1L1192.2 892.1ZM1179.5 874.5L1196.8 874.5L1223.2 892.1L1207.7 892.1ZM1300.3 874.5L1317.5 874.5L1331.6 892.1L1316.1 892.1ZM1507.2 874.5L1524.5 874.5L1517.5 892.1L1502 892.1ZM1269.6 892.1L1285.1 892.1L1307.8 904.2L1294.3 904.2ZM1687.8 892.1L1703.3 892.1L1670.4 904.2L1656.9 904.2ZM1703.3 892.1L1718.8 892.1L1683.8 904.2L1670.4 904.2ZM1718.8 892.1L1738.9 892.1L1701.3 904.2L1683.8 904.2Z"/>
<path fill="#327cb7" stroke="#327cb7" stroke-width="0.7" d="M1565.9 509.5L1576.9 509.5L1603.2 516.2L1589.8 516.2ZM1576.9 509.5L1588 509.5L1616.7 516.2L1603.2 516.2ZM1588 509.5L1599 509.5L1630.1 516.2L1616.7 516.2ZM1599 509.5L1610.1 509.5L1643.5 516.2L1630.1 516.2ZM1610.1 509.5L1621.1 509.5L1656.9 516.2L1643.5 516.2ZM1621.1 509.5L1632.1 509.5L1670.4 516.2L1656.9 516.2ZM1632.1 509.5L1643.2 509.5L1683.8 516.2L1670.4 516.2ZM1643.2 509.5L1657.5 509.5L1701.3 516.2L1683.8 516.2ZM1562.9 516.2L1576.4 516.2L1594.9 528.3L1579.4 528.3ZM1630.1 516.2L1643.5 516.2L1672.3 528.3L1656.8 528.3ZM1643.5 516.2L1656.9 516.2L1687.8 528.3L1672.3 528.3ZM1656.8 528.3L1672.3 528.3L1697 545.9L1679.7 545.9ZM1090.7 827.9L1116.6 827.9L1137.1 852.8L1112.8 852.8ZM1112.8 852.8L1137.1 852.8L1162.3 874.5L1139.8 874.5ZM1137.1 852.8L1155.8 852.8L1179.5 874.5L1162.3 874.5ZM1155.8 852.8L1174.6 852.8L1196.8 874.5L1179.5 874.5ZM1286.9 852.8L1305.7 852.8L1317.5 874.5L1300.3 874.5ZM1305.7 852.8L1324.4 852.8L1334.8 874.5L1317.5 874.5ZM1773.9 852.8L1798.2 852.8L1771.2 874.5L1748.7 874.5ZM1352 874.5L1369.3 874.5L1378.1 892.1L1362.6 892.1ZM1369.3 874.5L1386.5 874.5L1393.5 892.1L1378.1 892.1ZM1386.5 874.5L1403.8 874.5L1409 892.1L1393.5 892.1ZM1472.7 874.5L1490 874.5L1486.5 892.1L1471 892.1ZM1347.1 892.1L1362.6 892.1L1374.9 904.2L1361.5 904.2ZM1563.9 892.1L1579.4 892.1L1562.9 904.2L1549.5 904.2Z"/>
<path fill="#6bacd1" stroke="#6bacd1" stroke-width="0.7" d="M1254.1 516.2L1267.5 516.2L1238.7 528.3L1223.2 528.3ZM1172.1 528.3L1192.2 528.3L1162.3 545.9L1139.8 545.9ZM1192.2 528.3L1207.7 528.3L1179.5 545.9L1162.3 545.9ZM1548.4 528.3L1563.9 528.3L1576.2 545.9L1559 545.9ZM1703.3 528.3L1718.8 528.3L1748.7 545.9L1731.5 545.9ZM1662.5 545.9L1679.7 545.9L1699 567.6L1680.2 567.6ZM1530.4 567.6L1549.1 567.6L1555.2 592.5L1535.2 592.5ZM1567.9 567.6L1586.6 567.6L1595.1 592.5L1575.1 592.5ZM1586.6 567.6L1605.3 567.6L1615 592.5L1595.1 592.5ZM1176.4 827.9L1196.3 827.9L1212 852.8L1193.3 852.8ZM1256.1 827.9L1276.1 827.9L1286.9 852.8L1268.2 852.8ZM1380.6 852.8L1399.3 852.8L1403.8 874.5L1386.5 874.5ZM1399.3 852.8L1418 852.8L1421 874.5L1403.8 874.5ZM1196.8 874.5L1214 874.5L1238.7 892.1L1223.2 892.1ZM1283 874.5L1300.3 874.5L1316.1 892.1L1300.6 892.1ZM1524.5 874.5L1541.7 874.5L1532.9 892.1L1517.5 892.1ZM1559 874.5L1576.2 874.5L1563.9 892.1L1548.4 892.1ZM1714.2 874.5L1731.5 874.5L1703.3 892.1L1687.8 892.1ZM1192.2 892.1L1207.7 892.1L1240.6 904.2L1227.2 904.2ZM1207.7 892.1L1223.2 892.1L1254.1 904.2L1240.6 904.2ZM1223.2 892.1L1238.7 892.1L1267.5 904.2L1254.1 904.2ZM1238.7 892.1L1254.2 892.1L1280.9 904.2L1267.5 904.2ZM1254.2 892.1L1269.6 892.1L1294.3 904.2L1280.9 904.2Z"/>
<path fill="#c2ddec" stroke="#c2ddec" stroke-width="0.7" d="M1361.5 516.2L1374.9 516.2L1362.6 528.3L1347.1 528.3ZM1482.4 516.2L1495.8 516.2L1502 528.3L1486.5 528.3ZM1495.8 516.2L1509.2 516.2L1517.5 528.3L1502 528.3ZM1269.6 528.3L1285.1 528.3L1265.8 545.9L1248.5 545.9ZM1507.2 545.9L1524.5 545.9L1530.4 567.6L1511.7 567.6ZM1286.9 567.6L1305.7 567.6L1296 592.5L1276.1 592.5ZM1136.5 592.5L1156.4 592.5L1142.4 619.9L1121.5 619.9ZM1256.1 592.5L1276.1 592.5L1267.6 619.9L1246.8 619.9ZM1276.1 592.5L1296 592.5L1288.5 619.9L1267.6 619.9ZM1296 592.5L1315.9 592.5L1309.4 619.9L1288.5 619.9ZM1315.9 592.5L1335.9 592.5L1330.3 619.9L1309.4 619.9ZM1435.6 592.5L1455.5 592.5L1455.5 619.9L1434.6 619.9ZM1455.5 592.5L1475.4 592.5L1476.4 619.9L1455.5 619.9ZM1575.1 592.5L1595.1 592.5L1601.6 619.9L1580.7 619.9ZM1595.1 592.5L1615 592.5L1622.5 619.9L1601.6 619.9ZM1714.7 592.5L1734.6 592.5L1747.7 619.9L1726.9 619.9ZM1163.3 619.9L1184.1 619.9L1175.4 649L1153.9 649ZM1225.9 619.9L1246.8 619.9L1240.1 649L1218.5 649ZM1246.8 619.9L1267.6 619.9L1261.6 649L1240.1 649ZM1267.6 619.9L1288.5 619.9L1283.1 649L1261.6 649ZM1330.3 619.9L1351.1 619.9L1347.8 649L1326.2 649ZM1351.1 619.9L1372 619.9L1369.3 649L1347.8 649ZM1372 619.9L1392.9 619.9L1390.9 649L1369.3 649ZM1392.9 619.9L1413.8 619.9L1412.4 649L1390.9 649ZM1434.6 619.9L1455.5 619.9L1455.5 649L1434 649ZM1559.9 619.9L1580.7 619.9L1584.8 649L1563.2 649ZM1643.4 619.9L1664.2 619.9L1670.9 649L1649.4 649ZM1664.2 619.9L1685.1 619.9L1692.5 649L1670.9 649ZM1789.5 619.9L1810.4 619.9L1821.8 649L1800.2 649ZM1153.9 649L1175.4 649L1170.2 679.3L1148.2 679.3ZM1240.1 649L1261.6 649L1258 679.3L1236 679.3ZM1412.4 649L1434 649L1433.6 679.3L1411.6 679.3ZM1627.9 649L1649.4 649L1653 679.3L1631.1 679.3ZM1692.5 649L1714 649L1718.9 679.3L1696.9 679.3ZM1104.4 679.3L1126.3 679.3L1124.3 710.2L1102.2 710.2ZM1148.2 679.3L1170.2 679.3L1168.5 710.2L1146.4 710.2ZM1301.9 679.3L1323.8 679.3L1323 710.2L1300.9 710.2ZM1345.8 679.3L1367.7 679.3L1367.2 710.2L1345.1 710.2ZM1367.7 679.3L1389.7 679.3L1389.3 710.2L1367.2 710.2ZM1433.6 679.3L1455.5 679.3L1455.5 710.2L1433.4 710.2ZM1455.5 679.3L1477.4 679.3L1477.6 710.2L1455.5 710.2ZM1565.2 679.3L1587.2 679.3L1588 710.2L1565.9 710.2ZM1124.3 710.2L1146.4 710.2L1148.2 741.1L1126.3 741.1ZM1212.6 710.2L1234.7 710.2L1236 741.1L1214.1 741.1ZM1411.3 710.2L1433.4 710.2L1433.6 741.1L1411.6 741.1ZM1521.7 710.2L1543.8 710.2L1543.3 741.1L1521.3 741.1ZM1610.1 710.2L1632.1 710.2L1631.1 741.1L1609.1 741.1ZM1742.5 710.2L1764.6 710.2L1762.8 741.1L1740.8 741.1ZM1764.6 710.2L1786.7 710.2L1784.7 741.1L1762.8 741.1ZM1367.7 741.1L1389.7 741.1L1390.9 771.4L1369.3 771.4ZM1609.1 741.1L1631.1 741.1L1627.9 771.4L1606.3 771.4ZM1762.8 741.1L1784.7 741.1L1778.7 771.4L1757.1 771.4ZM1205 800.5L1225.9 800.5L1236.2 827.9L1216.3 827.9ZM1726.9 800.5L1747.7 800.5L1734.6 827.9L1714.7 827.9ZM1435.6 827.9L1455.5 827.9L1455.5 852.8L1436.8 852.8ZM1511.7 852.8L1530.4 852.8L1524.5 874.5L1507.2 874.5ZM1642.8 852.8L1661.5 852.8L1645.2 874.5L1628 874.5ZM1661.5 852.8L1680.2 852.8L1662.5 874.5L1645.2 874.5Z"/>
<path fill="#d1e5f0" stroke="#d1e5f0" stroke-width="0.7" d="M1374.9 516.2L1388.4 516.2L1378.1 528.3L1362.6 528.3ZM1442.1 516.2L1455.5 516.2L1455.5 528.3L1440 528.3ZM1455.5 516.2L1468.9 516.2L1471 528.3L1455.5 528.3ZM1468.9 516.2L1482.4 516.2L1486.5 528.3L1471 528.3ZM1285.1 528.3L1300.6 528.3L1283 545.9L1265.8 545.9ZM1517.5 528.3L1532.9 528.3L1541.7 545.9L1524.5 545.9ZM1139.8 545.9L1162.3 545.9L1137.1 567.6L1112.8 567.6ZM1231.3 545.9L1248.5 545.9L1230.8 567.6L1212 567.6ZM1490 545.9L1507.2 545.9L1511.7 567.6L1493 567.6ZM1731.5 545.9L1748.7 545.9L1773.9 567.6L1755.2 567.6ZM1137.1 567.6L1155.8 567.6L1136.5 592.5L1116.6 592.5ZM1305.7 567.6L1324.4 567.6L1315.9 592.5L1296 592.5ZM1324.4 567.6L1343.1 567.6L1335.9 592.5L1315.9 592.5ZM1455.5 567.6L1474.2 567.6L1475.4 592.5L1455.5 592.5ZM1176.4 592.5L1196.3 592.5L1184.1 619.9L1163.3 619.9ZM1535.2 592.5L1555.2 592.5L1559.9 619.9L1539 619.9ZM1555.2 592.5L1575.1 592.5L1580.7 619.9L1559.9 619.9ZM1734.6 592.5L1754.6 592.5L1768.6 619.9L1747.7 619.9ZM1754.6 592.5L1774.5 592.5L1789.5 619.9L1768.6 619.9ZM1774.5 592.5L1794.4 592.5L1810.4 619.9L1789.5 619.9ZM1794.4 592.5L1820.3 592.5L1837.5 619.9L1810.4 619.9ZM1073.5 619.9L1100.6 619.9L1089.2 649L1061.2 649ZM1142.4 619.9L1163.3 619.9L1153.9 649L1132.3 649ZM1288.5 619.9L1309.4 619.9L1304.7 649L1283.1 649ZM1309.4 619.9L1330.3 619.9L1326.2 649L1304.7 649ZM1580.7 619.9L1601.6 619.9L1606.3 649L1584.8 649ZM1601.6 619.9L1622.5 619.9L1627.9 649L1606.3 649ZM1622.5 619.9L1643.4 619.9L1649.4 649L1627.9 649ZM1685.1 619.9L1706 619.9L1714 649L1692.5 649ZM1706 619.9L1726.9 619.9L1735.6 649L1714 649ZM1726.9 619.9L1747.7 619.9L1757.1 649L1735.6 649ZM1810.4 619.9L1837.5 619.9L1849.8 649L1821.8 649ZM1061.2 649L1089.2 649L1082.4 679.3L1053.9 679.3ZM1110.8 649L1132.3 649L1126.3 679.3L1104.4 679.3ZM1132.3 649L1153.9 649L1148.2 679.3L1126.3 679.3ZM1261.6 649L1283.1 649L1279.9 679.3L1258 679.3ZM1283.1 649L1304.7 649L1301.9 679.3L1279.9 679.3ZM1584.8 649L1606.3 649L1609.1 679.3L1587.2 679.3ZM1649.4 649L1670.9 649L1675 679.3L1653 679.3ZM1735.6 649L1757.1 649L1762.8 679.3L1740.8 679.3ZM1757.1 649L1778.7 649L1784.7 679.3L1762.8 679.3ZM1778.7 649L1800.2 649L1806.6 679.3L1784.7 679.3ZM1053.9 679.3L1082.4 679.3L1080.1 710.2L1051.4 710.2ZM1126.3 679.3L1148.2 679.3L1146.4 710.2L1124.3 710.2ZM1170.2 679.3L1192.1 679.3L1190.5 710.2L1168.5 710.2ZM1323.8 679.3L1345.8 679.3L1345.1 710.2L1323 710.2ZM1411.6 679.3L1433.6 679.3L1433.4 710.2L1411.3 710.2ZM1499.4 679.3L1521.3 679.3L1521.7 710.2L1499.7 710.2ZM1543.3 679.3L1565.2 679.3L1565.9 710.2L1543.8 710.2ZM1587.2 679.3L1609.1 679.3L1610.1 710.2L1588 710.2ZM1609.1 679.3L1631.1 679.3L1632.1 710.2L1610.1 710.2ZM1631.1 679.3L1653 679.3L1654.2 710.2L1632.1 710.2ZM1696.9 679.3L1718.9 679.3L1720.5 710.2L1698.4 710.2ZM1718.9 679.3L1740.8 679.3L1742.5 710.2L1720.5 710.2ZM1740.8 679.3L1762.8 679.3L1764.6 710.2L1742.5 710.2ZM1762.8 679.3L1784.7 679.3L1786.7 710.2L1764.6 710.2ZM1300.9 710.2L1323 710.2L1323.8 741.1L1301.9 741.1ZM1477.6 710.2L1499.7 710.2L1499.4 741.1L1477.4 741.1ZM1543.8 710.2L1565.9 710.2L1565.2 741.1L1543.3 741.1ZM1632.1 710.2L1654.2 710.2L1653 741.1L1631.1 741.1ZM1720.5 710.2L1742.5 710.2L1740.8 741.1L1718.9 741.1ZM1830.9 710.2L1859.6 710.2L1857.1 741.1L1828.6 741.1ZM1053.9 741.1L1082.4 741.1L1089.2 771.4L1061.2 771.4ZM1082.4 741.1L1104.4 741.1L1110.8 771.4L1089.2 771.4ZM1104.4 741.1L1126.3 741.1L1132.3 771.4L1110.8 771.4ZM1126.3 741.1L1148.2 741.1L1153.9 771.4L1132.3 771.4ZM1279.9 741.1L1301.9 741.1L1304.7 771.4L1283.1 771.4ZM1411.6 741.1L1433.6 741.1L1434 771.4L1412.4 771.4ZM1433.6 741.1L1455.5 741.1L1455.5 771.4L1434 771.4ZM1477.4 741.1L1499.4 741.1L1498.6 771.4L1477 771.4ZM1565.2 741.1L1587.2 741.1L1584.8 771.4L1563.2 771.4ZM1631.1 741.1L1653 741.1L1649.4 771.4L1627.9 771.4ZM1784.7 741.1L1806.6 741.1L1800.2 771.4L1778.7 771.4ZM1061.2 771.4L1089.2 771.4L1100.6 800.5L1073.5 800.5ZM1089.2 771.4L1110.8 771.4L1121.5 800.5L1100.6 800.5ZM1283.1 771.4L1304.7 771.4L1309.4 800.5L1288.5 800.5ZM1670.9 771.4L1692.5 771.4L1685.1 800.5L1664.2 800.5ZM1735.6 771.4L1757.1 771.4L1747.7 800.5L1726.9 800.5ZM1778.7 771.4L1800.2 771.4L1789.5 800.5L1768.6 800.5ZM1225.9 800.5L1246.8 800.5L1256.1 827.9L1236.2 827.9ZM1351.1 800.5L1372 800.5L1375.8 827.9L1355.8 827.9ZM1372 800.5L1392.9 800.5L1395.7 827.9L1375.8 827.9ZM1706 800.5L1726.9 800.5L1714.7 827.9L1694.7 827.9ZM1634.9 827.9L1654.9 827.9L1642.8 852.8L1624.1 852.8ZM1734.6 827.9L1754.6 827.9L1736.4 852.8L1717.7 852.8ZM1680.2 852.8L1699 852.8L1679.7 874.5L1662.5 874.5ZM1699 852.8L1717.7 852.8L1697 874.5L1679.7 874.5Z"/>
<path fill="#dae9f2" stroke="#dae9f2" stroke-width="0.7" d="M1388.4 516.2L1401.8 516.2L1393.5 528.3L1378.1 528.3ZM1401.8 516.2L1415.2 516.2L1409 528.3L1393.5 528.3ZM1415.2 516.2L1428.6 516.2L1424.5 528.3L1409 528.3ZM1428.6 516.2L1442.1 516.2L1440 528.3L1424.5 528.3ZM1300.6 528.3L1316.1 528.3L1300.3 545.9L1283 545.9ZM1316.1 528.3L1331.6 528.3L1317.5 545.9L1300.3 545.9ZM1331.6 528.3L1347.1 528.3L1334.8 545.9L1317.5 545.9ZM1748.7 545.9L1771.2 545.9L1798.2 567.6L1773.9 567.6ZM1112.8 567.6L1137.1 567.6L1116.6 592.5L1090.7 592.5ZM1343.1 567.6L1361.9 567.6L1355.8 592.5L1335.9 592.5ZM1361.9 567.6L1380.6 567.6L1375.8 592.5L1355.8 592.5ZM1418 567.6L1436.8 567.6L1435.6 592.5L1415.6 592.5ZM1436.8 567.6L1455.5 567.6L1455.5 592.5L1435.6 592.5ZM1717.7 567.6L1736.4 567.6L1754.6 592.5L1734.6 592.5ZM1196.3 592.5L1216.3 592.5L1205 619.9L1184.1 619.9ZM1100.6 619.9L1121.5 619.9L1110.8 649L1089.2 649ZM1747.7 619.9L1768.6 619.9L1778.7 649L1757.1 649ZM1089.2 649L1110.8 649L1104.4 679.3L1082.4 679.3ZM1304.7 649L1326.2 649L1323.8 679.3L1301.9 679.3ZM1606.3 649L1627.9 649L1631.1 679.3L1609.1 679.3ZM1670.9 649L1692.5 649L1696.9 679.3L1675 679.3ZM1800.2 649L1821.8 649L1828.6 679.3L1806.6 679.3ZM1821.8 649L1849.8 649L1857.1 679.3L1828.6 679.3ZM1389.7 679.3L1411.6 679.3L1411.3 710.2L1389.3 710.2ZM1477.4 679.3L1499.4 679.3L1499.7 710.2L1477.6 710.2ZM1521.3 679.3L1543.3 679.3L1543.8 710.2L1521.7 710.2ZM1675 679.3L1696.9 679.3L1698.4 710.2L1676.3 710.2ZM1784.7 679.3L1806.6 679.3L1808.8 710.2L1786.7 710.2ZM1146.4 710.2L1168.5 710.2L1170.2 741.1L1148.2 741.1ZM1168.5 710.2L1190.5 710.2L1192.1 741.1L1170.2 741.1ZM1256.8 710.2L1278.9 710.2L1279.9 741.1L1258 741.1ZM1278.9 710.2L1300.9 710.2L1301.9 741.1L1279.9 741.1ZM1323 710.2L1345.1 710.2L1345.8 741.1L1323.8 741.1ZM1367.2 710.2L1389.3 710.2L1389.7 741.1L1367.7 741.1ZM1499.7 710.2L1521.7 710.2L1521.3 741.1L1499.4 741.1ZM1588 710.2L1610.1 710.2L1609.1 741.1L1587.2 741.1ZM1654.2 710.2L1676.3 710.2L1675 741.1L1653 741.1ZM1676.3 710.2L1698.4 710.2L1696.9 741.1L1675 741.1ZM1698.4 710.2L1720.5 710.2L1718.9 741.1L1696.9 741.1ZM1148.2 741.1L1170.2 741.1L1175.4 771.4L1153.9 771.4ZM1192.1 741.1L1214.1 741.1L1218.5 771.4L1197 771.4ZM1214.1 741.1L1236 741.1L1240.1 771.4L1218.5 771.4ZM1236 741.1L1258 741.1L1261.6 771.4L1240.1 771.4ZM1301.9 741.1L1323.8 741.1L1326.2 771.4L1304.7 771.4ZM1323.8 741.1L1345.8 741.1L1347.8 771.4L1326.2 771.4ZM1345.8 741.1L1367.7 741.1L1369.3 771.4L1347.8 771.4ZM1455.5 741.1L1477.4 741.1L1477 771.4L1455.5 771.4ZM1521.3 741.1L1543.3 741.1L1541.7 771.4L1520.1 771.4ZM1587.2 741.1L1609.1 741.1L1606.3 771.4L1584.8 771.4ZM1675 741.1L1696.9 741.1L1692.5 771.4L1670.9 771.4ZM1696.9 741.1L1718.9 741.1L1714 771.4L1692.5 771.4ZM1718.9 741.1L1740.8 741.1L1735.6 771.4L1714 771.4ZM1806.6 741.1L1828.6 741.1L1821.8 771.4L1800.2 771.4ZM1828.6 741.1L1857.1 741.1L1849.8 771.4L1821.8 771.4ZM1132.3 771.4L1153.9 771.4L1163.3 800.5L1142.4 800.5ZM1175.4 771.4L1197 771.4L1205 800.5L1184.1 800.5ZM1197 771.4L1218.5 771.4L1225.9 800.5L1205 800.5ZM1261.6 771.4L1283.1 771.4L1288.5 800.5L1267.6 800.5ZM1304.7 771.4L1326.2 771.4L1330.3 800.5L1309.4 800.5ZM1326.2 771.4L1347.8 771.4L1351.1 800.5L1330.3 800.5ZM1347.8 771.4L1369.3 771.4L1372 800.5L1351.1 800.5ZM1369.3 771.4L1390.9 771.4L1392.9 800.5L1372 800.5ZM1584.8 771.4L1606.3 771.4L1601.6 800.5L1580.7 800.5ZM1606.3 771.4L1627.9 771.4L1622.5 800.5L1601.6 800.5ZM1627.9 771.4L1649.4 771.4L1643.4 800.5L1622.5 800.5ZM1649.4 771.4L1670.9 771.4L1664.2 800.5L1643.4 800.5ZM1692.5 771.4L1714 771.4L1706 800.5L1685.1 800.5ZM1714 771.4L1735.6 771.4L1726.9 800.5L1706 800.5ZM1757.1 771.4L1778.7 771.4L1768.6 800.5L1747.7 800.5ZM1821.8 771.4L1849.8 771.4L1837.5 800.5L1810.4 800.5ZM1392.9 800.5L1413.8 800.5L1415.6 827.9L1395.7 827.9ZM1601.6 800.5L1622.5 800.5L1615 827.9L1595.1 827.9ZM1622.5 800.5L1643.4 800.5L1634.9 827.9L1615 827.9ZM1685.1 800.5L1706 800.5L1694.7 827.9L1674.8 827.9ZM1455.5 827.9L1475.4 827.9L1474.2 852.8L1455.5 852.8ZM1615 827.9L1634.9 827.9L1624.1 852.8L1605.3 852.8ZM1654.9 827.9L1674.8 827.9L1661.5 852.8L1642.8 852.8Z"/>
<path fill="#2065ab" stroke="#2065ab" stroke-width="0.7" d="M1576.4 516.2L1589.8 516.2L1610.4 528.3L1594.9 528.3ZM1589.8 516.2L1603.2 516.2L1625.9 528.3L1610.4 528.3ZM1579.4 528.3L1594.9 528.3L1610.7 545.9L1593.5 545.9ZM1610.7 545.9L1628 545.9L1642.8 567.6L1624.1 567.6ZM1362.6 892.1L1378.1 892.1L1388.4 904.2L1374.9 904.2ZM1486.5 892.1L1502 892.1L1495.8 904.2L1482.4 904.2ZM1495.8 904.2L1509.2 904.2L1499.7 910.9L1488.6 910.9Z"/>
<path fill="#2a71b2" stroke="#2a71b2" stroke-width="0.7" d="M1603.2 516.2L1616.7 516.2L1641.4 528.3L1625.9 528.3ZM1616.7 516.2L1630.1 516.2L1656.8 528.3L1641.4 528.3ZM1593.5 545.9L1610.7 545.9L1624.1 567.6L1605.3 567.6ZM1628 545.9L1645.2 545.9L1661.5 567.6L1642.8 567.6ZM1403.8 874.5L1421 874.5L1424.5 892.1L1409 892.1ZM1421 874.5L1438.3 874.5L1440 892.1L1424.5 892.1ZM1438.3 874.5L1455.5 874.5L1455.5 892.1L1440 892.1ZM1455.5 874.5L1472.7 874.5L1471 892.1L1455.5 892.1ZM1502 892.1L1517.5 892.1L1509.2 904.2L1495.8 904.2ZM1517.5 892.1L1532.9 892.1L1522.6 904.2L1509.2 904.2ZM1532.9 892.1L1548.4 892.1L1536.1 904.2L1522.6 904.2ZM1548.4 892.1L1563.9 892.1L1549.5 904.2L1536.1 904.2ZM1509.2 904.2L1522.6 904.2L1510.7 910.9L1499.7 910.9ZM1522.6 904.2L1536.1 904.2L1521.7 910.9L1510.7 910.9ZM1536.1 904.2L1549.5 904.2L1532.8 910.9L1521.7 910.9ZM1549.5 904.2L1562.9 904.2L1543.8 910.9L1532.8 910.9ZM1562.9 904.2L1576.4 904.2L1554.9 910.9L1543.8 910.9ZM1576.4 904.2L1589.8 904.2L1565.9 910.9L1554.9 910.9ZM1589.8 904.2L1603.2 904.2L1576.9 910.9L1565.9 910.9ZM1603.2 904.2L1616.7 904.2L1588 910.9L1576.9 910.9ZM1616.7 904.2L1630.1 904.2L1599 910.9L1588 910.9ZM1630.1 904.2L1643.5 904.2L1610.1 910.9L1599 910.9ZM1643.5 904.2L1656.9 904.2L1621.1 910.9L1610.1 910.9ZM1656.9 904.2L1670.4 904.2L1632.1 910.9L1621.1 910.9ZM1670.4 904.2L1683.8 904.2L1643.2 910.9L1632.1 910.9ZM1683.8 904.2L1701.3 904.2L1657.5 910.9L1643.2 910.9Z"/>
<path fill="#3a87bd" stroke="#3a87bd" stroke-width="0.7" d="M1656.9 516.2L1670.4 516.2L1703.3 528.3L1687.8 528.3ZM1563.9 528.3L1579.4 528.3L1593.5 545.9L1576.2 545.9ZM1116.6 827.9L1136.5 827.9L1155.8 852.8L1137.1 852.8ZM1315.9 827.9L1335.9 827.9L1343.1 852.8L1324.4 852.8ZM1335.9 827.9L1355.8 827.9L1361.9 852.8L1343.1 852.8ZM1174.6 852.8L1193.3 852.8L1214 874.5L1196.8 874.5ZM1193.3 852.8L1212 852.8L1231.3 874.5L1214 874.5ZM1268.2 852.8L1286.9 852.8L1300.3 874.5L1283 874.5ZM1324.4 852.8L1343.1 852.8L1352 874.5L1334.8 874.5ZM1755.2 852.8L1773.9 852.8L1748.7 874.5L1731.5 874.5ZM1334.8 874.5L1352 874.5L1362.6 892.1L1347.1 892.1ZM1490 874.5L1507.2 874.5L1502 892.1L1486.5 892.1ZM1748.7 874.5L1771.2 874.5L1738.9 892.1L1718.8 892.1ZM1331.6 892.1L1347.1 892.1L1361.5 904.2L1348.1 904.2ZM1579.4 892.1L1594.9 892.1L1576.4 904.2L1562.9 904.2ZM1209.7 904.2L1227.2 904.2L1267.8 910.9L1253.5 910.9ZM1227.2 904.2L1240.6 904.2L1278.9 910.9L1267.8 910.9ZM1240.6 904.2L1254.1 904.2L1289.9 910.9L1278.9 910.9ZM1254.1 904.2L1267.5 904.2L1300.9 910.9L1289.9 910.9ZM1267.5 904.2L1280.9 904.2L1312 910.9L1300.9 910.9ZM1280.9 904.2L1294.3 904.2L1323 910.9L1312 910.9ZM1294.3 904.2L1307.8 904.2L1334.1 910.9L1323 910.9ZM1307.8 904.2L1321.2 904.2L1345.1 910.9L1334.1 910.9ZM1321.2 904.2L1334.6 904.2L1356.1 910.9L1345.1 910.9ZM1334.6 904.2L1348.1 904.2L1367.2 910.9L1356.1 910.9Z"/>
<path fill="#edf2f5" stroke="#edf2f5" stroke-width="0.7" d="M1347.1 528.3L1362.6 528.3L1352 545.9L1334.8 545.9ZM1317.5 545.9L1334.8 545.9L1324.4 567.6L1305.7 567.6ZM1082.4 679.3L1104.4 679.3L1102.2 710.2L1080.1 710.2ZM1808.8 710.2L1830.9 710.2L1828.6 741.1L1806.6 741.1ZM1110.8 771.4L1132.3 771.4L1142.4 800.5L1121.5 800.5ZM1153.9 771.4L1175.4 771.4L1184.1 800.5L1163.3 800.5ZM1390.9 771.4L1412.4 771.4L1413.8 800.5L1392.9 800.5ZM1455.5 771.4L1477 771.4L1476.4 800.5L1455.5 800.5ZM1520.1 771.4L1541.7 771.4L1539 800.5L1518.1 800.5ZM1497.2 800.5L1518.1 800.5L1515.3 827.9L1495.4 827.9ZM1559.9 800.5L1580.7 800.5L1575.1 827.9L1555.2 827.9ZM1555.2 827.9L1575.1 827.9L1567.9 852.8L1549.1 852.8ZM1575.1 827.9L1595.1 827.9L1586.6 852.8L1567.9 852.8ZM1674.8 827.9L1694.7 827.9L1680.2 852.8L1661.5 852.8Z"/>
<path fill="#fce2d2" stroke="#fce2d2" stroke-width="0.7" d="M1362.6 528.3L1378.1 528.3L1369.3 545.9L1352 545.9ZM1378.1 528.3L1393.5 528.3L1386.5 545.9L1369.3 545.9ZM1455.5 528.3L1471 528.3L1472.7 545.9L1455.5 545.9ZM1471 528.3L1486.5 528.3L1490 545.9L1472.7 545.9ZM1455.5 545.9L1472.7 545.9L1474.2 567.6L1455.5 567.6Z"/>
<path fill="#fbccb4" stroke="#fbccb4" stroke-width="0.7" d="M1393.5 528.3L1409 528.3L1403.8 545.9L1386.5 545.9ZM1440 528.3L1455.5 528.3L1455.5 545.9L1438.3 545.9ZM1386.5 545.9L1403.8 545.9L1399.3 567.6L1380.6 567.6ZM1421 545.9L1438.3 545.9L1436.8 567.6L1418 567.6Z"/>
<path fill="#f6b394" stroke="#f6b394" stroke-width="0.7" d="M1409 528.3L1424.5 528.3L1421 545.9L1403.8 545.9Z"/>
<path fill="#f8bfa4" stroke="#f8bfa4" stroke-width="0.7" d="M1424.5 528.3L1440 528.3L1438.3 545.9L1421 545.9ZM1403.8 545.9L1421 545.9L1418 567.6L1399.3 567.6Z"/>
<path fill="#f9f0eb" stroke="#f9f0eb" stroke-width="0.7" d="M1486.5 528.3L1502 528.3L1507.2 545.9L1490 545.9ZM1352 545.9L1369.3 545.9L1361.9 567.6L1343.1 567.6ZM1499.4 741.1L1521.3 741.1L1520.1 771.4L1498.6 771.4ZM1539 800.5L1559.9 800.5L1555.2 827.9L1535.2 827.9ZM1595.1 827.9L1615 827.9L1605.3 852.8L1586.6 852.8Z"/>
<path fill="#e4eef4" stroke="#e4eef4" stroke-width="0.7" d="M1502 528.3L1517.5 528.3L1524.5 545.9L1507.2 545.9ZM1248.5 545.9L1265.8 545.9L1249.5 567.6L1230.8 567.6ZM1265.8 545.9L1283 545.9L1268.2 567.6L1249.5 567.6ZM1283 545.9L1300.3 545.9L1286.9 567.6L1268.2 567.6ZM1300.3 545.9L1317.5 545.9L1305.7 567.6L1286.9 567.6ZM1472.7 545.9L1490 545.9L1493 567.6L1474.2 567.6ZM1380.6 567.6L1399.3 567.6L1395.7 592.5L1375.8 592.5ZM1736.4 567.6L1755.2 567.6L1774.5 592.5L1754.6 592.5ZM1755.2 567.6L1773.9 567.6L1794.4 592.5L1774.5 592.5ZM1773.9 567.6L1798.2 567.6L1820.3 592.5L1794.4 592.5ZM1121.5 619.9L1142.4 619.9L1132.3 649L1110.8 649ZM1768.6 619.9L1789.5 619.9L1800.2 649L1778.7 649ZM1326.2 649L1347.8 649L1345.8 679.3L1323.8 679.3ZM1455.5 649L1477 649L1477.4 679.3L1455.5 679.3ZM1806.6 679.3L1828.6 679.3L1830.9 710.2L1808.8 710.2ZM1828.6 679.3L1857.1 679.3L1859.6 710.2L1830.9 710.2ZM1051.4 710.2L1080.1 710.2L1082.4 741.1L1053.9 741.1ZM1102.2 710.2L1124.3 710.2L1126.3 741.1L1104.4 741.1ZM1345.1 710.2L1367.2 710.2L1367.7 741.1L1345.8 741.1ZM1170.2 741.1L1192.1 741.1L1197 771.4L1175.4 771.4ZM1543.3 741.1L1565.2 741.1L1563.2 771.4L1541.7 771.4ZM1218.5 771.4L1240.1 771.4L1246.8 800.5L1225.9 800.5ZM1240.1 771.4L1261.6 771.4L1267.6 800.5L1246.8 800.5ZM1412.4 771.4L1434 771.4L1434.6 800.5L1413.8 800.5ZM1498.6 771.4L1520.1 771.4L1518.1 800.5L1497.2 800.5ZM1541.7 771.4L1563.2 771.4L1559.9 800.5L1539 800.5ZM1563.2 771.4L1584.8 771.4L1580.7 800.5L1559.9 800.5ZM1413.8 800.5L1434.6 800.5L1435.6 827.9L1415.6 827.9ZM1434.6 800.5L1455.5 800.5L1455.5 827.9L1435.6 827.9ZM1455.5 800.5L1476.4 800.5L1475.4 827.9L1455.5 827.9ZM1476.4 800.5L1497.2 800.5L1495.4 827.9L1475.4 827.9ZM1518.1 800.5L1539 800.5L1535.2 827.9L1515.3 827.9ZM1580.7 800.5L1601.6 800.5L1595.1 827.9L1575.1 827.9ZM1643.4 800.5L1664.2 800.5L1654.9 827.9L1634.9 827.9ZM1664.2 800.5L1685.1 800.5L1674.8 827.9L1654.9 827.9ZM1495.4 827.9L1515.3 827.9L1511.7 852.8L1493 852.8ZM1515.3 827.9L1535.2 827.9L1530.4 852.8L1511.7 852.8ZM1535.2 827.9L1555.2 827.9L1549.1 852.8L1530.4 852.8ZM1694.7 827.9L1714.7 827.9L1699 852.8L1680.2 852.8ZM1714.7 827.9L1734.6 827.9L1717.7 852.8L1699 852.8Z"/>
<path fill="#124984" stroke="#124984" stroke-width="0.7" d="M1594.9 528.3L1610.4 528.3L1628 545.9L1610.7 545.9ZM1455.5 892.1L1471 892.1L1468.9 904.2L1455.5 904.2ZM1348.1 904.2L1361.5 904.2L1378.2 910.9L1367.2 910.9ZM1361.5 904.2L1374.9 904.2L1389.3 910.9L1378.2 910.9ZM1374.9 904.2L1388.4 904.2L1400.3 910.9L1389.3 910.9ZM1388.4 904.2L1401.8 904.2L1411.3 910.9L1400.3 910.9ZM1401.8 904.2L1415.2 904.2L1422.4 910.9L1411.3 910.9ZM1415.2 904.2L1428.6 904.2L1433.4 910.9L1422.4 910.9ZM1428.6 904.2L1442.1 904.2L1444.5 910.9L1433.4 910.9ZM1442.1 904.2L1455.5 904.2L1455.5 910.9L1444.5 910.9ZM1468.9 904.2L1482.4 904.2L1477.6 910.9L1466.5 910.9ZM1482.4 904.2L1495.8 904.2L1488.6 910.9L1477.6 910.9Z"/>
<path fill="#053061" stroke="#053061" stroke-width="0.7" d="M1610.4 528.3L1625.9 528.3L1645.2 545.9L1628 545.9ZM1625.9 528.3L1641.4 528.3L1662.5 545.9L1645.2 545.9ZM1455.5 904.2L1468.9 904.2L1466.5 910.9L1455.5 910.9Z"/>
<path fill="#1a5899" stroke="#1a5899" stroke-width="0.7" d="M1641.4 528.3L1656.8 528.3L1679.7 545.9L1662.5 545.9ZM1378.1 892.1L1393.5 892.1L1401.8 904.2L1388.4 904.2ZM1393.5 892.1L1409 892.1L1415.2 904.2L1401.8 904.2ZM1409 892.1L1424.5 892.1L1428.6 904.2L1415.2 904.2ZM1424.5 892.1L1440 892.1L1442.1 904.2L1428.6 904.2ZM1440 892.1L1455.5 892.1L1455.5 904.2L1442.1 904.2ZM1471 892.1L1486.5 892.1L1482.4 904.2L1468.9 904.2Z"/>
<path fill="#f7f6f6" stroke="#f7f6f6" stroke-width="0.7" d="M1334.8 545.9L1352 545.9L1343.1 567.6L1324.4 567.6ZM1399.3 567.6L1418 567.6L1415.6 592.5L1395.7 592.5ZM1653 679.3L1675 679.3L1676.3 710.2L1654.2 710.2ZM1434 771.4L1455.5 771.4L1455.5 800.5L1434.6 800.5ZM1477 771.4L1498.6 771.4L1497.2 800.5L1476.4 800.5ZM1475.4 827.9L1495.4 827.9L1493 852.8L1474.2 852.8Z"/>
<path fill="#fae9df" stroke="#fae9df" stroke-width="0.7" d="M1369.3 545.9L1386.5 545.9L1380.6 567.6L1361.9 567.6Z"/>
<path fill="#fddbc7" stroke="#fddbc7" stroke-width="0.7" d="M1438.3 545.9L1455.5 545.9L1455.5 567.6L1436.8 567.6Z"/>
<path fill="url(#hxR)" fill-rule="evenodd" d="M1608.2 536.5L1608 533.2L1624.1 533.2L1630.9 536.5L1653.9 545.9L1677.1 552.1L1684.3 556.3L1707.3 579.7L1704.7 592.5L1694.5 605.9L1692.6 611.3L1686.6 605.9L1664.8 592.5L1644.9 592.5L1633.2 605.9L1630.7 611.3L1625.3 605.9L1605 592.5L1585.1 592.5L1565.2 592.5L1545.2 592.5L1531 605.9L1534 634.3L1535.9 664.1L1532 670L1527.5 664.1L1509.4 649L1487.8 649L1466.3 649L1455.5 634.3L1465.9 619.9L1482.2 605.9L1485.9 600.7L1505.3 592.5L1513.6 579.7L1521.1 567.6L1539.8 567.6L1558.5 567.6L1569.2 556.3L1570.8 552.1L1584.9 545.9L1602.1 545.9L1608.2 536.5ZM1200.6 634.3L1215.4 619.9L1236.3 619.9L1243.1 634.3L1237.7 664.1L1225.1 679.3L1204.2 670L1200.8 664.1L1200.6 634.3ZM1368.4 664.1L1380.1 649L1401.3 658.2L1405.3 664.1L1400.9 670L1378.7 679.3L1368.4 664.1ZM1440.4 664.1L1444.7 658.2L1448.8 664.1L1444.6 670L1440.4 664.1ZM1801.9 786.1L1808.1 780.4L1810.1 786.1L1820.8 800.5L1813.2 814.5L1794.4 840.7L1783.3 852.8L1771.1 845.5L1771.3 840.7L1788.8 814.5L1801.9 786.1ZM1097.8 814.5L1090.2 800.5L1111.1 800.5L1131.9 800.5L1156.6 809.1L1163.1 814.5L1186.4 827.9L1196.1 814.5L1197.8 809.1L1204 814.5L1223.1 840.7L1221.4 852.8L1202.7 852.8L1183.9 852.8L1179.6 864.1L1180.7 868.3L1162.9 868.3L1145.2 868.3L1140.1 864.1L1116.6 840.7L1097.8 814.5ZM1257.4 814.5L1259.6 809.1L1278.1 800.5L1298.9 800.5L1319.8 800.5L1340.7 800.5L1362.7 809.1L1367.5 814.5L1385.7 827.9L1397.4 840.7L1401.4 864.1L1412.4 874.5L1429.6 874.5L1447.1 880.4L1450.5 883.9L1447.5 887.2L1436.6 898.9L1434.4 901.2L1420.3 901.2L1406.2 901.2L1392.1 901.2L1387.5 898.9L1370.3 892.1L1357.1 883.9L1343.4 874.5L1326.1 874.5L1308.9 874.5L1293.3 864.1L1277.6 852.8L1261.8 840.7L1257.4 814.5Z"/>
<path fill="none" stroke="#000" stroke-width="1.9" stroke-linejoin="round" stroke-linecap="round" d="M1181.7 535.5L1193.1 531L1200 529.8L1205.5 527.9L1217 526.4L1222.4 527.1L1227.4 527.7L1234.3 528.2L1236.1 528.9L1240.7 529.8L1245.1 529.1L1248.3 529.1L1255.7 528.3L1258.5 527.6L1260.7 529.1L1264.5 528.6L1268.3 529.2L1271.9 530L1273.1 531.4L1275.1 531.1L1280.8 531.6L1283.8 531.8L1285.4 530.5L1289.9 530.6L1293.3 531.8L1299.7 531.8L1303.6 531.1L1306.7 529.1L1306.8 528.3L1312.8 525.4L1313.9 527.6L1313.7 529.1L1316 529.8L1315.9 531.4L1318.3 532.3L1322.2 529.8L1323.5 528.6L1328 528.8L1327.8 530.6L1324.7 532.3L1324 533.9L1319.6 534.3L1316 534.8L1312 537.4L1309.6 538.3L1306 538.7L1302.8 540.5L1298.2 542L1293.3 544.9L1290.3 548.3L1293.2 548.5L1291.6 552L1296 552L1298.9 553.1L1302.7 555.6L1307.1 555.8L1305.3 560.7L1306 563L1307 564.8L1309.2 564.1L1310.8 561.8L1312 558.5L1311.9 556.9L1317.9 554.1L1320.5 551L1320.6 547.9L1321.6 544.9L1325 541.1L1329 541.4L1332 542L1333.3 543.9L1336.8 543.9L1334.5 547.9L1336.6 548.9L1340.6 547.9L1344.1 545.1L1344.1 547.9L1346.1 551L1346.5 554.1L1348.3 556.3L1351.4 557.4L1352.9 560.7L1352.7 563L1349.9 564.1L1345.4 566.4L1343.3 567.1L1339.6 566.9L1333.9 567.1L1329.6 568.8L1324.9 571.1L1319.7 575L1324.3 572.8L1329.1 570L1333.8 570L1333 572.3L1330.7 573.6L1330.8 576L1332.3 577.2L1336 577.7L1337.7 578.5L1337.5 579.2L1333.3 580.5L1329.8 582.2L1326.5 583.5L1327.3 581L1330.8 579L1325.7 579.7L1322.3 581.5L1318.9 583L1316.5 586L1317.3 587.8L1314 588.9L1308.4 590.9L1307.2 593.8L1304.2 596.5L1302.3 599.7L1301 600.5L1300.9 603.2L1301.2 605.1L1298.2 607L1295.3 609L1291.6 611.5L1287.6 614.8L1285.9 618.5L1286.4 624.7L1286.4 629.9L1284.8 633.7L1283.2 633.4L1282.4 630.8L1281.5 626.2L1282 622.7L1280.2 619.9L1277.2 620.7L1275.2 618.8L1272 619L1268.8 619.3L1268.5 622.2L1266 622.2L1263.2 621L1258.9 621.3L1256 622.7L1251.4 626.2L1249.5 631.4L1247.3 637.2L1246.1 642.2L1246.5 647L1248.3 651.4L1250.6 654.4L1255.5 653.2L1259 652L1260.9 647L1262.2 645.5L1266.7 644.3L1269.1 645.2L1266.8 650.5L1265 655L1262.5 661L1263.7 661.7L1268.5 661.4L1272.8 661.7L1274.3 664.1L1273 670.2L1272 676.3L1273.3 679.3L1275.3 682.4L1277.5 683L1280.7 680.9L1284.2 681.5L1285.6 683.6L1286.6 685.5L1289.9 677.5L1292.2 676.3L1295.6 674.7L1299.1 672L1299.2 676.3L1298.1 676.9L1302.3 672.6L1302.2 674.7L1305.7 677.2L1310.8 677.5L1314 678.7L1317.4 677.2L1319.6 677.2L1319.8 679.9L1321.9 682.4L1323.6 683.9L1326.7 687.6L1329.9 691.6L1334.3 691.6L1337.6 692.9L1340.8 695.7L1343 697.8L1345.1 704.6L1345.1 708.7L1348.4 711.7L1350.6 712.4L1356.2 714.8L1358.4 718.6L1362.8 718.9L1367.2 719.2L1370.6 722L1373.9 725.4L1377.7 726.3L1378.7 731.8L1378.6 738L1375.4 742.6L1373.4 747.2L1370.9 750.2L1370.6 756.3L1371 763.9L1369.9 769.9L1367.9 775.8L1366.1 779.7L1362.5 780.3L1359.5 782.3L1356.5 783.8L1353.6 787L1352.8 790.5L1353.2 795.7L1351.1 800.5L1348.8 805.6L1347.2 808.9L1345.4 812.5L1343 813.9L1339.9 813.9L1335.9 812.3L1338.7 815.8L1339.8 818.5L1339.3 822.6L1335.2 825L1331.2 825.2L1331.8 830L1327 830.5L1327.6 833.9L1330.1 834.6L1328.1 836.9L1328.6 840.7L1325.7 842.4L1326.2 844.9L1329.7 846.8L1330.3 848.5L1328.3 851.6L1327 854.7L1329.4 858.1L1327.5 858.1L1325.5 859.7L1326.5 861.5L1322.3 860.8L1319.5 858.6L1316 855.1L1313.5 850.4L1311.6 846.8L1312.1 843.2L1312.7 839.4L1312 834.4L1309.6 831.8L1308.6 826.6L1307.1 821.2L1307.4 817.2L1308 810.3L1306.8 803.3L1305.9 797.7L1306.1 791.9L1305.7 786.1L1305.3 780.3L1304.9 774.3L1303.5 766.6L1300.5 763.3L1295.8 760.3L1291.1 756.3L1289 752.7L1286.6 747.5L1283.7 741.1L1281.1 734.9L1279.4 731.2L1276.6 728.8L1276.2 724.1L1278.3 720.7L1278.9 717.9L1276.9 717L1277.8 713.3L1278.9 709.6L1278.9 707.1L1281.1 705.2L1282.2 702.2L1284.5 698.4L1285.1 693.2L1284.9 688.6L1283.6 684.6L1280.8 683L1278.5 684.9L1279.4 687.6L1276.2 686.4L1273 684.6L1271 680.9L1267.4 679.3L1267.4 676.3L1265.3 671.1L1263.7 669.5L1260.1 668.6L1255.9 667.1L1252.1 662.6L1250.2 660.4L1245.6 662L1241.5 660.1L1237.5 658L1234.7 655L1231.4 652.9L1228.6 649L1229.5 644.6L1228.1 639.3L1226.1 634.3L1224.2 629.9L1222.7 627L1220.6 623.3L1220.4 617.6L1217.7 615.1L1216.5 618.5L1217.7 622.7L1218.5 627L1219.8 631.4L1220.7 636.3L1221.6 639.6L1220 640.1L1217.4 635.2L1217.7 631.4L1215.1 627.9L1215.1 625.6L1214.1 619L1213.7 612.9L1212.4 608.7L1208.6 607.3L1208.3 601.9L1208.5 598.4L1208 593.8L1208.2 591.5L1210.8 587.3L1211.4 584.8L1215.4 579.7L1217.3 576.5L1219.3 571.6L1222.2 571.9L1221.7 574L1224.1 570L1223.4 568.8L1221.9 566.9L1219.4 565.3L1220.2 561.8L1220.2 558.5L1220.3 556.3L1220.6 553.1L1219.4 551L1218.5 548.9L1216.1 547.9L1214.4 546.3L1210.6 545.9L1207.6 545.5L1205.6 544.3L1201.4 544.9L1196.9 546.5L1192.5 547.3L1196.2 544.3L1199.7 543.5L1194.6 544.9L1189 547.3L1185.7 549.3L1178.2 552L1172.2 554.1L1165.8 555.8L1161 556.9L1167.7 554.1L1175.8 551L1180.6 548.5L1176.2 548.5L1172.4 548.7L1176.1 545.9L1173.1 544.9L1173.3 542.9L1178.3 540.7L1182.2 539.7L1188 538.7L1190 537.4L1186.7 537.4L1182 537.2L1181.7 535.5M1329.8 859L1330.9 860.8L1335.4 863.5L1337.7 863.5L1334.9 864.6L1331.4 864.8L1327.2 863.5L1324.7 861.9L1327.1 861.3L1328.2 858.8L1329.8 859M1342.5 856.3L1348 856.1L1347.7 857.9L1344 857.9L1342.5 856.3M1354.6 517.9L1363.4 516.6L1369.7 515.3L1377.6 514.6L1391.2 514.2L1404.8 513.7L1417.6 513.6L1427.2 514.2L1429.3 514.9L1439.8 514.9L1432.7 516.2L1430.5 518.1L1429.3 519.7L1426.5 521.5L1426.8 522.7L1422.7 524L1422.3 525.4L1418.3 526.1L1421.6 527.6L1419.1 528.3L1414.7 529.8L1411.2 531L1404.7 531.4L1400.6 533.9L1395.3 535.1L1389.9 536.5L1387.2 539.2L1383.6 542L1381.5 545.3L1378.7 546.1L1376.8 544.3L1372.8 543.5L1371.3 541.1L1370.1 538.3L1369.5 534.8L1370.6 531.4L1376 529.1L1371.9 528.3L1372.1 526.8L1372.2 524.7L1372.3 522.1L1371.3 520.9L1367.2 520L1359.8 520.3L1356.2 519.7L1356.3 518.6L1354.6 517.9M1416.3 535.6L1420 534.1L1423 535.1L1426.4 534.4L1429.7 534.1L1432 534.8L1433.4 536.5L1430.7 537.7L1425.5 539.2L1421.4 539L1418.2 538.5L1419.2 537.4L1416.1 536.7L1418.7 536.2L1416.3 535.6M1345.2 542.6L1341.3 540.7L1337.2 539.2L1335.1 537.4L1328.2 537.7L1327.5 536.5L1334.8 535.6L1337.6 533.1L1333.4 531.4L1332.4 529.1L1328.5 528.3L1322.8 527.9L1319.4 526.8L1321.4 524L1330 523.1L1335.6 523.4L1339 524.3L1342.2 525.4L1346.9 526.8L1350.2 528.3L1350.5 529.8L1353.4 532.3L1356.5 533.6L1352.7 535.6L1349.7 535.3L1346.8 534.8L1348.8 539.2L1345.2 542.6M1274.3 528.3L1279.9 529.8L1286 530L1295.6 529.8L1299.1 528.3L1294.9 526.8L1298.6 524.3L1291.6 524L1284.1 524L1278.5 524.7L1274.6 526.1L1274.3 528.3M1265.5 526.1L1271.1 526.4L1275.8 525.4L1283.3 523.6L1282.7 522.3L1273.2 522.7L1266.5 524.7L1265.5 526.1M1327.8 519.7L1335.8 519.2L1341.7 519.9L1347.9 518.6L1353.1 517.1L1362.3 515.8L1370.4 514.9L1375.7 514.2L1366.3 513.9L1353.5 513.9L1338.7 514.6L1334 515.3L1337.3 516.2L1338.1 517.1L1330.7 518.1L1327.8 519.7M1317.3 520.9L1321.4 522L1329.9 522.1L1339 521.8L1340.5 520.7L1334 520.3L1324.6 519.9L1317.3 520.9M1286.4 521.2L1295.1 522L1302.3 521.2L1304 520.3L1296.2 519.9L1288.3 520.3L1286.4 521.2M1301.5 525.4L1308.5 525.8L1316 524.7L1317.3 522.7L1308.5 522.7L1303.5 524L1301.5 525.4M1322.8 517.9L1334 517.8L1339.2 515.9L1332.7 515.3L1326.2 516.4L1322.8 517.9M1310.5 539.2L1315.1 539.7L1320.8 538.8L1322.7 537.4L1319.3 535.6L1315.5 535.3L1312 537.4L1310.5 539.2M1342.6 573.1L1348.4 575L1353.6 575.5L1355.1 573.3L1354.2 571.1L1354 568.8L1351.2 568.8L1352.1 564.1L1348.7 566L1345 570.4L1342.6 573.1M1216.6 565.7L1221.2 567.1L1221.6 571.4L1219.2 570.7L1217.3 568.1L1216.6 565.7M1213.8 558.5L1216 558.5L1214.3 561.8L1212.8 560.7L1213.8 558.5M1183.6 550.3L1187.5 550.3L1183.5 552L1183.6 550.3M1273.3 643.4L1278.1 640.1L1282.5 639.6L1287.5 641.6L1292.3 645.2L1295.7 648.4L1289.6 649.3L1288.4 647L1283.9 644L1279.9 642.2L1275.5 643.1L1273.3 643.4M1294.6 653.5L1298.2 649.3L1304.6 649.6L1307.6 653.2L1303 654.1L1300.2 655.9L1294.6 653.5M1286.2 653.8L1289 653.5L1290.6 655L1287.7 655.6L1286.2 653.8M1310.2 653.8L1313.4 654.1L1312.6 655L1310 655L1310.2 653.8M1320 677.2L1321.8 676.9L1321.6 679L1319.9 679L1320 677.2M1119.6 648.4L1121.4 649.6L1121 651.1L1119.2 652L1119.2 649.9L1119.6 648.4M1118.8 646.1L1120.1 646.7L1119.1 647.2L1118.8 646.1M1116.1 644.3L1116.9 645.2L1116 645.2L1116.1 644.3M1113.4 642.5L1114.1 643.1L1113.4 643.4L1113.4 642.5M1444.1 603.2L1442.7 601.6L1440.5 600L1437.5 600.5L1437.8 596.5L1436.4 595.7L1438 592L1438.3 587.8L1437.5 584.8L1439.9 583L1444.8 583.5L1448.7 583.7L1452 583.7L1453 581L1453.2 577.2L1451.3 574.3L1446.9 572.8L1446.6 571.1L1449.8 570.4L1452.5 570.9L1452.1 568.3L1453.6 569L1455.9 568.8L1458.3 567.1L1458.7 565.3L1462 564.3L1463.2 562.5L1464.3 560.7L1467.4 559.6L1470.1 559.1L1471.5 558.5L1470.8 555.2L1470 552L1472.8 551L1474.2 550.5L1473.8 553.1L1474.8 554.1L1473.1 555.6L1473.6 557.4L1475.5 558.5L1478.1 557.6L1480.5 558L1481.5 558.7L1485.4 557.4L1488.9 556.7L1490.8 557.6L1493.3 555.8L1492.8 552.4L1493.8 550.7L1496.3 552L1498.5 551.6L1498.1 549.3L1496.3 547.5L1498.8 546.9L1504 546.7L1507.2 545.9L1504.4 544.7L1500.2 545.1L1495.2 546.1L1492.3 544.5L1491.5 542L1491.4 539.7L1493.6 538.3L1496.5 536.5L1496.7 535.5L1493.7 535.1L1491.4 535.6L1490.6 537.4L1488 539.2L1485.8 541.1L1484.9 542.9L1485 544.5L1487.9 545.9L1487.6 547.3L1485.2 548.5L1484.6 551L1484 553.7L1481.4 554.1L1481 555.4L1478.9 555.4L1477.8 553.5L1475.7 549.9L1474.7 547.9L1473.7 546.9L1472.1 548.3L1469.5 549.7L1467.8 549.9L1465.5 548.5L1464.1 545.9L1464 542.9L1464.8 541.4L1467.2 540.1L1470.5 538.8L1472.8 537.4L1475.1 535.6L1476.5 533.9L1478.6 531.9L1479.9 530.6L1482.8 529.4L1485.7 528.3L1489.4 527.6L1493 526.8L1496.8 526.8L1500 527.1L1503.3 527.9L1502.1 528.6L1507 529.2L1511.8 529.5L1519 531.4L1521.8 533.1L1521.5 534.3L1517.9 534.6L1511.9 533.6L1508.6 533.6L1511.6 535.1L1512.9 537.4L1516.8 538.3L1517.5 536.5L1521.1 537.2L1521.6 535.6L1523.3 534.1L1526.7 534.4L1525.9 532.7L1524.6 530.6L1528.2 531L1530.1 533.1L1531.9 531.9L1534.8 531.4L1539.1 530.6L1540.9 531L1545.3 530.5L1549.6 529.8L1549.4 528.6L1555.5 529.4L1558.3 529.1L1560.8 530.2L1563.8 531L1563.7 529.8L1559.3 528.3L1557.6 526.4L1557.9 524.3L1559.8 524L1564 524.4L1566.1 526.1L1567 528.3L1570.6 531L1573.8 533.1L1571.9 534.3L1574.5 533.4L1574.5 531.4L1572.3 529.8L1568.9 527.6L1568 525L1571 525.4L1573 525.1L1576.6 525L1575.1 523.4L1581.9 522.7L1581.6 521.5L1584.9 520.7L1591.3 520.3L1597.1 519.6L1600.8 518.4L1604.1 518.8L1608.2 519.5L1614.1 519.6L1618.4 520.6L1616.1 522.1L1620.6 523L1630.2 523.4L1632.8 524L1637.1 523.1L1642.7 523.4L1649 524.7L1653.6 526.8L1656.4 527.1L1657.6 526.1L1664 526.3L1665.3 525L1666.2 524.3L1673 524.7L1682.9 525.8L1689.3 527.1L1695.6 526.8L1702.4 527.9L1705.3 528.9L1710.4 528.8L1715.7 528.3L1722.8 529.8L1719.6 528.3L1724.1 528.6L1729.1 528.8L1738.4 530.2M1172.6 530.2L1175.4 531.1L1177.9 533.1L1180.2 533.6L1180.4 534.6L1172.4 537L1169.6 537.7L1167.7 536L1163.5 535.6L1160.2 536.5M1750.8 536.5L1749.9 537.4L1747.6 537L1755.8 540.1L1757.5 541.4L1752.2 542.4L1750.2 543.9L1749.6 545.9L1742.5 545.1L1740.4 546.1L1738 546.3L1742.4 549.9L1740.6 550.3L1745.1 552.6L1748.4 556.3L1748.1 560.3L1746.2 561.1L1747.4 565.3L1742.3 561.8L1736.7 556.3L1731.1 552L1731.8 550.3L1730.2 544.9L1729.9 541.1L1726.7 542.4L1722.4 542.9L1724.1 546.9L1720.1 547.9L1713.7 546.9L1703.8 547.3L1702.1 550.5L1702.3 555.2L1702 557.8L1706.6 558.9L1709.9 558.5L1714.3 560.7L1716.7 565.3L1721.1 571.1L1721.2 576L1719.7 581L1718.2 584.8L1714 584.2L1712.8 586.5L1712.7 589.9L1710.7 592.5L1710.6 594.4L1716.4 599.2L1719.4 604.6L1717.2 606.2L1714.8 607.6L1712.9 603.2L1712.2 600.5L1708.3 597.8L1705.4 593.8L1703.3 592.5L1700 595.2L1699.3 595.7L1698.1 591.2L1695.7 590.4L1693.8 594.6L1691.6 595.2L1694.5 598.4L1698.9 599.2L1703.2 599.7L1701.1 601.9L1699.3 605.9L1703.5 610.1L1707.9 614.8L1709.5 618.5L1710.6 624.2L1709 629.3L1708.1 633.7L1706 637.8L1703.4 640.1L1700.1 642.2L1695.7 644L1692.3 645.2L1693 648.1L1690.9 644.6L1688.2 644L1685.4 646.1L1683.7 650.5L1686.3 656.5L1690.9 661L1693.8 667.1L1694.7 673.2L1691.3 677.8L1689.8 680.9L1686.3 683.3L1685.9 679.3L1682.5 677.8L1679.8 673.2L1676.3 671.1L1675 668.6L1674.2 671.7L1673.6 676.3L1673.6 681.5L1676 684.6L1677.9 689.5L1680.9 691.6L1683.3 696.3L1683.9 702.5L1685.6 705.9L1684 706.2L1679.5 701.8L1677.2 697.2L1676.5 691.6L1673.3 686.1L1671.6 683.9L1671.5 677.8L1671.4 671.7L1669.3 667.1L1668.1 662.6L1666.5 658.9L1663.1 661.4L1660.5 661L1660.1 655L1657.6 650.5L1653.6 646.1L1652 641.6L1649.2 641.6L1646.3 643.7L1642.3 645.2L1641.9 649L1638.9 650.5L1636.2 655L1634.1 658.6L1630.2 662.6L1630.6 668.6L1630.3 674.7L1629.5 678.4L1629 681.8L1627.3 682.7L1625.9 685.2L1623.6 682.4L1622.2 677.8L1619.5 671.7L1617.9 665.6L1615.1 659.5L1613.3 653.5L1611.9 647.5L1611.1 644.6L1610.2 646.1L1607.1 646.7L1603.3 642.2L1605.1 640.1L1601.7 638.7L1599.3 637.2L1597.1 633.7L1592.4 633.7L1587.2 634L1582.8 633.4L1577.4 632.2L1575.4 628.5L1571.7 629.3L1568.5 629.3L1564.9 626.2L1561.3 622.7L1559.8 619.3L1557.3 619L1555.8 620.5L1556.6 623.3L1558.7 627L1561.1 629.3L1562.2 632.8L1563.9 635.2L1564.8 632L1565.1 635.7L1567.3 636.6L1570.5 636.6L1573.2 632.8L1574.6 630.8L1575.7 635.7L1578.1 637.8L1580.8 638.7L1583.5 641.6L1581.7 647L1580.3 652L1577.8 655L1574.8 658L1570.6 659.5L1566.5 663.2L1561.3 667.1L1556 669.2L1553.9 670.8L1550.6 671.1L1549.8 668.6L1548.7 664.1L1548.2 659.5L1545.3 655L1542.8 649.6L1539.7 645.2L1538.1 638.7L1534.7 634.3L1532.7 629.9L1529.5 625.6L1528.3 621.3L1527.8 625L1527.5 626.2L1525.8 624.2L1523.6 620.2L1522.6 616.2L1526.1 616.2L1527.5 613.7L1527.9 610.1L1528.9 605.9L1528.6 602.4L1526.9 601.6L1524.6 602.4L1521.6 602.9L1517.7 601L1515.4 602.4L1512.7 601.3L1510.7 600L1508.8 596.5L1509.1 593.8L1507.7 592.5L1509.2 591.5L1513.2 591.5L1513.2 589.6L1511 589.6L1508.2 591.2L1507.1 590.4L1504.1 590.4L1502.3 592L1500.9 591.5L1500.9 594.4L1502.4 597.3L1503.8 597.8L1502.3 598.4L1502.2 601.9L1501 601.9L1499.5 601L1498.3 598.4L1498.1 596.5L1496.1 593.8L1494.3 591.2L1494 587.8L1491.9 586L1488.8 584.2L1485.7 582.2L1483.5 579.2L1481.9 578.2L1479.3 579L1479.8 581.7L1482.1 583.5L1483.4 586.5L1487.1 587.6L1487.2 588.9L1491.3 590.9L1492.4 592.3L1489.3 591.2L1488.6 593.3L1489.8 595.2L1488.7 597L1487.1 598.1L1487.6 595.4L1486.6 592.5L1484.3 590.9L1481.2 589.1L1477.1 586.3L1475.6 583.5L1472.6 581.2L1470.1 582.7L1467.3 584.5L1464.3 583.7L1461.8 584.2L1461.8 587.3L1459.5 589.1L1457.1 590.4L1454.9 593.8L1455.9 595.7L1454.1 598.6L1451.4 601L1446.4 601.3L1444.1 603.2M1512.9 589.4L1516.9 589.4L1521.6 587.3L1524.5 587.3L1527.8 589.1L1531.8 589.9L1537.6 588.6L1536.9 585.3L1531.5 582.2L1528.2 580.2L1526.4 579L1528.6 577.2L1530 574.3L1526.3 575.3L1523.2 576.7L1524.1 579L1521.6 581.2L1520.1 579.2L1518 576.7L1515 576L1513.4 578.5L1512.8 579.7L1511.4 582.2L1510.4 584.8L1510.3 587.3L1512.9 589.4M1555.5 599.2L1558.9 601L1564.5 600.8L1563.1 595.2L1561.2 592.5L1559.9 588.6L1562 587.3L1558.5 585.3L1555.5 582.2L1554.3 579.7L1557.2 576L1554 574.8L1550.5 576L1547.9 577.2L1546.5 579.7L1548.3 583.5L1551.1 587.3L1553.9 591.2L1553.6 594.4L1554.2 597.8L1555.5 599.2M1522.6 616.2L1519.8 615.7L1515.8 617.3L1511.6 615.9L1507.3 615.1L1503.5 613.4L1499.9 611.7L1496.9 614.3L1497.1 617.6L1494.1 619L1488.7 616.2L1486.5 613.1L1481.3 611.7L1478.1 610.1L1476.4 607.9L1477.1 604.6L1477.8 600.5L1475.7 599.7L1471.7 600.8L1465.6 601L1461.6 600.8L1455.5 603.5L1451.4 605.7L1444.7 603.8L1443.3 604.6L1441.5 608.7L1438 610.6L1435.4 615.7L1435.3 619.9L1431.3 624.7L1428.1 626.5L1424.8 630.5L1421.4 637.8L1419 645.2L1420.3 650.5L1419.7 659.5L1417.4 665L1419 670.2L1419 672.3L1422 676.3L1425.4 680.9L1426.5 683.9L1430.2 688.9L1434.6 693.8L1439 696.6L1444.5 694.4L1448.9 694.4L1451.5 695.3L1456.6 692.6L1461 690.7L1465 690.7L1467.6 695.7L1469.8 696.9L1474.2 696L1476.5 698.4L1477.1 702.5L1476.5 707.1L1475.4 712.4L1477.1 717.9L1479.8 722.6L1482 726.3L1482.6 729.4L1484.7 736.5L1485.8 743.5L1485 748.7L1482.3 753.3L1481.1 760.9L1481 765.4L1483.9 772.9L1486.3 778.8L1486.9 786.1L1488.8 793.4L1490.7 797.7L1492.4 804.7L1493.3 808.4L1493.2 812.3L1496.4 813.9L1501.7 811.7L1507.9 811.7L1511 810.9L1514.3 808.1L1519 802.8L1521 799.1L1524.1 794.8L1525.2 789L1525.5 787.6L1530.7 784.1L1531.6 777.3L1530.5 771.4L1534.4 766.9L1537.9 763L1542.5 759.4L1544.2 754.8L1544.1 748.7L1543.9 742.6L1542.3 736.5L1541.8 730.3L1541 727.2L1542.6 723.5L1544.9 717.9L1547.1 715.2L1550.4 708.7L1554.8 704L1559.2 697.8L1562.4 691.6L1565.4 683.9L1567.4 677.8L1567.6 673.8L1562.8 675L1557.4 676.9L1553.1 678.1L1550.3 674.7L1550 671.7L1547.2 667.7L1543.7 664.1L1541 662L1538.8 655L1536 650.5L1535.4 646.1L1533.6 641.6L1531.1 637.2L1528.6 631.4L1526.5 627L1523.6 620.2M1563.4 747.5L1564.9 757.8L1563.1 762.4L1559.9 772.9L1555.8 785.5L1551.4 787.6L1549 786.1L1548.6 778.8L1550.9 772L1551 762.4L1555.5 758.7L1559.7 754.8L1563.4 747.5M1445.2 567.4L1449 566.9L1453.6 566L1457.9 564.8L1457 564.1L1458.6 561.6L1456 560.7L1455.5 559.1L1453.1 557.2L1452.5 554.8L1451 554.1L1452 551L1448.5 550.5L1449.9 548.7L1446.8 548.7L1445.3 551L1445.7 553.5L1446.8 556.3L1449.5 556.5L1449.7 559.6L1447.3 560L1447.8 561.8L1445.9 563.4L1449 564.3L1447.1 565.3L1445.2 567.4M1444.1 562.5L1444.6 559.6L1445.2 556.9L1442 555.6L1440.1 557.4L1437.3 558.5L1438.1 560.7L1436.5 563L1437.9 564.1L1441.7 563L1444.1 562.5M1480.7 597.8L1486.7 597.3L1486.3 601.3L1480.7 598.6L1480.7 597.8M1471.8 589.9L1474.7 589.9L1474.7 594.6L1472.5 595.2L1471.8 589.9M1472.4 586L1474.1 584.8L1474.3 588.6L1472.7 588.1L1472.4 586M1503.6 604.6L1509.2 605.4L1504.6 605.9L1503.6 604.6M1521.5 605.9L1525.8 604.3L1524.7 606.8L1521.5 605.9M1533.8 526.1L1536.9 527.3L1543.8 527.3L1538.8 524.7L1539.3 522.7L1541.9 520.9L1549.1 519.7L1552.9 519.4L1548.4 519.2L1540.9 519.9L1536.7 521.5L1535.4 523.4L1533.8 526.1M1470.5 517.1L1475.1 518.6L1479.5 519.5L1484.6 518.1L1481.2 516.6L1486.2 515.9L1479.6 516L1470.5 517.1M1585.2 517.1L1593.7 517.9L1600 517.6L1594.3 516.4L1583.6 515.3L1585.2 517.1M1652.7 520.9L1662.8 522.7L1665.7 521.5L1672 521.1L1664.1 520.3L1655.6 520.3L1652.7 520.9M1728.5 526.8L1729.1 526.1M1181.9 526.1L1184.7 526.5L1179.5 527.1M1731.5 527.1L1728.5 526.8M1712.9 557.8L1717.4 560.7L1722.9 566.4L1728.1 570L1729.3 575.3L1728.8 577.2L1725.2 572.3L1720.5 566.4L1712.9 557.8M1732.3 588.6L1730.2 584.2L1728.9 578.7L1733.6 581.5L1739.5 583.5L1738.4 587.3L1733.7 586L1732.3 588.6M1735.4 589.1L1739.4 593.8L1739.6 597.8L1741.9 603.2L1741.7 605.9L1739.6 606.8L1736 607L1734.3 610.1L1732.1 607.3L1727.3 608.1L1724.5 608.7L1723.9 607.3L1726.7 604.6L1732.6 604L1732.9 600.5L1735.2 599.2L1735.8 596.5L1734.6 592.5L1733.7 589.9L1735.4 589.1M1723 610.1L1726.1 610.1L1728.4 615.7L1726.6 616.5L1724.2 612.9L1723 610.1M1727.7 609L1731.4 608.1L1731.9 610.6L1730 612L1727.7 609M1713.4 633.7L1715 637.2L1714.4 643.1L1712.4 640.1L1712.3 634.9L1713.4 633.7M1690.1 651.4L1693.6 649L1694.9 650.5L1692.4 654.4L1690.1 651.4M1631.1 679.9L1634 683.9L1635.6 688.6L1632.9 691.6L1631.1 687L1631.1 679.9M1716.3 653.5L1719.7 653.5L1720.8 658L1719.8 661L1720.6 664.7L1722.7 666.5L1725.7 667.7L1726.9 671.4L1725 670.2L1723.3 667.4L1721.1 667.4L1718.7 667.7L1718.6 665.3L1716.8 664.1L1716 660.4L1716.5 657.1L1716.3 653.5M1718.5 668.9L1721 669.9L1720.7 672.3L1719.1 670.8L1718.5 668.9M1727.4 671.7L1729.6 672L1730.9 675.7L1729.5 676.3L1727.9 674.4L1727.4 671.7M1728 675L1729.4 676L1730.2 678.7L1729.1 678.7L1728 675M1724.1 676.9L1726.2 676.6L1726.1 681.8L1724.4 680.3L1724.1 676.9M1722.6 673.8L1725.1 674.7L1724.4 677.8L1722.8 677.5L1722.6 673.8M1724.1 688.6L1724.5 685.8L1726.8 683.6L1728.8 684.2L1730.6 680.3L1733.2 683.9L1733.9 687.9L1733 690.7L1732.1 692.6L1730.9 692L1729.1 690.4L1727.5 686.7L1725.1 687.6L1724.1 688.6M1713.1 683.9L1717.3 675.3L1716.6 678.4L1713.1 683.9M1665.5 692.9L1670.4 694.1L1677.3 702.5L1684.5 710.2L1686.2 716.4L1689.4 720.1L1688.6 728.1L1685.8 728.1L1681.2 722.6L1677.4 714.8L1673.4 704.9L1669.5 699.4L1665.5 692.9M1687.1 731.2L1690.6 728.8L1694.4 730.9L1699.5 730L1703.6 731.5L1707.4 734.3L1706.9 737.1L1699.6 735.8L1694.2 734.3L1689.9 733.1L1687.1 731.2M1696.1 704.6L1697.7 704L1701.2 702.5L1704.9 700.3L1708 695.3L1710.9 689.2L1713.7 688.6L1717.8 693.8L1715.8 696.9L1715.5 702.5L1718.2 707.1L1714.9 710.2L1712.7 716.4L1711.4 722L1708.1 722.6L1704.9 720.1L1701.6 719.5L1698.8 714.8L1696.2 710.2L1696.1 704.6M1720 708.7L1722.2 706.2L1727.1 707.1L1731.5 705.2L1729.3 709L1722.7 709L1720.9 713L1723.8 713L1727.7 713.3L1724.8 716.4L1725.8 721L1726.6 727.2L1724.5 725.1L1722.5 719.5L1721.1 727.2L1718.9 727.2L1719.2 721L1717.7 718.6L1720 708.7M1744.7 712.7L1748.1 711.4L1751.4 712.7L1753.4 720.4L1759.1 714.8L1766.7 718.2L1774.3 722L1777.3 726.6L1781.1 729.4L1779.2 731.2L1782 736.5L1785.7 742L1780.2 741.7L1776.5 736.5L1772.3 734L1769.7 738L1765.3 738.3L1761.2 734.9L1758.9 735.8L1760.8 731.8L1759.3 726.6L1754.3 723.8L1748.9 722.6L1748.6 718.9L1751.3 717.9L1746.9 716.4L1744.7 712.7M1726.4 742L1730.2 738L1735.2 736.2L1731 740.5L1726.4 742M1710.5 736.5L1713.9 735.8L1717.1 736.2L1721.5 736.2L1726 735.8L1721.4 737.7L1715.9 737.4L1710.4 737.4L1710.5 736.5M1737 704.6L1738.1 708.7L1739.2 711.7L1737.7 707.7L1737 704.6M1738 719.5L1743.5 719.5L1742.3 721.3L1737.9 720.7L1738 719.5M1782.3 727.8L1787.2 727.2L1791.2 723.2L1789.4 727.2L1785.9 729.7L1782.3 727.8M1788.3 718.6L1792 721L1792.9 724.4L1790.9 721.3L1788.3 718.6M1796.5 727.2L1798.6 730.3L1797.5 730.9L1796.5 727.2M1800.1 730.9L1802.1 733.1L1801 733.4L1800.1 730.9M1804.3 733.7L1806.8 736.2L1805.7 736.5L1804.3 733.7M1806.3 738.9L1808.5 740.5L1806.7 740.8L1806.3 738.9M1808.8 736.2L1809.9 739.5L1809.1 738.9L1808.8 736.2M1809.8 742L1811.3 743.5L1810.3 743.2L1809.8 742M1818.3 756.3L1819.2 758.1L1818.3 758.4L1818.3 756.3M1819.2 759.4L1819.9 760.9L1819 760.9L1819.2 759.4M1819.9 764.2L1820.4 764.8L1819.8 764.8L1819.9 764.2M1808.7 772L1812.3 777.3L1813 778.5L1809.8 775.2L1808.7 772M1840.1 763.9L1842.4 764.5L1841.3 766L1839.3 765.4L1840.1 763.9M1843.8 760.9L1846.3 760.3L1844.6 761.8L1843.8 760.9M1698.8 777.3L1700 776.7L1704.9 773.7L1710.6 772.3L1716.5 769.9L1720.2 765.4L1721.2 762.4L1724.9 760.3L1729.1 754.8L1732.6 753.3L1735.4 756L1737.6 756L1739.6 750.2L1741.6 748.4L1745.5 747.2L1746.8 745.7L1752.1 747.2L1754.8 747.8L1752.5 751.8L1750.6 756.3L1754.4 759.4L1757.8 763.9L1760.6 763.9L1763.7 756.3L1765.4 748.7L1767.9 743.5L1769.2 749.6L1769.1 754.2L1771.9 756.3L1771.9 763.9L1771.5 768.1L1774.4 771.4L1775.9 777.3L1777.3 781.7L1779.7 785.5L1779.4 790.5L1777.7 796.2L1773.6 803.3L1769.2 808.4L1765.1 812.5L1761.1 817.2L1758.2 821.2L1753.8 822.3L1748.7 825.2L1746.9 823.1L1743.4 824.7L1739.4 822.8L1738.3 819.9L1739.1 816.4L1736.6 816.4L1739.2 813.1L1736.7 815L1738.4 810.3L1740.1 808.4L1733.9 813.6L1732.4 813.6L1732.5 808.4L1728.9 806.1L1723.1 805L1716.1 807L1711.2 808.9L1709.2 811.4L1702 811.4L1696.7 814.5L1692.6 812.8L1691.9 810.9L1695.1 806.1L1695.6 800.5L1695.7 794.8L1695.2 789L1697.6 784.7L1698.8 777.3M1742.9 829.7L1745.8 830.8L1749.7 830.2L1747.2 833.9L1742.8 836.9L1740.9 836.9L1741.5 833.9L1742.9 829.7M1809.5 812.8L1811.3 815.3L1811.5 818.8L1810.8 821.5L1814.8 821.5L1813.8 823.9L1809.5 826.3L1804.9 830.5L1801.3 831.5L1804.4 827.9L1803.3 826L1807.4 822.6L1809.3 818.5L1809.1 814.5L1809.5 812.8M1798.7 829.5L1799.9 831.8L1794.6 835.6L1788.7 838.9L1784.4 842.7L1779.5 844.7L1777.4 843.7L1776.3 842.7L1783.5 838.2L1790.1 835.1L1796.5 830.5L1798.7 829.5M1585.3 850.4L1588.3 850.9L1586.5 852.1L1584.8 851.6L1585.3 850.4M1206.7 902.5L1221.6 902.8L1233.6 902.3L1238.3 901.6L1242.7 900.7L1246.8 899.5L1252.5 898.9L1258.4 898.3L1265.2 898.1L1271 897.3L1278.6 897.4L1286.4 897.7L1294.9 898.3L1302.2 898.3L1303.5 896.4L1305.5 895.7L1313.9 896.4L1321 896.1L1328.8 896.4L1336.6 896.6L1341.9 896.1L1345.3 895L1348.4 893.6L1348.9 890.6L1348.6 888.1L1350 885.6L1351.9 883.5L1355.7 881.6L1359.5 880.8L1359.6 882.7L1356.3 883.9L1354.9 885.6L1354.2 888.1L1353 889.8L1357.9 892.1L1362.6 895L1365.8 897.7L1364.8 899.5L1356.2 900.7L1347.9 901.8L1351.8 902.5L1365.4 902.3L1379 902.1L1393.1 902.3L1405.6 902.3L1409 901.2L1415.5 900.1L1420.5 898.3L1425.8 896.8L1433.1 896L1438.7 894L1443.2 893.3L1447.8 892.8L1455.5 891.8L1463.2 892.1L1471 891.9L1478.8 891.8L1486.5 892.1L1494.2 892.1L1502.4 891L1507.4 890.1L1511.7 891L1518.3 890.4L1527.1 888.5L1535.7 887.3L1543.2 885.5L1547.2 887L1554.4 888.1L1562 888.6L1565.9 889.8L1569 891.6L1572.4 891.3L1578.8 889.4L1586.6 887.8L1597 887L1605.6 886.5L1614.9 885.3L1621.6 885.1L1628.2 886.5L1637.4 885.5L1643.2 887.3L1651.9 886.8L1660.7 886.3L1669.2 886L1675.9 885.8L1680.9 886.8L1686 887.7L1689.7 889.3L1694.9 889.9L1699.5 890.9L1702.7 892.4L1706.1 893L1710.3 893.9L1714 894.6L1708.8 896.4L1699.3 898.3L1691.6 899.5L1685.7 901.2L1685.7 902.3L1690.5 902.5L1697 902.6L1703.9 902.6M1279.7 520.3L1285 520.5L1292.2 519.2L1289 518.7L1279.7 520.3M1305.4 521.1L1314 521.1L1316.5 519.7L1311.2 519.5L1305.4 521.1M1315.2 521.7L1319.4 521.8L1320.7 521L1316.6 520.9L1315.2 521.7M1299.1 530.2L1305.3 530.3L1306.5 528.6L1301.8 528.6L1299.1 530.2M1309.9 518.1L1317.8 518.3L1319 517.1L1312.6 516.9L1309.9 518.1M1335.6 523.4L1340.4 524.3L1342.3 523.4L1337.7 522.8L1335.6 523.4M1315.5 541.4L1319.1 541.1L1319 540.1L1316.2 540.5L1315.5 541.4M1334.5 568.1L1338.7 569.5L1339.2 569.7L1335.5 567.8L1334.5 568.1M1519.4 515.8L1529.4 516.2L1535.1 515.6L1530.1 514.9L1521.5 515.3L1519.4 515.8M1531.5 529.8L1534.1 530.2L1532.6 529.1L1531.3 529.4L1531.5 529.8"/>
<path fill="none" stroke="#b0b0b0" stroke-width="1.5" d="M1145 874.5L1766 874.5M1079.8 800.5L1831.2 800.5M1058 710.2L1853 710.2M1079.8 619.9L1831.2 619.9M1145 545.9L1766 545.9M1323 511.5A132.5 198.7 0 0 0 1323 908.9M1389.3 511.5A66.2 198.7 0 0 0 1389.3 908.9M1521.7 511.5A66.2 198.7 0 0 1 1521.7 908.9M1588 511.5A132.5 198.7 0 0 1 1588 908.9M1455.5 511.5L1455.5 908.9"/>
</g>
<path fill="none" stroke="#000" stroke-width="1.1" d="M1256.8 511.5L1654.2 511.5A198.7 198.7 0 0 1 1654.2 908.9L1256.8 908.9A198.7 198.7 0 0 1 1256.8 511.5Z"/>
<path fill="url(#cb3)" stroke="#000" stroke-width="1" stroke-linejoin="miter" d="M1903.3 530.8L1912.8 512L1922.4 530.8L1922.4 889.6L1912.8 908.4L1903.3 889.6Z"/>
<path stroke="#000" stroke-width="1.4" fill="none" d="M1922.9 530.8h6.9M1922.9 575.7h6.9M1922.9 620.5h6.9M1922.9 665.4h6.9M1922.9 710.2h6.9M1922.9 755.1h6.9M1922.9 799.9h6.9M1922.9 844.8h6.9M1922.9 889.6h6.9"/>
<text transform="translate(1998.4 710.2) rotate(-90) scale(1.053 1)" font-size="13.89" text-anchor="middle">K per decade</text>
<text transform="translate(1455.5 499.6) scale(1.053 1)" font-size="19.44" text-anchor="middle">RO 2002−2021@24.0 km</text>
<text transform="translate(1323.02 928.9) scale(1.053 1)" font-size="13.89" text-anchor="middle">120°W</text>
<text transform="translate(1389.26 928.9) scale(1.053 1)" font-size="13.89" text-anchor="middle">60°W</text>
<text transform="translate(1455.5 928.9) scale(1.053 1)" font-size="13.89" text-anchor="middle">0°</text>
<text transform="translate(1521.74 928.9) scale(1.053 1)" font-size="13.89" text-anchor="middle">60°E</text>
<text transform="translate(1587.98 928.9) scale(1.053 1)" font-size="13.89" text-anchor="middle">120°E</text>
<text transform="translate(1663.05 928.9) scale(1.053 1)" font-size="13.89" text-anchor="middle">180°</text>
<text transform="translate(1776.58 550.17) scale(1.053 1)" font-size="13.89" text-anchor="start">60°N</text>
<text transform="translate(1134.42 550.17) scale(1.053 1)" font-size="13.89" text-anchor="end">60°N</text>
<text transform="translate(1841.85 624.19) scale(1.053 1)" font-size="13.89" text-anchor="start">30°N</text>
<text transform="translate(1841.85 804.81) scale(1.053 1)" font-size="13.89" text-anchor="start">30°S</text>
<text transform="translate(1776.58 878.83) scale(1.053 1)" font-size="13.89" text-anchor="start">60°S</text>
<text transform="translate(1134.42 878.83) scale(1.053 1)" font-size="13.89" text-anchor="end">60°S</text>
<text transform="translate(1863.35 714.1) scale(1.053 1)" font-size="13.89" text-anchor="start">0°</text>
<text transform="translate(1853.85 687.6) scale(1.053 1)" font-size="13.89" text-anchor="start">180°</text>
<text transform="translate(1057.85 740.9) scale(1.053 1)" font-size="13.89" text-anchor="end">180°</text>
<text transform="translate(1936.2 535.9) scale(1.053 1)" font-size="13.89" text-anchor="start">1.00</text>
<text transform="translate(1936.2 580.75) scale(1.053 1)" font-size="13.89" text-anchor="start">0.75</text>
<text transform="translate(1936.2 625.6) scale(1.053 1)" font-size="13.89" text-anchor="start">0.50</text>
<text transform="translate(1936.2 670.45) scale(1.053 1)" font-size="13.89" text-anchor="start">0.25</text>
<text transform="translate(1936.2 715.3) scale(1.053 1)" font-size="13.89" text-anchor="start">0.00</text>
<text transform="translate(1936.2 760.15) scale(1.053 1)" font-size="13.89" text-anchor="start">−0.25</text>
<text transform="translate(1936.2 805) scale(1.053 1)" font-size="13.89" text-anchor="start">−0.50</text>
<text transform="translate(1936.2 849.85) scale(1.053 1)" font-size="13.89" text-anchor="start">−0.75</text>
<text transform="translate(1936.2 894.7) scale(1.053 1)" font-size="13.89" text-anchor="start">−1.00</text>
</svg></body></html>
